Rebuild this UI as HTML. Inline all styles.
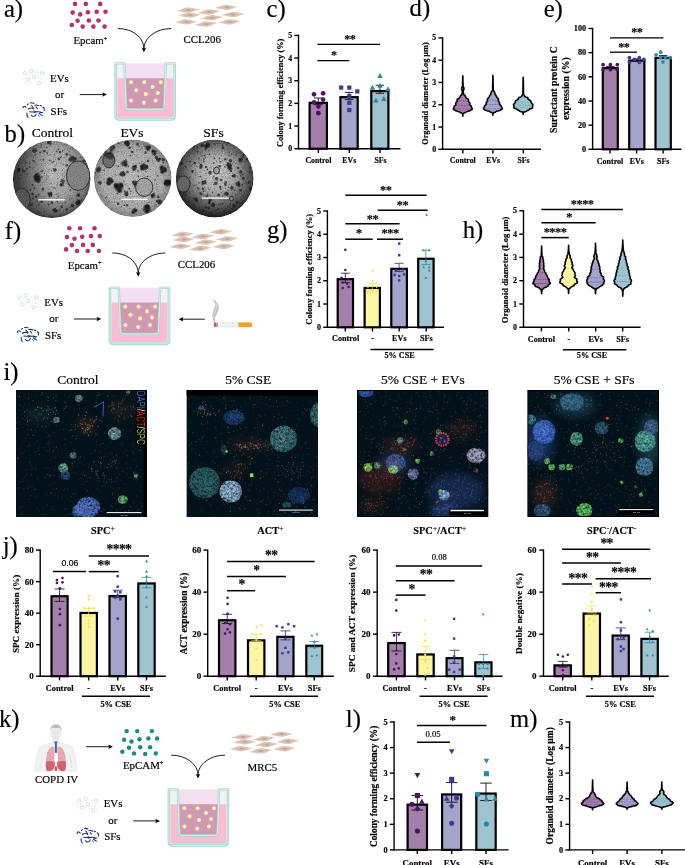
<!DOCTYPE html>
<html lang="en"><head><meta charset="utf-8"><title>Figure</title>
<style>html,body{margin:0;padding:0;background:#fff}svg{display:block}</style></head><body>
<svg width="685" height="865" viewBox="0 0 685 865">
<rect width="685" height="865" fill="#fff"/>
<text x="266.6" y="17.1" font-size="24.6" font-weight="normal" text-anchor="start" font-family='"Liberation Serif", "Times New Roman", serif' fill="#000"  stroke="#000" stroke-width="0.18">c)</text>
<line x1="298.5" y1="34.7" x2="298.5" y2="149.4" stroke="#000" stroke-width="1.4" />
<line x1="297.8" y1="148.7" x2="400.5" y2="148.7" stroke="#000" stroke-width="1.4" />
<line x1="294.3" y1="148.7" x2="298.5" y2="148.7" stroke="#000" stroke-width="1.4" />
<text x="292.1" y="151.27" font-size="7.8" font-weight="bold" text-anchor="end" font-family='"Liberation Serif", "Times New Roman", serif' fill="#000"  stroke="#000" stroke-width="0.16">0</text>
<line x1="294.3" y1="126.04" x2="298.5" y2="126.04" stroke="#000" stroke-width="1.4" />
<text x="292.1" y="128.61" font-size="7.8" font-weight="bold" text-anchor="end" font-family='"Liberation Serif", "Times New Roman", serif' fill="#000"  stroke="#000" stroke-width="0.16">1</text>
<line x1="294.3" y1="103.38" x2="298.5" y2="103.38" stroke="#000" stroke-width="1.4" />
<text x="292.1" y="105.95" font-size="7.8" font-weight="bold" text-anchor="end" font-family='"Liberation Serif", "Times New Roman", serif' fill="#000"  stroke="#000" stroke-width="0.16">2</text>
<line x1="294.3" y1="80.72" x2="298.5" y2="80.72" stroke="#000" stroke-width="1.4" />
<text x="292.1" y="83.29" font-size="7.8" font-weight="bold" text-anchor="end" font-family='"Liberation Serif", "Times New Roman", serif' fill="#000"  stroke="#000" stroke-width="0.16">3</text>
<line x1="294.3" y1="58.06" x2="298.5" y2="58.06" stroke="#000" stroke-width="1.4" />
<text x="292.1" y="60.63" font-size="7.8" font-weight="bold" text-anchor="end" font-family='"Liberation Serif", "Times New Roman", serif' fill="#000"  stroke="#000" stroke-width="0.16">4</text>
<line x1="294.3" y1="35.4" x2="298.5" y2="35.4" stroke="#000" stroke-width="1.4" />
<text x="292.1" y="37.97" font-size="7.8" font-weight="bold" text-anchor="end" font-family='"Liberation Serif", "Times New Roman", serif' fill="#000"  stroke="#000" stroke-width="0.16">5</text>
<line x1="318.4" y1="148.7" x2="318.4" y2="152.9" stroke="#000" stroke-width="1.4" />
<line x1="349.3" y1="148.7" x2="349.3" y2="152.9" stroke="#000" stroke-width="1.4" />
<line x1="380" y1="148.7" x2="380" y2="152.9" stroke="#000" stroke-width="1.4" />
<rect x="309.6" y="102.85" width="17.3" height="45.85" fill="#a37fab" stroke="#000" stroke-width="2.2"/>
<line x1="318.25" y1="98" x2="318.25" y2="104.7" stroke="#000" stroke-width="0.85" />
<line x1="313.95" y1="98" x2="322.55" y2="98" stroke="#000" stroke-width="0.85" />
<line x1="313.95" y1="104.7" x2="322.55" y2="104.7" stroke="#000" stroke-width="0.85" />
<circle cx="314" cy="94.3" r="2.35" fill="#4e1266"/>
<circle cx="323.1" cy="93.3" r="2.35" fill="#4e1266"/>
<circle cx="314" cy="102.4" r="2.35" fill="#4e1266"/>
<circle cx="323.1" cy="99.6" r="2.35" fill="#4e1266"/>
<circle cx="318.4" cy="106.6" r="2.35" fill="#4e1266"/>
<circle cx="318.4" cy="113.2" r="2.35" fill="#4e1266"/>
<rect x="340.4" y="97.15" width="17.3" height="51.55" fill="#a4a3ca" stroke="#000" stroke-width="2.2"/>
<line x1="349.05" y1="92.4" x2="349.05" y2="99.4" stroke="#000" stroke-width="0.85" />
<line x1="344.75" y1="92.4" x2="353.35" y2="92.4" stroke="#000" stroke-width="0.85" />
<line x1="344.75" y1="99.4" x2="353.35" y2="99.4" stroke="#000" stroke-width="0.85" />
<rect x="339.1" y="85.5" width="4.2" height="4.2" fill="#3a3a8e"/>
<rect x="347.2" y="85.5" width="4.2" height="4.2" fill="#3a3a8e"/>
<rect x="355.2" y="89.3" width="4.2" height="4.2" fill="#3a3a8e"/>
<rect x="347.2" y="94.1" width="4.2" height="4.2" fill="#3a3a8e"/>
<rect x="347.2" y="100.7" width="4.2" height="4.2" fill="#3a3a8e"/>
<rect x="347.2" y="107.9" width="4.2" height="4.2" fill="#3a3a8e"/>
<rect x="371.3" y="91.05" width="17.1" height="57.65" fill="#9fc3cf" stroke="#000" stroke-width="2.2"/>
<line x1="379.85" y1="85.3" x2="379.85" y2="93.3" stroke="#000" stroke-width="0.85" />
<line x1="375.55" y1="85.3" x2="384.15" y2="85.3" stroke="#000" stroke-width="0.85" />
<line x1="375.55" y1="93.3" x2="384.15" y2="93.3" stroke="#000" stroke-width="0.85" />
<path d="M380 73.03L382.75 78.03L377.25 78.03Z" fill="#2f86a0"/>
<path d="M372.5 84.72L375.25 89.72L369.75 89.72Z" fill="#2f86a0"/>
<path d="M380 82.83L382.75 87.83L377.25 87.83Z" fill="#2f86a0"/>
<path d="M388 86.22L390.75 91.22L385.25 91.22Z" fill="#2f86a0"/>
<path d="M375.9 97.62L378.65 102.62L373.15 102.62Z" fill="#2f86a0"/>
<path d="M383.9 96.12L386.65 101.12L381.15 101.12Z" fill="#2f86a0"/>
<line x1="317.4" y1="44.4" x2="380" y2="44.4" stroke="#000" stroke-width="1.3" />
<text x="349.75" y="43.26" font-size="12.2" font-weight="bold" text-anchor="middle" font-family='"Liberation Serif", "Times New Roman", serif' fill="#000" letter-spacing="-0.5" stroke="#000" stroke-width="0.12">**</text>
<line x1="317.4" y1="60.7" x2="349.3" y2="60.7" stroke="#000" stroke-width="1.3" />
<text x="333.75" y="59.26" font-size="12.2" font-weight="bold" text-anchor="middle" font-family='"Liberation Serif", "Times New Roman", serif' fill="#000" letter-spacing="-0.5" stroke="#000" stroke-width="0.12">*</text>
<text x="318.4" y="162.6" font-size="7.8" font-weight="bold" text-anchor="middle" font-family='"Liberation Serif", "Times New Roman", serif' fill="#000"  stroke="#000" stroke-width="0.16">Control</text>
<text x="349.3" y="162.6" font-size="7.8" font-weight="bold" text-anchor="middle" font-family='"Liberation Serif", "Times New Roman", serif' fill="#000"  stroke="#000" stroke-width="0.16">EVs</text>
<text x="380.5" y="162.6" font-size="7.8" font-weight="bold" text-anchor="middle" font-family='"Liberation Serif", "Times New Roman", serif' fill="#000"  stroke="#000" stroke-width="0.16">SFs</text>
<text transform="translate(282.9 92.8) rotate(-90)" font-size="8.36" font-weight="bold" text-anchor="middle" font-family='"Liberation Serif", "Times New Roman", serif' fill="#000" stroke="#000" stroke-width="0.16">Colony forming efficiency (%)</text>
<text x="409.6" y="16.4" font-size="24.6" font-weight="normal" text-anchor="start" font-family='"Liberation Serif", "Times New Roman", serif' fill="#000"  stroke="#000" stroke-width="0.18">d)</text>
<line x1="442.6" y1="37.2" x2="442.6" y2="150" stroke="#000" stroke-width="1.4" />
<line x1="441.9" y1="149.3" x2="541" y2="149.3" stroke="#000" stroke-width="1.4" />
<line x1="438.4" y1="149.3" x2="442.6" y2="149.3" stroke="#000" stroke-width="1.4" />
<text x="436.2" y="151.87" font-size="7.8" font-weight="bold" text-anchor="end" font-family='"Liberation Serif", "Times New Roman", serif' fill="#000"  stroke="#000" stroke-width="0.16">0</text>
<line x1="438.4" y1="127.02" x2="442.6" y2="127.02" stroke="#000" stroke-width="1.4" />
<text x="436.2" y="129.59" font-size="7.8" font-weight="bold" text-anchor="end" font-family='"Liberation Serif", "Times New Roman", serif' fill="#000"  stroke="#000" stroke-width="0.16">1</text>
<line x1="438.4" y1="104.74" x2="442.6" y2="104.74" stroke="#000" stroke-width="1.4" />
<text x="436.2" y="107.31" font-size="7.8" font-weight="bold" text-anchor="end" font-family='"Liberation Serif", "Times New Roman", serif' fill="#000"  stroke="#000" stroke-width="0.16">2</text>
<line x1="438.4" y1="82.46" x2="442.6" y2="82.46" stroke="#000" stroke-width="1.4" />
<text x="436.2" y="85.03" font-size="7.8" font-weight="bold" text-anchor="end" font-family='"Liberation Serif", "Times New Roman", serif' fill="#000"  stroke="#000" stroke-width="0.16">3</text>
<line x1="438.4" y1="60.18" x2="442.6" y2="60.18" stroke="#000" stroke-width="1.4" />
<text x="436.2" y="62.75" font-size="7.8" font-weight="bold" text-anchor="end" font-family='"Liberation Serif", "Times New Roman", serif' fill="#000"  stroke="#000" stroke-width="0.16">4</text>
<line x1="438.4" y1="37.9" x2="442.6" y2="37.9" stroke="#000" stroke-width="1.4" />
<text x="436.2" y="40.47" font-size="7.8" font-weight="bold" text-anchor="end" font-family='"Liberation Serif", "Times New Roman", serif' fill="#000"  stroke="#000" stroke-width="0.16">5</text>
<line x1="462.8" y1="149.3" x2="462.8" y2="153.5" stroke="#000" stroke-width="1.4" />
<line x1="492.9" y1="149.3" x2="492.9" y2="153.5" stroke="#000" stroke-width="1.4" />
<line x1="523.3" y1="149.3" x2="523.3" y2="153.5" stroke="#000" stroke-width="1.4" />
<path d="M462.8 75.9L462.82 76.5L462.87 77.1L462.89 77.7L462.89 78.3L462.9 78.9L462.92 79.5L462.93 80.1L462.93 80.7L462.93 81.3L462.93 81.9L462.96 82.5L462.99 83.1L463 83.7L462.98 84.3L462.97 84.9L462.99 85.5L463.06 86.1L463.36 86.7L463.7 87.3L463.89 87.9L463.96 88.5L463.96 89.1L463.79 89.7L463.5 90.3L463.29 90.9L463.25 91.5L463.31 92.1L463.41 92.7L463.46 93.3L463.52 93.9L463.83 94.5L464.32 95.1L464.99 95.7L465.45 96.3L465.68 96.9L465.97 97.5L466.4 98.1L467.33 98.7L468.28 99.3L468.58 99.9L468.46 100.5L468.32 101.1L468.6 101.7L469.29 102.3L469.81 102.9L469.88 103.5L469.75 104.1L469.84 104.7L470.42 105.3L471.13 105.9L471.43 106.5L471.49 107.1L471.52 107.7L471.86 108.3L472.38 108.9L472.07 109.5L470.91 110.1L469.87 110.7L468.1 111.3L465.92 111.9L465.4 112.5L463.98 113.1L463.11 113.7L462.98 114.3L462.89 114.9L462.87 115.5L462.81 116.1L462.8 116.3L462.79 116.1L462.73 115.5L462.71 114.9L462.62 114.3L462.49 113.7L461.62 113.1L460.2 112.5L459.68 111.9L457.5 111.3L455.73 110.7L454.69 110.1L453.53 109.5L453.22 108.9L453.74 108.3L454.08 107.7L454.11 107.1L454.17 106.5L454.47 105.9L455.18 105.3L455.76 104.7L455.85 104.1L455.72 103.5L455.79 102.9L456.31 102.3L457 101.7L457.28 101.1L457.14 100.5L457.02 99.9L457.32 99.3L458.27 98.7L459.2 98.1L459.63 97.5L459.92 96.9L460.15 96.3L460.61 95.7L461.28 95.1L461.77 94.5L462.08 93.9L462.14 93.3L462.19 92.7L462.29 92.1L462.35 91.5L462.31 90.9L462.1 90.3L461.81 89.7L461.64 89.1L461.64 88.5L461.71 87.9L461.9 87.3L462.24 86.7L462.54 86.1L462.61 85.5L462.63 84.9L462.62 84.3L462.6 83.7L462.61 83.1L462.64 82.5L462.67 81.9L462.67 81.3L462.67 80.7L462.67 80.1L462.68 79.5L462.7 78.9L462.71 78.3L462.71 77.7L462.73 77.1L462.78 76.5Z" fill="#a37fab" stroke="#000" stroke-width="1.6" stroke-linejoin="round"/>
<line x1="457.8" y1="100.8" x2="467.8" y2="100.8" stroke="#4e1266" stroke-width="0.5" stroke-dasharray="1 0.8" opacity="0.8"/>
<line x1="455.6" y1="105.4" x2="470" y2="105.4" stroke="#4e1266" stroke-width="0.5" stroke-dasharray="1.8 0.9" opacity="0.8"/>
<line x1="454" y1="108.9" x2="471.6" y2="108.9" stroke="#4e1266" stroke-width="0.5" stroke-dasharray="1 0.8" opacity="0.8"/>
<path d="M492.9 75.3L492.92 75.9L492.96 76.5L492.99 77.1L492.99 77.7L493 78.3L493.01 78.9L493.03 79.5L493.03 80.1L493.02 80.7L493.03 81.3L493.06 81.9L493.09 82.5L493.1 83.1L493.1 83.7L493.09 84.3L493.12 84.9L493.16 85.5L493.19 86.1L493.18 86.7L493.16 87.3L493.16 87.9L493.19 88.5L493.23 89.1L493.23 89.7L493.36 90.3L493.68 90.9L494.13 91.5L494.57 92.1L494.74 92.7L494.85 93.3L494.93 93.9L495.2 94.5L495.72 95.1L496.11 95.7L496.43 96.3L496.67 96.9L497.01 97.5L497.62 98.1L498.18 98.7L498.55 99.3L498.48 99.9L498.25 100.5L498.35 101.1L498.81 101.7L499.4 102.3L499.64 102.9L499.53 103.5L499.5 104.1L499.85 104.7L500.49 105.3L501.14 105.9L501.43 106.5L501.55 107.1L501.9 107.7L502.36 108.3L502.25 108.9L501.49 109.5L500.67 110.1L498.84 110.7L496.38 111.3L495.61 111.9L494.19 112.5L493.21 113.1L493.06 113.7L492.99 114.3L492.93 114.9L492.9 115.3L492.87 114.9L492.81 114.3L492.74 113.7L492.59 113.1L491.61 112.5L490.19 111.9L489.42 111.3L486.96 110.7L485.13 110.1L484.31 109.5L483.55 108.9L483.44 108.3L483.9 107.7L484.25 107.1L484.37 106.5L484.66 105.9L485.31 105.3L485.95 104.7L486.3 104.1L486.27 103.5L486.16 102.9L486.4 102.3L486.99 101.7L487.45 101.1L487.55 100.5L487.32 99.9L487.25 99.3L487.62 98.7L488.18 98.1L488.79 97.5L489.13 96.9L489.37 96.3L489.69 95.7L490.08 95.1L490.6 94.5L490.87 93.9L490.95 93.3L491.06 92.7L491.23 92.1L491.67 91.5L492.12 90.9L492.44 90.3L492.57 89.7L492.57 89.1L492.61 88.5L492.64 87.9L492.64 87.3L492.62 86.7L492.61 86.1L492.64 85.5L492.68 84.9L492.71 84.3L492.7 83.7L492.7 83.1L492.71 82.5L492.74 81.9L492.77 81.3L492.78 80.7L492.77 80.1L492.77 79.5L492.79 78.9L492.8 78.3L492.81 77.7L492.81 77.1L492.84 76.5L492.88 75.9Z" fill="#a4a3ca" stroke="#000" stroke-width="1.6" stroke-linejoin="round"/>
<line x1="488" y1="100.2" x2="497.8" y2="100.2" stroke="#3a3a8e" stroke-width="0.5" stroke-dasharray="1 0.8" opacity="0.8"/>
<line x1="486.3" y1="104.6" x2="499.5" y2="104.6" stroke="#3a3a8e" stroke-width="0.5" stroke-dasharray="1.8 0.9" opacity="0.8"/>
<line x1="484.1" y1="108.3" x2="501.7" y2="108.3" stroke="#3a3a8e" stroke-width="0.5" stroke-dasharray="1 0.8" opacity="0.8"/>
<path d="M523.2 77.2L523.22 77.8L523.26 78.4L523.29 79L523.29 79.6L523.3 80.2L523.31 80.8L523.32 81.4L523.32 82L523.31 82.6L523.32 83.2L523.34 83.8L523.37 84.4L523.38 85L523.37 85.6L523.37 86.2L523.39 86.8L523.43 87.4L523.45 88L523.45 88.6L523.43 89.2L523.44 89.8L523.47 90.4L523.51 91L523.51 91.6L523.48 92.2L523.46 92.8L523.48 93.4L523.57 94L523.93 94.6L524.33 95.2L524.55 95.8L524.66 96.4L525.65 97L527.34 97.6L528.12 98.2L527.92 98.8L528.36 99.4L529.44 100L530.55 100.6L530.91 101.2L531 101.8L531.1 102.4L531.53 103L532.11 103.6L532.73 104.2L533.01 104.8L532.77 105.4L532.38 106L532.37 106.6L532.67 107.2L532.67 107.8L531.33 108.4L529.76 109L529.25 109.6L528.15 110.2L526.99 110.8L526.07 111.4L523.97 112L523.51 112.6L523.32 113.2L523.27 113.8L523.2 114.4L523.2 114.4L523.2 114.4L523.13 113.8L523.08 113.2L522.89 112.6L522.43 112L520.33 111.4L519.41 110.8L518.25 110.2L517.15 109.6L516.64 109L515.07 108.4L513.73 107.8L513.73 107.2L514.03 106.6L514.02 106L513.63 105.4L513.39 104.8L513.67 104.2L514.29 103.6L514.87 103L515.3 102.4L515.4 101.8L515.49 101.2L515.85 100.6L516.96 100L518.04 99.4L518.48 98.8L518.28 98.2L519.06 97.6L520.75 97L521.74 96.4L521.85 95.8L522.07 95.2L522.47 94.6L522.83 94L522.92 93.4L522.94 92.8L522.92 92.2L522.89 91.6L522.89 91L522.93 90.4L522.96 89.8L522.97 89.2L522.95 88.6L522.95 88L522.97 87.4L523.01 86.8L523.03 86.2L523.03 85.6L523.02 85L523.03 84.4L523.06 83.8L523.08 83.2L523.09 82.6L523.08 82L523.08 81.4L523.09 80.8L523.1 80.2L523.11 79.6L523.11 79L523.14 78.4L523.18 77.8Z" fill="#9fc3cf" stroke="#000" stroke-width="1.6" stroke-linejoin="round"/>
<line x1="516" y1="102.2" x2="530.4" y2="102.2" stroke="#2f86a0" stroke-width="0.5" stroke-dasharray="1 0.8" opacity="0.8"/>
<line x1="514.2" y1="105.1" x2="532.2" y2="105.1" stroke="#2f86a0" stroke-width="0.5" stroke-dasharray="1.8 0.9" opacity="0.8"/>
<line x1="514.8" y1="107.6" x2="531.6" y2="107.6" stroke="#2f86a0" stroke-width="0.5" stroke-dasharray="1 0.8" opacity="0.8"/>
<text x="462.8" y="162.6" font-size="7.8" font-weight="bold" text-anchor="middle" font-family='"Liberation Serif", "Times New Roman", serif' fill="#000"  stroke="#000" stroke-width="0.16">Control</text>
<text x="493.2" y="162.6" font-size="7.8" font-weight="bold" text-anchor="middle" font-family='"Liberation Serif", "Times New Roman", serif' fill="#000"  stroke="#000" stroke-width="0.16">EVs</text>
<text x="523.5" y="162.6" font-size="7.8" font-weight="bold" text-anchor="middle" font-family='"Liberation Serif", "Times New Roman", serif' fill="#000"  stroke="#000" stroke-width="0.16">SFs</text>
<text transform="translate(427.5 93.5) rotate(-90)" font-size="8.25" font-weight="bold" text-anchor="middle" font-family='"Liberation Serif", "Times New Roman", serif' fill="#000" stroke="#000" stroke-width="0.16">Organoid diameter (Log µm)</text>
<text x="543.7" y="17.1" font-size="24.6" font-weight="normal" text-anchor="start" font-family='"Liberation Serif", "Times New Roman", serif' fill="#000"  stroke="#000" stroke-width="0.18">e)</text>
<line x1="592.6" y1="27.8" x2="592.6" y2="150" stroke="#000" stroke-width="1.4" />
<line x1="591.9" y1="149.3" x2="681.5" y2="149.3" stroke="#000" stroke-width="1.4" />
<line x1="588.4" y1="149.3" x2="592.6" y2="149.3" stroke="#000" stroke-width="1.4" />
<text x="586.2" y="152.04" font-size="8.3" font-weight="bold" text-anchor="end" font-family='"Liberation Serif", "Times New Roman", serif' fill="#000"  stroke="#000" stroke-width="0.16">0</text>
<line x1="588.4" y1="125.14" x2="592.6" y2="125.14" stroke="#000" stroke-width="1.4" />
<text x="586.2" y="127.88" font-size="8.3" font-weight="bold" text-anchor="end" font-family='"Liberation Serif", "Times New Roman", serif' fill="#000"  stroke="#000" stroke-width="0.16">20</text>
<line x1="588.4" y1="100.98" x2="592.6" y2="100.98" stroke="#000" stroke-width="1.4" />
<text x="586.2" y="103.72" font-size="8.3" font-weight="bold" text-anchor="end" font-family='"Liberation Serif", "Times New Roman", serif' fill="#000"  stroke="#000" stroke-width="0.16">40</text>
<line x1="588.4" y1="76.82" x2="592.6" y2="76.82" stroke="#000" stroke-width="1.4" />
<text x="586.2" y="79.56" font-size="8.3" font-weight="bold" text-anchor="end" font-family='"Liberation Serif", "Times New Roman", serif' fill="#000"  stroke="#000" stroke-width="0.16">60</text>
<line x1="588.4" y1="52.66" x2="592.6" y2="52.66" stroke="#000" stroke-width="1.4" />
<text x="586.2" y="55.4" font-size="8.3" font-weight="bold" text-anchor="end" font-family='"Liberation Serif", "Times New Roman", serif' fill="#000"  stroke="#000" stroke-width="0.16">80</text>
<line x1="588.4" y1="28.5" x2="592.6" y2="28.5" stroke="#000" stroke-width="1.4" />
<text x="586.2" y="31.24" font-size="8.3" font-weight="bold" text-anchor="end" font-family='"Liberation Serif", "Times New Roman", serif' fill="#000"  stroke="#000" stroke-width="0.16">100</text>
<line x1="610" y1="149.3" x2="610" y2="153.5" stroke="#000" stroke-width="1.4" />
<line x1="636.6" y1="149.3" x2="636.6" y2="153.5" stroke="#000" stroke-width="1.4" />
<line x1="663.1" y1="149.3" x2="663.1" y2="153.5" stroke="#000" stroke-width="1.4" />
<rect x="602.8" y="68.15" width="15" height="81.15" fill="#a37fab" stroke="#000" stroke-width="2.2"/>
<line x1="610.3" y1="66.4" x2="610.3" y2="68.6" stroke="#000" stroke-width="0.85" />
<line x1="606" y1="66.4" x2="614.6" y2="66.4" stroke="#000" stroke-width="0.85" />
<line x1="606" y1="68.6" x2="614.6" y2="68.6" stroke="#000" stroke-width="0.85" />
<circle cx="603.1" cy="64.7" r="1.85" fill="#4e1266"/>
<circle cx="610.4" cy="64.7" r="1.85" fill="#4e1266"/>
<circle cx="617.3" cy="64.7" r="1.85" fill="#4e1266"/>
<circle cx="603.1" cy="69.7" r="1.85" fill="#4e1266"/>
<circle cx="610.4" cy="69.7" r="1.85" fill="#4e1266"/>
<circle cx="617.3" cy="69.7" r="1.85" fill="#4e1266"/>
<rect x="629.2" y="60.55" width="15.2" height="88.75" fill="#a4a3ca" stroke="#000" stroke-width="2.2"/>
<line x1="636.8" y1="58.8" x2="636.8" y2="61.2" stroke="#000" stroke-width="0.85" />
<line x1="632.5" y1="58.8" x2="641.1" y2="58.8" stroke="#000" stroke-width="0.85" />
<line x1="632.5" y1="61.2" x2="641.1" y2="61.2" stroke="#000" stroke-width="0.85" />
<circle cx="629.4" cy="57.5" r="1.85" fill="#3a3a8e"/>
<circle cx="639.3" cy="57.5" r="1.85" fill="#3a3a8e"/>
<circle cx="634.4" cy="59.4" r="1.85" fill="#3a3a8e"/>
<circle cx="643.9" cy="59.4" r="1.85" fill="#3a3a8e"/>
<circle cx="629.4" cy="62.3" r="1.85" fill="#3a3a8e"/>
<circle cx="639.3" cy="62.3" r="1.85" fill="#3a3a8e"/>
<rect x="655.5" y="57.95" width="15.3" height="91.35" fill="#9fc3cf" stroke="#000" stroke-width="2.2"/>
<line x1="663.15" y1="55.6" x2="663.15" y2="58.4" stroke="#000" stroke-width="0.85" />
<line x1="658.85" y1="55.6" x2="667.45" y2="55.6" stroke="#000" stroke-width="0.85" />
<line x1="658.85" y1="58.4" x2="667.45" y2="58.4" stroke="#000" stroke-width="0.85" />
<circle cx="656.1" cy="54.8" r="1.85" fill="#2f86a0"/>
<circle cx="660.7" cy="52.2" r="1.85" fill="#2f86a0"/>
<circle cx="660.7" cy="57.7" r="1.85" fill="#2f86a0"/>
<circle cx="665.6" cy="57.7" r="1.85" fill="#2f86a0"/>
<circle cx="670.3" cy="57.7" r="1.85" fill="#2f86a0"/>
<circle cx="662.9" cy="62" r="1.85" fill="#2f86a0"/>
<line x1="610" y1="37.9" x2="663.5" y2="37.9" stroke="#000" stroke-width="1.3" />
<text x="636.75" y="36.46" font-size="12.2" font-weight="bold" text-anchor="middle" font-family='"Liberation Serif", "Times New Roman", serif' fill="#000" letter-spacing="-0.5" stroke="#000" stroke-width="0.12">**</text>
<line x1="610" y1="52.2" x2="637" y2="52.2" stroke="#000" stroke-width="1.3" />
<text x="623.75" y="50.76" font-size="12.2" font-weight="bold" text-anchor="middle" font-family='"Liberation Serif", "Times New Roman", serif' fill="#000" letter-spacing="-0.5" stroke="#000" stroke-width="0.12">**</text>
<text x="610" y="164" font-size="8" font-weight="bold" text-anchor="middle" font-family='"Liberation Serif", "Times New Roman", serif' fill="#000"  stroke="#000" stroke-width="0.16">Control</text>
<text x="636.8" y="164" font-size="8" font-weight="bold" text-anchor="middle" font-family='"Liberation Serif", "Times New Roman", serif' fill="#000"  stroke="#000" stroke-width="0.16">EVs</text>
<text x="663.2" y="164" font-size="8" font-weight="bold" text-anchor="middle" font-family='"Liberation Serif", "Times New Roman", serif' fill="#000"  stroke="#000" stroke-width="0.16">SFs</text>
<text transform="translate(556.6 89.6) rotate(-90)" font-size="9.78" font-weight="bold" text-anchor="middle" font-family='"Liberation Serif", "Times New Roman", serif' fill="#000" stroke="#000" stroke-width="0.16">Surfactant protein C</text>
<text transform="translate(569.2 88.6) rotate(-90)" font-size="9.78" font-weight="bold" text-anchor="middle" font-family='"Liberation Serif", "Times New Roman", serif' fill="#000" stroke="#000" stroke-width="0.16">expression (%)</text>
<text x="267" y="238" font-size="24.6" font-weight="normal" text-anchor="start" font-family='"Liberation Serif", "Times New Roman", serif' fill="#000"  stroke="#000" stroke-width="0.18">g)</text>
<line x1="327.4" y1="210.3" x2="327.4" y2="328" stroke="#000" stroke-width="1.4" />
<line x1="326.7" y1="327.3" x2="444" y2="327.3" stroke="#000" stroke-width="1.4" />
<line x1="323.2" y1="327.3" x2="327.4" y2="327.3" stroke="#000" stroke-width="1.4" />
<text x="321" y="329.94" font-size="8" font-weight="bold" text-anchor="end" font-family='"Liberation Serif", "Times New Roman", serif' fill="#000"  stroke="#000" stroke-width="0.16">0</text>
<line x1="323.2" y1="304.04" x2="327.4" y2="304.04" stroke="#000" stroke-width="1.4" />
<text x="321" y="306.68" font-size="8" font-weight="bold" text-anchor="end" font-family='"Liberation Serif", "Times New Roman", serif' fill="#000"  stroke="#000" stroke-width="0.16">1</text>
<line x1="323.2" y1="280.78" x2="327.4" y2="280.78" stroke="#000" stroke-width="1.4" />
<text x="321" y="283.42" font-size="8" font-weight="bold" text-anchor="end" font-family='"Liberation Serif", "Times New Roman", serif' fill="#000"  stroke="#000" stroke-width="0.16">2</text>
<line x1="323.2" y1="257.52" x2="327.4" y2="257.52" stroke="#000" stroke-width="1.4" />
<text x="321" y="260.16" font-size="8" font-weight="bold" text-anchor="end" font-family='"Liberation Serif", "Times New Roman", serif' fill="#000"  stroke="#000" stroke-width="0.16">3</text>
<line x1="323.2" y1="234.26" x2="327.4" y2="234.26" stroke="#000" stroke-width="1.4" />
<text x="321" y="236.9" font-size="8" font-weight="bold" text-anchor="end" font-family='"Liberation Serif", "Times New Roman", serif' fill="#000"  stroke="#000" stroke-width="0.16">4</text>
<line x1="323.2" y1="211" x2="327.4" y2="211" stroke="#000" stroke-width="1.4" />
<text x="321" y="213.64" font-size="8" font-weight="bold" text-anchor="end" font-family='"Liberation Serif", "Times New Roman", serif' fill="#000"  stroke="#000" stroke-width="0.16">5</text>
<line x1="345.3" y1="327.3" x2="345.3" y2="331.5" stroke="#000" stroke-width="1.4" />
<line x1="372.5" y1="327.3" x2="372.5" y2="331.5" stroke="#000" stroke-width="1.4" />
<line x1="399.2" y1="327.3" x2="399.2" y2="331.5" stroke="#000" stroke-width="1.4" />
<line x1="426.3" y1="327.3" x2="426.3" y2="331.5" stroke="#000" stroke-width="1.4" />
<rect x="337.7" y="279.15" width="15.3" height="48.15" fill="#a37fab" stroke="#000" stroke-width="2.2"/>
<line x1="345.35" y1="273.2" x2="345.35" y2="282.6" stroke="#000" stroke-width="0.75" />
<line x1="340.85" y1="273.2" x2="349.85" y2="273.2" stroke="#000" stroke-width="0.75" />
<line x1="340.85" y1="282.6" x2="349.85" y2="282.6" stroke="#000" stroke-width="0.75" />
<circle cx="345.3" cy="249.7" r="1.25" fill="#4e1266"/>
<circle cx="345.3" cy="269.9" r="1.25" fill="#4e1266"/>
<circle cx="341.6" cy="277.8" r="1.25" fill="#4e1266"/>
<circle cx="348.6" cy="278.9" r="1.25" fill="#4e1266"/>
<circle cx="342.7" cy="282.6" r="1.25" fill="#4e1266"/>
<circle cx="347.1" cy="283.7" r="1.25" fill="#4e1266"/>
<circle cx="342.7" cy="288.1" r="1.25" fill="#4e1266"/>
<circle cx="348.6" cy="287" r="1.25" fill="#4e1266"/>
<rect x="364.6" y="287.95" width="15.3" height="39.35" fill="#fcf4a6" stroke="#000" stroke-width="2.2"/>
<line x1="372.25" y1="283.7" x2="372.25" y2="289.6" stroke="#f4e04a" stroke-width="0.75" />
<line x1="367.75" y1="283.7" x2="376.75" y2="283.7" stroke="#f4e04a" stroke-width="0.75" />
<line x1="367.75" y1="289.6" x2="376.75" y2="289.6" stroke="#f4e04a" stroke-width="0.75" />
<path d="M372.7 272.5L374.13 269.89L371.27 269.89Z" fill="#f4e04a"/>
<path d="M372.7 283L374.13 280.39L371.27 280.39Z" fill="#f4e04a"/>
<path d="M367.9 288.5L369.33 285.89L366.47 285.89Z" fill="#f4e04a"/>
<path d="M376.6 288.5L378.03 285.89L375.17 285.89Z" fill="#f4e04a"/>
<path d="M367.9 293.89L369.33 291.29L366.47 291.29Z" fill="#f4e04a"/>
<path d="M376.6 292.8L378.03 290.19L375.17 290.19Z" fill="#f4e04a"/>
<path d="M372.7 292.8L374.13 290.19L371.27 290.19Z" fill="#f4e04a"/>
<rect x="391.3" y="268.85" width="15.6" height="58.45" fill="#a4a3ca" stroke="#000" stroke-width="2.2"/>
<line x1="399.1" y1="263.3" x2="399.1" y2="271.6" stroke="#23235e" stroke-width="0.75" />
<line x1="394.6" y1="263.3" x2="403.6" y2="263.3" stroke="#23235e" stroke-width="0.75" />
<line x1="394.6" y1="271.6" x2="403.6" y2="271.6" stroke="#23235e" stroke-width="0.75" />
<rect x="398" y="242.4" width="2.4" height="2.4" fill="#3a3a8e"/>
<rect x="398" y="254" width="2.4" height="2.4" fill="#3a3a8e"/>
<rect x="395.1" y="269.3" width="2.4" height="2.4" fill="#3a3a8e"/>
<rect x="401.7" y="268.2" width="2.4" height="2.4" fill="#3a3a8e"/>
<rect x="393.4" y="273.7" width="2.4" height="2.4" fill="#3a3a8e"/>
<rect x="402.8" y="273.1" width="2.4" height="2.4" fill="#3a3a8e"/>
<rect x="398" y="279.2" width="2.4" height="2.4" fill="#3a3a8e"/>
<rect x="398" y="274.8" width="2.4" height="2.4" fill="#3a3a8e"/>
<rect x="418.2" y="258.75" width="15.4" height="68.55" fill="#9fc3cf" stroke="#000" stroke-width="2.2"/>
<line x1="425.9" y1="250.2" x2="425.9" y2="264.6" stroke="#2f86a0" stroke-width="0.75" />
<line x1="421.4" y1="250.2" x2="430.4" y2="250.2" stroke="#2f86a0" stroke-width="0.75" />
<line x1="421.4" y1="264.6" x2="430.4" y2="264.6" stroke="#2f86a0" stroke-width="0.75" />
<path d="M426.6 213.26L427.98 215.76L425.23 215.76Z" fill="#2f86a0"/>
<path d="M423.7 248.76L425.07 251.26L422.32 251.26Z" fill="#2f86a0"/>
<path d="M429.2 248.76L430.57 251.26L427.82 251.26Z" fill="#2f86a0"/>
<path d="M425.9 259.26L427.27 261.76L424.52 261.76Z" fill="#2f86a0"/>
<path d="M423.7 265.86L425.07 268.36L422.32 268.36Z" fill="#2f86a0"/>
<path d="M429.2 265.86L430.57 268.36L427.82 268.36Z" fill="#2f86a0"/>
<path d="M429.2 269.06L430.57 271.56L427.82 271.56Z" fill="#2f86a0"/>
<path d="M425.9 276.36L427.27 278.86L424.52 278.86Z" fill="#2f86a0"/>
<line x1="345.3" y1="195.2" x2="426.6" y2="195.2" stroke="#000" stroke-width="1.5" />
<text x="385.75" y="193.85" font-size="12.4" font-weight="bold" text-anchor="middle" font-family='"Liberation Serif", "Times New Roman", serif' fill="#000" letter-spacing="-0.5" stroke="#000" stroke-width="0.12">**</text>
<line x1="377.7" y1="210.3" x2="427.7" y2="210.3" stroke="#000" stroke-width="1.5" />
<text x="402.55" y="208.85" font-size="12.4" font-weight="bold" text-anchor="middle" font-family='"Liberation Serif", "Times New Roman", serif' fill="#000" letter-spacing="-0.5" stroke="#000" stroke-width="0.12">**</text>
<line x1="345.3" y1="223.7" x2="399.6" y2="223.7" stroke="#000" stroke-width="1.5" />
<text x="372.55" y="222.85" font-size="12.4" font-weight="bold" text-anchor="middle" font-family='"Liberation Serif", "Times New Roman", serif' fill="#000" letter-spacing="-0.5" stroke="#000" stroke-width="0.12">**</text>
<line x1="345.3" y1="239.2" x2="372.7" y2="239.2" stroke="#000" stroke-width="1.5" />
<text x="358.95" y="237.35" font-size="12.4" font-weight="bold" text-anchor="middle" font-family='"Liberation Serif", "Times New Roman", serif' fill="#000" letter-spacing="-0.5" stroke="#000" stroke-width="0.12">*</text>
<line x1="377" y1="239.2" x2="403" y2="239.2" stroke="#000" stroke-width="1.5" />
<text x="390.05" y="237.35" font-size="12.4" font-weight="bold" text-anchor="middle" font-family='"Liberation Serif", "Times New Roman", serif' fill="#000" letter-spacing="-0.5" stroke="#000" stroke-width="0.12">***</text>
<text x="345.6" y="341.3" font-size="8.2" font-weight="bold" text-anchor="middle" font-family='"Liberation Serif", "Times New Roman", serif' fill="#000"  stroke="#000" stroke-width="0.16">Control</text>
<text x="372.7" y="341.3" font-size="8.2" font-weight="bold" text-anchor="middle" font-family='"Liberation Serif", "Times New Roman", serif' fill="#000"  stroke="#000" stroke-width="0.16">-</text>
<text x="399.3" y="341.3" font-size="8.2" font-weight="bold" text-anchor="middle" font-family='"Liberation Serif", "Times New Roman", serif' fill="#000"  stroke="#000" stroke-width="0.16">EVs</text>
<text x="426.3" y="341.3" font-size="8.2" font-weight="bold" text-anchor="middle" font-family='"Liberation Serif", "Times New Roman", serif' fill="#000"  stroke="#000" stroke-width="0.16">SFs</text>
<line x1="370.5" y1="349.4" x2="433.6" y2="349.4" stroke="#000" stroke-width="1.5" />
<text x="399.6" y="357.6" font-size="8.2" font-weight="bold" text-anchor="middle" font-family='"Liberation Serif", "Times New Roman", serif' fill="#000"  stroke="#000" stroke-width="0.16">5% CSE</text>
<text transform="translate(311.6 269.3) rotate(-90)" font-size="8.56" font-weight="bold" text-anchor="middle" font-family='"Liberation Serif", "Times New Roman", serif' fill="#000" stroke="#000" stroke-width="0.16">Colony forming efficiency (%)</text>
<text x="462.7" y="238" font-size="24.6" font-weight="normal" text-anchor="start" font-family='"Liberation Serif", "Times New Roman", serif' fill="#000"  stroke="#000" stroke-width="0.18">h)</text>
<line x1="523.5" y1="210.1" x2="523.5" y2="328" stroke="#000" stroke-width="1.4" />
<line x1="522.8" y1="327.3" x2="640.6" y2="327.3" stroke="#000" stroke-width="1.4" />
<line x1="519.3" y1="327.3" x2="523.5" y2="327.3" stroke="#000" stroke-width="1.4" />
<text x="517.1" y="329.94" font-size="8" font-weight="bold" text-anchor="end" font-family='"Liberation Serif", "Times New Roman", serif' fill="#000"  stroke="#000" stroke-width="0.16">0</text>
<line x1="519.3" y1="304" x2="523.5" y2="304" stroke="#000" stroke-width="1.4" />
<text x="517.1" y="306.64" font-size="8" font-weight="bold" text-anchor="end" font-family='"Liberation Serif", "Times New Roman", serif' fill="#000"  stroke="#000" stroke-width="0.16">1</text>
<line x1="519.3" y1="280.7" x2="523.5" y2="280.7" stroke="#000" stroke-width="1.4" />
<text x="517.1" y="283.34" font-size="8" font-weight="bold" text-anchor="end" font-family='"Liberation Serif", "Times New Roman", serif' fill="#000"  stroke="#000" stroke-width="0.16">2</text>
<line x1="519.3" y1="257.4" x2="523.5" y2="257.4" stroke="#000" stroke-width="1.4" />
<text x="517.1" y="260.04" font-size="8" font-weight="bold" text-anchor="end" font-family='"Liberation Serif", "Times New Roman", serif' fill="#000"  stroke="#000" stroke-width="0.16">3</text>
<line x1="519.3" y1="234.1" x2="523.5" y2="234.1" stroke="#000" stroke-width="1.4" />
<text x="517.1" y="236.74" font-size="8" font-weight="bold" text-anchor="end" font-family='"Liberation Serif", "Times New Roman", serif' fill="#000"  stroke="#000" stroke-width="0.16">4</text>
<line x1="519.3" y1="210.8" x2="523.5" y2="210.8" stroke="#000" stroke-width="1.4" />
<text x="517.1" y="213.44" font-size="8" font-weight="bold" text-anchor="end" font-family='"Liberation Serif", "Times New Roman", serif' fill="#000"  stroke="#000" stroke-width="0.16">5</text>
<line x1="541.4" y1="327.3" x2="541.4" y2="331.5" stroke="#000" stroke-width="1.4" />
<line x1="568.8" y1="327.3" x2="568.8" y2="331.5" stroke="#000" stroke-width="1.4" />
<line x1="595.7" y1="327.3" x2="595.7" y2="331.5" stroke="#000" stroke-width="1.4" />
<line x1="622.7" y1="327.3" x2="622.7" y2="331.5" stroke="#000" stroke-width="1.4" />
<path d="M541.6 246L541.61 246.6L541.64 247.2L541.66 247.8L541.68 248.4L541.7 249L541.71 249.6L541.73 250.2L541.74 250.8L541.76 251.4L541.78 252L541.82 252.6L541.87 253.2L541.89 253.8L541.88 254.4L541.88 255L541.93 255.6L542.24 256.2L542.66 256.8L542.88 257.4L542.84 258L542.88 258.6L543.09 259.2L543.33 259.8L543.45 260.4L543.41 261L543.36 261.6L543.44 262.2L543.63 262.8L543.77 263.4L543.73 264L543.62 264.6L543.64 265.2L543.8 265.8L543.94 266.4L543.89 267L543.69 267.6L543.56 268.2L543.62 268.8L543.88 269.4L544.27 270L544.53 270.6L544.65 271.2L544.83 271.8L545.13 272.4L545.63 273L545.99 273.6L546.14 274.2L546.38 274.8L546.87 275.4L547.36 276L547.57 276.6L547.6 277.2L547.65 277.8L547.99 278.4L548.63 279L549.17 279.6L549.23 280.2L549.02 280.8L549.05 281.4L549.49 282L550.09 282.6L550.38 283.2L550.03 283.8L549.08 284.4L548.27 285L548.04 285.6L547.98 286.2L546.72 286.8L544.96 287.4L543.89 288L543.6 288.6L542.67 289.2L542.03 289.8L541.95 290.4L541.82 291L541.72 291.6L541.7 292.2L541.66 292.8L541.61 293.4L541.6 293.8L541.59 293.4L541.54 292.8L541.5 292.2L541.48 291.6L541.38 291L541.25 290.4L541.17 289.8L540.53 289.2L539.6 288.6L539.31 288L538.24 287.4L536.48 286.8L535.22 286.2L535.16 285.6L534.93 285L534.12 284.4L533.17 283.8L532.82 283.2L533.11 282.6L533.71 282L534.15 281.4L534.18 280.8L533.97 280.2L534.03 279.6L534.57 279L535.21 278.4L535.55 277.8L535.6 277.2L535.63 276.6L535.84 276L536.33 275.4L536.82 274.8L537.06 274.2L537.21 273.6L537.57 273L538.07 272.4L538.37 271.8L538.55 271.2L538.67 270.6L538.93 270L539.32 269.4L539.58 268.8L539.64 268.2L539.51 267.6L539.31 267L539.26 266.4L539.4 265.8L539.56 265.2L539.58 264.6L539.47 264L539.43 263.4L539.57 262.8L539.76 262.2L539.84 261.6L539.79 261L539.75 260.4L539.87 259.8L540.11 259.2L540.32 258.6L540.36 258L540.32 257.4L540.54 256.8L540.96 256.2L541.27 255.6L541.32 255L541.32 254.4L541.31 253.8L541.33 253.2L541.38 252.6L541.42 252L541.44 251.4L541.46 250.8L541.47 250.2L541.49 249.6L541.5 249L541.52 248.4L541.54 247.8L541.56 247.2L541.59 246.6Z" fill="#a37fab" stroke="#000" stroke-width="1.6" stroke-linejoin="round"/>
<line x1="538.2" y1="272.6" x2="545" y2="272.6" stroke="#4e1266" stroke-width="0.5" stroke-dasharray="1 0.8" opacity="0.8"/>
<line x1="534.8" y1="279.4" x2="548.4" y2="279.4" stroke="#4e1266" stroke-width="0.5" stroke-dasharray="1.8 0.9" opacity="0.8"/>
<line x1="533.8" y1="283.4" x2="549.4" y2="283.4" stroke="#4e1266" stroke-width="0.5" stroke-dasharray="4 0" opacity="0.8"/>
<path d="M568.6 245.3L568.61 245.9L568.64 246.5L568.67 247.1L568.69 247.7L568.7 248.3L568.74 248.9L568.81 249.5L568.86 250.1L568.9 250.7L568.94 251.3L569 251.9L569.06 252.5L569.17 253.1L569.29 253.7L569.45 254.3L569.69 254.9L570.02 255.5L570.24 256.1L570.23 256.7L570.12 257.3L570.24 257.9L570.61 258.5L571.08 259.1L571.37 259.7L571.4 260.3L571.41 260.9L571.64 261.5L571.97 262.1L572.21 262.7L572.17 263.3L572.02 263.9L572.12 264.5L572.55 265.1L572.92 265.7L572.78 266.3L572.26 266.9L571.87 267.5L571.93 268.1L572.47 268.7L573.11 269.3L573.44 269.9L573.61 270.5L573.86 271.1L574.25 271.7L574.77 272.3L575.01 272.9L574.95 273.5L574.91 274.1L575.1 274.7L575.34 275.3L575.29 275.9L574.86 276.5L574.44 277.1L574.66 277.7L575.53 278.3L576.49 278.9L576.98 279.5L576.89 280.1L576.66 280.7L576.85 281.3L577.27 281.9L577.45 282.5L576.87 283.1L575.57 283.7L574.48 284.3L574.21 284.9L574.16 285.5L573.06 286.1L571.58 286.7L570.81 287.3L570.44 287.9L569.5 288.5L569.03 289.1L568.95 289.7L568.83 290.3L568.73 290.9L568.7 291.5L568.68 292.1L568.64 292.7L568.6 293.3L568.6 293.5L568.6 293.3L568.56 292.7L568.52 292.1L568.5 291.5L568.47 290.9L568.37 290.3L568.25 289.7L568.17 289.1L567.7 288.5L566.76 287.9L566.39 287.3L565.62 286.7L564.14 286.1L563.04 285.5L562.99 284.9L562.72 284.3L561.63 283.7L560.33 283.1L559.75 282.5L559.93 281.9L560.35 281.3L560.54 280.7L560.31 280.1L560.22 279.5L560.71 278.9L561.67 278.3L562.54 277.7L562.76 277.1L562.34 276.5L561.91 275.9L561.86 275.3L562.1 274.7L562.29 274.1L562.25 273.5L562.19 272.9L562.43 272.3L562.95 271.7L563.34 271.1L563.59 270.5L563.76 269.9L564.09 269.3L564.73 268.7L565.27 268.1L565.33 267.5L564.94 266.9L564.42 266.3L564.28 265.7L564.65 265.1L565.08 264.5L565.18 263.9L565.03 263.3L564.99 262.7L565.23 262.1L565.56 261.5L565.79 260.9L565.8 260.3L565.83 259.7L566.12 259.1L566.59 258.5L566.96 257.9L567.08 257.3L566.97 256.7L566.96 256.1L567.18 255.5L567.51 254.9L567.75 254.3L567.91 253.7L568.03 253.1L568.14 252.5L568.2 251.9L568.26 251.3L568.3 250.7L568.34 250.1L568.39 249.5L568.46 248.9L568.5 248.3L568.51 247.7L568.53 247.1L568.56 246.5L568.59 245.9Z" fill="#fcf4a6" stroke="#000" stroke-width="1.6" stroke-linejoin="round"/>
<line x1="565.2" y1="268.5" x2="572" y2="268.5" stroke="#f4e04a" stroke-width="0.5" stroke-dasharray="1 0.8" opacity="0.8"/>
<line x1="562.4" y1="275.3" x2="574.8" y2="275.3" stroke="#f4e04a" stroke-width="0.5" stroke-dasharray="1.8 0.9" opacity="0.8"/>
<line x1="560.8" y1="281" x2="576.4" y2="281" stroke="#f4e04a" stroke-width="0.5" stroke-dasharray="1 0.8" opacity="0.8"/>
<path d="M595.5 243.2L595.51 243.8L595.54 244.4L595.57 245L595.59 245.6L595.6 246.2L595.62 246.8L595.64 247.4L595.66 248L595.68 248.6L595.72 249.2L595.77 249.8L595.83 250.4L595.86 251L595.86 251.6L595.86 252.2L595.88 252.8L596 253.4L596.28 254L596.58 254.6L596.79 255.2L596.96 255.8L597.09 256.4L597.11 257L596.97 257.6L596.79 258.2L596.73 258.8L596.95 259.4L597.38 260L597.82 260.6L598.06 261.2L598.11 261.8L598.2 262.4L598.45 263L598.82 263.6L599.02 264.2L599 264.8L599.01 265.4L599.29 266L599.66 266.6L599.84 267.2L599.71 267.8L599.5 268.4L599.57 269L599.94 269.6L600.26 270.2L600.24 270.8L600.06 271.4L600.05 272L600.43 272.6L600.99 273.2L601.31 273.8L601.18 274.4L601.02 275L601.45 275.6L602.35 276.2L603.25 276.8L603.63 277.4L603.42 278L603.29 278.6L603.56 279.2L604.06 279.8L604.37 280.4L604.3 281L604.07 281.6L603.96 282.2L603.93 282.8L603.77 283.4L603.3 284L602.68 284.6L602.32 285.2L601.5 285.8L600.37 286.4L599.26 287L598.68 287.6L597.51 288.2L596.32 288.8L595.9 289.4L595.85 290L595.72 290.6L595.61 291.2L595.59 291.8L595.56 292.4L595.53 293L595.5 293.6L595.5 293.8L595.5 293.6L595.47 293L595.44 292.4L595.41 291.8L595.39 291.2L595.28 290.6L595.15 290L595.1 289.4L594.68 288.8L593.49 288.2L592.32 287.6L591.74 287L590.63 286.4L589.5 285.8L588.68 285.2L588.32 284.6L587.7 284L587.23 283.4L587.07 282.8L587.04 282.2L586.93 281.6L586.7 281L586.63 280.4L586.94 279.8L587.44 279.2L587.71 278.6L587.58 278L587.37 277.4L587.75 276.8L588.65 276.2L589.55 275.6L589.98 275L589.82 274.4L589.69 273.8L590.01 273.2L590.57 272.6L590.95 272L590.94 271.4L590.76 270.8L590.74 270.2L591.06 269.6L591.43 269L591.5 268.4L591.29 267.8L591.16 267.2L591.34 266.6L591.71 266L591.99 265.4L592 264.8L591.98 264.2L592.18 263.6L592.55 263L592.8 262.4L592.89 261.8L592.94 261.2L593.18 260.6L593.62 260L594.05 259.4L594.27 258.8L594.21 258.2L594.03 257.6L593.89 257L593.91 256.4L594.04 255.8L594.21 255.2L594.42 254.6L594.72 254L595 253.4L595.12 252.8L595.14 252.2L595.14 251.6L595.14 251L595.17 250.4L595.23 249.8L595.28 249.2L595.32 248.6L595.34 248L595.36 247.4L595.38 246.8L595.4 246.2L595.41 245.6L595.43 245L595.46 244.4L595.49 243.8Z" fill="#a4a3ca" stroke="#000" stroke-width="1.6" stroke-linejoin="round"/>
<line x1="591.4" y1="269.7" x2="599.6" y2="269.7" stroke="#3a3a8e" stroke-width="0.5" stroke-dasharray="1 0.8" opacity="0.8"/>
<line x1="588.2" y1="277.8" x2="602.8" y2="277.8" stroke="#3a3a8e" stroke-width="0.5" stroke-dasharray="1.8 0.9" opacity="0.8"/>
<line x1="587.4" y1="282.2" x2="603.6" y2="282.2" stroke="#3a3a8e" stroke-width="0.5" stroke-dasharray="4 0" opacity="0.8"/>
<path d="M622.75 240L622.76 240.6L622.79 241.2L622.81 241.8L622.83 242.4L622.85 243L622.86 243.6L622.89 244.2L622.92 244.8L622.95 245.4L622.99 246L623.05 246.6L623.12 247.2L623.15 247.8L623.14 248.4L623.13 249L623.22 249.6L623.41 250.2L623.65 250.8L623.83 251.4L623.95 252L624.1 252.6L624.32 253.2L624.46 253.8L624.52 254.4L624.55 255L624.65 255.6L624.95 256.2L625.38 256.8L625.68 257.4L625.67 258L625.49 258.6L625.51 259.2L625.85 259.8L626.25 260.4L626.43 261L626.36 261.6L626.32 262.2L626.56 262.8L626.91 263.4L627.12 264L627.07 264.6L626.97 265.2L627.17 265.8L627.68 266.4L628.15 267L628.24 267.6L627.97 268.2L627.82 268.8L628.09 269.4L628.59 270L628.93 270.6L628.92 271.2L628.78 271.8L628.84 272.4L629.15 273L629.48 273.6L629.57 274.2L629.42 274.8L629.38 275.4L629.67 276L630.09 276.6L630.26 277.2L630.17 277.8L630.09 278.4L630.33 279L630.88 279.6L631.39 280.2L631.47 280.8L631.14 281.4L630.8 282L630.79 282.6L631.02 283.2L630.96 283.8L629.99 284.4L628.77 285L628.13 285.6L628.08 286.2L627.23 286.8L625.77 287.4L624.68 288L624.29 288.6L623.59 289.2L623.17 289.8L623.15 290.4L623.06 291L622.96 291.6L622.89 292.2L622.85 292.8L622.85 293.4L622.83 294L622.8 294.6L622.77 295.2L622.75 295.8L622.75 296.2L622.75 295.8L622.73 295.2L622.7 294.6L622.67 294L622.65 293.4L622.65 292.8L622.61 292.2L622.54 291.6L622.44 291L622.35 290.4L622.33 289.8L621.91 289.2L621.21 288.6L620.82 288L619.73 287.4L618.27 286.8L617.42 286.2L617.37 285.6L616.73 285L615.51 284.4L614.54 283.8L614.48 283.2L614.71 282.6L614.7 282L614.36 281.4L614.03 280.8L614.11 280.2L614.62 279.6L615.17 279L615.41 278.4L615.33 277.8L615.24 277.2L615.41 276.6L615.83 276L616.12 275.4L616.08 274.8L615.93 274.2L616.02 273.6L616.35 273L616.66 272.4L616.72 271.8L616.58 271.2L616.57 270.6L616.91 270L617.41 269.4L617.68 268.8L617.53 268.2L617.26 267.6L617.35 267L617.82 266.4L618.33 265.8L618.53 265.2L618.43 264.6L618.38 264L618.59 263.4L618.94 262.8L619.18 262.2L619.14 261.6L619.07 261L619.25 260.4L619.65 259.8L619.99 259.2L620.01 258.6L619.83 258L619.82 257.4L620.12 256.8L620.55 256.2L620.85 255.6L620.95 255L620.98 254.4L621.04 253.8L621.18 253.2L621.4 252.6L621.55 252L621.67 251.4L621.85 250.8L622.09 250.2L622.28 249.6L622.37 249L622.36 248.4L622.35 247.8L622.38 247.2L622.45 246.6L622.51 246L622.55 245.4L622.58 244.8L622.61 244.2L622.64 243.6L622.65 243L622.67 242.4L622.69 241.8L622.71 241.2L622.74 240.6Z" fill="#9fc3cf" stroke="#000" stroke-width="1.6" stroke-linejoin="round"/>
<line x1="617.85" y1="268.1" x2="627.65" y2="268.1" stroke="#2f86a0" stroke-width="0.5" stroke-dasharray="1 0.8" opacity="0.8"/>
<line x1="616.35" y1="275.3" x2="629.15" y2="275.3" stroke="#2f86a0" stroke-width="0.5" stroke-dasharray="1.8 0.9" opacity="0.8"/>
<line x1="614.95" y1="281.4" x2="630.55" y2="281.4" stroke="#2f86a0" stroke-width="0.5" stroke-dasharray="4 0" opacity="0.8"/>
<line x1="541.4" y1="209.5" x2="622.9" y2="209.5" stroke="#000" stroke-width="1.5" />
<text x="582.15" y="207.85" font-size="12.4" font-weight="bold" text-anchor="middle" font-family='"Liberation Serif", "Times New Roman", serif' fill="#000" letter-spacing="-0.5" stroke="#000" stroke-width="0.12">****</text>
<line x1="541.4" y1="222.7" x2="595.7" y2="222.7" stroke="#000" stroke-width="1.5" />
<text x="569.05" y="220.85" font-size="12.4" font-weight="bold" text-anchor="middle" font-family='"Liberation Serif", "Times New Roman", serif' fill="#000" letter-spacing="-0.5" stroke="#000" stroke-width="0.12">*</text>
<line x1="541.4" y1="237.6" x2="568.8" y2="237.6" stroke="#000" stroke-width="1.5" />
<text x="555.05" y="236.15" font-size="12.4" font-weight="bold" text-anchor="middle" font-family='"Liberation Serif", "Times New Roman", serif' fill="#000" letter-spacing="-0.5" stroke="#000" stroke-width="0.12">****</text>
<text x="541.4" y="341.5" font-size="8.2" font-weight="bold" text-anchor="middle" font-family='"Liberation Serif", "Times New Roman", serif' fill="#000"  stroke="#000" stroke-width="0.16">Control</text>
<text x="568.8" y="341.5" font-size="8.2" font-weight="bold" text-anchor="middle" font-family='"Liberation Serif", "Times New Roman", serif' fill="#000"  stroke="#000" stroke-width="0.16">-</text>
<text x="595.7" y="341.5" font-size="8.2" font-weight="bold" text-anchor="middle" font-family='"Liberation Serif", "Times New Roman", serif' fill="#000"  stroke="#000" stroke-width="0.16">EVs</text>
<text x="622.7" y="341.5" font-size="8.2" font-weight="bold" text-anchor="middle" font-family='"Liberation Serif", "Times New Roman", serif' fill="#000"  stroke="#000" stroke-width="0.16">SFs</text>
<line x1="562.9" y1="349.7" x2="626.4" y2="349.7" stroke="#000" stroke-width="1.5" />
<text x="592" y="357.6" font-size="8.2" font-weight="bold" text-anchor="middle" font-family='"Liberation Serif", "Times New Roman", serif' fill="#000"  stroke="#000" stroke-width="0.16">5% CSE</text>
<text transform="translate(508.1 269.9) rotate(-90)" font-size="8.6" font-weight="bold" text-anchor="middle" font-family='"Liberation Serif", "Times New Roman", serif' fill="#000" stroke="#000" stroke-width="0.16">Organoid diameter (Log µm)</text>
<text x="2.7" y="553.8" font-size="24.6" font-weight="normal" text-anchor="start" font-family='"Liberation Serif", "Times New Roman", serif' fill="#000"  stroke="#000" stroke-width="0.18">j)</text>
<line x1="40.2" y1="549.4" x2="40.2" y2="676.9" stroke="#000" stroke-width="1.4" />
<line x1="39.5" y1="676.2" x2="165.8" y2="676.2" stroke="#000" stroke-width="1.4" />
<line x1="36" y1="676.2" x2="40.2" y2="676.2" stroke="#000" stroke-width="1.4" />
<text x="33.8" y="679.17" font-size="9" font-weight="bold" text-anchor="end" font-family='"Liberation Serif", "Times New Roman", serif' fill="#000"  stroke="#000" stroke-width="0.16">0</text>
<line x1="36" y1="644.68" x2="40.2" y2="644.68" stroke="#000" stroke-width="1.4" />
<text x="33.8" y="647.65" font-size="9" font-weight="bold" text-anchor="end" font-family='"Liberation Serif", "Times New Roman", serif' fill="#000"  stroke="#000" stroke-width="0.16">20</text>
<line x1="36" y1="613.15" x2="40.2" y2="613.15" stroke="#000" stroke-width="1.4" />
<text x="33.8" y="616.12" font-size="9" font-weight="bold" text-anchor="end" font-family='"Liberation Serif", "Times New Roman", serif' fill="#000"  stroke="#000" stroke-width="0.16">40</text>
<line x1="36" y1="581.62" x2="40.2" y2="581.62" stroke="#000" stroke-width="1.4" />
<text x="33.8" y="584.6" font-size="9" font-weight="bold" text-anchor="end" font-family='"Liberation Serif", "Times New Roman", serif' fill="#000"  stroke="#000" stroke-width="0.16">60</text>
<line x1="36" y1="550.1" x2="40.2" y2="550.1" stroke="#000" stroke-width="1.4" />
<text x="33.8" y="553.07" font-size="9" font-weight="bold" text-anchor="end" font-family='"Liberation Serif", "Times New Roman", serif' fill="#000"  stroke="#000" stroke-width="0.16">80</text>
<line x1="59.5" y1="676.2" x2="59.5" y2="680.4" stroke="#000" stroke-width="1.4" />
<line x1="88.7" y1="676.2" x2="88.7" y2="680.4" stroke="#000" stroke-width="1.4" />
<line x1="117.7" y1="676.2" x2="117.7" y2="680.4" stroke="#000" stroke-width="1.4" />
<line x1="146.5" y1="676.2" x2="146.5" y2="680.4" stroke="#000" stroke-width="1.4" />
<rect x="51.5" y="596.25" width="16.1" height="79.95" fill="#a37fab" stroke="#000" stroke-width="2.2"/>
<line x1="59.55" y1="589" x2="59.55" y2="601.4" stroke="#000" stroke-width="0.75" />
<line x1="54.55" y1="589" x2="64.55" y2="589" stroke="#000" stroke-width="0.75" />
<line x1="54.55" y1="601.4" x2="64.55" y2="601.4" stroke="#000" stroke-width="0.75" />
<circle cx="56.9" cy="580" r="1.35" fill="#4e1266"/>
<circle cx="62.5" cy="578" r="1.35" fill="#4e1266"/>
<circle cx="56.9" cy="582.9" r="1.35" fill="#4e1266"/>
<circle cx="62.5" cy="582.3" r="1.35" fill="#4e1266"/>
<circle cx="59.9" cy="588.4" r="1.35" fill="#4e1266"/>
<circle cx="59.9" cy="609" r="1.35" fill="#4e1266"/>
<circle cx="59.9" cy="614.2" r="1.35" fill="#4e1266"/>
<circle cx="59.9" cy="625.2" r="1.35" fill="#4e1266"/>
<rect x="80.5" y="612.95" width="16.4" height="63.25" fill="#fcf4a6" stroke="#000" stroke-width="2.2"/>
<line x1="88.7" y1="608.4" x2="88.7" y2="616" stroke="#f4e04a" stroke-width="0.75" />
<line x1="83.7" y1="608.4" x2="93.7" y2="608.4" stroke="#f4e04a" stroke-width="0.75" />
<line x1="83.7" y1="616" x2="93.7" y2="616" stroke="#f4e04a" stroke-width="0.75" />
<path d="M88.8 597.29L90.23 594.69L87.37 594.69Z" fill="#f4e04a"/>
<path d="M88.8 601.2L90.23 598.6L87.37 598.6Z" fill="#f4e04a"/>
<path d="M83.9 609.6L85.33 607L82.47 607Z" fill="#f4e04a"/>
<path d="M88.8 609.89L90.23 607.29L87.37 607.29Z" fill="#f4e04a"/>
<path d="M93.7 609.89L95.13 607.29L92.27 607.29Z" fill="#f4e04a"/>
<path d="M88.8 622.2L90.23 619.6L87.37 619.6Z" fill="#f4e04a"/>
<path d="M88.8 625.7L90.23 623.1L87.37 623.1Z" fill="#f4e04a"/>
<path d="M88.8 628.7L90.23 626.1L87.37 626.1Z" fill="#f4e04a"/>
<rect x="109.5" y="596.05" width="16.4" height="80.15" fill="#a4a3ca" stroke="#000" stroke-width="2.2"/>
<line x1="117.7" y1="590.2" x2="117.7" y2="597.6" stroke="#23235e" stroke-width="0.75" />
<line x1="112.7" y1="590.2" x2="122.7" y2="590.2" stroke="#23235e" stroke-width="0.75" />
<line x1="112.7" y1="597.6" x2="122.7" y2="597.6" stroke="#23235e" stroke-width="0.75" />
<rect x="116.45" y="574.95" width="2.5" height="2.5" fill="#3a3a8e"/>
<rect x="116.45" y="585.45" width="2.5" height="2.5" fill="#3a3a8e"/>
<rect x="113.85" y="590.15" width="2.5" height="2.5" fill="#3a3a8e"/>
<rect x="119.05" y="591.05" width="2.5" height="2.5" fill="#3a3a8e"/>
<rect x="116.45" y="594.55" width="2.5" height="2.5" fill="#3a3a8e"/>
<rect x="113.85" y="596.35" width="2.5" height="2.5" fill="#3a3a8e"/>
<rect x="119.05" y="598.05" width="2.5" height="2.5" fill="#3a3a8e"/>
<rect x="116.45" y="617.35" width="2.5" height="2.5" fill="#3a3a8e"/>
<rect x="138.3" y="583.45" width="16.4" height="92.75" fill="#9fc3cf" stroke="#000" stroke-width="2.2"/>
<line x1="146.5" y1="577.4" x2="146.5" y2="587.9" stroke="#2f86a0" stroke-width="0.75" />
<line x1="141.5" y1="577.4" x2="151.5" y2="577.4" stroke="#2f86a0" stroke-width="0.75" />
<line x1="141.5" y1="587.9" x2="151.5" y2="587.9" stroke="#2f86a0" stroke-width="0.75" />
<path d="M146.6 559.61L148.03 562.21L145.17 562.21Z" fill="#2f86a0"/>
<path d="M146.6 570.11L148.03 572.71L145.17 572.71Z" fill="#2f86a0"/>
<path d="M146.6 574.71L148.03 577.31L145.17 577.31Z" fill="#2f86a0"/>
<path d="M146.6 579.9L148.03 582.5L145.17 582.5Z" fill="#2f86a0"/>
<path d="M146.6 585.5L148.03 588.11L145.17 588.11Z" fill="#2f86a0"/>
<path d="M146.6 595.71L148.03 598.31L145.17 598.31Z" fill="#2f86a0"/>
<path d="M146.6 605.21L148.03 607.81L145.17 607.81Z" fill="#2f86a0"/>
<line x1="88.8" y1="556" x2="148.9" y2="556" stroke="#000" stroke-width="1.5" />
<text x="118.9" y="554.42" font-size="13.6" font-weight="bold" text-anchor="middle" font-family='"Liberation Serif", "Times New Roman", serif' fill="#000" letter-spacing="-0.6" stroke="#000" stroke-width="0.12">****</text>
<line x1="52.9" y1="571.6" x2="86.1" y2="571.6" stroke="#000" stroke-width="1.5" />
<text x="70" y="566" font-size="8.7" font-weight="normal" text-anchor="middle" font-family='"Liberation Sans", Arial, sans-serif' fill="#000"  stroke="#000" stroke-width="0.18">0.06</text>
<line x1="88.8" y1="571.6" x2="118.6" y2="571.6" stroke="#000" stroke-width="1.5" />
<text x="103.8" y="570.02" font-size="13.6" font-weight="bold" text-anchor="middle" font-family='"Liberation Serif", "Times New Roman", serif' fill="#000" letter-spacing="-0.6" stroke="#000" stroke-width="0.12">**</text>
<text x="103" y="533.8" font-size="10.3" font-weight="bold" text-anchor="middle" font-family='"Liberation Serif", "Times New Roman", serif' fill="#000"  stroke="#000" stroke-width="0.16">SPC<tspan dy="-3.1" font-size="8.1" font-weight="normal" stroke-width="0.1">+</tspan></text>
<text x="59.6" y="691.2" font-size="8.4" font-weight="bold" text-anchor="middle" font-family='"Liberation Serif", "Times New Roman", serif' fill="#000"  stroke="#000" stroke-width="0.16">Control</text>
<text x="88.7" y="691.2" font-size="8.4" font-weight="bold" text-anchor="middle" font-family='"Liberation Serif", "Times New Roman", serif' fill="#000"  stroke="#000" stroke-width="0.16">-</text>
<text x="117.7" y="691.2" font-size="8.4" font-weight="bold" text-anchor="middle" font-family='"Liberation Serif", "Times New Roman", serif' fill="#000"  stroke="#000" stroke-width="0.16">EVs</text>
<text x="146.5" y="691.2" font-size="8.4" font-weight="bold" text-anchor="middle" font-family='"Liberation Serif", "Times New Roman", serif' fill="#000"  stroke="#000" stroke-width="0.16">SFs</text>
<line x1="81.9" y1="696.2" x2="150" y2="696.2" stroke="#000" stroke-width="1.5" />
<text x="115.9" y="706.7" font-size="8.4" font-weight="bold" text-anchor="middle" font-family='"Liberation Serif", "Times New Roman", serif' fill="#000"  stroke="#000" stroke-width="0.16">5% CSE</text>
<text transform="translate(19 613.9) rotate(-90)" font-size="9.2" font-weight="bold" text-anchor="middle" font-family='"Liberation Serif", "Times New Roman", serif' fill="#000" stroke="#000" stroke-width="0.16">SPC expression (%)</text>
<line x1="207.7" y1="549.4" x2="207.7" y2="676.9" stroke="#000" stroke-width="1.4" />
<line x1="207" y1="676.2" x2="333.8" y2="676.2" stroke="#000" stroke-width="1.4" />
<line x1="203.5" y1="676.2" x2="207.7" y2="676.2" stroke="#000" stroke-width="1.4" />
<text x="201.3" y="679.17" font-size="9" font-weight="bold" text-anchor="end" font-family='"Liberation Serif", "Times New Roman", serif' fill="#000"  stroke="#000" stroke-width="0.16">0</text>
<line x1="203.5" y1="634.17" x2="207.7" y2="634.17" stroke="#000" stroke-width="1.4" />
<text x="201.3" y="637.14" font-size="9" font-weight="bold" text-anchor="end" font-family='"Liberation Serif", "Times New Roman", serif' fill="#000"  stroke="#000" stroke-width="0.16">20</text>
<line x1="203.5" y1="592.13" x2="207.7" y2="592.13" stroke="#000" stroke-width="1.4" />
<text x="201.3" y="595.1" font-size="9" font-weight="bold" text-anchor="end" font-family='"Liberation Serif", "Times New Roman", serif' fill="#000"  stroke="#000" stroke-width="0.16">40</text>
<line x1="203.5" y1="550.1" x2="207.7" y2="550.1" stroke="#000" stroke-width="1.4" />
<text x="201.3" y="553.07" font-size="9" font-weight="bold" text-anchor="end" font-family='"Liberation Serif", "Times New Roman", serif' fill="#000"  stroke="#000" stroke-width="0.16">60</text>
<line x1="227.2" y1="676.2" x2="227.2" y2="680.4" stroke="#000" stroke-width="1.4" />
<line x1="256.2" y1="676.2" x2="256.2" y2="680.4" stroke="#000" stroke-width="1.4" />
<line x1="285.4" y1="676.2" x2="285.4" y2="680.4" stroke="#000" stroke-width="1.4" />
<line x1="314.3" y1="676.2" x2="314.3" y2="680.4" stroke="#000" stroke-width="1.4" />
<rect x="219" y="620.25" width="16.4" height="55.95" fill="#a37fab" stroke="#000" stroke-width="2.2"/>
<line x1="227.2" y1="614.3" x2="227.2" y2="623.5" stroke="#000" stroke-width="0.75" />
<line x1="222.2" y1="614.3" x2="232.2" y2="614.3" stroke="#000" stroke-width="0.75" />
<line x1="222.2" y1="623.5" x2="232.2" y2="623.5" stroke="#000" stroke-width="0.75" />
<circle cx="227.6" cy="597.7" r="1.3" fill="#4e1266"/>
<circle cx="227.6" cy="603.9" r="1.3" fill="#4e1266"/>
<circle cx="227.6" cy="613.8" r="1.3" fill="#4e1266"/>
<circle cx="225.1" cy="623" r="1.3" fill="#4e1266"/>
<circle cx="230" cy="624.2" r="1.3" fill="#4e1266"/>
<circle cx="227.6" cy="629.2" r="1.3" fill="#4e1266"/>
<circle cx="225.1" cy="633.6" r="1.3" fill="#4e1266"/>
<circle cx="230" cy="632.2" r="1.3" fill="#4e1266"/>
<rect x="248" y="640.35" width="16.4" height="35.85" fill="#fcf4a6" stroke="#000" stroke-width="2.2"/>
<line x1="256.2" y1="634.1" x2="256.2" y2="640.8" stroke="#f4e04a" stroke-width="0.75" />
<line x1="251.2" y1="634.1" x2="261.2" y2="634.1" stroke="#f4e04a" stroke-width="0.75" />
<line x1="251.2" y1="640.8" x2="261.2" y2="640.8" stroke="#f4e04a" stroke-width="0.75" />
<path d="M261.3 627L262.73 624.39L259.87 624.39Z" fill="#f4e04a"/>
<path d="M256.4 628.89L257.83 626.29L254.97 626.29Z" fill="#f4e04a"/>
<path d="M251.9 636.1L253.33 633.5L250.47 633.5Z" fill="#f4e04a"/>
<path d="M261.3 636.1L262.73 633.5L259.87 633.5Z" fill="#f4e04a"/>
<path d="M256.4 641.79L257.83 639.19L254.97 639.19Z" fill="#f4e04a"/>
<path d="M256.4 650.5L257.83 647.89L254.97 647.89Z" fill="#f4e04a"/>
<path d="M256.4 661.7L257.83 659.1L254.97 659.1Z" fill="#f4e04a"/>
<rect x="277.3" y="636.85" width="16.2" height="39.35" fill="#a4a3ca" stroke="#000" stroke-width="2.2"/>
<line x1="285.4" y1="630.9" x2="285.4" y2="639.9" stroke="#23235e" stroke-width="0.75" />
<line x1="280.4" y1="630.9" x2="290.4" y2="630.9" stroke="#23235e" stroke-width="0.75" />
<line x1="280.4" y1="639.9" x2="290.4" y2="639.9" stroke="#23235e" stroke-width="0.75" />
<rect x="275.5" y="625" width="2.4" height="2.4" fill="#3a3a8e"/>
<rect x="281.2" y="626.2" width="2.4" height="2.4" fill="#3a3a8e"/>
<rect x="287.2" y="623" width="2.4" height="2.4" fill="#3a3a8e"/>
<rect x="292.9" y="625" width="2.4" height="2.4" fill="#3a3a8e"/>
<rect x="284.2" y="637.4" width="2.4" height="2.4" fill="#3a3a8e"/>
<rect x="284.2" y="646.6" width="2.4" height="2.4" fill="#3a3a8e"/>
<rect x="281.2" y="652.1" width="2.4" height="2.4" fill="#3a3a8e"/>
<rect x="287.2" y="651.1" width="2.4" height="2.4" fill="#3a3a8e"/>
<rect x="306.3" y="645.75" width="15.9" height="30.45" fill="#9fc3cf" stroke="#000" stroke-width="2.2"/>
<line x1="314.25" y1="641.6" x2="314.25" y2="647.3" stroke="#2f86a0" stroke-width="0.75" />
<line x1="309.25" y1="641.6" x2="319.25" y2="641.6" stroke="#2f86a0" stroke-width="0.75" />
<line x1="309.25" y1="647.3" x2="319.25" y2="647.3" stroke="#2f86a0" stroke-width="0.75" />
<path d="M311.9 633.96L313.27 636.46L310.52 636.46Z" fill="#2f86a0"/>
<path d="M316.9 632.66L318.27 635.16L315.52 635.16Z" fill="#2f86a0"/>
<path d="M314.4 640.16L315.77 642.66L313.02 642.66Z" fill="#2f86a0"/>
<path d="M314.4 646.36L315.77 648.86L313.02 648.86Z" fill="#2f86a0"/>
<path d="M311.9 654.56L313.27 657.06L310.52 657.06Z" fill="#2f86a0"/>
<path d="M316.9 653.76L318.27 656.26L315.52 656.26Z" fill="#2f86a0"/>
<line x1="227.1" y1="561.4" x2="314.7" y2="561.4" stroke="#000" stroke-width="1.5" />
<text x="271.3" y="560.12" font-size="13.6" font-weight="bold" text-anchor="middle" font-family='"Liberation Serif", "Times New Roman", serif' fill="#000" letter-spacing="-0.6" stroke="#000" stroke-width="0.12">**</text>
<line x1="227.1" y1="576.6" x2="285.9" y2="576.6" stroke="#000" stroke-width="1.5" />
<text x="256.4" y="575.02" font-size="13.6" font-weight="bold" text-anchor="middle" font-family='"Liberation Serif", "Times New Roman", serif' fill="#000" letter-spacing="-0.6" stroke="#000" stroke-width="0.12">*</text>
<line x1="227.1" y1="590.7" x2="255.1" y2="590.7" stroke="#000" stroke-width="1.5" />
<text x="241.5" y="588.82" font-size="13.6" font-weight="bold" text-anchor="middle" font-family='"Liberation Serif", "Times New Roman", serif' fill="#000" letter-spacing="-0.6" stroke="#000" stroke-width="0.12">*</text>
<text x="270.5" y="533.8" font-size="10.3" font-weight="bold" text-anchor="middle" font-family='"Liberation Serif", "Times New Roman", serif' fill="#000"  stroke="#000" stroke-width="0.16">ACT<tspan dy="-3.1" font-size="8.1" font-weight="normal" stroke-width="0.1">+</tspan></text>
<text x="227.2" y="691.2" font-size="8.4" font-weight="bold" text-anchor="middle" font-family='"Liberation Serif", "Times New Roman", serif' fill="#000"  stroke="#000" stroke-width="0.16">Control</text>
<text x="256.2" y="691.2" font-size="8.4" font-weight="bold" text-anchor="middle" font-family='"Liberation Serif", "Times New Roman", serif' fill="#000"  stroke="#000" stroke-width="0.16">-</text>
<text x="285.4" y="691.2" font-size="8.4" font-weight="bold" text-anchor="middle" font-family='"Liberation Serif", "Times New Roman", serif' fill="#000"  stroke="#000" stroke-width="0.16">EVs</text>
<text x="314.3" y="691.2" font-size="8.4" font-weight="bold" text-anchor="middle" font-family='"Liberation Serif", "Times New Roman", serif' fill="#000"  stroke="#000" stroke-width="0.16">SFs</text>
<line x1="250" y1="696.2" x2="318" y2="696.2" stroke="#000" stroke-width="1.5" />
<text x="284.8" y="706.7" font-size="8.4" font-weight="bold" text-anchor="middle" font-family='"Liberation Serif", "Times New Roman", serif' fill="#000"  stroke="#000" stroke-width="0.16">5% CSE</text>
<text transform="translate(186.6 613.6) rotate(-90)" font-size="9.4" font-weight="bold" text-anchor="middle" font-family='"Liberation Serif", "Times New Roman", serif' fill="#000" stroke="#000" stroke-width="0.16">ACT expression (%)</text>
<line x1="377.2" y1="549.4" x2="377.2" y2="676.9" stroke="#000" stroke-width="1.4" />
<line x1="376.5" y1="676.2" x2="502.5" y2="676.2" stroke="#000" stroke-width="1.4" />
<line x1="373" y1="676.2" x2="377.2" y2="676.2" stroke="#000" stroke-width="1.4" />
<text x="370.4" y="679.17" font-size="9" font-weight="bold" text-anchor="end" font-family='"Liberation Serif", "Times New Roman", serif' fill="#000"  stroke="#000" stroke-width="0.16">0</text>
<line x1="373" y1="634.17" x2="377.2" y2="634.17" stroke="#000" stroke-width="1.4" />
<text x="370.4" y="637.14" font-size="9" font-weight="bold" text-anchor="end" font-family='"Liberation Serif", "Times New Roman", serif' fill="#000"  stroke="#000" stroke-width="0.16">20</text>
<line x1="373" y1="592.13" x2="377.2" y2="592.13" stroke="#000" stroke-width="1.4" />
<text x="370.4" y="595.1" font-size="9" font-weight="bold" text-anchor="end" font-family='"Liberation Serif", "Times New Roman", serif' fill="#000"  stroke="#000" stroke-width="0.16">40</text>
<line x1="373" y1="550.1" x2="377.2" y2="550.1" stroke="#000" stroke-width="1.4" />
<text x="370.4" y="553.07" font-size="9" font-weight="bold" text-anchor="end" font-family='"Liberation Serif", "Times New Roman", serif' fill="#000"  stroke="#000" stroke-width="0.16">60</text>
<line x1="396.4" y1="676.2" x2="396.4" y2="680.4" stroke="#000" stroke-width="1.4" />
<line x1="425.5" y1="676.2" x2="425.5" y2="680.4" stroke="#000" stroke-width="1.4" />
<line x1="454.5" y1="676.2" x2="454.5" y2="680.4" stroke="#000" stroke-width="1.4" />
<line x1="483.4" y1="676.2" x2="483.4" y2="680.4" stroke="#000" stroke-width="1.4" />
<rect x="388.2" y="643.05" width="16.5" height="33.15" fill="#a37fab" stroke="#000" stroke-width="2.2"/>
<line x1="396.45" y1="632.4" x2="396.45" y2="651" stroke="#000" stroke-width="0.75" />
<line x1="391.45" y1="632.4" x2="401.45" y2="632.4" stroke="#000" stroke-width="0.75" />
<line x1="391.45" y1="651" x2="401.45" y2="651" stroke="#000" stroke-width="0.75" />
<circle cx="396.3" cy="599.9" r="1.3" fill="#4e1266"/>
<circle cx="396.3" cy="610.6" r="1.3" fill="#4e1266"/>
<circle cx="394.1" cy="635.4" r="1.3" fill="#4e1266"/>
<circle cx="398.8" cy="634.6" r="1.3" fill="#4e1266"/>
<circle cx="396.3" cy="654" r="1.3" fill="#4e1266"/>
<circle cx="396.3" cy="663.4" r="1.3" fill="#4e1266"/>
<circle cx="394.1" cy="669.4" r="1.3" fill="#4e1266"/>
<circle cx="398.8" cy="668.4" r="1.3" fill="#4e1266"/>
<rect x="417.3" y="654.45" width="16.4" height="21.75" fill="#fcf4a6" stroke="#000" stroke-width="2.2"/>
<line x1="425.5" y1="646.6" x2="425.5" y2="659.5" stroke="#f4e04a" stroke-width="0.75" />
<line x1="420.5" y1="646.6" x2="430.5" y2="646.6" stroke="#f4e04a" stroke-width="0.75" />
<line x1="420.5" y1="659.5" x2="430.5" y2="659.5" stroke="#f4e04a" stroke-width="0.75" />
<path d="M425.1 622L426.53 619.39L423.67 619.39Z" fill="#f4e04a"/>
<path d="M425.1 636.1L426.53 633.5L423.67 633.5Z" fill="#f4e04a"/>
<path d="M425.1 642.29L426.53 639.69L423.67 639.69Z" fill="#f4e04a"/>
<path d="M425.1 656.7L426.53 654.1L423.67 654.1Z" fill="#f4e04a"/>
<path d="M425.1 662.89L426.53 660.29L423.67 660.29Z" fill="#f4e04a"/>
<path d="M427.6 669.89L429.03 667.29L426.17 667.29Z" fill="#f4e04a"/>
<path d="M425.1 676.5L426.53 673.89L423.67 673.89Z" fill="#f4e04a"/>
<rect x="446.6" y="658.15" width="15.9" height="18.05" fill="#a4a3ca" stroke="#000" stroke-width="2.2"/>
<line x1="454.55" y1="650.3" x2="454.55" y2="663.4" stroke="#23235e" stroke-width="0.75" />
<line x1="449.55" y1="650.3" x2="459.55" y2="650.3" stroke="#23235e" stroke-width="0.75" />
<line x1="449.55" y1="663.4" x2="459.55" y2="663.4" stroke="#23235e" stroke-width="0.75" />
<rect x="452.9" y="617.6" width="2.4" height="2.4" fill="#3a3a8e"/>
<rect x="452.9" y="637.4" width="2.4" height="2.4" fill="#3a3a8e"/>
<rect x="452.9" y="655.3" width="2.4" height="2.4" fill="#3a3a8e"/>
<rect x="452.9" y="661.5" width="2.4" height="2.4" fill="#3a3a8e"/>
<rect x="448" y="668.4" width="2.4" height="2.4" fill="#3a3a8e"/>
<rect x="452.9" y="670.7" width="2.4" height="2.4" fill="#3a3a8e"/>
<rect x="458.6" y="668.4" width="2.4" height="2.4" fill="#3a3a8e"/>
<rect x="475.3" y="662.35" width="16.2" height="13.85" fill="#9fc3cf" stroke="#000" stroke-width="2.2"/>
<line x1="483.4" y1="654.5" x2="483.4" y2="668.4" stroke="#2f86a0" stroke-width="0.75" />
<line x1="478.4" y1="654.5" x2="488.4" y2="654.5" stroke="#2f86a0" stroke-width="0.75" />
<line x1="478.4" y1="668.4" x2="488.4" y2="668.4" stroke="#2f86a0" stroke-width="0.75" />
<path d="M483.2 612.86L484.57 615.36L481.82 615.36Z" fill="#2f86a0"/>
<path d="M479 662.46L480.38 664.96L477.62 664.96Z" fill="#2f86a0"/>
<path d="M483.2 662.46L484.57 664.96L481.82 664.96Z" fill="#2f86a0"/>
<path d="M487.6 662.46L488.98 664.96L486.23 664.96Z" fill="#2f86a0"/>
<path d="M479 666.96L480.38 669.46L477.62 669.46Z" fill="#2f86a0"/>
<path d="M487.6 666.96L488.98 669.46L486.23 669.46Z" fill="#2f86a0"/>
<path d="M483.2 673.96L484.57 676.46L481.82 676.46Z" fill="#2f86a0"/>
<line x1="395.8" y1="565.9" x2="482.2" y2="565.9" stroke="#000" stroke-width="1.5" />
<text x="439.3" y="559.8" font-size="8.6" font-weight="normal" text-anchor="middle" font-family='"Liberation Serif", "Times New Roman", serif' fill="#000"  stroke="#000" stroke-width="0.18">0.08</text>
<line x1="395.8" y1="580.8" x2="454.6" y2="580.8" stroke="#000" stroke-width="1.5" />
<text x="425.9" y="579.42" font-size="13.6" font-weight="bold" text-anchor="middle" font-family='"Liberation Serif", "Times New Roman", serif' fill="#000" letter-spacing="-0.6" stroke="#000" stroke-width="0.12">**</text>
<line x1="395.8" y1="595.1" x2="425.6" y2="595.1" stroke="#000" stroke-width="1.5" />
<text x="411.5" y="593.62" font-size="13.6" font-weight="bold" text-anchor="middle" font-family='"Liberation Serif", "Times New Roman", serif' fill="#000" letter-spacing="-0.6" stroke="#000" stroke-width="0.12">*</text>
<text x="439.8" y="533.8" font-size="10.3" font-weight="bold" text-anchor="middle" font-family='"Liberation Serif", "Times New Roman", serif' fill="#000"  stroke="#000" stroke-width="0.16">SPC<tspan dy="-3.1" font-size="8.1" font-weight="normal" stroke-width="0.1">+</tspan><tspan dy="3.1">/ACT</tspan><tspan dy="-3.1" font-size="8.1" font-weight="normal" stroke-width="0.1">+</tspan></text>
<text x="396.4" y="691.2" font-size="8.4" font-weight="bold" text-anchor="middle" font-family='"Liberation Serif", "Times New Roman", serif' fill="#000"  stroke="#000" stroke-width="0.16">Control</text>
<text x="425.5" y="691.2" font-size="8.4" font-weight="bold" text-anchor="middle" font-family='"Liberation Serif", "Times New Roman", serif' fill="#000"  stroke="#000" stroke-width="0.16">-</text>
<text x="454.5" y="691.2" font-size="8.4" font-weight="bold" text-anchor="middle" font-family='"Liberation Serif", "Times New Roman", serif' fill="#000"  stroke="#000" stroke-width="0.16">EVs</text>
<text x="483.4" y="691.2" font-size="8.4" font-weight="bold" text-anchor="middle" font-family='"Liberation Serif", "Times New Roman", serif' fill="#000"  stroke="#000" stroke-width="0.16">SFs</text>
<line x1="419.6" y1="696.2" x2="487.6" y2="696.2" stroke="#000" stroke-width="1.5" />
<text x="454" y="706.7" font-size="8.4" font-weight="bold" text-anchor="middle" font-family='"Liberation Serif", "Times New Roman", serif' fill="#000"  stroke="#000" stroke-width="0.16">5% CSE</text>
<text transform="translate(355.4 613.4) rotate(-90)" font-size="9.27" font-weight="bold" text-anchor="middle" font-family='"Liberation Serif", "Times New Roman", serif' fill="#000" stroke="#000" stroke-width="0.16">SPC and ACT expression (%)</text>
<line x1="543.5" y1="549.4" x2="543.5" y2="676.9" stroke="#000" stroke-width="1.4" />
<line x1="542.8" y1="676.2" x2="668.8" y2="676.2" stroke="#000" stroke-width="1.4" />
<line x1="539.3" y1="676.2" x2="543.5" y2="676.2" stroke="#000" stroke-width="1.4" />
<text x="536.4" y="679.17" font-size="9" font-weight="bold" text-anchor="end" font-family='"Liberation Serif", "Times New Roman", serif' fill="#000"  stroke="#000" stroke-width="0.16">0</text>
<line x1="539.3" y1="634.17" x2="543.5" y2="634.17" stroke="#000" stroke-width="1.4" />
<text x="536.4" y="637.14" font-size="9" font-weight="bold" text-anchor="end" font-family='"Liberation Serif", "Times New Roman", serif' fill="#000"  stroke="#000" stroke-width="0.16">20</text>
<line x1="539.3" y1="592.13" x2="543.5" y2="592.13" stroke="#000" stroke-width="1.4" />
<text x="536.4" y="595.1" font-size="9" font-weight="bold" text-anchor="end" font-family='"Liberation Serif", "Times New Roman", serif' fill="#000"  stroke="#000" stroke-width="0.16">40</text>
<line x1="539.3" y1="550.1" x2="543.5" y2="550.1" stroke="#000" stroke-width="1.4" />
<text x="536.4" y="553.07" font-size="9" font-weight="bold" text-anchor="end" font-family='"Liberation Serif", "Times New Roman", serif' fill="#000"  stroke="#000" stroke-width="0.16">60</text>
<line x1="562.7" y1="676.2" x2="562.7" y2="680.4" stroke="#000" stroke-width="1.4" />
<line x1="591.8" y1="676.2" x2="591.8" y2="680.4" stroke="#000" stroke-width="1.4" />
<line x1="620.7" y1="676.2" x2="620.7" y2="680.4" stroke="#000" stroke-width="1.4" />
<line x1="649.6" y1="676.2" x2="649.6" y2="680.4" stroke="#000" stroke-width="1.4" />
<rect x="554.5" y="665.35" width="16.4" height="10.85" fill="#a37fab" stroke="#000" stroke-width="2.2"/>
<line x1="562.7" y1="661.4" x2="562.7" y2="666.9" stroke="#000" stroke-width="0.75" />
<line x1="557.7" y1="661.4" x2="567.7" y2="661.4" stroke="#000" stroke-width="0.75" />
<line x1="557.7" y1="666.9" x2="567.7" y2="666.9" stroke="#000" stroke-width="0.75" />
<circle cx="557.9" cy="654.7" r="1.3" fill="#4e1266"/>
<circle cx="562.9" cy="656.5" r="1.3" fill="#4e1266"/>
<circle cx="567.8" cy="654.7" r="1.3" fill="#4e1266"/>
<circle cx="560.4" cy="666.4" r="1.3" fill="#4e1266"/>
<circle cx="565.3" cy="666.4" r="1.3" fill="#4e1266"/>
<circle cx="562.9" cy="670.1" r="1.3" fill="#4e1266"/>
<circle cx="562.9" cy="675" r="1.3" fill="#4e1266"/>
<rect x="583.6" y="613.55" width="16.4" height="62.65" fill="#fcf4a6" stroke="#000" stroke-width="2.2"/>
<line x1="591.8" y1="606.1" x2="591.8" y2="613" stroke="#f4e04a" stroke-width="0.75" />
<line x1="586.8" y1="606.1" x2="596.8" y2="606.1" stroke="#f4e04a" stroke-width="0.75" />
<line x1="586.8" y1="613" x2="596.8" y2="613" stroke="#f4e04a" stroke-width="0.75" />
<path d="M591.9 588L593.33 585.39L590.47 585.39Z" fill="#f4e04a"/>
<path d="M591.9 595.89L593.33 593.29L590.47 593.29Z" fill="#f4e04a"/>
<path d="M591.9 603.39L593.33 600.79L590.47 600.79Z" fill="#f4e04a"/>
<path d="M591.9 610.79L593.33 608.19L590.47 608.19Z" fill="#f4e04a"/>
<path d="M594.4 617L595.83 614.39L592.97 614.39Z" fill="#f4e04a"/>
<path d="M589.4 620.79L590.83 618.19L587.97 618.19Z" fill="#f4e04a"/>
<path d="M594.4 623.2L595.83 620.6L592.97 620.6Z" fill="#f4e04a"/>
<path d="M589.4 627L590.83 624.39L587.97 624.39Z" fill="#f4e04a"/>
<rect x="612.6" y="635.55" width="16.2" height="40.65" fill="#a4a3ca" stroke="#000" stroke-width="2.2"/>
<line x1="620.7" y1="627.9" x2="620.7" y2="639.6" stroke="#23235e" stroke-width="0.75" />
<line x1="615.7" y1="627.9" x2="625.7" y2="627.9" stroke="#23235e" stroke-width="0.75" />
<line x1="615.7" y1="639.6" x2="625.7" y2="639.6" stroke="#23235e" stroke-width="0.75" />
<rect x="619.7" y="598.2" width="2.4" height="2.4" fill="#3a3a8e"/>
<rect x="619.7" y="621" width="2.4" height="2.4" fill="#3a3a8e"/>
<rect x="619.7" y="629.2" width="2.4" height="2.4" fill="#3a3a8e"/>
<rect x="616.7" y="637.9" width="2.4" height="2.4" fill="#3a3a8e"/>
<rect x="622.4" y="636.7" width="2.4" height="2.4" fill="#3a3a8e"/>
<rect x="619.7" y="645.4" width="2.4" height="2.4" fill="#3a3a8e"/>
<rect x="622.4" y="647.8" width="2.4" height="2.4" fill="#3a3a8e"/>
<rect x="619.7" y="649.8" width="2.4" height="2.4" fill="#3a3a8e"/>
<rect x="641.4" y="638.85" width="16.4" height="37.35" fill="#9fc3cf" stroke="#000" stroke-width="2.2"/>
<line x1="649.6" y1="632.2" x2="649.6" y2="642.8" stroke="#2f86a0" stroke-width="0.75" />
<line x1="644.6" y1="632.2" x2="654.6" y2="632.2" stroke="#2f86a0" stroke-width="0.75" />
<line x1="644.6" y1="642.8" x2="654.6" y2="642.8" stroke="#2f86a0" stroke-width="0.75" />
<path d="M649.7 608.66L651.08 611.16L648.33 611.16Z" fill="#2f86a0"/>
<path d="M647.2 627.76L648.58 630.26L645.83 630.26Z" fill="#2f86a0"/>
<path d="M652.7 629.46L654.08 631.96L651.33 631.96Z" fill="#2f86a0"/>
<path d="M649.7 635.16L651.08 637.66L648.33 637.66Z" fill="#2f86a0"/>
<path d="M652.7 640.16L654.08 642.66L651.33 642.66Z" fill="#2f86a0"/>
<path d="M647.2 653.76L648.58 656.26L645.83 656.26Z" fill="#2f86a0"/>
<path d="M652.7 653.76L654.08 656.26L651.33 656.26Z" fill="#2f86a0"/>
<line x1="562.1" y1="549.3" x2="650.2" y2="549.3" stroke="#000" stroke-width="1.5" />
<text x="606.6" y="548.22" font-size="13.6" font-weight="bold" text-anchor="middle" font-family='"Liberation Serif", "Times New Roman", serif' fill="#000" letter-spacing="-0.6" stroke="#000" stroke-width="0.12">**</text>
<line x1="562.1" y1="562.9" x2="620.9" y2="562.9" stroke="#000" stroke-width="1.5" />
<text x="592.2" y="561.82" font-size="13.6" font-weight="bold" text-anchor="middle" font-family='"Liberation Serif", "Times New Roman", serif' fill="#000" letter-spacing="-0.6" stroke="#000" stroke-width="0.12">**</text>
<line x1="595.6" y1="578.8" x2="651" y2="578.8" stroke="#000" stroke-width="1.5" />
<text x="623.7" y="577.42" font-size="13.6" font-weight="bold" text-anchor="middle" font-family='"Liberation Serif", "Times New Roman", serif' fill="#000" letter-spacing="-0.6" stroke="#000" stroke-width="0.12">****</text>
<line x1="562.1" y1="584" x2="591.9" y2="584" stroke="#000" stroke-width="1.5" />
<text x="577.8" y="582.92" font-size="13.6" font-weight="bold" text-anchor="middle" font-family='"Liberation Serif", "Times New Roman", serif' fill="#000" letter-spacing="-0.6" stroke="#000" stroke-width="0.12">***</text>
<line x1="595.6" y1="592.7" x2="620.9" y2="592.7" stroke="#000" stroke-width="1.5" />
<text x="608.3" y="591.62" font-size="13.6" font-weight="bold" text-anchor="middle" font-family='"Liberation Serif", "Times New Roman", serif' fill="#000" letter-spacing="-0.6" stroke="#000" stroke-width="0.12">***</text>
<text x="611.7" y="533.8" font-size="10.3" font-weight="bold" text-anchor="middle" font-family='"Liberation Serif", "Times New Roman", serif' fill="#000"  stroke="#000" stroke-width="0.16">SPC<tspan dy="-3.1" font-size="8.1" font-weight="normal" stroke-width="0.1">-</tspan><tspan dy="3.1">/ACT</tspan><tspan dy="-3.1" font-size="8.1" font-weight="normal" stroke-width="0.1">-</tspan></text>
<text x="562.7" y="691.2" font-size="8.4" font-weight="bold" text-anchor="middle" font-family='"Liberation Serif", "Times New Roman", serif' fill="#000"  stroke="#000" stroke-width="0.16">Control</text>
<text x="591.8" y="691.2" font-size="8.4" font-weight="bold" text-anchor="middle" font-family='"Liberation Serif", "Times New Roman", serif' fill="#000"  stroke="#000" stroke-width="0.16">-</text>
<text x="620.7" y="691.2" font-size="8.4" font-weight="bold" text-anchor="middle" font-family='"Liberation Serif", "Times New Roman", serif' fill="#000"  stroke="#000" stroke-width="0.16">EVs</text>
<text x="649.6" y="691.2" font-size="8.4" font-weight="bold" text-anchor="middle" font-family='"Liberation Serif", "Times New Roman", serif' fill="#000"  stroke="#000" stroke-width="0.16">SFs</text>
<line x1="586" y1="696.2" x2="654" y2="696.2" stroke="#000" stroke-width="1.5" />
<text x="620.3" y="706.7" font-size="8.4" font-weight="bold" text-anchor="middle" font-family='"Liberation Serif", "Times New Roman", serif' fill="#000"  stroke="#000" stroke-width="0.16">5% CSE</text>
<text transform="translate(522 613.6) rotate(-90)" font-size="9.2" font-weight="bold" text-anchor="middle" font-family='"Liberation Serif", "Times New Roman", serif' fill="#000" stroke="#000" stroke-width="0.16">Double negative (%)</text>
<text x="345.8" y="727" font-size="24.6" font-weight="normal" text-anchor="start" font-family='"Liberation Serif", "Times New Roman", serif' fill="#000"  stroke="#000" stroke-width="0.18">l)</text>
<line x1="394.1" y1="721.3" x2="394.1" y2="850.6" stroke="#000" stroke-width="1.4" />
<line x1="393.4" y1="849.9" x2="508.7" y2="849.9" stroke="#000" stroke-width="1.4" />
<line x1="389.9" y1="849.9" x2="394.1" y2="849.9" stroke="#000" stroke-width="1.4" />
<text x="387.7" y="852.64" font-size="8.3" font-weight="bold" text-anchor="end" font-family='"Liberation Serif", "Times New Roman", serif' fill="#000"  stroke="#000" stroke-width="0.16">0</text>
<line x1="389.9" y1="824.32" x2="394.1" y2="824.32" stroke="#000" stroke-width="1.4" />
<text x="387.7" y="827.06" font-size="8.3" font-weight="bold" text-anchor="end" font-family='"Liberation Serif", "Times New Roman", serif' fill="#000"  stroke="#000" stroke-width="0.16">1</text>
<line x1="389.9" y1="798.74" x2="394.1" y2="798.74" stroke="#000" stroke-width="1.4" />
<text x="387.7" y="801.48" font-size="8.3" font-weight="bold" text-anchor="end" font-family='"Liberation Serif", "Times New Roman", serif' fill="#000"  stroke="#000" stroke-width="0.16">2</text>
<line x1="389.9" y1="773.16" x2="394.1" y2="773.16" stroke="#000" stroke-width="1.4" />
<text x="387.7" y="775.9" font-size="8.3" font-weight="bold" text-anchor="end" font-family='"Liberation Serif", "Times New Roman", serif' fill="#000"  stroke="#000" stroke-width="0.16">3</text>
<line x1="389.9" y1="747.58" x2="394.1" y2="747.58" stroke="#000" stroke-width="1.4" />
<text x="387.7" y="750.32" font-size="8.3" font-weight="bold" text-anchor="end" font-family='"Liberation Serif", "Times New Roman", serif' fill="#000"  stroke="#000" stroke-width="0.16">4</text>
<line x1="389.9" y1="722" x2="394.1" y2="722" stroke="#000" stroke-width="1.4" />
<text x="387.7" y="724.74" font-size="8.3" font-weight="bold" text-anchor="end" font-family='"Liberation Serif", "Times New Roman", serif' fill="#000"  stroke="#000" stroke-width="0.16">5</text>
<line x1="417.3" y1="849.9" x2="417.3" y2="854.1" stroke="#000" stroke-width="1.4" />
<line x1="451.7" y1="849.9" x2="451.7" y2="854.1" stroke="#000" stroke-width="1.4" />
<line x1="486" y1="849.9" x2="486" y2="854.1" stroke="#000" stroke-width="1.4" />
<rect x="407.6" y="804.65" width="19.4" height="45.25" fill="#a37fab" stroke="#000" stroke-width="2.2"/>
<line x1="417.3" y1="795.5" x2="417.3" y2="810" stroke="#000" stroke-width="0.85" />
<line x1="411.5" y1="795.5" x2="423.1" y2="795.5" stroke="#000" stroke-width="0.85" />
<line x1="411.5" y1="810" x2="423.1" y2="810" stroke="#000" stroke-width="0.85" />
<path d="M417.4 778.13L420.2 773.03L414.59 773.03Z" fill="#4e1266"/>
<rect x="414.85" y="792.95" width="5.1" height="5.1" fill="#4e1266"/>
<path d="M421.9 798.77L424.7 803.87L419.09 803.87Z" fill="#4e1266"/>
<circle cx="412" cy="804.2" r="2.55" fill="#4e1266"/>
<path d="M417.4 805.64L420.2 808.7L417.4 811.76L414.59 808.7Z" fill="#4e1266"/>
<circle cx="417.4" cy="831" r="2.55" fill="#4e1266"/>
<rect x="442.1" y="794.45" width="19.1" height="55.45" fill="#a4a3ca" stroke="#000" stroke-width="2.2"/>
<line x1="451.65" y1="782.6" x2="451.65" y2="802.2" stroke="#000" stroke-width="0.85" />
<line x1="445.85" y1="782.6" x2="457.45" y2="782.6" stroke="#000" stroke-width="0.85" />
<line x1="445.85" y1="802.2" x2="457.45" y2="802.2" stroke="#000" stroke-width="0.85" />
<path d="M451.7 754.33L454.5 749.23L448.89 749.23Z" fill="#3a3a8e"/>
<rect x="449.15" y="776.85" width="5.1" height="5.1" fill="#3a3a8e"/>
<path d="M446.7 795.57L449.5 800.67L443.89 800.67Z" fill="#3a3a8e"/>
<circle cx="456.6" cy="798" r="2.55" fill="#3a3a8e"/>
<path d="M451.7 802.94L454.5 806L451.7 809.06L448.89 806Z" fill="#3a3a8e"/>
<circle cx="451.7" cy="823.3" r="2.55" fill="#3a3a8e"/>
<rect x="476.3" y="793.55" width="19.4" height="56.35" fill="#9fc3cf" stroke="#000" stroke-width="2.2"/>
<line x1="486" y1="783.1" x2="486" y2="800.5" stroke="#000" stroke-width="0.85" />
<line x1="480.2" y1="783.1" x2="491.8" y2="783.1" stroke="#000" stroke-width="0.85" />
<line x1="480.2" y1="800.5" x2="491.8" y2="800.5" stroke="#000" stroke-width="0.85" />
<path d="M486.4 763.73L489.2 758.63L483.59 758.63Z" fill="#2f86a0"/>
<rect x="483.85" y="771.15" width="5.1" height="5.1" fill="#2f86a0"/>
<circle cx="477.7" cy="794.3" r="2.55" fill="#2f86a0"/>
<path d="M495.1 795.57L497.91 800.67L492.3 800.67Z" fill="#2f86a0"/>
<path d="M486.4 796.37L489.2 801.47L483.59 801.47Z" fill="#2f86a0"/>
<circle cx="486.4" cy="824" r="2.55" fill="#2f86a0"/>
<line x1="416.9" y1="725.6" x2="486.4" y2="725.6" stroke="#000" stroke-width="1.5" />
<text x="452.45" y="724.14" font-size="13" font-weight="bold" text-anchor="middle" font-family='"Liberation Serif", "Times New Roman", serif' fill="#000" letter-spacing="-0.5" stroke="#000" stroke-width="0.12">*</text>
<line x1="416.9" y1="742.2" x2="449.9" y2="742.2" stroke="#000" stroke-width="1.5" />
<text x="433" y="736.6" font-size="8.6" font-weight="normal" text-anchor="middle" font-family='"Liberation Serif", "Times New Roman", serif' fill="#000"  stroke="#000" stroke-width="0.18">0.05</text>
<text x="417.3" y="865.5" font-size="8.9" font-weight="bold" text-anchor="middle" font-family='"Liberation Serif", "Times New Roman", serif' fill="#000"  stroke="#000" stroke-width="0.16">Control</text>
<text x="451.7" y="865.5" font-size="8.9" font-weight="bold" text-anchor="middle" font-family='"Liberation Serif", "Times New Roman", serif' fill="#000"  stroke="#000" stroke-width="0.16">EVs</text>
<text x="486" y="865.5" font-size="8.9" font-weight="bold" text-anchor="middle" font-family='"Liberation Serif", "Times New Roman", serif' fill="#000"  stroke="#000" stroke-width="0.16">SFs</text>
<text transform="translate(376.7 786.4) rotate(-90)" font-size="9.37" font-weight="bold" text-anchor="middle" font-family='"Liberation Serif", "Times New Roman", serif' fill="#000" stroke="#000" stroke-width="0.16">Colony forming efficiency (%)</text>
<text x="510" y="727" font-size="24.6" font-weight="normal" text-anchor="start" font-family='"Liberation Serif", "Times New Roman", serif' fill="#000"  stroke="#000" stroke-width="0.18">m)</text>
<line x1="569.6" y1="721.3" x2="569.6" y2="850.6" stroke="#000" stroke-width="1.4" />
<line x1="568.9" y1="849.9" x2="686" y2="849.9" stroke="#000" stroke-width="1.4" />
<line x1="565.4" y1="849.9" x2="569.6" y2="849.9" stroke="#000" stroke-width="1.4" />
<text x="563.2" y="852.64" font-size="8.3" font-weight="bold" text-anchor="end" font-family='"Liberation Serif", "Times New Roman", serif' fill="#000"  stroke="#000" stroke-width="0.16">0</text>
<line x1="565.4" y1="824.32" x2="569.6" y2="824.32" stroke="#000" stroke-width="1.4" />
<text x="563.2" y="827.06" font-size="8.3" font-weight="bold" text-anchor="end" font-family='"Liberation Serif", "Times New Roman", serif' fill="#000"  stroke="#000" stroke-width="0.16">1</text>
<line x1="565.4" y1="798.74" x2="569.6" y2="798.74" stroke="#000" stroke-width="1.4" />
<text x="563.2" y="801.48" font-size="8.3" font-weight="bold" text-anchor="end" font-family='"Liberation Serif", "Times New Roman", serif' fill="#000"  stroke="#000" stroke-width="0.16">2</text>
<line x1="565.4" y1="773.16" x2="569.6" y2="773.16" stroke="#000" stroke-width="1.4" />
<text x="563.2" y="775.9" font-size="8.3" font-weight="bold" text-anchor="end" font-family='"Liberation Serif", "Times New Roman", serif' fill="#000"  stroke="#000" stroke-width="0.16">3</text>
<line x1="565.4" y1="747.58" x2="569.6" y2="747.58" stroke="#000" stroke-width="1.4" />
<text x="563.2" y="750.32" font-size="8.3" font-weight="bold" text-anchor="end" font-family='"Liberation Serif", "Times New Roman", serif' fill="#000"  stroke="#000" stroke-width="0.16">4</text>
<line x1="565.4" y1="722" x2="569.6" y2="722" stroke="#000" stroke-width="1.4" />
<text x="563.2" y="724.74" font-size="8.3" font-weight="bold" text-anchor="end" font-family='"Liberation Serif", "Times New Roman", serif' fill="#000"  stroke="#000" stroke-width="0.16">5</text>
<line x1="592.6" y1="849.9" x2="592.6" y2="854.1" stroke="#000" stroke-width="1.4" />
<line x1="627.1" y1="849.9" x2="627.1" y2="854.1" stroke="#000" stroke-width="1.4" />
<line x1="661.9" y1="849.9" x2="661.9" y2="854.1" stroke="#000" stroke-width="1.4" />
<path d="M592.6 780L592.61 780.6L592.64 781.2L592.66 781.8L592.68 782.4L592.7 783L592.71 783.6L592.72 784.2L592.73 784.8L592.73 785.4L592.75 786L592.78 786.6L592.82 787.2L592.84 787.8L592.84 788.4L592.84 789L592.87 789.6L592.9 790.2L592.92 790.8L592.94 791.4L593.28 792L593.8 792.6L594.33 793.2L594.59 793.8L594.97 794.4L595.28 795L595.44 795.6L595.62 796.2L596.06 796.8L596.3 797.4L597.66 798L599.1 798.6L599.41 799.2L600.43 799.8L601.56 800.4L602.01 801L601.95 801.6L602.39 802.2L603.22 802.8L603.86 803.4L603.65 804L602.86 804.6L602.11 805.2L599.36 805.8L597.27 806.4L595.67 807L593.23 807.6L592.87 808.2L592.68 808.8L592.61 809.4L592.6 809.6L592.59 809.4L592.52 808.8L592.33 808.2L591.97 807.6L589.53 807L587.93 806.4L585.84 805.8L583.09 805.2L582.34 804.6L581.55 804L581.34 803.4L581.98 802.8L582.81 802.2L583.25 801.6L583.19 801L583.64 800.4L584.77 799.8L585.79 799.2L586.1 798.6L587.54 798L588.9 797.4L589.14 796.8L589.58 796.2L589.76 795.6L589.92 795L590.23 794.4L590.61 793.8L590.87 793.2L591.4 792.6L591.92 792L592.26 791.4L592.28 790.8L592.3 790.2L592.33 789.6L592.36 789L592.36 788.4L592.36 787.8L592.38 787.2L592.42 786.6L592.45 786L592.47 785.4L592.47 784.8L592.48 784.2L592.49 783.6L592.5 783L592.52 782.4L592.54 781.8L592.56 781.2L592.59 780.6Z" fill="#a37fab" stroke="#000" stroke-width="1.6" stroke-linejoin="round"/>
<line x1="585.2" y1="799.8" x2="600" y2="799.8" stroke="#4e1266" stroke-width="0.5" stroke-dasharray="1 0.8" opacity="0.8"/>
<line x1="583.2" y1="802" x2="602" y2="802" stroke="#4e1266" stroke-width="0.5" stroke-dasharray="1.8 0.9" opacity="0.8"/>
<line x1="582.6" y1="804.4" x2="602.6" y2="804.4" stroke="#4e1266" stroke-width="0.5" stroke-dasharray="1 0.8" opacity="0.8"/>
<path d="M627.1 782L627.11 782.6L627.14 783.2L627.16 783.8L627.18 784.4L627.2 785L627.21 785.6L627.24 786.2L627.27 786.8L627.29 787.4L627.33 788L627.38 788.6L627.42 789.2L627.43 789.8L627.54 790.4L627.73 791L628 791.6L628.28 792.2L628.4 792.8L628.76 793.4L629.3 794L629.85 794.6L630.24 795.2L630.95 795.8L631.62 796.4L631.83 797L631.8 797.6L632.52 798.2L633.6 798.8L634.25 799.4L634.27 800L634.7 800.6L635.52 801.2L636.29 801.8L636.87 802.4L637.62 803L638 803.6L637.68 804.2L636.69 804.8L636.37 805.4L633.59 806L630.98 806.6L628.73 807.2L627.59 807.8L627.2 808.4L627.12 809L627.1 809.2L627.08 809L627 808.4L626.61 807.8L625.47 807.2L623.22 806.6L620.61 806L617.83 805.4L617.51 804.8L616.52 804.2L616.2 803.6L616.58 803L617.33 802.4L617.91 801.8L618.68 801.2L619.5 800.6L619.93 800L619.95 799.4L620.6 798.8L621.68 798.2L622.4 797.6L622.37 797L622.58 796.4L623.25 795.8L623.96 795.2L624.35 794.6L624.9 794L625.44 793.4L625.8 792.8L625.92 792.2L626.2 791.6L626.47 791L626.66 790.4L626.77 789.8L626.78 789.2L626.82 788.6L626.87 788L626.91 787.4L626.93 786.8L626.96 786.2L626.99 785.6L627 785L627.02 784.4L627.04 783.8L627.06 783.2L627.09 782.6Z" fill="#a4a3ca" stroke="#000" stroke-width="1.6" stroke-linejoin="round"/>
<line x1="620.9" y1="799.4" x2="633.3" y2="799.4" stroke="#3a3a8e" stroke-width="0.5" stroke-dasharray="1 0.8" opacity="0.8"/>
<line x1="618.5" y1="801.8" x2="635.7" y2="801.8" stroke="#3a3a8e" stroke-width="0.5" stroke-dasharray="1.8 0.9" opacity="0.8"/>
<line x1="616.9" y1="804.2" x2="637.3" y2="804.2" stroke="#3a3a8e" stroke-width="0.5" stroke-dasharray="1 0.8" opacity="0.8"/>
<path d="M661.8 782L661.81 782.6L661.84 783.2L661.86 783.8L661.88 784.4L661.9 785L661.92 785.6L661.95 786.2L661.98 786.8L662.01 787.4L662.04 788L662.09 788.6L662.12 789.2L662.41 789.8L662.97 790.4L663.48 791L663.81 791.6L663.91 792.2L663.83 792.8L663.64 793.4L663.73 794L664.35 794.6L665.26 795.2L665.86 795.8L666.16 796.4L666.58 797L667.06 797.6L667.45 798.2L668.34 798.8L669.45 799.4L670.08 800L670.03 800.6L670.68 801.2L671.98 801.8L673.05 802.4L673.07 803L672.47 803.6L671.95 804.2L671.52 804.8L669.12 805.4L667.5 806L665.24 806.6L662.63 807.2L662.22 807.8L661.9 808.4L661.81 809L661.8 809.2L661.79 809L661.7 808.4L661.38 807.8L660.97 807.2L658.36 806.6L656.1 806L654.48 805.4L652.08 804.8L651.65 804.2L651.13 803.6L650.53 803L650.55 802.4L651.62 801.8L652.92 801.2L653.57 800.6L653.52 800L654.15 799.4L655.26 798.8L656.15 798.2L656.54 797.6L657.02 797L657.44 796.4L657.74 795.8L658.34 795.2L659.25 794.6L659.87 794L659.96 793.4L659.77 792.8L659.69 792.2L659.79 791.6L660.12 791L660.63 790.4L661.19 789.8L661.48 789.2L661.51 788.6L661.56 788L661.59 787.4L661.62 786.8L661.65 786.2L661.68 785.6L661.7 785L661.72 784.4L661.74 783.8L661.76 783.2L661.79 782.6Z" fill="#9fc3cf" stroke="#000" stroke-width="1.6" stroke-linejoin="round"/>
<line x1="655.8" y1="798.8" x2="667.8" y2="798.8" stroke="#2f86a0" stroke-width="0.5" stroke-dasharray="1 0.8" opacity="0.8"/>
<line x1="653" y1="801.2" x2="670.6" y2="801.2" stroke="#2f86a0" stroke-width="0.5" stroke-dasharray="1.8 0.9" opacity="0.8"/>
<line x1="651.6" y1="803.6" x2="672" y2="803.6" stroke="#2f86a0" stroke-width="0.5" stroke-dasharray="1 0.8" opacity="0.8"/>
<text x="592.6" y="865.5" font-size="8.9" font-weight="bold" text-anchor="middle" font-family='"Liberation Serif", "Times New Roman", serif' fill="#000"  stroke="#000" stroke-width="0.16">Control</text>
<text x="627.1" y="865.5" font-size="8.9" font-weight="bold" text-anchor="middle" font-family='"Liberation Serif", "Times New Roman", serif' fill="#000"  stroke="#000" stroke-width="0.16">EVs</text>
<text x="661.9" y="865.5" font-size="8.9" font-weight="bold" text-anchor="middle" font-family='"Liberation Serif", "Times New Roman", serif' fill="#000"  stroke="#000" stroke-width="0.16">SFs</text>
<text transform="translate(553.2 785.8) rotate(-90)" font-size="9.45" font-weight="bold" text-anchor="middle" font-family='"Liberation Serif", "Times New Roman", serif' fill="#000" stroke="#000" stroke-width="0.16">Organoid diameter (Log µm)</text>
<defs>
<radialGradient id="ydot"><stop offset="0" stop-color="#fffbd6"/><stop offset="0.5" stop-color="#fdf0ae"/><stop offset="0.8" stop-color="#f3d8b0" stop-opacity="0.8"/><stop offset="1" stop-color="#e8bfb4" stop-opacity="0"/></radialGradient>
<g id="fibro"><path d="M-11.4 0.6C-7 -0.4 -4.5 -2.2 -1.5 -2.6C1.5 -3 5 -1.9 11.4 -0.6C7 0.4 4.5 2.2 1.5 2.6C-1.5 3 -5 1.9 -11.4 0.6Z" fill="#dcc7b9"/><path d="M-6.5 0.3C-3 -1.2 3 -1.4 6.5 -0.3C3 1.2 -3 1.4 -6.5 0.3Z" fill="#d2b8a8"/><ellipse cx="0.2" cy="0" rx="2.1" ry="0.95" fill="#c3a392"/></g>
<g id="transwell"><path d="M1.5 0.8V53.5Q1.5 57 5 57H56.7Q60.2 57 60.2 53.5V0.8" fill="#eef3f6" stroke="none"/><path d="M3 15.9H58.7V53Q58.7 55.4 56.3 55.4H5.4Q3 55.4 3 53Z" fill="#fbbdd3"/><path d="M1.3 1.2V53.5Q1.3 57.2 5 57.2H56.7Q60.4 57.2 60.4 53.5V1.2" fill="none" stroke="#a9d5ce" stroke-width="2.6"/><path d="M1.3 1.2V53.5Q1.3 57.2 5 57.2H56.7Q60.4 57.2 60.4 53.5V1.2" fill="none" stroke="#d9eeea" stroke-width="0.9"/><path d="M10.6 1.6H51.1L49.6 44.5Q49.5 46.2 47.6 46.2H14.1Q12.2 46.2 12.1 44.5Z" fill="#f3dff0"/><path d="M11.13 15.9H50.57L49.6 44.5Q49.5 46.2 47.6 46.2H14.1Q12.2 46.2 12.1 44.5Z" fill="#cf99b2"/><path d="M13 47.3H48.7" stroke="#9fb8b6" stroke-width="1.3" stroke-dasharray="1.3 1.1"/><path d="M0.2 1.1H10.2L11.7 45Q11.9 47.3 14.2 47.3H47.5Q49.8 47.3 50 45L51.5 1.1H61.5" fill="none" stroke="#a9d5ce" stroke-width="2.3" stroke-linejoin="round"/><path d="M0.2 1.1H10.2L11.7 45Q11.9 47.3 14.2 47.3H47.5Q49.8 47.3 50 45L51.5 1.1H61.5" fill="none" stroke="#e6f4f1" stroke-width="0.8" stroke-linejoin="round"/>
<circle cx="16.8" cy="19.9" r="2.5" fill="url(#ydot)"/>
<circle cx="30" cy="19.9" r="2.5" fill="url(#ydot)"/>
<circle cx="46.4" cy="19.9" r="2.5" fill="url(#ydot)"/>
<circle cx="38.4" cy="24.6" r="2.5" fill="url(#ydot)"/>
<circle cx="21.9" cy="28" r="2.5" fill="url(#ydot)"/>
<circle cx="43.5" cy="30.7" r="2.5" fill="url(#ydot)"/>
<circle cx="31.5" cy="31.7" r="2.5" fill="url(#ydot)"/>
<circle cx="16.8" cy="38.3" r="2.5" fill="url(#ydot)"/>
<circle cx="41.3" cy="38.3" r="2.5" fill="url(#ydot)"/>
<circle cx="29.6" cy="40.3" r="2.5" fill="url(#ydot)"/>
</g>
<g id="evicon" fill="none" stroke="#b3c9e0" stroke-width="0.6"><circle cx="1.9" cy="3.8" r="1.7"/><circle cx="8.2" cy="1.8" r="1.75"/><circle cx="18.8" cy="4" r="1.75"/><circle cx="10.8" cy="7.5" r="1.75"/><circle cx="4.8" cy="10.8" r="1.75"/><circle cx="15.9" cy="13.6" r="1.7"/><g stroke="none" fill="#dcb0cd"><circle cx="6.2" cy="5.6" r="0.45"/><circle cx="14.4" cy="3.2" r="0.5"/><circle cx="1.4" cy="13.8" r="0.45"/><circle cx="12.4" cy="12" r="0.45"/><circle cx="18" cy="9.6" r="0.5"/><circle cx="7.6" cy="9" r="0.45"/><circle cx="19.6" cy="13.6" r="0.45"/><circle cx="3.2" cy="7.4" r="0.45"/><circle cx="15.2" cy="8" r="0.45"/><circle cx="8.4" cy="13.6" r="0.45"/><circle cx="-0.6" cy="7.2" r="0.4"/><circle cx="20.6" cy="11.6" r="0.4"/></g><g stroke="none" fill="#cfe0d6"><circle cx="12.6" cy="0.6" r="0.35"/><circle cx="0.4" cy="10.6" r="0.35"/><circle cx="21.4" cy="7" r="0.35"/><circle cx="11.4" cy="15" r="0.35"/></g></g>
<g id="sficon" fill="none" stroke="#1f2f6b" stroke-width="1.05" stroke-linecap="round" stroke-linejoin="round"><path d="M0.2 4.6Q0.3 2.7 1.8 2.9Q3 3.1 3.1 4.1"/><path d="M4.5 1.4L5.3 0.5"/><path d="M7.5 -0.4Q9.2 -1 11 0.1"/><path d="M11.9 1.8Q13.8 1.2 15.8 2.2"/><path d="M17.2 2.1L18.6 2.7"/><path d="M20.2 3.9Q22.2 5.3 21.3 7.2"/><path d="M5.3 5.7Q7.2 4 11 4.9"/><path d="M8.8 2.2Q10.4 3.6 10.5 5.5"/><path d="M13.2 3.5L14.5 5.2"/><path d="M6.7 8.3Q10.8 8.7 14.1 8.4T18.5 9.2"/><path d="M11 7.6L13.6 8.4L11.2 9.4" stroke-width="0.8"/><path d="M4.1 9.6Q3.6 12.2 5.3 14"/><path d="M8.4 11.8Q10 13.4 11.9 12.6Q13.2 11.8 13.2 10.5"/><path d="M16.3 10L19.4 12.2"/><path d="M17.6 9.2L19.8 9"/><path d="M15.4 11.4L16.4 13" stroke-width="0.7"/></g>
</defs>
<text x="3.9" y="17" font-size="24.6" font-weight="normal" text-anchor="start" font-family='"Liberation Serif", "Times New Roman", serif' fill="#000"  stroke="#000" stroke-width="0.18">a)</text>
<circle cx="75" cy="3.9" r="2.3" fill="#ad3768"/>
<circle cx="85.8" cy="3.9" r="2.3" fill="#ad3768"/>
<circle cx="100.2" cy="3.9" r="2.3" fill="#ad3768"/>
<circle cx="72.7" cy="12.6" r="2.3" fill="#ad3768"/>
<circle cx="80.2" cy="14.4" r="2.3" fill="#ad3768"/>
<circle cx="87.9" cy="12.3" r="2.3" fill="#ad3768"/>
<circle cx="96.7" cy="11.7" r="2.3" fill="#ad3768"/>
<circle cx="105.5" cy="11.7" r="2.3" fill="#ad3768"/>
<circle cx="77.6" cy="20.7" r="2.3" fill="#ad3768"/>
<circle cx="88.8" cy="20.5" r="2.3" fill="#ad3768"/>
<circle cx="98.5" cy="20.5" r="2.3" fill="#ad3768"/>
<circle cx="71.8" cy="25" r="2.3" fill="#ad3768"/>
<circle cx="82.7" cy="26.6" r="2.3" fill="#ad3768"/>
<circle cx="93.4" cy="26.6" r="2.3" fill="#ad3768"/>
<circle cx="104.6" cy="26.6" r="2.3" fill="#ad3768"/>
<text x="90.4" y="44.1" font-size="10.9" font-weight="normal" text-anchor="middle" font-family='"Liberation Serif", "Times New Roman", serif' fill="#000"  stroke="#000" stroke-width="0.18">Epcam<tspan dy="-3.6" font-size="6.4">+</tspan></text>
<use href="#fibro" transform="translate(188.1 10.1) rotate(-1)"/>
<use href="#fibro" transform="translate(208.9 12) rotate(-2)"/>
<use href="#fibro" transform="translate(226.4 7.4) rotate(1)"/>
<use href="#fibro" transform="translate(189.7 15.1) rotate(1)"/>
<use href="#fibro" transform="translate(211.6 17.7) rotate(-1)"/>
<use href="#fibro" transform="translate(233 14.5) rotate(0)"/>
<use href="#fibro" transform="translate(186.2 21.9) rotate(1)"/>
<use href="#fibro" transform="translate(206.1 24.1) rotate(-2)"/>
<use href="#fibro" transform="translate(229.7 21.9) rotate(0)"/>
<text x="202.2" y="43.3" font-size="10.9" font-weight="normal" text-anchor="middle" font-family='"Liberation Serif", "Times New Roman", serif' fill="#000"  stroke="#000" stroke-width="0.18">CCL206</text>
<path d="M118 28.6C133 28.6 143.9 37.6 143.9 49.3" fill="none" stroke="#000" stroke-width="0.9"/>
<path d="M171.1 28.6C156.1 28.6 143.9 37.6 143.9 49.3" fill="none" stroke="#000" stroke-width="0.9"/>
<path d="M143.9 52.3L141.7 47.7L143.9 48.7L146.1 47.7Z" fill="#000"/>
<use href="#transwell" x="114.3" y="62.3"/>
<use href="#evicon" x="23.2" y="69.2"/>
<use href="#sficon" x="22.8" y="103.4"/>
<text x="50" y="81.5" font-size="10.9" font-weight="normal" text-anchor="start" font-family='"Liberation Serif", "Times New Roman", serif' fill="#000"  stroke="#000" stroke-width="0.18">EVs</text>
<text x="59.6" y="97.8" font-size="10.9" font-weight="normal" text-anchor="middle" font-family='"Liberation Serif", "Times New Roman", serif' fill="#000"  stroke="#000" stroke-width="0.18">or</text>
<text x="50.6" y="114.8" font-size="10.9" font-weight="normal" text-anchor="start" font-family='"Liberation Serif", "Times New Roman", serif' fill="#000"  stroke="#000" stroke-width="0.18">SFs</text>
<line x1="79.7" y1="94.6" x2="103.61" y2="94.6" stroke="#000" stroke-width="0.9" />
<path d="M106.9 94.6L102.2 92.35L103.14 94.6L102.2 96.85Z" fill="#000"/>
<text x="4.8" y="238.7" font-size="24.6" font-weight="normal" text-anchor="start" font-family='"Liberation Serif", "Times New Roman", serif' fill="#000"  stroke="#000" stroke-width="0.18">f)</text>
<circle cx="69.3" cy="228.3" r="2.3" fill="#ad3768"/>
<circle cx="80.1" cy="228.3" r="2.3" fill="#ad3768"/>
<circle cx="94.5" cy="228.3" r="2.3" fill="#ad3768"/>
<circle cx="67" cy="237" r="2.3" fill="#ad3768"/>
<circle cx="74.5" cy="238.8" r="2.3" fill="#ad3768"/>
<circle cx="82.2" cy="236.7" r="2.3" fill="#ad3768"/>
<circle cx="91" cy="236.1" r="2.3" fill="#ad3768"/>
<circle cx="99.8" cy="236.1" r="2.3" fill="#ad3768"/>
<circle cx="71.9" cy="245.1" r="2.3" fill="#ad3768"/>
<circle cx="83.1" cy="244.9" r="2.3" fill="#ad3768"/>
<circle cx="92.8" cy="244.9" r="2.3" fill="#ad3768"/>
<circle cx="66.1" cy="249.4" r="2.3" fill="#ad3768"/>
<circle cx="77" cy="251" r="2.3" fill="#ad3768"/>
<circle cx="87.7" cy="251" r="2.3" fill="#ad3768"/>
<circle cx="98.9" cy="251" r="2.3" fill="#ad3768"/>
<text x="84.7" y="268.5" font-size="10.9" font-weight="normal" text-anchor="middle" font-family='"Liberation Serif", "Times New Roman", serif' fill="#000"  stroke="#000" stroke-width="0.18">Epcam<tspan dy="-3.6" font-size="6.4">+</tspan></text>
<use href="#fibro" transform="translate(182.4 234.5) rotate(-1)"/>
<use href="#fibro" transform="translate(203.2 236.4) rotate(-2)"/>
<use href="#fibro" transform="translate(220.7 231.8) rotate(1)"/>
<use href="#fibro" transform="translate(184 239.5) rotate(1)"/>
<use href="#fibro" transform="translate(205.9 242.1) rotate(-1)"/>
<use href="#fibro" transform="translate(227.3 238.9) rotate(0)"/>
<use href="#fibro" transform="translate(180.5 246.3) rotate(1)"/>
<use href="#fibro" transform="translate(200.4 248.5) rotate(-2)"/>
<use href="#fibro" transform="translate(224 246.3) rotate(0)"/>
<text x="196.5" y="267.7" font-size="10.9" font-weight="normal" text-anchor="middle" font-family='"Liberation Serif", "Times New Roman", serif' fill="#000"  stroke="#000" stroke-width="0.18">CCL206</text>
<path d="M112.3 253C127.3 253 138.2 262 138.2 273.7" fill="none" stroke="#000" stroke-width="0.9"/>
<path d="M165.4 253C150.4 253 138.2 262 138.2 273.7" fill="none" stroke="#000" stroke-width="0.9"/>
<path d="M138.2 276.7L136 272.1L138.2 273.1L140.4 272.1Z" fill="#000"/>
<use href="#transwell" x="108.6" y="286.7"/>
<use href="#evicon" x="17.5" y="293.6"/>
<use href="#sficon" x="17.1" y="327.8"/>
<text x="44.3" y="305.9" font-size="10.9" font-weight="normal" text-anchor="start" font-family='"Liberation Serif", "Times New Roman", serif' fill="#000"  stroke="#000" stroke-width="0.18">EVs</text>
<text x="53.9" y="322.2" font-size="10.9" font-weight="normal" text-anchor="middle" font-family='"Liberation Serif", "Times New Roman", serif' fill="#000"  stroke="#000" stroke-width="0.18">or</text>
<text x="44.9" y="339.2" font-size="10.9" font-weight="normal" text-anchor="start" font-family='"Liberation Serif", "Times New Roman", serif' fill="#000"  stroke="#000" stroke-width="0.18">SFs</text>
<line x1="74" y1="319" x2="97.91" y2="319" stroke="#000" stroke-width="0.9" />
<path d="M101.2 319L96.5 316.75L97.44 319L96.5 321.25Z" fill="#000"/>
<line x1="204.8" y1="319.2" x2="181.99" y2="319.2" stroke="#000" stroke-width="0.9" />
<path d="M178.7 319.2L183.4 316.95L182.46 319.2L183.4 321.45Z" fill="#000"/>
<path d="M214 322.4C213.4 320 212.2 318.6 212.2 316C212.2 313.6 213.2 311.8 213.8 309.6C214.4 307.4 215.6 306.4 215.2 304.2C214.8 302.2 213.4 300.8 212.2 299.2C213.6 299.6 215.4 300.6 216.8 302.4C218.4 304.4 219.2 306 218.8 308.4C218.4 310.8 217.6 312.4 216.6 314.4C215.6 316.4 214.8 318 215 319.6C215.1 320.6 215.4 321.4 215.4 322.4Z" fill="#c2c2c2"/>
<path d="M213.6 318C213.2 315 214.6 312.6 215.6 310.2C216.6 307.8 217.4 306.2 216.6 304" fill="none" stroke="#e4e4e4" stroke-width="0.9"/>
<rect x="214" y="322.6" width="38" height="4.5" rx="1" fill="#f1f1f1" stroke="#d8d8d8" stroke-width="0.4"/>
<rect x="238.4" y="322.6" width="13.6" height="4.5" rx="0.8" fill="#f0a12c"/>
<rect x="214" y="322.6" width="2.4" height="4.5" rx="0.8" fill="#d9552b"/>
<rect x="216.4" y="322.6" width="1.5" height="4.5" fill="#9a9a9a"/>
<text x="-1" y="727.4" font-size="24.6" font-weight="normal" text-anchor="start" font-family='"Liberation Serif", "Times New Roman", serif' fill="#000"  stroke="#000" stroke-width="0.18">k)</text>
<g transform="translate(55.9 724.6)">
<path d="M-3.4 14.6V18C-7 19 -12.5 19.6 -15.6 22.4C-18.6 25.4 -20.2 36 -21.4 46.7H21.4C20.2 36 18.6 25.4 15.6 22.4C12.5 19.6 7 19 3.4 18V14.6Z" fill="#f2f2f2" stroke="#e2e2e2" stroke-width="0.5"/>
<path d="M-14.2 31C-14.6 37 -15.6 42 -16.4 46.7M14.2 31C14.6 37 15.6 42 16.4 46.7" stroke="#dadada" stroke-width="0.5" fill="none"/>
<path d="M-5.2 5.5C-5.2 -1.2 5.2 -1.2 5.2 5.5C5.2 10 3.4 15.8 0 15.8C-3.4 15.8 -5.2 10 -5.2 5.5Z" fill="#ebebeb" stroke="#dcdcdc" stroke-width="0.4"/>
<path d="M-5.6 6.5C-6.6 -2.2 6.6 -2.2 5.6 6.5C5.2 3.8 4 2.8 2.6 3.2C0.6 3.8 -2.6 3.6 -4 3C-5 3.4 -5.4 4.8 -5.6 6.5Z" fill="#b9b9b9"/>
<path d="M-2.2 8.2h1.6M0.8 8.2h1.6M-0.2 9v2.2M-1.2 13h2.4" stroke="#d4d4d4" stroke-width="0.45" fill="none"/>
<clipPath id="lungclip"><path d="M-1.5 22.6C-4.6 20.2 -8.2 24.6 -9.4 31.6C-10.6 38.6 -10.4 45.4 -8.4 46.4C-5.2 47.4 -1.6 44.6 -1.2 41ZM1.5 22.6C4.6 20.2 8.2 24.6 9.4 31.6C10.6 38.6 10.4 45.4 8.4 46.4C5.2 47.4 1.6 44.6 1.2 41Z"/></clipPath>
<g clip-path="url(#lungclip)"><rect x="-12" y="20" width="24" height="28" fill="#e6abb3"/><path d="M-12 37.6Q-5 35 0 38.4Q5 35 12 37.6V48H-12Z" fill="#d0636e"/><path d="M-9 28q3 2 6.5 0.5M-9.6 32.5q3.5 2 7.8 0.4M9 28q-3 2 -6.5 0.5M9.6 32.5q-3.5 2 -7.8 0.4" stroke="#d994a0" stroke-width="0.4" fill="none"/></g>
<path d="M-1.3 29h3.2v6.6q0 1.3 -1.2 1.3h-0.9q-1.1 0 -1.1 -1.3z" fill="#fafafa"/>
<path d="M-1.9 17l0.9 1.6v9.6h2v-9.6l0.9 -1.6z" fill="#3d66aa"/>
<path d="M-1 42.4q1 -1.4 2 0l0.4 3.8h-2.8z" fill="#c2525e"/>
</g>
<text x="56.6" y="783.2" font-size="10.9" font-weight="normal" text-anchor="middle" font-family='"Liberation Serif", "Times New Roman", serif' fill="#000"  stroke="#000" stroke-width="0.18">COPD IV</text>
<line x1="86.1" y1="746.7" x2="109.61" y2="746.7" stroke="#000" stroke-width="0.9" />
<path d="M112.9 746.7L108.2 744.45L109.14 746.7L108.2 748.95Z" fill="#000"/>
<circle cx="126.6" cy="731.1" r="2.2" fill="#1c897b"/>
<circle cx="137.2" cy="731.1" r="2.2" fill="#1c897b"/>
<circle cx="151.9" cy="731.1" r="2.2" fill="#1c897b"/>
<circle cx="124.1" cy="739.8" r="2.2" fill="#1c897b"/>
<circle cx="131.5" cy="741.5" r="2.2" fill="#1c897b"/>
<circle cx="139.5" cy="739.3" r="2.2" fill="#1c897b"/>
<circle cx="148.4" cy="738.5" r="2.2" fill="#1c897b"/>
<circle cx="157.1" cy="738.5" r="2.2" fill="#1c897b"/>
<circle cx="129" cy="747.7" r="2.2" fill="#1c897b"/>
<circle cx="140.2" cy="747.2" r="2.2" fill="#1c897b"/>
<circle cx="150.1" cy="747.2" r="2.2" fill="#1c897b"/>
<circle cx="122.3" cy="751.7" r="2.2" fill="#1c897b"/>
<circle cx="134" cy="753.4" r="2.2" fill="#1c897b"/>
<circle cx="145.2" cy="753.9" r="2.2" fill="#1c897b"/>
<circle cx="155.8" cy="753.4" r="2.2" fill="#1c897b"/>
<text x="143.2" y="768.8" font-size="10.9" font-weight="normal" text-anchor="middle" font-family='"Liberation Serif", "Times New Roman", serif' fill="#000"  stroke="#000" stroke-width="0.18">EpCAM<tspan dy="-3.6" font-size="6.4">+</tspan></text>
<use href="#fibro" transform="translate(243 736.9) rotate(-1)"/>
<use href="#fibro" transform="translate(263.8 738.8) rotate(-2)"/>
<use href="#fibro" transform="translate(281.3 734.2) rotate(1)"/>
<use href="#fibro" transform="translate(244.6 741.9) rotate(1)"/>
<use href="#fibro" transform="translate(266.5 744.5) rotate(-1)"/>
<use href="#fibro" transform="translate(287.9 741.3) rotate(0)"/>
<use href="#fibro" transform="translate(241.1 748.7) rotate(1)"/>
<use href="#fibro" transform="translate(261 750.9) rotate(-2)"/>
<use href="#fibro" transform="translate(284.6 748.7) rotate(0)"/>
<text x="262.4" y="770.8" font-size="10.9" font-weight="normal" text-anchor="middle" font-family='"Liberation Serif", "Times New Roman", serif' fill="#000"  stroke="#000" stroke-width="0.18">MRC5</text>
<path d="M171.2 755.2C186.2 755.2 198 764.2 198 775.5" fill="none" stroke="#000" stroke-width="0.9"/>
<path d="M225 755.2C210 755.2 198 764.2 198 775.5" fill="none" stroke="#000" stroke-width="0.9"/>
<path d="M198 778.5L195.8 773.9L198 774.9L200.2 773.9Z" fill="#000"/>
<use href="#transwell" x="167.6" y="788.3"/>
<use href="#evicon" x="77.2" y="796.8"/>
<use href="#sficon" x="77" y="829"/>
<text x="103.7" y="807.3" font-size="10.9" font-weight="normal" text-anchor="start" font-family='"Liberation Serif", "Times New Roman", serif' fill="#000"  stroke="#000" stroke-width="0.18">EVs</text>
<text x="112.8" y="823.6" font-size="10.9" font-weight="normal" text-anchor="middle" font-family='"Liberation Serif", "Times New Roman", serif' fill="#000"  stroke="#000" stroke-width="0.18">or</text>
<text x="104.2" y="840.3" font-size="10.9" font-weight="normal" text-anchor="start" font-family='"Liberation Serif", "Times New Roman", serif' fill="#000"  stroke="#000" stroke-width="0.18">SFs</text>
<line x1="133.3" y1="820.9" x2="156.71" y2="820.9" stroke="#000" stroke-width="0.9" />
<path d="M160 820.9L155.3 818.65L156.24 820.9L155.3 823.15Z" fill="#000"/>
<text x="4.6" y="142.3" font-size="24.6" font-weight="normal" text-anchor="start" font-family='"Liberation Serif", "Times New Roman", serif' fill="#000"  stroke="#000" stroke-width="0.18">b)</text>
<text x="52.4" y="137.3" font-size="13.5" font-weight="normal" text-anchor="middle" font-family='"Liberation Serif", "Times New Roman", serif' fill="#000"  stroke="#000" stroke-width="0.18">Control</text>
<text x="132" y="137.3" font-size="13.5" font-weight="normal" text-anchor="middle" font-family='"Liberation Serif", "Times New Roman", serif' fill="#000"  stroke="#000" stroke-width="0.18">EVs</text>
<text x="213.5" y="137.3" font-size="13.5" font-weight="normal" text-anchor="middle" font-family='"Liberation Serif", "Times New Roman", serif' fill="#000"  stroke="#000" stroke-width="0.18">SFs</text>
<defs>
<filter id="grain" x="0" y="0" width="100%" height="100%"><feTurbulence type="fractalNoise" baseFrequency="0.9" numOctaves="2" seed="4" result="n"/><feColorMatrix type="matrix" values="0 0 0 0 0  0 0 0 0 0  0 0 0 0 0  0.9 0.9 0.9 0 -0.95"/></filter>
<filter id="b06" x="-60%" y="-60%" width="220%" height="220%"><feGaussianBlur stdDeviation="0.6"/></filter>
<filter id="b04" x="-60%" y="-60%" width="220%" height="220%"><feGaussianBlur stdDeviation="0.75"/></filter>
<filter id="mottle" x="-15%" y="-15%" width="130%" height="130%"><feTurbulence type="fractalNoise" baseFrequency="0.42" numOctaves="2" seed="7" result="n"/><feColorMatrix in="n" type="matrix" values="0 0 0 0 0  0 0 0 0 0  0 0 0 0 0  1.9 0 0 0 -0.22" result="a"/><feComposite in="SourceGraphic" in2="a" operator="in"/><feGaussianBlur stdDeviation="0.45"/></filter>
<filter id="b1" x="-60%" y="-60%" width="220%" height="220%"><feGaussianBlur stdDeviation="0.95"/></filter>
<filter id="b2" x="-60%" y="-60%" width="220%" height="220%"><feGaussianBlur stdDeviation="2"/></filter>
<filter id="b4" x="-60%" y="-60%" width="220%" height="220%"><feGaussianBlur stdDeviation="4"/></filter>
<radialGradient id="bf1" cx="0.5" cy="0.42" r="0.6"><stop offset="0" stop-color="#cfcfcf"/><stop offset="0.55" stop-color="#b0b0b0"/><stop offset="0.85" stop-color="#787878"/><stop offset="1" stop-color="#3a3a3a"/></radialGradient>
<linearGradient id="bf1l" x1="0" y1="0.5" x2="1" y2="0.4"><stop offset="0" stop-color="#202020" stop-opacity="0.75"/><stop offset="0.22" stop-color="#202020" stop-opacity="0.4"/><stop offset="0.5" stop-color="#202020" stop-opacity="0"/><stop offset="0.9" stop-color="#202020" stop-opacity="0"/><stop offset="1" stop-color="#202020" stop-opacity="0.35"/></linearGradient>
<radialGradient id="clumpg"><stop offset="0" stop-color="#0c0c0c" stop-opacity="0.95"/><stop offset="0.45" stop-color="#141414" stop-opacity="0.8"/><stop offset="0.8" stop-color="#1c1c1c" stop-opacity="0.3"/><stop offset="1" stop-color="#1c1c1c" stop-opacity="0"/></radialGradient>
<radialGradient id="bf2" cx="0.5" cy="0.5" r="0.56"><stop offset="0" stop-color="#cecece"/><stop offset="0.7" stop-color="#bababa"/><stop offset="0.92" stop-color="#8a8a8a"/><stop offset="1" stop-color="#5a5a5a"/></radialGradient>
<radialGradient id="bf3" cx="0.52" cy="0.44" r="0.57"><stop offset="0" stop-color="#dadada"/><stop offset="0.4" stop-color="#bcbcbc"/><stop offset="0.75" stop-color="#626262"/><stop offset="1" stop-color="#1c1c1c"/></radialGradient>
<clipPath id="cc1"><circle cx="51.7" cy="179.3" r="38.8"/></clipPath>
<clipPath id="cc2"><circle cx="132.7" cy="178.2" r="38.8"/></clipPath>
<clipPath id="cc3"><circle cx="214.7" cy="178.5" r="38.9"/></clipPath>
</defs>
<g clip-path="url(#cc1)">
<circle cx="51.7" cy="179.3" r="38.8" fill="url(#bf1)"/>
<circle cx="51.7" cy="179.3" r="38.8" fill="url(#bf1l)"/>
<g filter="url(#b06)">
<path d="M23.96 187.86h0M75.23 167.16h0M22 177.84h0M62.78 204.75h0M28.03 154.13h0M69.44 191.22h0M81.1 198.13h0M48.94 171.86h0M89.57 175.05h0M34.42 154.24h0M54.31 183.27h0M42.38 177.62h0M58.7 197.05h0M77.66 184.27h0M18.55 192.3h0M20.88 175.58h0M20.12 179.35h0M31.97 184.72h0M90.41 178.73h0M69.23 151.76h0M44.29 196.35h0M49.2 189.27h0M54.21 154.88h0M65.46 159.49h0M86.18 169.99h0M69.47 179.36h0M74.18 165.09h0M75.97 176.29h0M79.3 192.94h0M55.29 159.47h0M70.8 190.95h0M84.62 171.74h0M65.9 192.31h0M59.35 184.93h0M56.46 163.65h0M27.53 169.85h0M63.79 210.21h0M72.87 202.12h0M70.42 196.12h0M56.36 198.91h0M85.9 172.98h0M39.52 213.71h0M57.65 202.92h0M70.66 154.66h0M82.87 202.05h0M56.21 198.5h0M54.86 157.27h0M48.68 189.37h0M76.7 195.19h0M53.02 209.36h0M33.62 198.15h0M77.8 172.45h0M19.47 162.99h0M57.94 193.2h0M81.14 160.21h0M51.75 196.2h0M49.2 141.76h0M64.16 215.01h0M73.95 158.97h0M40.69 185.22h0M88.65 188.47h0M54.07 211.78h0M50.16 214.48h0M34.43 167.33h0M66.57 208.68h0M68.54 187.07h0M18.34 166.25h0M36.23 165.78h0M66.91 170.6h0M71.72 181.39h0M42.71 182.49h0M62.23 200.38h0M39.05 173.13h0M27.98 207.2h0M82.91 175.46h0M40.99 151.64h0M56.32 184.91h0M88.48 183.45h0M40.16 143.02h0M82.37 183.42h0M18.74 182.99h0M35.43 214.51h0M77.23 192.36h0M48.7 142.61h0M49.06 146.86h0M61.67 143.55h0M32.52 205.06h0M81.11 158.17h0M21.77 196.46h0M70.91 157.09h0M34.73 162.34h0M25.42 164.27h0M78.87 194.28h0M88.06 177.77h0M48.4 155.34h0M48.92 149.86h0M18.63 192.27h0M80.76 196.19h0M81.26 184.9h0M33.22 181.52h0M42.97 153.37h0M23.7 154.77h0M51.55 183.42h0M41.63 209.62h0M56.39 194.57h0M77.85 161.7h0M17.47 192.37h0M36.98 207.33h0M59.8 203.45h0M64.48 144.47h0M69.26 162.86h0M32.78 168.41h0M69.63 199.94h0M70.3 148.78h0M42.58 142.6h0M49.03 195.03h0M32.32 185.51h0M57.29 203.63h0M32.51 159.93h0M37.51 211.89h0M77.63 176.36h0M57.84 182.41h0M57.21 173.64h0M44.17 150.98h0M39.19 211.47h0M65.9 181.01h0M45.84 181.01h0M60.77 162.71h0M57.02 185.81h0M33.86 160.49h0M30.2 156.41h0M65.1 143.76h0M44.77 163.42h0M35.5 181.85h0M78.3 181.1h0M48.03 163.29h0M48.51 201.89h0M42.6 152.83h0M26.31 157.07h0M24.62 200.72h0M61.23 172.93h0M81.76 165.75h0M69.6 198.34h0M25.62 153.04h0M30.77 199.76h0M76.85 155.48h0M76.52 170.23h0M41.5 165.01h0M45.54 144.74h0M31.01 153.76h0M60.11 215.13h0M89.77 174.61h0M18.12 171.36h0M35.86 212.75h0M65.83 161.27h0M74.06 192.1h0M19.38 168.73h0M45.18 179.82h0M55.27 170.15h0M56.67 163.95h0M34.17 208.94h0M61.2 190.86h0M18.87 175.88h0M68.96 152.1h0M77.36 170.2h0M62.5 175.73h0M56.73 207h0M43.43 211.37h0M33.66 157.81h0M67.81 155.15h0M42.64 201.48h0M72.45 148.88h0M60.98 213.86h0M79.24 173.77h0M36.1 171.6h0M24.87 173.14h0M46.6 175.33h0M79.06 173.98h0M23.53 199.61h0M26.6 168.84h0M48.09 170.02h0M27.48 173.29h0M87.62 169.32h0M48.49 205.8h0M69.54 197.59h0M66.48 145.57h0M30.08 182.51h0M62.67 207.76h0M64.15 172.98h0M52.77 173.54h0" stroke="#1a1a1a" stroke-width="0.7" stroke-linecap="round" fill="none" opacity="0.5"/>
<path d="M58.06 196.67h0M43.21 158.98h0M32.93 203.39h0M77.92 199.61h0M71.57 198.63h0M51.64 196.55h0M26.52 174.44h0M33.98 196.86h0M36.46 176.46h0M60.44 208.86h0M33.49 157.72h0M69.73 154.89h0M63.33 164.64h0M49.68 144.43h0M69.56 166.78h0M36.9 213.51h0M59.41 217.29h0M62.5 170.08h0M53.91 212.3h0M50.98 191.36h0M64.14 157.39h0M55.12 165.96h0M25.39 197.72h0M68.98 181.24h0M36.43 145.55h0M64.62 176.7h0M17.94 178.09h0M19.58 178.74h0M55.55 188.86h0M57.6 183.94h0M25.31 170.42h0M38.21 173.08h0M58.71 195.36h0M72.43 146.73h0M62.43 173.99h0M86.72 193.66h0M18.73 187.31h0M39.39 202.78h0M26.37 176.86h0M48.1 176.65h0M40.9 145.32h0M62.64 203.04h0M50.05 154.65h0M57.03 194.14h0M46.9 178.92h0M78.91 157.7h0M41.59 144.75h0M34.74 161.38h0M29.37 163.16h0M86.3 175.52h0M49.78 216.29h0M50.5 145.1h0M61.46 156.6h0M80.67 157.27h0M40.15 147.34h0M54.06 154.7h0M49.94 169.15h0M37.22 201.58h0M74.79 180.84h0M31.97 155.84h0M55.93 216.77h0M40.35 159.81h0M35.97 154.6h0M28 174.3h0M82.79 179.28h0M41.49 147.01h0M57.52 178.57h0M26.74 157.18h0M50.68 203.87h0M68 184.65h0M43.06 187.87h0M51.49 216.22h0M25.41 170.75h0M80.32 173.3h0M82.68 178.35h0M55.61 169.33h0M24.04 159.85h0M87.63 189.77h0M65.99 201.79h0M64.99 203.16h0M44.51 173.26h0M75.39 170.82h0M22.12 174.28h0M37.93 194.81h0M35.39 155.26h0M44.83 211.42h0M50.39 183.7h0M51.95 187.32h0M70.37 207.36h0M23.38 202.74h0M51.61 170.61h0M89.31 176.64h0M84.75 195.75h0M27.47 190.79h0M70.58 176.09h0" stroke="#1a1a1a" stroke-width="1.1" stroke-linecap="round" fill="none" opacity="0.6"/>
<path d="M14.54 173.81h0M47.17 153.14h0M86.45 174.65h0M41.23 171.32h0M33.09 160.87h0M54.24 187.78h0M38.23 176.9h0M22.01 190.44h0M32.6 184.78h0M29.85 166.88h0M56.64 151.47h0M89.57 178.74h0M49.83 160.45h0M79.37 203.35h0M58.26 149.34h0M38.89 194.94h0M40.12 152.53h0M25.81 162.48h0M52.06 162.4h0M51.95 217.7h0M83.09 160.93h0M60.97 181.65h0M48.38 204.38h0M42.83 170.61h0M41.61 176.6h0M79.02 195.79h0M22.42 169.66h0M32.94 198.49h0M57.27 201.35h0M50.55 143.79h0M63.69 185.35h0M62.83 150.75h0M53.81 161.51h0M34.17 188.32h0M60.36 157.38h0M29.74 147.57h0M38.59 204.87h0M50.79 142.08h0M30.52 189.65h0M81.46 200.08h0M61.55 184.59h0M26.85 168.69h0M43.32 159.82h0M53.41 168.74h0M58.92 210.03h0M70.33 189.8h0M46.64 147.38h0" stroke="#1a1a1a" stroke-width="1.7" stroke-linecap="round" fill="none" opacity="0.65"/>
<path d="M48.69 193.66h0M30.98 205.06h0M42.82 189.19h0M44.29 150.98h0M84.5 160.88h0M73.67 166h0M58.71 159.06h0M41.59 201.65h0M85.35 164.65h0M51.95 202.63h0M36.17 196.79h0M32.56 194.03h0M61.58 206.71h0M60.02 152.01h0M66.73 154.38h0M66.74 209.57h0M66.78 165.29h0M79.29 183.18h0M23.59 171.3h0" stroke="#1a1a1a" stroke-width="2.6" stroke-linecap="round" fill="none" opacity="0.7"/>
<path d="M82.32 172.74h0M54.99 170.05h0M18.74 169.31h0M61.28 184.89h0M48.71 142.63h0M78.32 194.98h0M72.42 205.63h0" stroke="#1a1a1a" stroke-width="3.6" stroke-linecap="round" fill="none" opacity="0.72"/>
<ellipse cx="78.1" cy="175.7" rx="11.7" ry="14.8" fill="#919191" stroke="#2e2e2e" stroke-width="0.9"/>
<ellipse cx="21.9" cy="199.5" rx="8.2" ry="11" fill="#5e5e5e" stroke="#2e2e2e" stroke-width="0.9"/>
<g opacity="0.88" fill="url(#clumpg)">
<ellipse cx="37.8" cy="177.5" rx="4.12" ry="5.25"/>
<ellipse cx="36.43" cy="175.13" rx="2.26" ry="2.88"/>
<ellipse cx="38.23" cy="180.39" rx="2.86" ry="3.65"/>
<ellipse cx="35.51" cy="177.1" rx="2.86" ry="3.64"/>
<ellipse cx="35.98" cy="179.31" rx="2.37" ry="3.02"/>
</g>
<g opacity="0.77" fill="url(#clumpg)">
<ellipse cx="72.5" cy="159.5" rx="4.25" ry="3.75"/>
<ellipse cx="74.83" cy="159.08" rx="2.84" ry="2.51"/>
<ellipse cx="70.12" cy="159.58" rx="2.68" ry="2.36"/>
<ellipse cx="72.07" cy="157.43" rx="2.88" ry="2.54"/>
<ellipse cx="74.55" cy="158.43" rx="2.53" ry="2.23"/>
</g>
<g opacity="0.83" fill="url(#clumpg)">
<ellipse cx="50" cy="195" rx="2.5" ry="3"/>
<ellipse cx="50.65" cy="193.51" rx="1.67" ry="2"/>
<ellipse cx="50.85" cy="193.66" rx="1.76" ry="2.12"/>
<ellipse cx="50.7" cy="193.55" rx="1.82" ry="2.19"/>
<ellipse cx="51.35" cy="194.56" rx="1.65" ry="1.98"/>
</g>
<g opacity="0.83" fill="url(#clumpg)">
<ellipse cx="78.5" cy="203" rx="3.25" ry="3"/>
<ellipse cx="76.7" cy="202.75" rx="2.21" ry="2.04"/>
<ellipse cx="79.09" cy="201.41" rx="1.94" ry="1.79"/>
<ellipse cx="76.9" cy="203.81" rx="1.69" ry="1.56"/>
<ellipse cx="78.4" cy="201.32" rx="2.46" ry="2.27"/>
</g>
<g opacity="0.66" fill="url(#clumpg)">
<ellipse cx="34.5" cy="150" rx="3" ry="2.75"/>
<ellipse cx="33.31" cy="151.09" rx="1.58" ry="1.45"/>
<ellipse cx="34.98" cy="151.48" rx="1.8" ry="1.65"/>
<ellipse cx="34.06" cy="151.49" rx="2.25" ry="2.07"/>
<ellipse cx="36.07" cy="150.56" rx="1.7" ry="1.56"/>
</g>
<g opacity="0.77" fill="url(#clumpg)">
<ellipse cx="55" cy="210.5" rx="2.75" ry="2.5"/>
<ellipse cx="56.16" cy="211.42" rx="1.82" ry="1.65"/>
<ellipse cx="55.25" cy="209.12" rx="1.46" ry="1.33"/>
<ellipse cx="56.42" cy="211.03" rx="1.67" ry="1.52"/>
<ellipse cx="53.67" cy="209.79" rx="2.02" ry="1.84"/>
</g>
<g opacity="0.66" fill="url(#clumpg)">
<ellipse cx="62.8" cy="181" rx="2.25" ry="3"/>
<ellipse cx="64.03" cy="181.38" rx="1.15" ry="1.53"/>
<ellipse cx="63.3" cy="182.54" rx="1.22" ry="1.62"/>
<ellipse cx="62.92" cy="182.67" rx="1.53" ry="2.04"/>
<ellipse cx="61.76" cy="180.06" rx="1.22" ry="1.63"/>
</g>
<g opacity="0.66" fill="url(#clumpg)">
<ellipse cx="18.5" cy="170" rx="2" ry="2.5"/>
<ellipse cx="18.94" cy="171.28" rx="1.12" ry="1.4"/>
<ellipse cx="19.02" cy="171.24" rx="1.38" ry="1.73"/>
<ellipse cx="18.08" cy="171.3" rx="1.27" ry="1.58"/>
<ellipse cx="18.96" cy="168.72" rx="1.23" ry="1.54"/>
</g>
</g>
<rect x="12.9" y="140.5" width="77.6" height="77.6" filter="url(#grain)" opacity="0.28"/>
</g>
<line x1="38.3" y1="199.8" x2="64.8" y2="199.8" stroke="#fff" stroke-width="1.3" />
<g clip-path="url(#cc2)">
<circle cx="132.7" cy="178.2" r="38.8" fill="url(#bf2)"/>
<g filter="url(#b06)">
<path d="M166.36 161.02h0M141.45 171.18h0M111.55 164.4h0M118.94 175.57h0M141.92 202.37h0M137.44 203.94h0M143.93 179.96h0M126.44 153.81h0M99.56 175.56h0M126.81 185.41h0M138.85 149.06h0M115.98 152.6h0M155.68 173.93h0M134.15 154.69h0M104.34 164.41h0M128.23 188.64h0M100.26 183.53h0M110.84 164.21h0M122.34 165.29h0M142.28 198.08h0M139.6 162.49h0M141.87 186.22h0M152.46 183.13h0M101.17 162.67h0M121.23 198.81h0M127.57 199h0M137.66 149.88h0M132.03 190.88h0M139.58 146.31h0M141.67 161.53h0M97.02 167.72h0M101.19 157.45h0M151.73 211.45h0M156.2 186.82h0M167.24 183.31h0M117.98 142.85h0M145.49 142.64h0M95.26 168.94h0M132.56 155.37h0M156.22 174.38h0M136.43 188.22h0M115.89 181.85h0M167.28 162.87h0M135.35 190.4h0M116.98 175.31h0M99.03 168.73h0M132.22 203.39h0M153.72 163.11h0M112.52 208.8h0M147.02 144.4h0M123.2 155.16h0M120.32 145.1h0M120.58 163.64h0M125.73 202.04h0M136.63 149.51h0M99.15 167.31h0M156.64 197.62h0M118.32 203.41h0M142.58 161.58h0M143.08 174.94h0M106.28 167.35h0M135.42 207.13h0M107.12 182.96h0M132.22 175.81h0M108.05 202.18h0M155.41 206.31h0M141.91 208.87h0M144.77 201.24h0M122.89 183.39h0M124.33 152.65h0M122.05 151.78h0M106.27 168.52h0M121.82 213.34h0M163.81 196.96h0M150.6 157.49h0M138.07 146.82h0M116.15 165.35h0M122.98 198.97h0M120.46 214.19h0M119.59 198.49h0M102.02 195.18h0M104.11 182.22h0M132 198.65h0M148.03 187.8h0M129.58 213.88h0M119.81 178h0M119.58 181.33h0M109.09 167.8h0M145.13 162.84h0M144.13 162.64h0M163.41 174.83h0M166.31 187.44h0M128.95 201.25h0M154.18 206.47h0M160.81 196.13h0M107.34 197.69h0M129.8 188.66h0M159.74 162.25h0M151.24 211.76h0M146.8 169.48h0M162.81 181.83h0M153.99 203.66h0M100.65 184.55h0M101.86 163.74h0M145.81 151.07h0M114.08 166.15h0M140.55 187.01h0M143.66 164.42h0M113.15 187.92h0M112 158.85h0M148.91 158.36h0M112.45 202.08h0M131.48 140.89h0M118.86 212.01h0M170.9 173.72h0M149.16 195.55h0M138.01 143.23h0M156.34 184.19h0M127.24 144.86h0M115.33 174.31h0M124.88 183.39h0M122.53 201.44h0M145.88 151.49h0M116.18 188.06h0M120.03 207.34h0M117.49 183.62h0M145.52 151.7h0M160.53 172.44h0M114.54 160.48h0M103.79 154.8h0M164.03 174.5h0M123.9 182.32h0M145.73 157.72h0M125.84 184.44h0M156.39 183.36h0M165.67 172.92h0M124.58 147.53h0M130.42 193.97h0M124.87 172.33h0M109.02 163.57h0" stroke="#1a1a1a" stroke-width="0.7" stroke-linecap="round" fill="none" opacity="0.5"/>
<path d="M119.66 174.63h0M157.02 189.2h0M151.66 202.82h0M121.53 206.65h0M132.74 147.98h0M115.8 174.8h0M110.7 209.64h0M130.29 198.75h0M104.06 179.41h0M138.04 157.8h0M138.33 176.86h0M140.05 149.85h0M145.05 169.37h0M118.63 143.16h0M126.22 166.92h0M166.29 159.99h0M159.78 200.83h0M142.42 183.49h0M141.96 146.61h0M162.43 170h0M112.52 176.71h0M98.03 161.12h0M110.75 149.28h0M143.48 209.67h0M131.52 167.94h0M139.65 163.48h0M134.66 187.6h0M125.07 165.71h0M132.94 178.16h0M145.04 146.73h0M106.09 165.82h0M141.89 148.64h0M154.88 204.8h0M114.7 201.75h0M95.92 175.32h0M101.92 196.57h0M152 189.09h0M118.17 151.55h0M141.45 162.82h0M144.26 145.58h0M141.74 189.55h0M99.5 159.05h0M113.53 161.57h0M97.82 176.69h0M104.55 174.23h0M101.49 157.48h0M143.77 144.42h0M129.64 208.1h0M147.27 148.73h0M168.13 167.13h0M151.93 198.08h0M121.69 191.9h0M94.22 178.01h0M134.1 166.06h0M133.04 201.79h0M152.45 160.83h0M148.19 202.45h0M132.83 185.8h0M100.44 156.96h0M138.1 145.35h0M149.4 202.01h0M110.65 152.57h0M124.24 181.14h0M150.67 169.43h0M130.78 151.83h0M136.81 156.03h0M153.92 192.13h0M98.43 182.53h0M106.64 196.21h0M109.02 201.49h0" stroke="#1a1a1a" stroke-width="1.1" stroke-linecap="round" fill="none" opacity="0.6"/>
<path d="M149.38 210.55h0M138.31 176.15h0M154.25 151.61h0M128.27 166.37h0M129.04 144.31h0M105.98 151.05h0M161.88 168.1h0M145.81 171.52h0M124.26 205.15h0M95.21 172.82h0M112.61 155.14h0M105.4 152.15h0M105.66 197.74h0M112.8 163.71h0M124.63 191.09h0M155.14 179.74h0M129.27 188.71h0M109.81 180.29h0M163.34 162.83h0M114.54 147.45h0M130.66 191.27h0M118.42 166.43h0M157.88 175.83h0M147.22 165.58h0M158.25 195.27h0M125.81 159.82h0M167 161.21h0M117.94 142.71h0M147.55 176.62h0M128.57 144.94h0M130.13 155.74h0M104.04 170.2h0M137.87 171.08h0M117.28 193.58h0M136.12 165.4h0" stroke="#1a1a1a" stroke-width="1.7" stroke-linecap="round" fill="none" opacity="0.65"/>
<path d="M144.9 183.18h0M151.79 195.25h0M148.07 160.92h0M158.26 197.05h0M118.14 203.66h0M132.31 152.01h0M129.5 147.83h0M152.92 151.02h0M159.97 158.7h0M127.16 205.2h0M137.49 144.17h0M128.31 142.85h0M145.59 152.74h0M127.54 171.93h0" stroke="#1a1a1a" stroke-width="2.6" stroke-linecap="round" fill="none" opacity="0.7"/>
<path d="M99.95 182.87h0M163.29 159.72h0M115.44 185.12h0M156.37 157.48h0M135.4 185.23h0" stroke="#1a1a1a" stroke-width="3.6" stroke-linecap="round" fill="none" opacity="0.72"/>
<ellipse cx="144.2" cy="187.2" rx="8.6" ry="9.2" fill="#b4b4b4" stroke="#2e2e2e" stroke-width="0.9"/>
<ellipse cx="108.8" cy="160.5" rx="6" ry="7.4" fill="#7c7c7c" stroke="#2e2e2e" stroke-width="0.9"/>
<g opacity="0.61" fill="url(#clumpg)">
<ellipse cx="108.6" cy="155.6" rx="5.5" ry="4.25"/>
<ellipse cx="110.82" cy="153.95" rx="3.53" ry="2.73"/>
<ellipse cx="110.98" cy="157.11" rx="4.16" ry="3.22"/>
<ellipse cx="105.97" cy="154.36" rx="3.81" ry="2.94"/>
<ellipse cx="109.67" cy="153.37" rx="3.03" ry="2.34"/>
</g>
<g opacity="0.88" fill="url(#clumpg)">
<ellipse cx="127" cy="143.5" rx="3.25" ry="3.25"/>
<ellipse cx="125.2" cy="143.24" rx="1.72" ry="1.72"/>
<ellipse cx="125.62" cy="142.32" rx="1.96" ry="1.96"/>
<ellipse cx="127.45" cy="141.74" rx="1.67" ry="1.67"/>
<ellipse cx="127.5" cy="145.25" rx="1.91" ry="1.91"/>
</g>
<g opacity="0.83" fill="url(#clumpg)">
<ellipse cx="147.5" cy="147.5" rx="3.25" ry="3.25"/>
<ellipse cx="149.32" cy="147.52" rx="1.93" ry="1.93"/>
<ellipse cx="149.27" cy="147.08" rx="2.35" ry="2.35"/>
<ellipse cx="148.27" cy="149.15" rx="2.32" ry="2.32"/>
<ellipse cx="147.78" cy="149.3" rx="1.78" ry="1.78"/>
</g>
<g opacity="0.77" fill="url(#clumpg)">
<ellipse cx="154" cy="152.5" rx="3.25" ry="3.5"/>
<ellipse cx="152.82" cy="151.01" rx="1.83" ry="1.97"/>
<ellipse cx="154.55" cy="154.37" rx="1.64" ry="1.76"/>
<ellipse cx="154.81" cy="154.26" rx="1.74" ry="1.87"/>
<ellipse cx="155.55" cy="151.47" rx="1.6" ry="1.72"/>
</g>
<g opacity="0.88" fill="url(#clumpg)">
<ellipse cx="144" cy="167" rx="4.5" ry="4"/>
<ellipse cx="141.56" cy="166.44" rx="2.43" ry="2.16"/>
<ellipse cx="143.53" cy="164.8" rx="2.16" ry="1.92"/>
<ellipse cx="142.26" cy="168.62" rx="3.09" ry="2.75"/>
<ellipse cx="146.49" cy="167.36" rx="2.68" ry="2.38"/>
</g>
<g opacity="0.83" fill="url(#clumpg)">
<ellipse cx="134.5" cy="168" rx="3" ry="3.25"/>
<ellipse cx="133.73" cy="169.62" rx="1.85" ry="2"/>
<ellipse cx="133.34" cy="166.68" rx="1.51" ry="1.63"/>
<ellipse cx="135.62" cy="166.64" rx="1.67" ry="1.81"/>
<ellipse cx="134.73" cy="166.2" rx="1.55" ry="1.68"/>
</g>
<g opacity="0.83" fill="url(#clumpg)">
<ellipse cx="124" cy="163.5" rx="4" ry="3.75"/>
<ellipse cx="125.86" cy="164.67" rx="2.14" ry="2"/>
<ellipse cx="125.94" cy="164.56" rx="2.2" ry="2.06"/>
<ellipse cx="125.43" cy="165.11" rx="2.02" ry="1.89"/>
<ellipse cx="125.34" cy="161.82" rx="2.51" ry="2.35"/>
</g>
<g opacity="0.83" fill="url(#clumpg)">
<ellipse cx="122.5" cy="174" rx="3" ry="3.5"/>
<ellipse cx="120.82" cy="174.04" rx="1.87" ry="2.18"/>
<ellipse cx="123.12" cy="172.18" rx="1.48" ry="1.72"/>
<ellipse cx="124.11" cy="174.55" rx="2" ry="2.33"/>
<ellipse cx="124.18" cy="174.09" rx="1.86" ry="2.18"/>
</g>
<g opacity="0.88" fill="url(#clumpg)">
<ellipse cx="163" cy="169.5" rx="3.75" ry="4.5"/>
<ellipse cx="161.51" cy="167.72" rx="2.69" ry="3.23"/>
<ellipse cx="165.1" cy="169.51" rx="2.22" ry="2.67"/>
<ellipse cx="162.19" cy="171.83" rx="2.41" ry="2.89"/>
<ellipse cx="165.05" cy="170.02" rx="2.59" ry="3.11"/>
</g>
<g opacity="0.99" fill="url(#clumpg)">
<ellipse cx="167.5" cy="183.5" rx="4.25" ry="4"/>
<ellipse cx="169.79" cy="182.9" rx="2.69" ry="2.53"/>
<ellipse cx="166.3" cy="181.56" rx="3.03" ry="2.86"/>
<ellipse cx="168.82" cy="181.64" rx="3.02" ry="2.84"/>
<ellipse cx="165.13" cy="183.68" rx="2.14" ry="2.02"/>
</g>
<g opacity="0.88" fill="url(#clumpg)">
<ellipse cx="109.5" cy="181.5" rx="4.25" ry="4"/>
<ellipse cx="110.16" cy="179.35" rx="3.04" ry="2.86"/>
<ellipse cx="108.78" cy="179.37" rx="2.41" ry="2.27"/>
<ellipse cx="111.85" cy="181.15" rx="2.78" ry="2.62"/>
<ellipse cx="108.59" cy="183.57" rx="2.98" ry="2.8"/>
</g>
<g opacity="0.94" fill="url(#clumpg)">
<ellipse cx="119" cy="187.5" rx="5.25" ry="5.75"/>
<ellipse cx="119.48" cy="190.68" rx="2.87" ry="3.15"/>
<ellipse cx="121.43" cy="185.69" rx="2.6" ry="2.85"/>
<ellipse cx="121.01" cy="185.15" rx="3.1" ry="3.4"/>
<ellipse cx="116.36" cy="186.09" rx="3.54" ry="3.87"/>
</g>
<g opacity="0.77" fill="url(#clumpg)">
<ellipse cx="126" cy="193.5" rx="2.75" ry="3.25"/>
<ellipse cx="127.26" cy="192.45" rx="1.49" ry="1.76"/>
<ellipse cx="127.28" cy="194.5" rx="1.71" ry="2.03"/>
<ellipse cx="126.25" cy="195.3" rx="1.65" ry="1.95"/>
<ellipse cx="127.19" cy="194.66" rx="1.39" ry="1.64"/>
</g>
<g opacity="0.77" fill="url(#clumpg)">
<ellipse cx="134.5" cy="182.5" rx="3" ry="2.75"/>
<ellipse cx="132.97" cy="181.87" rx="1.48" ry="1.36"/>
<ellipse cx="134.33" cy="184.03" rx="1.77" ry="1.62"/>
<ellipse cx="135.89" cy="183.37" rx="2.12" ry="1.94"/>
<ellipse cx="135.87" cy="181.61" rx="1.47" ry="1.34"/>
</g>
<g opacity="0.94" fill="url(#clumpg)">
<ellipse cx="147" cy="209" rx="5" ry="4.5"/>
<ellipse cx="147.98" cy="206.64" rx="2.65" ry="2.38"/>
<ellipse cx="146.64" cy="206.5" rx="2.48" ry="2.24"/>
<ellipse cx="146.92" cy="206.48" rx="3.71" ry="3.33"/>
<ellipse cx="146.84" cy="211.52" rx="2.63" ry="2.37"/>
</g>
<g opacity="0.83" fill="url(#clumpg)">
<ellipse cx="134" cy="211" rx="3.25" ry="3"/>
<ellipse cx="133.02" cy="212.42" rx="2.34" ry="2.16"/>
<ellipse cx="134.34" cy="209.35" rx="1.7" ry="1.57"/>
<ellipse cx="135.48" cy="210.03" rx="2.23" ry="2.06"/>
<ellipse cx="135.75" cy="210.55" rx="2.45" ry="2.26"/>
</g>
<g opacity="0.77" fill="url(#clumpg)">
<ellipse cx="159" cy="201.5" rx="3.5" ry="3"/>
<ellipse cx="160.07" cy="202.91" rx="2.39" ry="2.05"/>
<ellipse cx="160.94" cy="201.76" rx="1.87" ry="1.6"/>
<ellipse cx="157.09" cy="201.12" rx="1.91" ry="1.64"/>
<ellipse cx="159.39" cy="203.15" rx="2.03" ry="1.74"/>
</g>
<g opacity="0.77" fill="url(#clumpg)">
<ellipse cx="153.5" cy="196" rx="2.5" ry="3"/>
<ellipse cx="152.15" cy="196.42" rx="1.84" ry="2.21"/>
<ellipse cx="152.28" cy="195.18" rx="1.59" ry="1.91"/>
<ellipse cx="153.23" cy="194.35" rx="1.33" ry="1.6"/>
<ellipse cx="153.96" cy="194.41" rx="1.73" ry="2.08"/>
</g>
<g opacity="0.77" fill="url(#clumpg)">
<ellipse cx="98.5" cy="170" rx="2.5" ry="3.75"/>
<ellipse cx="99.05" cy="168.07" rx="1.52" ry="2.27"/>
<ellipse cx="97.15" cy="169.45" rx="1.25" ry="1.88"/>
<ellipse cx="97.15" cy="170.54" rx="1.65" ry="2.48"/>
<ellipse cx="99.83" cy="169.35" rx="1.83" ry="2.74"/>
</g>
<g opacity="0.66" fill="url(#clumpg)">
<ellipse cx="112" cy="148.5" rx="3.25" ry="3.75"/>
<ellipse cx="111.03" cy="150.28" rx="2.25" ry="2.59"/>
<ellipse cx="113.13" cy="146.85" rx="2.43" ry="2.81"/>
<ellipse cx="111.23" cy="146.6" rx="1.86" ry="2.15"/>
<ellipse cx="113.28" cy="147" rx="1.57" ry="1.82"/>
</g>
<g opacity="0.77" fill="url(#clumpg)">
<ellipse cx="158" cy="160" rx="2.25" ry="2.25"/>
<ellipse cx="156.85" cy="159.48" rx="1.37" ry="1.37"/>
<ellipse cx="158.93" cy="159.15" rx="1.47" ry="1.47"/>
<ellipse cx="158.38" cy="161.2" rx="1.18" ry="1.18"/>
<ellipse cx="159.23" cy="160.28" rx="1.55" ry="1.55"/>
</g>
</g>
<rect x="93.9" y="139.4" width="77.6" height="77.6" filter="url(#grain)" opacity="0.28"/>
</g>
<line x1="121.2" y1="199.3" x2="147.6" y2="199.3" stroke="#fff" stroke-width="1.3" />
<g clip-path="url(#cc3)">
<circle cx="214.7" cy="178.5" r="38.9" fill="url(#bf3)"/>
<g filter="url(#b06)">
<path d="M209.82 167.78h0M188.35 154.43h0M228.84 154.43h0M198.63 161.16h0M202.12 176.26h0M202.37 150.99h0M209.93 201.95h0M212.44 152.68h0M251.81 168.88h0M220.89 168.53h0M233.31 188h0M193.71 203.52h0M228.25 152.66h0M195.81 155.91h0M242.29 184.49h0M220.45 202.95h0M246.15 180.24h0M223.31 173.05h0M209.48 175.63h0M205.43 190.95h0M235.95 153h0M229.16 167.51h0M208.38 146.58h0M177.55 176h0M200.07 163.88h0M209.16 152.09h0M221.74 208.25h0M239.58 186.29h0M212.86 177.82h0M207.83 169.22h0M201.32 160.14h0M252.92 185.66h0M228.85 184.53h0M195.45 177.8h0M188.41 173.41h0M189.27 165.23h0M209.79 195.7h0M206 154.55h0M177.78 173.71h0M235.16 179.59h0M206.37 174.99h0M215.32 153.86h0M207.75 194.18h0M222.91 176.76h0M228.87 149.08h0M240.75 158.94h0M198.2 202.16h0M221.63 174.78h0M233.46 152.67h0M227.24 214.63h0M213.89 181h0M211.64 206.25h0M244.17 183.7h0M193.61 186.16h0M215.79 147.93h0M250.12 170.66h0M238.68 149.57h0M230.64 156.54h0M238.34 189.34h0M186.71 152.35h0M197.97 154.23h0M241.57 194.69h0M229.04 181.9h0M246.78 187.43h0M242.67 167.7h0M243.22 195.97h0M229.68 207.64h0M197.83 144.66h0M224.22 194.7h0M210.17 188.26h0M243.61 168.18h0M235.82 195.15h0M245.77 200.7h0M213.45 180.02h0M213.33 156.18h0M194.4 150.72h0M240.33 191.53h0M232.35 172.79h0M214.82 210.43h0M247.63 191.01h0M226.86 142.66h0M229.51 152.83h0M187.11 185.56h0M189.46 149.5h0M230.45 200.87h0M196.37 184.46h0M232.44 208.01h0M186.9 162.07h0M213.47 205.41h0M222.89 191.25h0M235.45 201.98h0M231.62 154.45h0M216.75 167.78h0M200.26 176.84h0M195.53 175.49h0M213.81 215.77h0M196.4 172.75h0M193.99 179.78h0M221.53 154.94h0M231.14 153.41h0M197.09 153.79h0M206.36 173.47h0M222.35 148.99h0M219.16 205.56h0M244.67 168.99h0M187.88 169.37h0M239.55 190.07h0M186.25 191.27h0M205.14 189.75h0M226.01 162.75h0M218.64 203.87h0M245.23 167.26h0M222.28 187.83h0M205.03 178.47h0M216.55 191.46h0M238.76 150.91h0M236.09 155.43h0M234.47 183.53h0M218.4 171.57h0M179.99 178.86h0M213.76 201.39h0M193.98 154.79h0M234.46 206.88h0M228.22 186.26h0M207.78 194.5h0M192.52 184.83h0M209.43 143.75h0M219.62 142.8h0M214.18 210.03h0M223.25 143.94h0M182.33 196.05h0M191.46 206.89h0M210.01 169.8h0M244.35 161.43h0M178.17 167.78h0M240.93 155.59h0M217.55 145.67h0M236.88 198.38h0M242.36 179.61h0M229.87 207.37h0M229.83 169.55h0M195.4 170.7h0M241.77 174.47h0M229.12 206.12h0M187.34 184.38h0M200.04 183.31h0M236.82 199.01h0M231.41 196.04h0M182.95 164.8h0M228 198.4h0M229.07 190.92h0M247.27 171.71h0M249.76 194.54h0M199.62 203.7h0M219.25 160.76h0M209.64 199.79h0M183.57 156.14h0M235.96 210.38h0M190.93 166.49h0M244.25 192.91h0M246.3 195.17h0M210.09 213.38h0M215.11 154.87h0M207.65 206.96h0M190.47 184.01h0M237.4 177.49h0M194.97 205.63h0M196.07 185.11h0M203.13 185h0M232.46 208.85h0M189.09 183.86h0M198.78 183.28h0M217.77 181.4h0M196.68 166.66h0M204.35 159.08h0M221.76 141.68h0M193.43 200.56h0M229.7 204.59h0M209.26 203.97h0M230.93 146.03h0M187.01 194.64h0M191.84 170.78h0M222.31 182.95h0M230.04 198.49h0M210.3 194.77h0M208.41 200.33h0M217.07 143.68h0M222.77 150.4h0M248.78 187.97h0M217.64 165.7h0M216.18 204.67h0M224.12 216.12h0M194.55 157.1h0M215.07 202.96h0M182.01 168.4h0M201.2 199.88h0M201.03 201.95h0M206.5 195.86h0M180.41 164.63h0M250.84 167.37h0M191.7 208.72h0M228.17 193.2h0M222.06 208.32h0M213.95 199.57h0M238.33 200.72h0M196.77 159.12h0M188.13 153.75h0M232.24 173.68h0M233.24 154.13h0M211.31 164.03h0M237.89 173.51h0M237.76 194.34h0M199.42 207.92h0M191.11 152.33h0M238.58 153.6h0M195.84 198.92h0M182.05 178.85h0M191.79 159.4h0M200.76 201.91h0M188.56 201.12h0M245.55 169.83h0M202.39 194.18h0M252.17 172.88h0M233.87 147.3h0M182.67 168.7h0M206.98 178.46h0M177.26 169.19h0M191.83 200.8h0M236.61 201.37h0M187.38 205.45h0M182.75 173.67h0M203.98 198.44h0M221.27 151.64h0M188.81 152.72h0M232.85 192.98h0M239.18 158.61h0M224.69 149.39h0M213.31 167.84h0M241.41 199.58h0M211.93 157.01h0M180.05 189.5h0M230.16 167.02h0M253.28 175.45h0M197.65 200.73h0M227.09 200.75h0M221.01 198.04h0M192.45 150.92h0M181.07 197.24h0M241.28 196.4h0M228.08 178.28h0M219.73 204.18h0M216.3 214.64h0M212.31 178.2h0M203.25 200.67h0M202.26 165.91h0M219.02 153.73h0M192.62 164.95h0M224.25 173.84h0M212.42 143.04h0M221.31 176.83h0M221.05 200.73h0M236.07 154.54h0M183.71 182.82h0M178.34 175.32h0M190.07 182.84h0M229.47 207.73h0M235.54 195.11h0M236.82 194.74h0M193.8 149.47h0M187.03 161.23h0M228.39 198.25h0M242.77 183.6h0M196.09 199.54h0M251.54 188.69h0M224.05 164.47h0M231.68 154.29h0M205.65 150.99h0M227.67 174.31h0M236.02 152.52h0M203.1 141.49h0M217.17 177.73h0M215.73 210.75h0M189.82 162.89h0M182.65 170.32h0M227.88 189.77h0M209.98 205.41h0M190.42 170.77h0M197.61 204.08h0M228.13 190.32h0M247.09 174.73h0M224.26 201.38h0M206.65 204.04h0M235.85 151.14h0M245.79 182.69h0M238.57 171.19h0M207.17 192.93h0M201.48 213.46h0M205.33 195.41h0M184.93 200.29h0M215.27 178.54h0" stroke="#1a1a1a" stroke-width="0.7" stroke-linecap="round" fill="none" opacity="0.5"/>
<path d="M212.07 171.59h0M213.22 203.53h0M194.15 185.66h0M203.65 160.65h0M182.98 160.5h0M216.29 142.01h0M232.07 196.07h0M198.89 162.47h0M209.81 189.8h0M190.67 207.84h0M206.66 184.07h0M212.07 182.35h0M216.25 161.32h0M182.73 158.53h0M177.38 181.37h0M198.84 176.75h0M206 182.17h0M195.06 164.05h0M199.91 171.87h0M201.63 212.04h0M195.12 153.22h0M208.64 198.38h0M203.05 183.24h0M221.43 161.31h0M225.59 188.48h0M203.91 195.51h0M229.6 151.99h0M181.18 163.78h0M206.05 196.85h0M208.55 150.44h0M203.91 181.43h0M227.16 149.15h0M206.35 213.56h0M207.81 194.84h0M216.81 166.8h0M229.92 187.69h0M187.76 178.47h0M234.21 147.69h0M233.85 165.87h0M199.28 182.77h0M227.8 199.97h0M208.81 189.54h0M184.84 180.3h0M229.39 167.09h0M228.24 170.8h0M198.92 182.37h0M226.15 165.46h0M208.24 187.83h0M240.73 153.09h0M225.75 208.57h0M237.11 208.68h0M204.16 170.36h0M225.86 212.18h0M189.82 160.93h0M227.79 213.64h0M248.72 168.9h0M229.3 173.56h0M188.99 201.07h0M236.02 154.88h0M229.99 177.92h0M189.48 197.57h0M226.83 145.06h0M232.56 164.11h0M244.95 161.86h0M240.05 162.89h0M243.01 201.05h0M239.68 192.22h0M179.89 176.57h0M212.35 141.45h0M252.57 182.92h0M235.51 163.51h0M227.58 206.16h0M186.78 177.69h0M249.21 172.51h0M201.96 179.22h0M211.82 147.14h0M247.59 178.15h0M185.93 195.29h0M249.73 167.86h0M197.99 174.45h0M218.26 194h0M204.62 214.83h0M205.75 172.85h0M230.4 203.87h0M249.47 166.24h0M227.96 152.14h0M220.76 204.62h0M222.59 160.26h0M235.46 199.75h0M219.79 199.08h0M224.03 193.84h0M189.48 155.91h0M219.6 173.9h0M235.09 170.06h0M231.23 186.08h0M185.28 183.2h0M222.45 196.08h0M179.07 178.1h0M217.82 172.69h0M230.7 162.83h0M227.74 159h0M228.6 211.51h0M181.31 192.5h0M185.5 185.79h0M199.27 159.81h0M204.5 210.89h0M199.94 163.78h0M231.5 190.2h0M233.38 198.83h0M201.67 161.94h0M232.5 208.37h0M197.56 152.77h0M210.31 174.36h0M210.3 214.07h0M204.6 187.16h0M213.82 205.08h0M200.59 153.33h0M214.05 188.94h0M237.11 202.13h0M183.51 194.59h0M233.35 147.08h0M205.67 157.65h0M183.34 186.76h0M210.14 204.06h0M194.38 184.88h0M191.17 165.64h0M249.19 171.49h0M224.18 212.83h0M221.25 192.4h0M216.84 209.65h0M233.76 161.79h0M219.59 139.94h0M179.67 164.65h0M184.93 166.07h0M230.17 184.04h0M208.69 216.68h0M195.37 151.61h0M196.64 148.91h0M195.45 173.06h0M228.71 187.33h0M179.71 161.62h0M210.84 167.1h0M229.23 155.47h0M245.14 201.06h0M189.44 193.04h0M224.08 199.96h0M239.74 152.62h0M212.39 141.56h0M243.69 156.4h0M217.81 180.65h0" stroke="#1a1a1a" stroke-width="1.1" stroke-linecap="round" fill="none" opacity="0.6"/>
<path d="M198.54 188.63h0M184.11 176.02h0M224.18 210.54h0M213.74 176.41h0M204.56 155.7h0M204.87 145.79h0M203.97 161.8h0M205.39 180.64h0M243.52 177.38h0M231.75 168.9h0M206.81 196.63h0M219.32 158.3h0M213.54 163.18h0M250.28 167.54h0M185.1 194.74h0M202.31 184.69h0M201.97 155.7h0M184.81 185.24h0M198.93 158.18h0M211.81 213.28h0M250.61 187.06h0M194.47 205.11h0M224.82 166.73h0M224.74 183.67h0M189.99 177.12h0M243.03 174.31h0M214.76 143.91h0M242.57 203.86h0M249.74 172.39h0M190.09 161.53h0M209.45 154.47h0M197.5 147.83h0M246.53 182.39h0M212.49 192.33h0M240.84 175.91h0M218.45 208.88h0M185.81 166.69h0M234.66 190.36h0M234.67 174.53h0M193.65 148.69h0M207.45 195.57h0M178.11 188.97h0M186.47 187.9h0M200.32 176.56h0M197.64 187.92h0M242.44 156.67h0M213.99 184.51h0M239.7 202.73h0M197.64 151.47h0M192.64 170.87h0M220.66 189.19h0M203.81 158.97h0M207.32 169.42h0M185.82 167.47h0M205.45 207.46h0M209.28 202.14h0M181.61 158.38h0M194 198.31h0M179.47 177.19h0M222.71 203.51h0M203.75 191.03h0M222.56 145.27h0M205.5 149.36h0M184.39 188.85h0M214.43 158.38h0M224.4 142.1h0M209.85 201.22h0M200.03 193.06h0M194.1 146.42h0M196.58 212.83h0M242.43 184.77h0M220.2 161.87h0M239.04 183.56h0M231.28 209.07h0M206.43 207.5h0" stroke="#1a1a1a" stroke-width="1.7" stroke-linecap="round" fill="none" opacity="0.65"/>
<path d="M230.94 171.01h0M219.67 166.18h0M244.18 154.68h0M236.88 202.68h0M192.32 171.8h0M202.83 210.49h0M201.03 193.79h0M181.5 163.26h0M184.29 191.83h0M225.32 159.32h0M202.9 188.78h0M246.96 159.23h0M249.14 182.23h0M225.88 182.37h0M220.26 186.98h0M232.72 176.03h0M208.92 207.84h0M220.96 180.02h0M209.19 202.87h0M237.96 168.06h0M240.63 190.25h0M194.68 163.07h0M222.86 147.73h0M228.13 143.03h0M230.49 212.93h0M205.91 147.92h0M205.96 167.05h0M218.63 195.14h0M243.36 178.54h0M225.47 184.78h0" stroke="#1a1a1a" stroke-width="2.6" stroke-linecap="round" fill="none" opacity="0.7"/>
<path d="M202.22 145.47h0M230.45 160.75h0M233.83 205.59h0M231.92 187.92h0M209.98 172.63h0M216.52 178.75h0M215.9 183.3h0M210.19 199.98h0M234.19 176.03h0M240.73 171.98h0M186.14 190.58h0M250.94 189.07h0" stroke="#1a1a1a" stroke-width="3.6" stroke-linecap="round" fill="none" opacity="0.72"/>
<ellipse cx="183.5" cy="184" rx="6.6" ry="8" fill="#6f6f6f" stroke="#2e2e2e" stroke-width="0.9"/>
<ellipse cx="231.5" cy="198.6" rx="1.9" ry="2.2" fill="#9c9c9c" stroke="#2e2e2e" stroke-width="0.9"/>
<ellipse cx="216.5" cy="170.5" rx="3" ry="3.4" fill="#b2b2b2" stroke="#2e2e2e" stroke-width="0.9"/>
<g opacity="0.88" fill="url(#clumpg)">
<ellipse cx="208" cy="145.5" rx="3" ry="3.25"/>
<ellipse cx="207.9" cy="143.68" rx="2.13" ry="2.3"/>
<ellipse cx="206.34" cy="145.74" rx="1.58" ry="1.72"/>
<ellipse cx="206.69" cy="144.35" rx="1.48" ry="1.6"/>
<ellipse cx="206.56" cy="146.44" rx="2.26" ry="2.45"/>
</g>
<g opacity="0.88" fill="url(#clumpg)">
<ellipse cx="229" cy="166" rx="3.25" ry="4"/>
<ellipse cx="229.72" cy="168.06" rx="1.58" ry="1.95"/>
<ellipse cx="228.13" cy="164.03" rx="2.12" ry="2.61"/>
<ellipse cx="229.88" cy="167.96" rx="2.39" ry="2.94"/>
<ellipse cx="230.76" cy="165.41" rx="1.65" ry="2.03"/>
</g>
<g opacity="0.77" fill="url(#clumpg)">
<ellipse cx="201" cy="166.5" rx="2.25" ry="2.5"/>
<ellipse cx="200.45" cy="165.24" rx="1.2" ry="1.34"/>
<ellipse cx="200.97" cy="165.1" rx="1.22" ry="1.35"/>
<ellipse cx="200.6" cy="167.83" rx="1.68" ry="1.86"/>
<ellipse cx="201.6" cy="165.27" rx="1.53" ry="1.7"/>
</g>
<g opacity="0.77" fill="url(#clumpg)">
<ellipse cx="204" cy="182.5" rx="2.75" ry="3"/>
<ellipse cx="202.5" cy="182.88" rx="1.42" ry="1.54"/>
<ellipse cx="202.6" cy="181.8" rx="1.42" ry="1.55"/>
<ellipse cx="202.48" cy="182.2" rx="1.48" ry="1.61"/>
<ellipse cx="205.43" cy="183.13" rx="1.41" ry="1.54"/>
</g>
<g opacity="0.77" fill="url(#clumpg)">
<ellipse cx="226" cy="193.5" rx="2.5" ry="2.75"/>
<ellipse cx="227.21" cy="194.27" rx="1.53" ry="1.69"/>
<ellipse cx="227.35" cy="193.9" rx="1.36" ry="1.49"/>
<ellipse cx="226.89" cy="194.68" rx="1.3" ry="1.43"/>
<ellipse cx="227.36" cy="193.87" rx="1.88" ry="2.07"/>
</g>
<g opacity="0.77" fill="url(#clumpg)">
<ellipse cx="238" cy="184" rx="2.75" ry="3.25"/>
<ellipse cx="238.96" cy="185.42" rx="1.47" ry="1.74"/>
<ellipse cx="238.81" cy="182.45" rx="1.42" ry="1.67"/>
<ellipse cx="236.48" cy="183.73" rx="1.42" ry="1.68"/>
<ellipse cx="239.01" cy="185.37" rx="1.86" ry="2.2"/>
</g>
<g opacity="0.77" fill="url(#clumpg)">
<ellipse cx="241" cy="160" rx="2.5" ry="3"/>
<ellipse cx="239.69" cy="160.59" rx="1.69" ry="2.03"/>
<ellipse cx="241.83" cy="158.65" rx="1.25" ry="1.5"/>
<ellipse cx="239.68" cy="159.43" rx="1.4" ry="1.67"/>
<ellipse cx="239.72" cy="159.33" rx="1.44" ry="1.73"/>
</g>
<g opacity="0.77" fill="url(#clumpg)">
<ellipse cx="213" cy="205" rx="2.5" ry="2.5"/>
<ellipse cx="213.27" cy="206.37" rx="1.46" ry="1.46"/>
<ellipse cx="214.39" cy="204.86" rx="1.26" ry="1.26"/>
<ellipse cx="212.85" cy="203.61" rx="1.55" ry="1.55"/>
<ellipse cx="212.62" cy="206.35" rx="1.21" ry="1.21"/>
</g>
<g opacity="0.77" fill="url(#clumpg)">
<ellipse cx="196" cy="200" rx="2.25" ry="2.75"/>
<ellipse cx="197.18" cy="200.54" rx="1.45" ry="1.77"/>
<ellipse cx="195.18" cy="198.83" rx="1.28" ry="1.57"/>
<ellipse cx="196.69" cy="198.71" rx="1.32" ry="1.62"/>
<ellipse cx="196.53" cy="198.61" rx="1.17" ry="1.44"/>
</g>
</g>
<rect x="175.8" y="139.6" width="77.8" height="77.8" filter="url(#grain)" opacity="0.28"/>
</g>
<line x1="201.8" y1="198.1" x2="228.7" y2="198.1" stroke="#fff" stroke-width="1.3" />
<text x="3.4" y="379.9" font-size="24.6" font-weight="normal" text-anchor="start" font-family='"Liberation Serif", "Times New Roman", serif' fill="#000"  stroke="#000" stroke-width="0.18">i)</text>
<text x="77.8" y="384" font-size="13.5" font-weight="normal" text-anchor="middle" font-family='"Liberation Serif", "Times New Roman", serif' fill="#000"  stroke="#000" stroke-width="0.18">Control</text>
<text x="248.2" y="384" font-size="13.5" font-weight="normal" text-anchor="middle" font-family='"Liberation Serif", "Times New Roman", serif' fill="#000"  stroke="#000" stroke-width="0.18">5% CSE</text>
<text x="422.9" y="384" font-size="13.5" font-weight="normal" text-anchor="middle" font-family='"Liberation Serif", "Times New Roman", serif' fill="#000"  stroke="#000" stroke-width="0.18">5% CSE + EVs</text>
<text x="594.1" y="384" font-size="13.5" font-weight="normal" text-anchor="middle" font-family='"Liberation Serif", "Times New Roman", serif' fill="#000"  stroke="#000" stroke-width="0.18">5% CSE + SFs</text>
<defs>
<clipPath id="ic1"><rect x="16" y="390" width="131" height="127"/></clipPath>
<clipPath id="ic2"><rect x="186.4" y="390" width="131.6" height="127"/></clipPath>
<clipPath id="ic3"><rect x="357" y="390" width="131.4" height="127"/></clipPath>
<clipPath id="ic4"><rect x="527.4" y="390" width="131.6" height="127"/></clipPath>
</defs>
<g clip-path="url(#ic1)">
<rect x="16" y="390" width="131" height="127" fill="#03121a"/>
<ellipse cx="85.6" cy="424.5" rx="9" ry="7" fill="#8a4a2a" opacity="0.25" filter="url(#b4)"/>
<ellipse cx="120" cy="410" rx="14" ry="10" fill="#3a2a20" opacity="0.3" filter="url(#b4)"/>
<ellipse cx="40" cy="415" rx="14" ry="8" fill="#15302e" opacity="0.5" filter="url(#b4)"/>
<path d="M97.6 484.21h0M120.17 509.69h0M112.93 507.14h0M19.8 449.13h0M139.58 472.42h0M134.02 404.38h0M77.45 421.31h0M87.23 462.89h0M17.72 417.52h0M52.61 506.38h0M116.31 410.27h0M120.43 407.62h0M96.89 406.09h0M16.23 500.67h0M43.44 417.37h0M144.7 500.8h0M53.9 512.11h0M86.64 476.08h0M42.83 509.5h0M106.47 512.75h0M133.08 427.95h0M63.32 411.08h0M35.09 398.27h0M55.48 466.59h0M16.44 476.1h0M60.26 429.36h0M123.23 451.05h0M57.37 451.11h0M108.31 397.24h0M143.74 392.9h0M114.22 497.3h0M18.37 490.04h0M63.97 463.47h0M17.19 395.93h0M39.7 511.31h0M41.74 485.98h0M137.78 509.64h0M61.11 435.06h0M84.74 488.5h0M30.15 485.05h0M120.44 499.18h0M20.8 510.12h0M27.94 433.27h0M96.02 506.6h0M60.53 507.37h0M87.41 429.68h0M57.5 412.54h0M26.24 408.91h0M106.28 516.58h0M37.16 396.17h0M145.26 457.76h0M69.17 420.14h0M93.81 494.94h0M75.69 443.56h0M23.3 506.34h0M20.29 452.68h0M125.83 406.58h0M111.85 510.62h0M98.58 490.08h0M29.97 445.19h0M35.55 497.28h0M54.62 447.55h0M146.91 498.24h0M143.86 447.6h0M79.95 482.65h0M78.75 426.96h0M68.9 408.61h0M65.39 515.53h0M141.74 469.62h0M81.41 432.99h0M27.68 424.58h0M118.44 500.16h0M63.33 489.82h0M117.51 478.21h0M102.99 486.47h0" stroke="#3f9a4a" stroke-width="0.5" stroke-linecap="round" fill="none" opacity="0.38"/>
<path d="M63.61 479.47h0M52.79 451.68h0M116.84 477.74h0M54.49 510.08h0M101.11 463.74h0M17.52 459.47h0M48.84 475.3h0M76.65 493.72h0M100.81 491.3h0M61.57 471.8h0M112.66 495.18h0M61.86 497.05h0M129.96 477.42h0M143.87 511.48h0M83.88 457.23h0M37.77 496.25h0M138.8 450.61h0M106.58 481.4h0M111.68 411.82h0M118.23 463.77h0M103.19 443.44h0M97.71 488.39h0M99.43 481.49h0M19.62 410.32h0M73.78 472.56h0M44.69 477.12h0M98.64 395.32h0M77.78 418.73h0M23.09 406.96h0M57.57 413.06h0M41.33 394.53h0M76.96 438.3h0M96.15 464.95h0M47.16 504.7h0M16.09 441.48h0M52.49 442.08h0M31.07 495.58h0M64.98 394.58h0M96.38 402.04h0M87.42 433.1h0M92.1 511.7h0M123.23 443.23h0M122.5 471.57h0M64.4 408.05h0M94.07 461.61h0" stroke="#3f9a4a" stroke-width="0.8" stroke-linecap="round" fill="none" opacity="0.46"/>
<path d="M141.39 512.94h0M95.73 434.59h0M133.04 390.12h0M30.14 461.86h0M96.59 407.87h0M98.46 503.19h0M65.24 444.82h0M45.65 427.02h0M143.39 438.23h0M141.91 506.05h0M94.05 423h0M144.51 453.03h0M70.43 430.53h0M144.94 452.45h0M53.52 450.57h0M31.97 468.95h0M74.09 427.22h0M118.4 495h0M17.73 457.64h0M51.87 508.78h0M118.43 421.2h0M51.07 409.66h0M145.54 427.23h0M95.65 450.28h0M100.48 466.69h0M113.39 405.01h0M115.61 428.19h0M85.89 432.69h0M54.88 457.29h0M76.83 435.85h0" stroke="#3f9a4a" stroke-width="1" stroke-linecap="round" fill="none" opacity="0.6"/>
<path d="M113.6 465.03h0M20.77 422.06h0M75.69 506.4h0M132.32 459.29h0M17.91 488.85h0M72.03 463.11h0M108.77 470.29h0M79.13 505.79h0M66.5 439.77h0M127.6 414.95h0M54.83 495.41h0M24.65 496.21h0M107 444.97h0M53.51 489.15h0M135.3 408.12h0M78.67 459.74h0M81.2 432h0M36.11 464.4h0M122.35 398.69h0M46.13 494.09h0M119.72 474.28h0M19.35 481.77h0M144.21 516.79h0M107.86 396.21h0M126.31 417.84h0M100.59 510.94h0M109.33 407.1h0M54.32 506.59h0M35.61 467.55h0M70.23 410.47h0M97.54 395.53h0M30.18 438.16h0M25.43 397.31h0M91.36 484.28h0M131.08 407.06h0M72.55 429.95h0M94.63 452.18h0M138.95 437.52h0M23.3 478.56h0M35.8 470.18h0M82.27 505.62h0M88.69 468.85h0M50.49 460.06h0M49.3 485.32h0M83.73 406.99h0M46.71 437.14h0M112.51 412.77h0M109.44 473.19h0M27.17 474.83h0M27.94 405.85h0M93.81 420.3h0M130.88 451.02h0M58.35 491.15h0M19.86 482.08h0M23.03 409.15h0M140.72 476.5h0M45.22 404.74h0M143.42 474.46h0M123.5 407.75h0M97.85 435h0M46.79 432.32h0M96.4 434.28h0M66.53 407.33h0M124.87 472.28h0M121.39 445.04h0M127.56 455.72h0M93.63 462.8h0M112.96 440.23h0M28.71 394.21h0M42.52 395.01h0M132.49 451.09h0M115.61 390.06h0M77.59 503h0M97.15 444.44h0M76.99 402.67h0" stroke="#6fc060" stroke-width="0.5" stroke-linecap="round" fill="none" opacity="0.38"/>
<path d="M36.26 410.2h0M65.08 438.98h0M131.32 409.32h0M49.28 425.23h0M37.16 426.46h0M46.81 451.22h0M20.2 507.41h0M64.33 509.12h0M106.09 475.57h0M77.8 510.07h0M31.45 474.91h0M54.13 475.66h0M111.54 410.73h0M42.33 393.17h0M46.19 399.93h0M68.54 513.65h0M63.72 429.6h0M77.31 425.96h0M111.94 481.18h0M37.4 420.55h0M104.06 509.44h0M100.61 444.69h0M143.78 390.8h0M23.97 488.97h0M69.73 395.71h0M87.84 515.68h0M83.98 434.45h0M28.29 399.04h0M133.74 452.38h0M138.58 396.83h0M47.89 396.41h0M68.05 397.64h0M49.46 441.75h0M56.08 396.52h0M20.93 513.4h0M39.5 454.6h0M68.71 457.48h0M27.05 429.86h0M30.15 458.83h0M136.69 465.98h0M128.24 417.23h0M18.28 458.53h0M79.74 462.57h0M65.34 469.39h0M111.06 505.95h0" stroke="#6fc060" stroke-width="0.8" stroke-linecap="round" fill="none" opacity="0.46"/>
<path d="M56.3 447.03h0M124.26 418.44h0M31.15 429.59h0M27.48 488.1h0M123.35 429.74h0M33.01 400.41h0M48.08 400.71h0M72.15 463.28h0M48.15 397.8h0M107.78 396.1h0M42.18 426.32h0M64.96 402.51h0M71.1 429.87h0M114.55 460.62h0M133.39 473.07h0M115.52 462.99h0M73.93 493.73h0M101.87 511.26h0M111.37 479.05h0M51.07 493.13h0M66.1 406.54h0M24.64 411.51h0M50.4 475.84h0M53.4 398.07h0M116.06 460.77h0M19.6 396.43h0M33.05 435.36h0M128.63 510.55h0M96.17 419.35h0M72.19 436.03h0" stroke="#6fc060" stroke-width="1" stroke-linecap="round" fill="none" opacity="0.6"/>
<path d="M59.28 391.58h0M92.56 495.02h0M111.22 402.1h0M85.47 411.74h0M108.94 446.67h0M138.95 490.94h0M31.48 430.27h0M135.86 448.55h0M72.87 446.06h0M116.54 508.91h0M85.77 513.15h0M94.08 403.15h0M122.67 443.27h0M22.85 514.21h0M20.31 463.28h0M79.14 501.99h0M67.45 417.38h0M52.29 415.55h0M89.68 435.34h0M114.39 420.68h0M62.08 421.53h0M144.7 496.71h0M127.33 468.51h0M68.51 408.17h0M124.95 452.24h0M20.94 411.53h0M28.93 481.15h0M133.92 415.31h0M120.41 431.16h0M105.46 499.62h0M97.63 491.65h0M65.31 391.28h0M83.04 464.51h0M40.2 439.41h0M57.56 393.44h0M56.88 438.62h0M78.37 479.33h0M68.28 514.76h0M122.83 507.33h0M106.76 475.11h0M86.31 491.43h0M63.53 465.38h0M105.01 456.32h0M53.23 399.87h0M27.43 435.2h0M92.03 486.47h0M109.59 428.96h0M137.72 424.87h0M109.8 399.15h0M114.69 475.08h0M141.36 503.94h0M106.09 496.46h0M112.76 467.59h0M43.35 455.62h0M133.39 420.36h0M143.68 459.08h0M67.54 390.38h0M67.11 412.62h0M101.56 504.24h0M135.23 467.92h0M66.65 403.83h0M106.23 460.28h0M109.7 437.5h0M132.17 417.01h0M56.03 423.99h0M97.5 503.95h0M37.93 470.37h0M116.41 418.53h0M24.21 461.87h0M124.77 501.58h0M111.37 442.94h0M71.73 457.15h0M134.52 428.4h0M52.78 466.88h0M142.62 413.78h0" stroke="#2f6a8a" stroke-width="0.5" stroke-linecap="round" fill="none" opacity="0.38"/>
<path d="M19.99 404.68h0M89.7 466.64h0M40.09 414.17h0M93.88 472.09h0M106.42 482.57h0M24.04 451.56h0M125.34 511.57h0M57.72 497.99h0M100.52 507.69h0M46.01 478.49h0M126.13 450.54h0M29.2 414.58h0M36.52 401.79h0M35.91 468.2h0M29.74 486.27h0M112.44 493.68h0M121.29 480.56h0M137.05 511.53h0M97.89 512.57h0M29.54 403.07h0M24.44 416.22h0M65.05 448.25h0M105.15 484.35h0M26.98 441.21h0M87.19 437.65h0M31.4 465.83h0M65.05 476.83h0M80.91 512.26h0M139.8 399.17h0M115.53 481.6h0M54.77 404.84h0M78.75 434.98h0M112.59 506.64h0M66.05 426.91h0M81.34 478.5h0M119.36 463.11h0M54.77 432.79h0M127.09 455.94h0M22.6 443.44h0M47.16 474.61h0M25.61 424.42h0M28.58 450.65h0M144.99 458.75h0M66.6 508.61h0M28.03 435.18h0" stroke="#2f6a8a" stroke-width="0.8" stroke-linecap="round" fill="none" opacity="0.46"/>
<path d="M122.21 390.65h0M116.33 435.85h0M18.15 421.86h0M76.03 438.62h0M83.7 396.75h0M44.63 513.74h0M73.99 449.93h0M27.18 425.45h0M141.07 477.26h0M82.52 396.73h0M67.45 488.86h0M72.95 465.38h0M134.21 471.93h0M99.3 394.58h0M19.12 487.73h0M70.14 501.02h0M124.16 506.25h0M65.59 516.88h0M115.07 503.26h0M35.42 489.18h0M71.3 513.46h0M146.24 417.52h0M71.21 424.4h0M77.55 426.39h0M103.31 405.66h0M38.17 448.12h0M25.68 438.41h0M133.56 502.44h0M41.75 392.35h0M124.51 512.02h0" stroke="#2f6a8a" stroke-width="1" stroke-linecap="round" fill="none" opacity="0.6"/>
<path d="M94.46 407.31h0M46.99 506.86h0M138.82 393.95h0M40.21 444.49h0M50.94 485.74h0M64.86 488.45h0M35.91 455.83h0M143.72 479.15h0M27.8 404.09h0M100.3 437.62h0M64.3 450.67h0M92.2 512.66h0M47.56 462.22h0M50.46 459.26h0M111.82 406.97h0M79.03 479.63h0M17.07 487.93h0M70.87 454.03h0M95.98 490.7h0M23.34 453.57h0M21.02 438.96h0M61.29 392.72h0M55 447.15h0M101.79 507.45h0M64.53 457.32h0M109.43 509.04h0M140.4 515.48h0M55.53 411.16h0M138.08 399.83h0M74.78 483.5h0M85.27 439.37h0M137.11 428h0M88.28 495.37h0M34.08 434.57h0M80.75 461.87h0M43.16 447.65h0M23.84 401.17h0M60.82 408.26h0M142.75 423.44h0M52.12 489.53h0M113.09 423.29h0M124.62 469.47h0M66.91 469.86h0M48.19 423.45h0M130.82 445.71h0M133.54 412.47h0M33.99 396.6h0M112.9 461.27h0M17.26 395.5h0M123.95 452.79h0M130.14 395.05h0M93.14 404.92h0M110.47 467.64h0M96.18 418.13h0M140.32 404.1h0M24.39 476.87h0M28.16 398.49h0M76.3 472.41h0M132.86 481.55h0M25.09 471.68h0M126.52 405.31h0M114.84 422.85h0M55.12 390.19h0M115.33 455.5h0M134.16 449.12h0M36.36 417.48h0M50.5 510.24h0M42.89 401.2h0M62.21 400.05h0M71.7 468.95h0M101.23 412.2h0M34.18 452.38h0M106.02 446.79h0M91.1 505.84h0M35 424.02h0" stroke="#3a56a0" stroke-width="0.5" stroke-linecap="round" fill="none" opacity="0.38"/>
<path d="M80.68 458.09h0M133.92 460.52h0M102.77 443.29h0M118.74 496.16h0M54.46 403.69h0M49.96 435.41h0M132.55 423.6h0M98.45 471.36h0M141.26 404.79h0M116.85 432.72h0M29.49 470.27h0M126.61 463.97h0M22.53 513.46h0M66.32 470.81h0M110.84 423.11h0M69.49 431.82h0M28.57 398.18h0M109.91 442.14h0M129.93 397.96h0M55.49 412.88h0M139.59 490.4h0M133.42 454.31h0M29.65 442.85h0M45.63 393.41h0M90.01 426.83h0M30.13 454.97h0M138.25 510.14h0M77.06 403.05h0M116.7 404.58h0M86.4 400.63h0M145.33 458.93h0M73.31 424.57h0M88.17 513.56h0M72.05 416.58h0M83.42 506.62h0M66.01 470.5h0M136.35 431.36h0M122.23 457.18h0M34.27 396.8h0M139.01 449.18h0M74.06 506.53h0M91.19 453.52h0M53.22 484.51h0M49.57 449.76h0M115.37 466.82h0" stroke="#3a56a0" stroke-width="0.8" stroke-linecap="round" fill="none" opacity="0.46"/>
<path d="M33.58 415.75h0M107.04 482.59h0M29.44 516.68h0M33.47 411.3h0M27.76 446.69h0M97.17 498.88h0M37.38 478.74h0M29.78 463.71h0M49 435.25h0M22.88 481.52h0M32.02 487.05h0M60.08 465.15h0M99.72 452.07h0M130.45 506.77h0M52.95 432.39h0M130.88 406.87h0M71.03 442.66h0M143.91 406.29h0M101.81 486.14h0M111.41 390.13h0M139.62 429.68h0M127.75 473.99h0M71.13 496.38h0M104.53 433.16h0M111.87 454.15h0M109.21 468.03h0M120.28 410.23h0M80.78 390.15h0M119.6 487.98h0M125.66 395.48h0" stroke="#3a56a0" stroke-width="1" stroke-linecap="round" fill="none" opacity="0.6"/>
<path d="M86.12 450.78h0M31.65 415.73h0M143.64 498.29h0M47.2 495.3h0M101.28 438.88h0M100.46 419.08h0M51.86 391.28h0M102.02 463.84h0M113.39 453.98h0M72.97 428.91h0M112.33 437.34h0M94.17 486.22h0M74.23 477.14h0M24.06 423.08h0M126.12 408.73h0M23.45 391.84h0M116.36 403.5h0M76.01 445.68h0M121.18 450.53h0M84.35 393.15h0M120.18 487.46h0M97.68 496.02h0M96.44 480.93h0M127.48 468.4h0M18.66 502.33h0M145.63 415.57h0M24.66 433.17h0M29.12 436.91h0M27.68 417.96h0M16.43 444.44h0M55.3 482.56h0M66.93 411.09h0M140.89 503.6h0M106.29 417.56h0M68.74 447.28h0M69.54 393.34h0M75.7 487.49h0M106.84 499.26h0M105.46 486.87h0M130.07 506.48h0M119.89 442.84h0M102.43 473.6h0M131.64 480.63h0M74.09 414.23h0M58.9 421.79h0M105.33 487.71h0M41.16 457.75h0M126.08 436.43h0M28.41 466.91h0M63.47 408.27h0M53.73 390.87h0M35.5 444.02h0M29.75 390.76h0M88.05 511.63h0M125.26 431.42h0M137.1 400.14h0M35.71 390.86h0M23.66 466.43h0M115.16 450.66h0M121.24 447.31h0M136.35 467.22h0M86.34 411.68h0M71.87 445.92h0M123.79 419.16h0M54.6 493.71h0M25.29 458.2h0M44.77 474.48h0M93.87 401.98h0M111.66 441.73h0M58.01 498.78h0M118.02 429.31h0M104.78 405.68h0M83.97 400.48h0M99.94 506.33h0M99.36 395.17h0" stroke="#2a5a5a" stroke-width="0.5" stroke-linecap="round" fill="none" opacity="0.38"/>
<path d="M83.22 449.63h0M74.04 409.2h0M52.45 447.09h0M25.32 475.65h0M47.91 426.86h0M27.9 428.43h0M137.98 427.06h0M28.57 433.91h0M139.8 401.17h0M60.86 416.55h0M105.32 448.63h0M28.88 499.51h0M58.98 477.13h0M75.32 500.71h0M23.62 418.97h0M53.42 423.57h0M123.68 453.81h0M61.42 454.37h0M126.8 462.36h0M75.14 473.42h0M96.58 441.5h0M71.85 406.73h0M73.52 501.62h0M56.09 436.38h0M95.03 464.99h0M38.97 446.63h0M112.14 395.26h0M30.25 485.94h0M134.59 398.57h0M26.67 469.58h0M53.27 473.38h0M20.48 447.98h0M37.18 432.19h0M106.85 454.78h0M127.8 496.9h0M97.14 497.63h0M39.24 450.26h0M57.86 469.37h0M30.58 502.43h0M64.53 489.54h0M139.51 509.41h0M67.12 498.82h0M146.61 406.53h0M113.92 482.36h0M75.96 425.29h0" stroke="#2a5a5a" stroke-width="0.8" stroke-linecap="round" fill="none" opacity="0.46"/>
<path d="M38.71 442.28h0M138.08 441.05h0M49.45 468.67h0M73.29 467.92h0M75.54 426.37h0M20.65 493.93h0M102.33 420.95h0M81.41 463.78h0M81.97 504.42h0M118 428.92h0M60.37 467.7h0M37.26 508.64h0M21.95 453.44h0M51.81 456.81h0M21.97 418.48h0M145.56 490.08h0M44.95 447.92h0M20.25 405.5h0M41.13 515h0M56.84 421.46h0M24.56 403.95h0M146.39 484h0M136.57 496.13h0M118.53 422.39h0M38.15 424.28h0M24.57 412.28h0M110.31 452.36h0M17.37 428.7h0M127.29 498.07h0M111.56 482.89h0" stroke="#2a5a5a" stroke-width="1" stroke-linecap="round" fill="none" opacity="0.6"/>
<path d="M135.44 460.76h0M66.21 462.8h0M53 394.63h0M50.05 448.11h0M31.74 400.24h0M48.4 436.75h0M141.38 451.85h0M125.64 484.54h0M93.6 430.92h0M67.44 430.28h0M99.1 498.59h0M119.57 427.5h0M35.59 391.13h0M92.57 418.96h0M16.73 428.36h0M45.92 416.07h0M103.03 464.21h0M52.91 482.79h0M43.05 507h0M31.57 465.18h0M108.34 483.02h0M79.82 500.68h0M98.42 477.73h0M26.36 413.71h0M77.01 459.25h0M28.47 484.2h0M61.4 450.34h0M84.38 496.53h0M55.58 461.09h0M95.31 473.23h0" stroke="#b0603a" stroke-width="0.5" stroke-linecap="round" fill="none" opacity="0.38"/>
<path d="M56.9 425.45h0M77.62 466.33h0M100.45 406.99h0M74.44 461.15h0M41.51 402.98h0M137.69 392.64h0M81.32 427.42h0M20.07 424.28h0M37.15 440.82h0M135.18 400.08h0M62.07 478.26h0M97.86 392.64h0M45.97 425.7h0M133.24 446.15h0M49.74 450.98h0M79.55 408.98h0M103.39 481.56h0M78.52 458.25h0" stroke="#b0603a" stroke-width="0.8" stroke-linecap="round" fill="none" opacity="0.46"/>
<path d="M116.94 511.46h0M96.28 395.63h0M82.17 474.11h0M59.35 476.9h0M64.18 468.29h0M96.46 475.09h0M137.24 479.89h0M108.93 479.43h0M46.21 467.99h0M97.28 397.75h0M114.81 418.8h0M80.47 456.52h0" stroke="#b0603a" stroke-width="0.9" stroke-linecap="round" fill="none" opacity="0.6"/>
<path d="M110.61 487.19h0M77.33 509.32h0M74.03 461.94h0M145.89 431.12h0M109.54 511.46h0M27.06 488.7h0M101.39 458.54h0M119.43 499.22h0M35.21 451.79h0M96.62 478.75h0M141.56 491.97h0M124.52 398.2h0M71.85 506h0M139.94 486.02h0M59.7 487.77h0M85.65 474.77h0M99.51 499.89h0M109.56 513.25h0M80.65 452.68h0M102.12 461.35h0M22.43 511.83h0M57.76 453.45h0M21.55 414.17h0M137.66 425.23h0M55.12 493.11h0M47.62 474.77h0M90.46 503.84h0M78.46 431.74h0M49.94 436.2h0M16.02 405.18h0" stroke="#c98050" stroke-width="0.5" stroke-linecap="round" fill="none" opacity="0.38"/>
<path d="M35.49 429.95h0M116.66 509.63h0M62.41 421.73h0M54.42 469.88h0M78.71 404.92h0M84.61 424.16h0M34.87 489.73h0M29.78 445.79h0M116.34 458.94h0M130.44 430.29h0M139.97 395.54h0M133.27 443.88h0M16.4 422.95h0M145.53 480.97h0M112.58 493.01h0M16.84 428.98h0M77.01 505.47h0M134.95 408.98h0" stroke="#c98050" stroke-width="0.8" stroke-linecap="round" fill="none" opacity="0.46"/>
<path d="M145.34 460.4h0M55.91 400.5h0M71.9 456.12h0M75.4 429.43h0M140.16 450.37h0M56.3 488.75h0M48 443.69h0M29.64 420.23h0M146.61 468.9h0M84.6 475.51h0M104.06 456.21h0M64.04 408.72h0" stroke="#c98050" stroke-width="0.9" stroke-linecap="round" fill="none" opacity="0.6"/>
<path d="M88.99 424.47h0M85.29 424.4h0M83.52 419.96h0M86.54 428.31h0M81.89 424.15h0M90.13 419.4h0M88.3 424.88h0M92.08 419.82h0M83.57 431.64h0M98.06 426.99h0M94.17 421.13h0M92 425.64h0M90.18 418.27h0M87.12 427.53h0M92.71 426.37h0M88.72 428.93h0M96.22 417.44h0M75.51 424.45h0M95.71 433.06h0M90.57 419.71h0M89.8 421.24h0M91.26 423.46h0M96.16 419.64h0" stroke="#c07a48" stroke-width="0.7" stroke-linecap="round" fill="none" opacity="0.7"/>
<path d="M94.86 420.78h0M90.35 425.8h0M78.67 414.93h0M85.29 422.72h0M82.82 427.76h0M88.04 427.14h0M80.23 423.51h0M85.34 429.12h0M93.65 421.81h0M86.16 412.39h0M98.13 425.99h0M89.28 425.86h0M85.33 415.66h0M80.88 420.25h0M84.9 418.8h0M87.45 427.31h0M87.25 424.89h0M100.03 420.36h0M82.41 428.2h0M84.12 432.58h0M82.34 424.15h0M96.29 416.36h0M92.37 425.6h0" stroke="#c07a48" stroke-width="1.15" stroke-linecap="round" fill="none" opacity="0.75"/>
<path d="M124.07 416.42h0M117.75 411.91h0M118.46 415.76h0M112.75 407.86h0M118.17 401.84h0M130.12 405.89h0M126.79 394.62h0M114.3 402.46h0M125.12 398.83h0M124.89 413.84h0M122.91 409.03h0M119.26 403.05h0M121.94 409.38h0M133.82 409.27h0M116.63 413h0M114.16 396.3h0M120.29 403.98h0M127.08 407.74h0M111.95 403.81h0M118.09 420.23h0" stroke="#a8683e" stroke-width="0.7" stroke-linecap="round" fill="none" opacity="0.7"/>
<path d="M112.3 401.98h0M131.74 416.67h0M119.42 416.1h0M121.42 402.73h0M121.32 413.35h0M133.6 406.8h0M111.89 409.38h0M118.52 404.12h0M125.42 409.32h0M112.6 404h0M133.04 406.85h0M136.2 393.91h0M113.63 408.14h0M114.41 409.04h0M122.67 400.16h0M136.32 418.42h0M108.89 406.35h0M111.81 405.65h0M118.49 406.64h0M130.82 415.12h0" stroke="#a8683e" stroke-width="1.15" stroke-linecap="round" fill="none" opacity="0.75"/>
<path d="M87.08 433.06h0M89.99 428.2h0M88.26 429.54h0M91.43 435.11h0M88.96 435.63h0M87.21 430.11h0M92.01 432.05h0" stroke="#e0a060" stroke-width="0.7" stroke-linecap="round" fill="none" opacity="0.7"/>
<path d="M89 428.78h0M90.15 431.82h0M87.62 429.35h0M85.77 430.97h0M88.46 435.13h0M82.87 428.57h0M85.2 430.21h0" stroke="#e0a060" stroke-width="1.15" stroke-linecap="round" fill="none" opacity="0.75"/>
<path d="M37.62 406.86h0M39.07 413.94h0M41.33 407.95h0M50.34 412.64h0M36.33 417.31h0M39.19 407.66h0M48.24 408.34h0M36.1 418.04h0M40.92 407.72h0M46.6 411.33h0M27.67 409.98h0M49.27 409.97h0M48.91 406.8h0M52.37 410.41h0M38.4 406.46h0M53.18 411.76h0M41.43 413.48h0M43.61 410.43h0M47.95 409.95h0M53.03 422.26h0" stroke="#4f9a60" stroke-width="0.7" stroke-linecap="round" fill="none" opacity="0.7"/>
<path d="M29.91 412.07h0M41.21 414.77h0M27.61 421.43h0M51.96 421.12h0M55.08 407.44h0M43.56 419.25h0M54.98 408.61h0M47.31 418.06h0M56.58 410.38h0M48.58 414.44h0M43.07 410.97h0M53.71 412.04h0M44.51 417.24h0M55.32 414.57h0M41.46 408.49h0M35.41 409.3h0M47.87 406.28h0M37.51 407.58h0M46.79 410.18h0M58.61 417.92h0" stroke="#4f9a60" stroke-width="1.15" stroke-linecap="round" fill="none" opacity="0.75"/>
<path d="M100.7 469.12h0M111.86 463.23h0M110.57 460.23h0M96.15 472.76h0M101.6 457.47h0M91.41 471.18h0M83.05 484.13h0M92.65 471.26h0M130.34 468.1h0M103.23 474.75h0M98.62 462.15h0M83.53 471.98h0M97.85 480.63h0M102.21 475.43h0M88.85 467.62h0M104.82 467.26h0M107.41 466.87h0M97.13 473.17h0M87.52 490.58h0M86.46 481.59h0" stroke="#3f8a5a" stroke-width="0.7" stroke-linecap="round" fill="none" opacity="0.7"/>
<path d="M116.78 468.18h0M104.69 477.79h0M104.15 475.26h0M96.63 474.15h0M94.29 461.2h0M97.86 475.93h0M103.4 473.07h0M95.98 471.19h0M91.64 469.13h0M101.2 463.76h0M116.4 454.84h0M107.14 467.54h0M111.21 466.1h0M109.2 464.08h0M91.77 468.42h0M100.49 462.35h0M112.85 461.63h0M97.5 470.87h0M98.67 478.26h0M90.02 477.7h0" stroke="#3f8a5a" stroke-width="1.15" stroke-linecap="round" fill="none" opacity="0.75"/>
<radialGradient id="g1_881_5076" cx="0.42" cy="0.4" r="0.68"><stop offset="0" stop-color="#9db2f0"/><stop offset="0.7" stop-color="#5272d2"/><stop offset="1" stop-color="#5272d2" stop-opacity="0.3"/></radialGradient>
<g opacity="0.95" filter="url(#mottle)">
<ellipse cx="88.1" cy="507.6" rx="12" ry="10.5" fill="url(#g1_881_5076)"/>
<ellipse cx="95.62" cy="507.63" rx="4.72" ry="4.13" fill="#5272d2" opacity="0.8"/>
<ellipse cx="87.8" cy="513.15" rx="5.89" ry="5.15" fill="#5272d2" opacity="0.8"/>
<ellipse cx="83.18" cy="511.95" rx="5.25" ry="4.59" fill="#5272d2" opacity="0.8"/>
<ellipse cx="81.86" cy="507.39" rx="6" ry="5.25" fill="#5272d2" opacity="0.8"/>
<ellipse cx="84.6" cy="501.76" rx="4.7" ry="4.12" fill="#5272d2" opacity="0.8"/>
<ellipse cx="89.22" cy="502.1" rx="5.85" ry="5.12" fill="#5272d2" opacity="0.8"/>
<ellipse cx="94.58" cy="504.85" rx="5.04" ry="4.41" fill="#5272d2" opacity="0.8"/>
</g>
<path d="M84.99 514.8h0M77.64 508.27h0M98.88 507.58h0M90.25 507h0M93.74 510.03h0M91.84 501.35h0M87.95 510.6h0M88.1 510.97h0M93.88 514h0M89.64 511.22h0M85.25 505.26h0M92.46 501h0M94.72 502.01h0M87.42 502.75h0M82.21 510.32h0M80.07 513.27h0M79.21 510.9h0M85.98 505.61h0M90.12 514.56h0M89.38 503.18h0M88.11 513.4h0M81.33 509.16h0M95.6 504.25h0M86.98 513.06h0M83.78 507.42h0M85.96 509.11h0M82.52 500.28h0M94.81 503.26h0M82.05 512.29h0M83.84 506.24h0M80.73 505.93h0M90.44 513.55h0M92.56 501.11h0M85.59 511.66h0M82.61 502.47h0M85.9 513.79h0M80.97 511.74h0M92.86 503.61h0M80.23 505.92h0M85.45 503.55h0M88.3 516.67h0M93.55 513.77h0M87.62 514.21h0M83.06 508.99h0M92.83 515.87h0M92.06 508.46h0M87.64 501.86h0M91.32 515.44h0M92.99 507.1h0M86.28 501.87h0M96.44 507.5h0M95.04 502.88h0M92.96 512.22h0M86.93 504.05h0M97.25 512.54h0M95.83 504.08h0M96.43 510.67h0" stroke="#9db2f0" stroke-width="1.1" stroke-linecap="round" fill="none" opacity="0.55"/>
<path d="M97.63 507.01h0M86.55 501.48h0M81.09 500.89h0M85.15 507.61h0M94.55 514.89h0M85.47 498.76h0M90.2 510.06h0M85.22 501.95h0M83.03 508.65h0M88.89 499.27h0M87.03 501.48h0M81.32 507.94h0M82.08 508.76h0M77.71 509.4h0M89.36 504.31h0M83.42 500.09h0M82.39 514.98h0M90.77 506.68h0M83.39 503.47h0M80.28 509.06h0M93.55 501.8h0M92.21 504.56h0M90.06 501.94h0M92.08 515.32h0M83.57 505.51h0M94.04 503.49h0M83.17 499.27h0M84.4 513.77h0M82.57 506.15h0M77.73 505.63h0M86.29 503h0M84.66 500.83h0M82.09 513.29h0M81.31 513.47h0M80.63 513.16h0M86.79 511.35h0M86.27 510.54h0M95.72 500.93h0M83.52 509.93h0M95.45 501.71h0M88.31 512.82h0M84.18 507.66h0M89.76 513.38h0M91.1 510.05h0M83.41 504.43h0M97.23 502.9h0M85.37 503.26h0M88.48 502.11h0M92.91 503.11h0M84.75 499.95h0M85.35 499.76h0M85.79 510.68h0M80.94 514.41h0M93.68 508.75h0M85.48 513.44h0M91.18 504.76h0M89.24 508.37h0" stroke="#5272d2" stroke-width="1.1" stroke-linecap="round" fill="none" opacity="0.5"/>
<path d="M83.18 514.41h0M79.8 509.82h0M81.64 507.15h0M86.28 508.65h0M96.93 505.2h0M92.08 510.05h0M89.69 501.01h0M88.03 499.41h0M94.08 514.39h0M89.31 510.95h0M87.93 499.07h0M85.92 513.15h0M87.52 502.5h0M77.98 510.8h0M95.3 514.28h0M96.29 501.46h0M88.24 511.81h0M83.97 509.1h0M95.36 504.34h0M92.23 502.05h0M77.54 507.68h0M91.73 510.77h0M93.24 501.91h0M90.25 498.36h0M89.26 500.29h0M88.17 500.71h0M89.29 512.89h0M95.08 504.48h0M96.58 509.12h0M96.64 507.3h0M80.82 507.91h0M82.33 502.18h0M77.86 508.26h0M95.34 502.14h0M86.69 499.68h0M90.55 513.86h0M87.59 511.85h0M93.04 506.2h0M92.02 499.68h0M86.7 508.43h0M91.92 514.41h0M86.47 502.15h0M84.56 505.37h0M82.87 500.61h0M89.75 500.66h0M87.66 507.41h0M87.39 513.59h0M90.73 508.73h0M96.71 505.53h0M79.81 504.6h0M93.95 502.07h0M82.03 510.22h0M98.47 505.9h0M93.75 514.57h0M84.15 503.27h0M86.17 502.95h0M87.88 500.54h0" stroke="#10283c" stroke-width="1.1" stroke-linecap="round" fill="none" opacity="0.35"/>
<radialGradient id="g1_780_5110" cx="0.42" cy="0.4" r="0.68"><stop offset="0" stop-color="#8aa0e8"/><stop offset="0.7" stop-color="#4a66c0"/><stop offset="1" stop-color="#4a66c0" stop-opacity="0.3"/></radialGradient>
<g opacity="0.9" filter="url(#mottle)">
<ellipse cx="78" cy="511" rx="6" ry="6" fill="url(#g1_780_5110)"/>
<ellipse cx="81.35" cy="513.61" rx="1.87" ry="1.87" fill="#4a66c0" opacity="0.8"/>
<ellipse cx="75.94" cy="513.41" rx="2.95" ry="2.95" fill="#4a66c0" opacity="0.8"/>
<ellipse cx="74.14" cy="510.09" rx="2.15" ry="2.15" fill="#4a66c0" opacity="0.8"/>
<ellipse cx="77.48" cy="506.85" rx="1.94" ry="1.94" fill="#4a66c0" opacity="0.8"/>
<ellipse cx="81.14" cy="508.67" rx="2.21" ry="2.21" fill="#4a66c0" opacity="0.8"/>
</g>
<path d="M75.14 511.52h0M81.22 512.53h0M78.18 513.25h0M77.07 512.66h0M83.28 511.74h0M82.8 512.74h0M76.36 511.91h0M74.53 512.66h0M81.74 512.36h0M80.95 511.14h0M76.8 506.19h0M79.51 514.1h0M80.87 510.02h0M79.98 512.81h0M80.11 508.63h0M75.35 506.49h0" stroke="#8aa0e8" stroke-width="1.1" stroke-linecap="round" fill="none" opacity="0.55"/>
<path d="M76.27 509.34h0M74.94 511.37h0M73.8 511.55h0M82.43 510.33h0M73.14 510.74h0M75.63 510.89h0M76.65 508.54h0M78.79 514.27h0M77.03 511.09h0M74.61 515.06h0M74.73 510.8h0M73.65 512.21h0M74.56 510.94h0M75.52 509.63h0M76.56 507.79h0M77.12 507.94h0" stroke="#4a66c0" stroke-width="1.1" stroke-linecap="round" fill="none" opacity="0.5"/>
<path d="M76.46 509.17h0M74.23 511.35h0M79.91 511.18h0M73.42 512.17h0M79.87 506.4h0M79.83 506.02h0M78.7 512.98h0M81.1 514.68h0M79.13 513.82h0M81.32 514.93h0M78.66 513.54h0M74.25 508.47h0M81.99 511.98h0M74.05 510.25h0M73.2 510.53h0M80.21 506.5h0" stroke="#10283c" stroke-width="1.1" stroke-linecap="round" fill="none" opacity="0.35"/>
<radialGradient id="g1_1146_4337" cx="0.42" cy="0.4" r="0.68"><stop offset="0" stop-color="#a9c8c4"/><stop offset="0.7" stop-color="#6f9a9e"/><stop offset="1" stop-color="#6f9a9e" stop-opacity="0.3"/></radialGradient>
<g opacity="0.95" filter="url(#mottle)">
<ellipse cx="114.6" cy="433.7" rx="6.6" ry="6.4" fill="url(#g1_1146_4337)"/>
<ellipse cx="118.97" cy="435.36" rx="2.04" ry="1.97" fill="#6f9a9e" opacity="0.8"/>
<ellipse cx="113.58" cy="438.17" rx="2.02" ry="1.95" fill="#6f9a9e" opacity="0.8"/>
<ellipse cx="110.5" cy="433.33" rx="2.61" ry="2.53" fill="#6f9a9e" opacity="0.8"/>
<ellipse cx="114.24" cy="430.18" rx="3.08" ry="2.99" fill="#6f9a9e" opacity="0.8"/>
<ellipse cx="118.09" cy="432.16" rx="2.9" ry="2.81" fill="#6f9a9e" opacity="0.8"/>
</g>
<path d="M112.08 437.96h0M112.82 431.63h0M117.38 430.8h0M112.01 433.2h0M116.6 430.24h0M114.34 428.42h0M110.09 433.17h0M111.78 434.34h0M116.33 428.43h0M115.65 433.93h0M112.95 434.01h0M111.38 434.97h0M114.9 438.76h0M109.63 430.99h0M115.85 437.04h0M110.73 430.3h0M112.3 434.79h0M111.23 436.56h0M119.29 432.75h0" stroke="#a9c8c4" stroke-width="1.1" stroke-linecap="round" fill="none" opacity="0.55"/>
<path d="M117.63 429.34h0M110.79 435.48h0M117.13 429.46h0M112.52 435.18h0M114.23 430.61h0M114.32 436.57h0M112.75 429.43h0M118.81 431.99h0M109.04 434.26h0M117.54 437.08h0M118.02 433.44h0M115.76 435.29h0M119.61 434.54h0M110.01 436.43h0M115.09 432.9h0M113.54 436.47h0M114.51 434.67h0M114.49 437.06h0M110.46 434.93h0" stroke="#6f9a9e" stroke-width="1.1" stroke-linecap="round" fill="none" opacity="0.5"/>
<path d="M116.54 433.52h0M118.36 437.79h0M113.58 437.81h0M112.69 438.83h0M118.71 431.95h0M117.61 435.66h0M113.33 429.55h0M113.89 437.26h0M118.09 435.08h0M116.27 430.5h0M112.22 434.2h0M113.71 430.08h0M110.67 437.04h0M114.12 435.24h0M111.4 429.85h0M117.9 434.81h0M117.8 431h0M112.81 434.84h0M113.52 437.99h0" stroke="#10283c" stroke-width="1.1" stroke-linecap="round" fill="none" opacity="0.35"/>
<radialGradient id="g1_633_4679" cx="0.42" cy="0.4" r="0.68"><stop offset="0" stop-color="#8fd8a8"/><stop offset="0.7" stop-color="#5aa088"/><stop offset="1" stop-color="#5aa088" stop-opacity="0.3"/></radialGradient>
<g opacity="0.9" filter="url(#mottle)">
<ellipse cx="63.3" cy="467.9" rx="5" ry="4.6" fill="url(#g1_633_4679)"/>
<ellipse cx="64.1" cy="470.5" rx="2.16" ry="1.99" fill="#5aa088" opacity="0.8"/>
<ellipse cx="60.17" cy="468.49" rx="1.91" ry="1.75" fill="#5aa088" opacity="0.8"/>
<ellipse cx="60.06" cy="467.61" rx="1.84" ry="1.69" fill="#5aa088" opacity="0.8"/>
<ellipse cx="65.05" cy="465.07" rx="1.56" ry="1.43" fill="#5aa088" opacity="0.8"/>
</g>
<path d="M67.04 469.83h0M64.6 466.98h0M67.18 469.92h0M64.53 469.87h0M63.61 469.77h0M66.3 468.45h0M63.49 466.81h0M61.67 467.98h0M64.3 464.07h0M65.62 465.76h0" stroke="#8fd8a8" stroke-width="1.1" stroke-linecap="round" fill="none" opacity="0.55"/>
<path d="M65.7 470.62h0M66.89 469.45h0M62 471.62h0M62.46 471.38h0M61.1 467.96h0M60.35 468.05h0M65.16 470.44h0M59.61 467.2h0M61.42 470.64h0M64.34 470.73h0" stroke="#5aa088" stroke-width="1.1" stroke-linecap="round" fill="none" opacity="0.5"/>
<path d="M63.56 471.56h0M64.18 469.98h0M65.53 468.86h0M61.22 467.39h0M66.38 470.59h0M62.53 469.69h0M59.97 470.15h0M63.21 463.97h0M60.8 467.22h0M62.21 467.89h0" stroke="#10283c" stroke-width="1.1" stroke-linecap="round" fill="none" opacity="0.35"/>
<radialGradient id="g1_655_4754" cx="0.42" cy="0.4" r="0.68"><stop offset="0" stop-color="#5a78c0"/><stop offset="0.7" stop-color="#3a4f90"/><stop offset="1" stop-color="#3a4f90" stop-opacity="0.3"/></radialGradient>
<g opacity="0.8" filter="url(#mottle)">
<ellipse cx="65.5" cy="475.4" rx="5" ry="4.4" fill="url(#g1_655_4754)"/>
<ellipse cx="67.07" cy="477.4" rx="2.34" ry="2.06" fill="#3a4f90" opacity="0.8"/>
<ellipse cx="62.84" cy="476.07" rx="2.33" ry="2.05" fill="#3a4f90" opacity="0.8"/>
<ellipse cx="63.79" cy="473.45" rx="2.3" ry="2.03" fill="#3a4f90" opacity="0.8"/>
<ellipse cx="66.72" cy="472.95" rx="2.06" ry="1.81" fill="#3a4f90" opacity="0.8"/>
</g>
<path d="M67.76 478.67h0M63.62 475.27h0M69.03 475.09h0M66.47 478.94h0M63.01 473.17h0M67.32 473.85h0M64.91 478.35h0M66.59 478.57h0M63.51 475.65h0M66.78 476.52h0" stroke="#5a78c0" stroke-width="1.1" stroke-linecap="round" fill="none" opacity="0.55"/>
<path d="M61.68 473.66h0M66.7 471.91h0M61.82 473.96h0M64.18 477.5h0M67.38 474.25h0M63.08 473.31h0M68.71 476.36h0M66.74 471.83h0M61.78 477.24h0M69.66 476.29h0" stroke="#3a4f90" stroke-width="1.1" stroke-linecap="round" fill="none" opacity="0.5"/>
<path d="M63.79 472.17h0M62.23 476.38h0M66.47 473.73h0M67.09 478.54h0M67.03 474.07h0M62.43 474.58h0M63.96 478.77h0M64.69 478.82h0M64.03 476.19h0M67.18 475.04h0" stroke="#10283c" stroke-width="1.1" stroke-linecap="round" fill="none" opacity="0.35"/>
<radialGradient id="g1_789_3985" cx="0.42" cy="0.4" r="0.68"><stop offset="0" stop-color="#9cb6b6"/><stop offset="0.7" stop-color="#6a8a8c"/><stop offset="1" stop-color="#6a8a8c" stop-opacity="0.3"/></radialGradient>
<g opacity="0.9" filter="url(#mottle)">
<ellipse cx="78.9" cy="398.5" rx="3.8" ry="3.8" fill="url(#g1_789_3985)"/>
<ellipse cx="81.59" cy="398.89" rx="1.16" ry="1.16" fill="#6a8a8c" opacity="0.8"/>
<ellipse cx="77.61" cy="400.89" rx="1.16" ry="1.16" fill="#6a8a8c" opacity="0.8"/>
<ellipse cx="76.93" cy="398.06" rx="1.86" ry="1.86" fill="#6a8a8c" opacity="0.8"/>
<ellipse cx="79.67" cy="396.45" rx="1.68" ry="1.68" fill="#6a8a8c" opacity="0.8"/>
</g>
<path d="M78.99 398.89h0M80.09 398.55h0M81.11 397.83h0M78.9 399.24h0M77.69 397.01h0M79.86 400.55h0" stroke="#9cb6b6" stroke-width="1.1" stroke-linecap="round" fill="none" opacity="0.55"/>
<path d="M78.42 396.56h0M77.52 397.94h0M78.25 398.24h0M81.81 396.96h0M76.81 397.42h0M76.54 400.28h0" stroke="#6a8a8c" stroke-width="1.1" stroke-linecap="round" fill="none" opacity="0.5"/>
<path d="M76.36 397.13h0M76.87 399.26h0M78.65 397.07h0M77.98 399.9h0M79.77 401.56h0M77.78 401.21h0" stroke="#10283c" stroke-width="1.1" stroke-linecap="round" fill="none" opacity="0.35"/>
<radialGradient id="g1_566_4200" cx="0.42" cy="0.4" r="0.68"><stop offset="0" stop-color="#98a8b0"/><stop offset="0.7" stop-color="#66787e"/><stop offset="1" stop-color="#66787e" stop-opacity="0.3"/></radialGradient>
<g opacity="0.85" filter="url(#mottle)">
<ellipse cx="56.6" cy="420" rx="3.4" ry="3.2" fill="url(#g1_566_4200)"/>
<ellipse cx="58.42" cy="420.12" rx="1.65" ry="1.55" fill="#66787e" opacity="0.8"/>
<ellipse cx="55.41" cy="421.44" rx="1.53" ry="1.44" fill="#66787e" opacity="0.8"/>
<ellipse cx="54.59" cy="419.71" rx="1.43" ry="1.35" fill="#66787e" opacity="0.8"/>
<ellipse cx="58.65" cy="419.13" rx="1.22" ry="1.14" fill="#66787e" opacity="0.8"/>
</g>
<path d="M58.18 420.98h0M56.92 417.5h0M58.2 420.64h0M58.02 419.22h0" stroke="#98a8b0" stroke-width="1.1" stroke-linecap="round" fill="none" opacity="0.55"/>
<path d="M59.04 421.38h0M57.47 418.26h0M55.73 417.64h0M57.29 418.93h0" stroke="#66787e" stroke-width="1.1" stroke-linecap="round" fill="none" opacity="0.5"/>
<path d="M56.23 417.25h0M57.13 417.98h0M54.22 421.76h0M59.34 419.89h0" stroke="#10283c" stroke-width="1.1" stroke-linecap="round" fill="none" opacity="0.35"/>
<radialGradient id="g1_732_4555" cx="0.42" cy="0.4" r="0.68"><stop offset="0" stop-color="#86aaa8"/><stop offset="0.7" stop-color="#5a807e"/><stop offset="1" stop-color="#5a807e" stop-opacity="0.3"/></radialGradient>
<g opacity="0.9" filter="url(#mottle)">
<ellipse cx="73.2" cy="455.5" rx="3.4" ry="3.2" fill="url(#g1_732_4555)"/>
<ellipse cx="74.59" cy="456.64" rx="1.63" ry="1.53" fill="#5a807e" opacity="0.8"/>
<ellipse cx="71.21" cy="456.15" rx="1.36" ry="1.28" fill="#5a807e" opacity="0.8"/>
<ellipse cx="71.2" cy="455.15" rx="1.44" ry="1.35" fill="#5a807e" opacity="0.8"/>
<ellipse cx="73.62" cy="453.45" rx="1.25" ry="1.17" fill="#5a807e" opacity="0.8"/>
</g>
<path d="M71.23 454.65h0M71.49 453.45h0M74.82 454.99h0M74.87 455.04h0" stroke="#86aaa8" stroke-width="1.1" stroke-linecap="round" fill="none" opacity="0.55"/>
<path d="M71.66 457.54h0M75.35 455.19h0M73.99 452.99h0M72.25 457.58h0" stroke="#5a807e" stroke-width="1.1" stroke-linecap="round" fill="none" opacity="0.5"/>
<path d="M73.6 455.34h0M75.23 457.39h0M71.39 454.75h0M73.75 453.65h0" stroke="#10283c" stroke-width="1.1" stroke-linecap="round" fill="none" opacity="0.35"/>
<radialGradient id="g1_1228_4997" cx="0.42" cy="0.4" r="0.68"><stop offset="0" stop-color="#a0e0a0"/><stop offset="0.7" stop-color="#5fb070"/><stop offset="1" stop-color="#5fb070" stop-opacity="0.3"/></radialGradient>
<g opacity="0.95" filter="url(#mottle)">
<ellipse cx="122.8" cy="499.7" rx="4.8" ry="4.4" fill="url(#g1_1228_4997)"/>
<ellipse cx="125.86" cy="500.26" rx="1.78" ry="1.63" fill="#5fb070" opacity="0.8"/>
<ellipse cx="120.3" cy="500.94" rx="2.06" ry="1.88" fill="#5fb070" opacity="0.8"/>
<ellipse cx="120.17" cy="497.66" rx="1.45" ry="1.33" fill="#5fb070" opacity="0.8"/>
<ellipse cx="126.14" cy="499.2" rx="1.52" ry="1.39" fill="#5fb070" opacity="0.8"/>
</g>
<path d="M122.12 503.16h0M126.11 498.45h0M120.05 502.01h0M121.18 497.08h0M123.51 496.83h0M120.67 499.22h0M123.04 498.42h0M125.63 501.47h0M126.67 500.76h0" stroke="#a0e0a0" stroke-width="1.1" stroke-linecap="round" fill="none" opacity="0.55"/>
<path d="M123.84 502.23h0M122.61 502.44h0M121.37 498.53h0M118.7 498.64h0M123.99 501.19h0M123.28 500.92h0M127.02 500h0M123.63 499.52h0M124.44 497.09h0" stroke="#5fb070" stroke-width="1.1" stroke-linecap="round" fill="none" opacity="0.5"/>
<path d="M123.87 503.29h0M125.38 501.81h0M121.11 496.78h0M122.94 501.23h0M121.21 498.13h0M119.87 497.6h0M126.4 500.38h0M125.52 499.37h0M120.59 498.67h0" stroke="#10283c" stroke-width="1.1" stroke-linecap="round" fill="none" opacity="0.35"/>
<radialGradient id="g1_1360_4759" cx="0.42" cy="0.4" r="0.68"><stop offset="0" stop-color="#90d090"/><stop offset="0.7" stop-color="#5a9a60"/><stop offset="1" stop-color="#5a9a60" stop-opacity="0.3"/></radialGradient>
<g opacity="0.9" filter="url(#mottle)">
<ellipse cx="136" cy="475.9" rx="2.4" ry="2.4" fill="url(#g1_1360_4759)"/>
<ellipse cx="135.86" cy="477.51" rx="0.83" ry="0.83" fill="#5a9a60" opacity="0.8"/>
<ellipse cx="135.03" cy="477.03" rx="0.96" ry="0.96" fill="#5a9a60" opacity="0.8"/>
<ellipse cx="136.45" cy="474.52" rx="0.99" ry="0.99" fill="#5a9a60" opacity="0.8"/>
</g>
<path d="M136.59 477.89h0M134.68 475.61h0" stroke="#90d090" stroke-width="1.1" stroke-linecap="round" fill="none" opacity="0.55"/>
<path d="M135.99 475.48h0M137.74 474.96h0" stroke="#5a9a60" stroke-width="1.1" stroke-linecap="round" fill="none" opacity="0.5"/>
<path d="M135.94 477.35h0M137.87 476.37h0" stroke="#10283c" stroke-width="1.1" stroke-linecap="round" fill="none" opacity="0.35"/>
<radialGradient id="g1_1280_3925" cx="0.42" cy="0.4" r="0.68"><stop offset="0" stop-color="#80d060"/><stop offset="0.7" stop-color="#50a040"/><stop offset="1" stop-color="#50a040" stop-opacity="0.3"/></radialGradient>
<g opacity="0.9" filter="url(#mottle)">
<ellipse cx="128" cy="392.5" rx="2" ry="2" fill="url(#g1_1280_3925)"/>
<ellipse cx="127.69" cy="393.66" rx="0.84" ry="0.84" fill="#50a040" opacity="0.8"/>
<ellipse cx="127.13" cy="391.61" rx="0.79" ry="0.79" fill="#50a040" opacity="0.8"/>
<ellipse cx="128.99" cy="392.01" rx="0.94" ry="0.94" fill="#50a040" opacity="0.8"/>
</g>
<path d="M129.09 391.95h0" stroke="#80d060" stroke-width="1.1" stroke-linecap="round" fill="none" opacity="0.55"/>
<path d="M127.66 392.48h0" stroke="#50a040" stroke-width="1.1" stroke-linecap="round" fill="none" opacity="0.5"/>
<path d="M128.51 392.34h0" stroke="#10283c" stroke-width="1.1" stroke-linecap="round" fill="none" opacity="0.35"/>
<path d="M94.3 407.1L103.5 401.8L103 416.4" fill="none" stroke="#3b62d6" stroke-width="0.9" stroke-linejoin="round"/>
<rect x="143.6" y="390" width="3.4" height="127" fill="#000"/>
<rect x="136.5" y="390" width="10.5" height="55.6" fill="#000"/>
<text transform="translate(137.4 390.8) rotate(90) scale(0.68 1)" font-size="11.4" font-family='"Liberation Sans", Arial, sans-serif' text-anchor="start"><tspan fill="#2a7fd2">DAPI</tspan><tspan fill="#fff">/</tspan><tspan fill="#f21f1f">ACT</tspan><tspan fill="#fff">/</tspan><tspan fill="#8cc63f">SPC</tspan></text>
</g>
<line x1="106.7" y1="512.6" x2="141.4" y2="512.6" stroke="#fff" stroke-width="1" />
<text x="124.05" y="515.8" font-size="2.2" font-weight="normal" text-anchor="middle" font-family='"Liberation Sans", Arial, sans-serif' fill="#ddd" >100 µm</text>
<g clip-path="url(#ic2)">
<rect x="186.4" y="390" width="131.6" height="127" fill="#03121a"/>
<ellipse cx="250" cy="445" rx="22" ry="6" fill="#6a3626" opacity="0.25" filter="url(#b4)"/>
<ellipse cx="235" cy="470" rx="12" ry="10" fill="#4a2a1e" opacity="0.2" filter="url(#b4)"/>
<path d="M216.23 512.21h0M203.03 479.51h0M197.61 421.43h0M317.89 416.59h0M270.87 448.31h0M246.03 452.86h0M211.7 495.48h0M198.19 419.74h0M189.03 423.88h0M240.05 504.56h0M236.29 404.44h0M220.4 515.93h0M194.7 468.76h0M236.04 473.93h0M230.94 477.8h0M251.88 472.51h0M305.02 463.86h0M205.11 398.18h0M310.9 452.06h0M211.91 510.15h0M262.59 482.58h0M302.33 426.28h0M233.34 501.52h0M204.16 487.07h0M199.25 477.65h0M278.8 510.65h0M297.4 453.96h0M212.41 409.07h0M255.98 454.74h0M195.8 504.71h0M253.18 479.06h0M215.35 420.97h0M187.97 433.59h0M221.52 443.77h0M236 495.96h0M303.72 412.26h0M238.55 411.11h0M273.67 513.81h0M212.96 487.34h0M225.89 391.68h0M286.98 433.41h0M208.79 445.32h0M216.89 442.08h0M245.1 443.08h0M263.85 426.67h0M198.92 400.83h0M200.42 456.16h0M233.8 492.58h0M252.85 479.94h0M315.38 398h0M188.63 407.83h0M237.24 462.86h0M284.28 434.63h0M313.39 390.37h0M296.38 416.68h0M301.57 394.21h0M313.42 486.44h0M316.74 463.66h0M209.8 513.17h0M244.5 400.59h0M266.07 453.15h0M248.67 409.62h0M202.46 463.75h0M245.97 406.06h0M244.24 482.14h0" stroke="#2f5f9a" stroke-width="0.5" stroke-linecap="round" fill="none" opacity="0.38"/>
<path d="M280.56 449.85h0M238.22 435.82h0M216.08 415.08h0M245.12 403.74h0M281.83 479.96h0M266.88 392.87h0M234.32 444.92h0M198.68 512.91h0M285.84 453.83h0M279.2 415.49h0M216.59 456.77h0M284.3 472.2h0M187.28 467.87h0M306 484.4h0M308.47 514.68h0M215.83 427.65h0M258.43 514.05h0M234.99 509.56h0M298.32 455.57h0M268.66 511.55h0M289.48 427.57h0M297.7 414.86h0M235.09 511.74h0M297.87 429.62h0M224.63 467.86h0M297.29 476.91h0M309.58 482.46h0M294.43 466.83h0M234.06 444.29h0M250.88 457.17h0M296.71 424.14h0M195.43 483.11h0M222.05 443.31h0M201.8 495.33h0M222.45 427.04h0M292.24 454.04h0M222.9 502.83h0M240.59 435.89h0M313.45 490.35h0" stroke="#2f5f9a" stroke-width="0.8" stroke-linecap="round" fill="none" opacity="0.46"/>
<path d="M284.76 421.74h0M293.43 465.77h0M295.59 436.73h0M289.15 490.77h0M237.45 473.15h0M289.08 516.12h0M307.53 489.85h0M204.4 467.51h0M276.55 401.05h0M247.29 500.33h0M305.55 507.51h0M198.6 467.1h0M300.24 472.89h0M228.5 394.92h0M307.44 499.1h0M272.42 436.51h0M295.42 493.48h0M281.77 466.17h0M228.42 427.67h0M233.45 431.5h0M254.84 404.48h0M281.33 434.2h0M207.42 422.37h0M237.63 444.77h0M289.34 402.67h0M215.69 427.23h0" stroke="#2f5f9a" stroke-width="1" stroke-linecap="round" fill="none" opacity="0.6"/>
<path d="M209.65 485.17h0M200.75 396.46h0M259.55 483.49h0M294.98 461.05h0M229.4 502h0M283.28 450.82h0M260.47 508.88h0M317.65 508.27h0M203.86 431.51h0M240.07 411.46h0M286.69 397.73h0M303.19 464.37h0M267.17 442.68h0M309.64 463.45h0M304.39 507.18h0M277.48 514.89h0M250.84 436.55h0M297.47 457.05h0M227.04 476.38h0M249.02 406.24h0M296.66 453.49h0M314.26 457.77h0M309.69 426.72h0M215.02 456.87h0M287.3 494.76h0M271.6 405.78h0M238.26 394.44h0M235.29 509.98h0M232.07 478.77h0M268.18 408.19h0M276.99 400.12h0M210.7 463.65h0M203.17 512.49h0M242.4 470.05h0M313.41 403.72h0M317.88 395.03h0M265.52 473.3h0M316.14 435.48h0M310.99 472.58h0M249.13 411.56h0M217.43 436.38h0M231.97 437.21h0M292.75 437.61h0M269.14 394.9h0M204.92 480.16h0M303.6 429.77h0M190.67 419.54h0M233.84 436.54h0M260.29 428.32h0M271.55 489.81h0M289.47 484.16h0M263.26 423.12h0M297.13 426.78h0M299.59 446.79h0M269.2 453.4h0M272.45 433.31h0M262.52 483.54h0M233.96 466.26h0M246.47 449.69h0M236.89 459.42h0M279.75 412.06h0M205.63 494.55h0M198.05 490.72h0M286.3 417.64h0M270.1 422.18h0" stroke="#3a56a0" stroke-width="0.5" stroke-linecap="round" fill="none" opacity="0.38"/>
<path d="M302.43 415.06h0M201.62 394.65h0M280.96 416.9h0M227.76 514.07h0M283.27 483.68h0M262.19 471.36h0M187.85 493.19h0M229.71 498.54h0M240.95 505.73h0M186.46 514.51h0M199.01 454.89h0M249.77 515.26h0M280.74 514.7h0M305.6 443.99h0M205.85 408.53h0M279.76 510.81h0M273.91 433.97h0M265 473.42h0M219.7 478.14h0M212.61 393.53h0M194.86 452.01h0M278 418.64h0M238.63 478.02h0M221.03 456.33h0M265.74 441.57h0M213.83 477.97h0M278.66 414h0M292.65 473.22h0M300.43 489.08h0M251.46 480.9h0M227.79 473h0M197.24 433.93h0M253 502.47h0M276.39 505.45h0M300.8 513.28h0M267.67 468.33h0M248.11 418.09h0M291.23 467.52h0M207.68 420.47h0" stroke="#3a56a0" stroke-width="0.8" stroke-linecap="round" fill="none" opacity="0.46"/>
<path d="M215.46 481.78h0M265.02 415.52h0M276.89 461.54h0M221.48 446.46h0M317.04 407.91h0M217.54 465.41h0M296.93 507.06h0M238.93 487.65h0M202 439.04h0M299.17 474.46h0M245.18 466.02h0M250.55 459.59h0M302.74 513.91h0M212.76 485.9h0M310.72 467.12h0M252.26 437.31h0M250.1 463.74h0M266.86 404.48h0M317.84 425.05h0M258.45 415.18h0M269.49 399.48h0M230.53 438.85h0M227.59 451.88h0M207.22 452.31h0M291.1 469.84h0M314.07 510.66h0" stroke="#3a56a0" stroke-width="1" stroke-linecap="round" fill="none" opacity="0.6"/>
<path d="M249.24 449.42h0M286.74 501.73h0M257.6 474.75h0M277.3 455.27h0M253.29 440.93h0M245.46 450.21h0M292.05 410.29h0M201.88 507.27h0M253.56 478.51h0M306.92 483.5h0M260.95 510.91h0M268.53 446.72h0M210.44 410.23h0M290.68 503.86h0M233.39 457.19h0M275.69 467.06h0M222.63 505.74h0M259.03 480.71h0M276.99 445.67h0M278.68 414.12h0M258.5 472.74h0M269.22 427.12h0M210.28 402.86h0M202.69 413.4h0M250.28 462.2h0M279.31 445.62h0M287.43 393.76h0M232.23 405.15h0M254.37 462.7h0M263.15 446.33h0M234.85 431.72h0M200.38 414.55h0M250.43 462.09h0M199.62 497.33h0M190.05 406.02h0M245.36 432.28h0M254.84 477.62h0M264.66 489.7h0M248.27 475.89h0M241.4 406.03h0M196.17 413.1h0M244.81 425.07h0M260.18 474.74h0M307.37 409.01h0M312.43 390.15h0M303.44 515.07h0M234.45 491.42h0M252.88 461.38h0M299.23 509.58h0M225.91 417.89h0M306.98 465.18h0M305.07 418.08h0M298.15 410.25h0M205.71 426.62h0M308.47 439.19h0M244.34 426.7h0M196.23 446.1h0M251.79 432.5h0M282.57 429.34h0M315.31 505.48h0M262.58 402.9h0M260.06 468.87h0M271.95 444.02h0M281.81 516.58h0M278.83 395.22h0" stroke="#3f8a8a" stroke-width="0.5" stroke-linecap="round" fill="none" opacity="0.38"/>
<path d="M269.06 469.15h0M258.17 509.16h0M193.3 392.18h0M281.45 402.75h0M204.47 493.8h0M233.98 502.18h0M291.79 474.15h0M233.62 400.48h0M314.85 500.57h0M307.12 454.64h0M223.36 469.72h0M241.57 414.37h0M201.24 441.8h0M205.92 424.03h0M315.01 508.58h0M302.95 455.06h0M286.79 410.81h0M268.08 513.76h0M290.47 515.26h0M269.02 428.59h0M189.12 424.36h0M295.49 457.04h0M268.44 491.93h0M225.27 407.87h0M303.16 466.29h0M189.97 478.48h0M281.31 486.69h0M203.67 424.71h0M281.61 474.99h0M231.98 513.04h0M226.17 503.17h0M204.24 448.07h0M317.01 478.17h0M286.02 502.21h0M268.94 459.34h0M294.96 457.5h0M312.47 486.66h0M186.56 426.52h0M302.86 404.88h0" stroke="#3f8a8a" stroke-width="0.8" stroke-linecap="round" fill="none" opacity="0.46"/>
<path d="M188.39 463.86h0M277.7 514.56h0M313.09 469.56h0M278.48 457.38h0M298.22 477.9h0M203.35 469.52h0M193.02 432.57h0M230.3 506.89h0M215.42 437.79h0M260.69 416.07h0M246.05 427.69h0M281.36 490.79h0M263.03 500.19h0M251.02 484.87h0M198.85 439.16h0M228.87 502.63h0M251.95 437.81h0M274.17 511.19h0M295.65 492.05h0M274.06 492.07h0M260.34 439.35h0M228.1 423.39h0M230.75 453.62h0M299.81 420.01h0M237.92 423.19h0M249.8 397.75h0" stroke="#3f8a8a" stroke-width="1" stroke-linecap="round" fill="none" opacity="0.6"/>
<path d="M268.37 499h0M306.34 435.55h0M208.63 482.81h0M285.82 414.16h0M194.4 475.08h0M236.36 456.32h0M260.7 502.26h0M202.95 422.97h0M190.92 477.49h0M196.81 498.33h0M266.66 455.04h0M221.6 500.4h0M201.46 463.73h0M295.61 473.53h0M192.89 404.18h0M223.99 482.81h0M204.43 511.38h0M302.99 462.65h0M301.8 470.67h0M207.47 441.36h0M189.57 445.65h0M316.58 441.3h0M273.81 435.69h0M275.19 432.54h0M306.61 442.1h0M221.82 444.55h0M196.29 431.88h0M283.65 441.37h0M245.21 419.81h0M294.89 502.35h0M240.22 390.24h0M242.68 501.06h0M272.13 418.97h0M200.25 502.59h0M196.83 468.18h0M264.77 413.16h0M244.52 499.53h0M317.66 399.5h0M190.48 422.97h0M193.01 507.9h0M196.98 436.64h0M299.16 448.93h0M217.14 397.93h0M216.22 429.37h0M297.89 445.09h0M259.12 423.37h0M240.07 507.83h0M201.44 479.04h0M227.65 443.09h0M281.17 434.34h0M250.74 451.94h0M250.18 399.39h0M238.06 438.26h0M241.62 426.43h0M245.44 484.08h0M196.08 399.56h0M256.81 463.38h0M291.57 394.15h0M187.65 467.16h0M214.76 452.71h0M225.1 401.08h0M260.21 430.04h0M250.47 500.37h0M245.62 496.97h0M224.92 413.07h0" stroke="#4f9a5a" stroke-width="0.5" stroke-linecap="round" fill="none" opacity="0.38"/>
<path d="M239.37 427.8h0M282.08 405.34h0M281.59 417.88h0M240.12 417.42h0M205.43 407.65h0M316.16 402.6h0M308.07 448.44h0M302.49 412.76h0M263.25 476.67h0M226.71 467.92h0M305.29 442.86h0M190.23 467.47h0M289.19 447.76h0M296.86 435.13h0M245.83 444.9h0M198.82 399.08h0M270.33 502.92h0M210.56 504.91h0M229.32 443.08h0M191.92 390.93h0M262.17 502.31h0M270.09 406.48h0M273.46 406.5h0M248.24 485.24h0M237.38 430.38h0M228.55 426.92h0M188.47 482.31h0M237.96 413.76h0M227.33 395.22h0M248.28 464.1h0M268.14 446.48h0M316.56 409.09h0M212.24 461.31h0M240.66 428.5h0M281.85 455.39h0M260.88 477.86h0M241.85 455.02h0M316.38 410.54h0M247.59 467.79h0" stroke="#4f9a5a" stroke-width="0.8" stroke-linecap="round" fill="none" opacity="0.46"/>
<path d="M286.87 401.3h0M201.57 423.97h0M274.2 416.63h0M191.01 443.25h0M206.72 477.28h0M311.32 485.72h0M261.22 441.68h0M189.9 445.25h0M254.96 428.17h0M240.1 509.71h0M235.42 423.32h0M244.46 508.73h0M191.91 449.26h0M316.58 457.16h0M228.21 432.21h0M277.46 406.76h0M311.5 477.95h0M306.29 410.54h0M188.73 430.72h0M247.9 457.08h0M268.29 394.46h0M309.63 409.27h0M210.88 406.03h0M236.54 410.45h0M280.4 434.77h0M202.96 436.63h0" stroke="#4f9a5a" stroke-width="1" stroke-linecap="round" fill="none" opacity="0.6"/>
<path d="M294.6 459.67h0M195.36 464.56h0M251.17 455.9h0M285.01 408.32h0M278.28 488.01h0M306.96 439.01h0M215.74 480.12h0M317.58 513.25h0M264.6 430.73h0M307.74 409.32h0M271.11 498.78h0M260.26 484.26h0M242.85 479.39h0M214.62 476.5h0M204.61 412.08h0M202.27 430.98h0M187.2 479.18h0M306.6 496.49h0M191.91 452.69h0M203.86 462.76h0M188.08 511h0M246.21 412.15h0M240.97 429.57h0M250.12 442.4h0M313.75 429.92h0M195.05 460.19h0M249.07 435.28h0M313.09 497.21h0M240.33 407.57h0M302.37 492.05h0M308.2 440.87h0M217.19 456.45h0M255.74 483.22h0M204.85 512.52h0M257.15 426.75h0M265.65 398.44h0M295.4 458.44h0M213.1 396.44h0M256.57 491.38h0M217.81 511.45h0M266.51 455.12h0M313.83 435.01h0M278.79 437.87h0M232.37 456.8h0M311.54 402.27h0M238.96 396.86h0M240.76 398.37h0M292.07 476.21h0M312.87 483.21h0M232.09 468.57h0M207.46 445.12h0M200.29 512.86h0M274.12 422.32h0M257.18 439.67h0M303.3 475.8h0M279.21 469.34h0M206.32 462.38h0M298.09 437.09h0M187 429.31h0M188.85 462.1h0M249.22 403.93h0M300.21 421.85h0M244.67 408.83h0M255.41 462.51h0M279.37 391.68h0" stroke="#2a5a6a" stroke-width="0.5" stroke-linecap="round" fill="none" opacity="0.38"/>
<path d="M206.83 409.15h0M226.74 492.62h0M298.36 483.76h0M260.08 393.16h0M224.21 454.77h0M283.21 438.4h0M245.87 430h0M255.65 445.02h0M234.44 507.19h0M266.41 474.18h0M299.13 484.09h0M220.44 485.34h0M267.54 456.62h0M278.79 495.82h0M224.86 426.88h0M256.71 402.32h0M289.94 415.65h0M227.17 489.37h0M303.38 422.99h0M202.61 475.37h0M266.95 441.12h0M209.46 513.24h0M199.45 499.53h0M217.38 421.57h0M241.04 407.12h0M286.37 414.17h0M222.43 433.3h0M292.41 394.72h0M283.5 425.56h0M272.39 512.96h0M210.58 393.8h0M225.69 480.14h0M216.8 431.08h0M315.59 499.58h0M312.69 417.17h0M277.66 429.43h0M278.88 494.68h0M273.24 453.66h0M272.24 477.37h0" stroke="#2a5a6a" stroke-width="0.8" stroke-linecap="round" fill="none" opacity="0.46"/>
<path d="M207.89 480.38h0M203.03 498.42h0M231.54 401.39h0M188.75 466.91h0M195.64 441.51h0M192.12 477.42h0M300.01 393.15h0M267.13 472.28h0M259.68 512.88h0M227.37 503.67h0M257.39 418.42h0M222.89 402.92h0M286.89 418.23h0M263.79 488.28h0M220.12 472.78h0M275.82 444.45h0M289.45 444.36h0M205.46 401.6h0M205.62 482.17h0M252.86 407.94h0M310.87 391.5h0M264.38 450.75h0M303.35 466.15h0M297.42 418.34h0M256.29 489.15h0M235.41 482.79h0" stroke="#2a5a6a" stroke-width="1" stroke-linecap="round" fill="none" opacity="0.6"/>
<path d="M241.06 433.59h0M222.37 476.63h0M316.26 395.04h0M214.54 398.26h0M208.89 454.17h0M260.27 478.07h0M203.09 497.82h0M212.28 489.19h0M238.42 455.46h0M296.68 505.98h0M257.45 397.68h0M227.37 480.54h0M294.07 502.93h0M259.45 403.1h0M223.17 443.99h0M204.09 434.27h0M227.2 482.14h0M247.33 463.06h0M225.36 481.81h0M258.83 400.56h0M307.98 403.74h0M219.02 400.93h0M291.39 499.1h0M246.74 486.94h0M291.62 498.97h0M310.77 472.53h0M265.42 394.34h0M215.26 516.06h0M256.02 509.35h0M215.61 493.82h0M290.95 483.02h0M227.24 516.35h0M230.34 516.4h0" stroke="#c0704a" stroke-width="0.5" stroke-linecap="round" fill="none" opacity="0.38"/>
<path d="M310.1 401.28h0M196.22 441.8h0M221.1 440.32h0M210.09 485.42h0M198.94 466.02h0M229.46 432.66h0M266.07 392.11h0M285.14 449.2h0M283.79 494.34h0M307.22 391.36h0M220.92 433.78h0M258.02 427.68h0M243.67 453.85h0M287.43 400.73h0M235.67 420.03h0M242.41 435.33h0M218.13 508.82h0M186.6 394.51h0M282.52 417.16h0M307.31 470.82h0" stroke="#c0704a" stroke-width="0.8" stroke-linecap="round" fill="none" opacity="0.46"/>
<path d="M295.69 511.34h0M285.13 512.57h0M209.58 415.72h0M189.56 390.1h0M291.71 479.84h0M225.82 408.37h0M199.47 455.1h0M316.57 390.15h0M260.35 478.77h0M219.36 409.92h0M307.31 489.09h0M230.29 511.4h0M245.87 496.85h0" stroke="#c0704a" stroke-width="1.1" stroke-linecap="round" fill="none" opacity="0.6"/>
<path d="M278.86 448.69h0M234.72 402.13h0M235.33 482.47h0M229.28 429.4h0M229.61 400.23h0M300.83 472.2h0M268 497.12h0M265.89 442.38h0M298.87 418.87h0M284.7 514.09h0M202.85 420.15h0M234.68 482.77h0M254.89 440.86h0M305.27 443.08h0M215.81 394.03h0M314.23 516.32h0M314.34 465.14h0M257.53 510.54h0M258.13 434.5h0M273.23 420.72h0M253.45 414.1h0M216.79 438.21h0M277.89 493.81h0M195.2 453.36h0M297.42 402.3h0M217.43 471.29h0M225.66 504.59h0M190.75 475.81h0M263.24 424.12h0M281.85 427.22h0M196.63 454.31h0M194.84 463.4h0M213.73 452.46h0" stroke="#d08868" stroke-width="0.5" stroke-linecap="round" fill="none" opacity="0.38"/>
<path d="M313.2 476.83h0M260.14 490.35h0M241.74 462.94h0M309.92 514.05h0M187.29 469.85h0M285.58 497.76h0M254.71 404.65h0M241.71 423.93h0M252.93 405.76h0M201.87 510.17h0M248.19 490.28h0M266.84 440.36h0M266.14 504.45h0M205.91 476.74h0M313.11 514.54h0M261.07 396.57h0M277.62 451.12h0M314.65 420.68h0M202.63 402.19h0M260.61 471.65h0" stroke="#d08868" stroke-width="0.8" stroke-linecap="round" fill="none" opacity="0.46"/>
<path d="M250.22 500.67h0M316.72 407.82h0M256.07 446.31h0M197.68 414.74h0M259.12 444.71h0M223.87 398.14h0M279.26 503.22h0M206.8 500.33h0M239.18 508.01h0M311.22 512.25h0M189.73 484.44h0M191.92 395.4h0M262.53 425.14h0" stroke="#d08868" stroke-width="1.1" stroke-linecap="round" fill="none" opacity="0.6"/>
<path d="M312.86 455.49h0M222.87 455.2h0M250.4 392.01h0M301.93 466.13h0M280.7 496.39h0M288.82 391.92h0M277.02 469.98h0M272.87 463.65h0M301.66 400.43h0M236.22 490.72h0M237.41 508.01h0M308.32 461.48h0M281.36 397.94h0M223.66 457.53h0M186.64 472.42h0M254.58 407.7h0M274.03 447.02h0M195.54 417.86h0M211.18 456.61h0M254.28 442.06h0M302.92 394.78h0M295.47 446.75h0M209.64 423.96h0M218.02 516.2h0M262.79 426.88h0M224.09 504.72h0M221.22 497.78h0M229.65 392.22h0M186.97 505.47h0M310 499.05h0M257.47 391.95h0M257.2 421.96h0M246.38 500.52h0" stroke="#b05a3a" stroke-width="0.5" stroke-linecap="round" fill="none" opacity="0.38"/>
<path d="M210.97 479.25h0M202.77 395.62h0M202.13 437.7h0M201.23 484.46h0M242.98 452.3h0M215.09 463.59h0M189.76 405.24h0M207.61 428.67h0M296.36 426.38h0M213.67 450.65h0M186.82 435.61h0M267.13 463.47h0M300.88 448.04h0M257.51 407.03h0M257.75 502.93h0M265.82 397.58h0M240.41 485.74h0M190.17 506.08h0M288.29 469.92h0M286.52 452.53h0" stroke="#b05a3a" stroke-width="0.8" stroke-linecap="round" fill="none" opacity="0.46"/>
<path d="M272.21 451.65h0M278.83 414.02h0M227.22 427.62h0M260.74 501.24h0M249.63 456.92h0M304.42 408.76h0M221.72 473.46h0M291.9 457.39h0M219.99 492.76h0M253.5 393.37h0M204.33 493.81h0M225.91 404.98h0M224 489.09h0" stroke="#b05a3a" stroke-width="1.1" stroke-linecap="round" fill="none" opacity="0.6"/>
<path d="M261.38 447.7h0M258.57 443.78h0M246.05 446.46h0M257.24 447.69h0M251.15 447.9h0M259.57 447.29h0M227.69 442.23h0M241.78 448.26h0M257.07 448.3h0M254.11 448.33h0M267.91 450.63h0M255.05 444.62h0M265.78 446.56h0M235.3 450.24h0M259.95 450.99h0M264.09 444.05h0M268.84 442.76h0M267.87 450.2h0M265.3 445.19h0M253.76 445.17h0M285.14 441.98h0M280.16 445.87h0M248.11 442.51h0M238.98 447.14h0M245.1 446.82h0M263.96 446.53h0M257.48 445.75h0M241.75 448.59h0M257.94 440.72h0M239.37 444.29h0" stroke="#d08060" stroke-width="0.7" stroke-linecap="round" fill="none" opacity="0.7"/>
<path d="M260.47 444.78h0M239.24 444.95h0M241.54 447.2h0M224.54 446.13h0M256.44 445.49h0M243.56 446.76h0M267.89 445.01h0M240.51 444.6h0M258.5 448.35h0M240.09 450.2h0M251.91 443.78h0M245.43 447.38h0M269.95 444.7h0M245.53 444.98h0M278.38 445.05h0M257.36 447.54h0M255.2 445.39h0M239.68 446.12h0M250.57 443.15h0M243.11 446.83h0M250.98 446.19h0M268.05 447.8h0M244.54 446.11h0M236.97 444.57h0M253.8 448.33h0M244.9 447.22h0M248.17 449.18h0M271.86 449.15h0M247.1 447.28h0M249.77 444.72h0" stroke="#d08060" stroke-width="1.15" stroke-linecap="round" fill="none" opacity="0.75"/>
<path d="M235.37 467h0M238.4 465.23h0M239.68 474.33h0M232.52 462.66h0M232.23 473.71h0M238.04 460.76h0M239.98 478.73h0M241.12 473.63h0M236.94 472.86h0M243.64 469.13h0M250.4 477.5h0M236.59 454.93h0M224.03 469.07h0M240.78 472.92h0M234.95 460.6h0M238.59 471.8h0M235.87 466.36h0M245.77 468.21h0M234.6 475.58h0M237.18 472.28h0" stroke="#b86a4a" stroke-width="0.7" stroke-linecap="round" fill="none" opacity="0.7"/>
<path d="M250.08 464.08h0M241.06 463.54h0M234.35 477.6h0M226.48 472.39h0M228.17 471.05h0M228.01 470.31h0M230.38 472.07h0M241.46 472.87h0M238.88 467.47h0M238.23 470.33h0M240.18 477.08h0M239.79 464.08h0M234.92 471.08h0M226.46 472h0M241.59 464.93h0M237.93 464.65h0M244.12 463.99h0M236.07 474.93h0M234.14 456.84h0M231.24 476.46h0" stroke="#b86a4a" stroke-width="1.15" stroke-linecap="round" fill="none" opacity="0.75"/>
<path d="M208.23 410.74h0M208.37 413.91h0M203.31 401.77h0M202.78 403.58h0M197.36 412.61h0M198.76 411.74h0M204.42 411.1h0M207.27 414.81h0M204.18 414.34h0M209 412.91h0M209.79 414.09h0M206.27 405.28h0M207.17 414.92h0M204.3 413.33h0M213.25 408.49h0" stroke="#c8785a" stroke-width="0.7" stroke-linecap="round" fill="none" opacity="0.7"/>
<path d="M200.81 412.96h0M204.8 412.1h0M210.23 414.69h0M206.78 415.72h0M205.39 404.82h0M205.22 409.46h0M218.71 411.79h0M202.68 416.86h0M210.55 414.16h0M193.98 411.11h0M207.33 413.15h0M200.38 413.2h0M214.36 413.21h0M215.42 415.08h0M204.5 409.91h0" stroke="#c8785a" stroke-width="1.15" stroke-linecap="round" fill="none" opacity="0.75"/>
<path d="M292.87 461.44h0M280.87 470.88h0M282.12 472.8h0M284.85 474.45h0M288.49 467.43h0M290.84 464.27h0M291.29 468.21h0M292.22 465.84h0M274.75 471.89h0M283.24 474.83h0M286.06 476.64h0M286.66 476.91h0M290.09 470.86h0M293.96 463.3h0M292.63 478.38h0M261.45 470.63h0M291.74 472.04h0M277.22 482.8h0M296.66 471.32h0M296.94 482.56h0M285.12 476.66h0M267.51 465.12h0M279.01 461.83h0M286.98 473.92h0M300.72 465.35h0" stroke="#3a5f9a" stroke-width="0.7" stroke-linecap="round" fill="none" opacity="0.7"/>
<path d="M282.19 465.84h0M278.92 475.21h0M286.8 466.34h0M298.25 471.89h0M296.82 469.35h0M287.4 471.38h0M278.49 481.46h0M293.16 464.26h0M300.66 469.58h0M297.37 467.02h0M279.48 489.49h0M288.52 462.61h0M293.33 462.36h0M302.13 462.37h0M291.34 479.22h0M300.98 468.8h0M275.28 478.98h0M286.08 469.56h0M283.77 468.17h0M288.61 474.94h0M278.13 466.26h0M293.92 472.91h0M277.2 465.34h0M292.64 470.8h0M300.45 475.9h0" stroke="#3a5f9a" stroke-width="1.15" stroke-linecap="round" fill="none" opacity="0.75"/>
<path d="M304.51 498.88h0M298.51 499.61h0M294.32 488.79h0M295.57 494.13h0M305.8 497.59h0M303.5 497.35h0M302.94 503.64h0M305.11 506.71h0M297.09 499.4h0M309.56 496.3h0M294.03 494.52h0M296.97 495.94h0M292.69 502.38h0M304.94 494.14h0M293.82 494.77h0M300.55 500.92h0M307.31 504.08h0M293.98 492.39h0M306.14 494.06h0M298.96 499.82h0M297.49 497.51h0M308.52 492.78h0M303.32 500.99h0M289.88 496.63h0M286.48 500.15h0" stroke="#3f6ab0" stroke-width="0.7" stroke-linecap="round" fill="none" opacity="0.7"/>
<path d="M303.39 502.63h0M303.44 499.4h0M303.21 500.44h0M292.67 501.94h0M313.02 499.37h0M303.59 503.43h0M300.87 498.83h0M293.5 498.99h0M303.27 497.35h0M304.77 495.16h0M302.6 497.75h0M287.55 498.78h0M297 501.18h0M301.38 500.89h0M299.2 500.37h0M294.82 489.45h0M301.44 501.5h0M292.72 498.92h0M289.01 493.24h0M300.83 496.69h0M294.25 503.61h0M301.4 494.41h0M301.67 496.93h0M296.9 502.09h0M302.89 503.56h0" stroke="#3f6ab0" stroke-width="1.15" stroke-linecap="round" fill="none" opacity="0.75"/>
<path d="M244.77 418.85h0M234.03 416h0M237.38 414.88h0M240.93 410.26h0M236.72 424.35h0M235.42 419.26h0M234.6 420.92h0M227.36 417.96h0M234.14 422.36h0M230.38 415.89h0M238.7 417.49h0M234.45 418.55h0M229.81 418.81h0M231.84 413.56h0M234.77 419.81h0M236.08 420.15h0M231.68 422.82h0M232.03 418.14h0M236.6 416.44h0M241.41 417.97h0M231.3 416.86h0M236.06 421h0M237.17 414.95h0M231.04 413.65h0M231.44 413.09h0" stroke="#4a78c0" stroke-width="0.7" stroke-linecap="round" fill="none" opacity="0.7"/>
<path d="M240.89 417.4h0M230.35 416.92h0M237 417.71h0M232.84 420.67h0M233.89 418.09h0M234.26 414.97h0M236.18 420.66h0M236.92 409.46h0M229.19 415.94h0M241.3 420.68h0M242.42 415.52h0M230.81 416.02h0M229.78 422.58h0M234.34 418.6h0M241.49 418.5h0M236.32 417.72h0M226.91 422.1h0M230.84 418.17h0M237.29 408.97h0M239.51 418.66h0M229.54 419.86h0M230.44 416.28h0M228.15 419.1h0M237.67 416.56h0M242.29 413.43h0" stroke="#4a78c0" stroke-width="1.15" stroke-linecap="round" fill="none" opacity="0.75"/>
<radialGradient id="g2_2836_4389" cx="0.42" cy="0.4" r="0.68"><stop offset="0" stop-color="#8fa8c4"/><stop offset="0.7" stop-color="#3f7a7c"/><stop offset="1" stop-color="#3f7a7c" stop-opacity="0.3"/></radialGradient>
<g opacity="0.9" filter="url(#mottle)">
<ellipse cx="283.6" cy="438.9" rx="13.6" ry="13.2" fill="url(#g2_2836_4389)"/>
<ellipse cx="290.39" cy="442.63" rx="6.07" ry="5.89" fill="#3f7a7c" opacity="0.8"/>
<ellipse cx="283.54" cy="447.38" rx="5.14" ry="4.99" fill="#3f7a7c" opacity="0.8"/>
<ellipse cx="278.25" cy="445.25" rx="5.42" ry="5.26" fill="#3f7a7c" opacity="0.8"/>
<ellipse cx="276.49" cy="441.4" rx="6.31" ry="6.13" fill="#3f7a7c" opacity="0.8"/>
<ellipse cx="276.03" cy="434.88" rx="5.24" ry="5.09" fill="#3f7a7c" opacity="0.8"/>
<ellipse cx="284.85" cy="431.35" rx="5.99" ry="5.81" fill="#3f7a7c" opacity="0.8"/>
<ellipse cx="289.15" cy="433.14" rx="5.75" ry="5.58" fill="#3f7a7c" opacity="0.8"/>
</g>
<path d="M292.97 440.52h0M282.27 427.46h0M294.26 440.9h0M289.81 437.93h0M293.6 434.24h0M281.28 446.58h0M278.61 428.61h0M278.53 435.26h0M288.22 442.98h0M277.36 440.71h0M276.05 438.99h0M284.57 439.3h0M280.28 432.04h0M293.02 431.84h0M280.77 441.21h0M292.07 431.39h0M285.43 428.2h0M291.12 439.01h0M278.38 429.24h0M277.01 440.65h0M272.92 437.7h0M287.21 444.64h0M284.34 443.74h0M284.31 440.48h0M279.26 443.04h0M287.44 428.66h0M286.49 447.5h0M274.46 442.57h0M272.49 443.06h0M276.15 429.79h0M287.29 430.66h0M289.61 448.05h0M289.12 432.52h0M284.75 431.66h0M283.25 430.11h0M283.49 441.29h0M277.29 443h0M275.09 432.08h0M279.73 448.18h0M285.79 442.17h0M292.54 431.58h0M282.05 444.73h0M283.46 432.56h0M280.89 434.91h0M284.51 427.47h0M285.17 442.35h0M280.64 448.42h0M285.56 446.6h0M292.15 435.25h0M279.01 440.07h0M276.76 433.66h0M279.61 445.95h0M278.64 448.32h0M275.37 434.84h0M288.2 445.37h0M288.8 428.76h0M283.2 447.41h0M272.96 443.08h0M276.85 432.72h0M276.69 444.25h0M285.98 434.96h0M295.29 441.92h0M289.13 436.02h0M293.3 438.05h0M289.57 438.45h0M289.43 437.74h0M282.32 433.35h0M280.45 441.07h0M291.94 437.43h0M278.43 437.56h0M277.35 444.78h0M290.53 435.19h0M281.54 441.28h0M279.37 431.75h0M278.18 429.56h0M289.97 440.95h0M279.48 432.97h0M282.27 433.47h0M276.38 443.13h0M277.58 447.65h0M271.84 436.87h0" stroke="#8fa8c4" stroke-width="1.1" stroke-linecap="round" fill="none" opacity="0.55"/>
<path d="M272.6 442.14h0M282.84 433.85h0M274.31 432.27h0M290.81 439.2h0M286.27 446.86h0M278.74 437.25h0M275.54 434.52h0M284.63 433.94h0M274.62 446.18h0M279.4 434.01h0M288.88 429.19h0M282.43 433.27h0M273.86 440.84h0M277.05 437.1h0M285.4 446.07h0M287.46 429.22h0M282.36 438.63h0M274.9 443.19h0M284.99 446.72h0M278.71 437.61h0M286.6 444.25h0M295.25 436.53h0M293.06 442.09h0M289.3 433.68h0M278.02 433.82h0M292.96 435.99h0M278.23 445.01h0M294.09 436.72h0M290.49 447.56h0M274.44 445.5h0M292.12 433.34h0M276.98 439.97h0M274.74 445.9h0M278.21 444.76h0M294.91 436.51h0M294.62 441.87h0M275.39 431.71h0M291.59 447.88h0M289.28 438.52h0M275.46 436.89h0M284.67 429.53h0M284.87 436.33h0M278.43 433.93h0M286.64 450.13h0M284.56 447.84h0M290.23 433.3h0M285.32 447.62h0M285.18 443.38h0M288.35 444.79h0M293.69 432.45h0M291.04 437.97h0M294.44 438.91h0M281.83 427.68h0M295.19 440.1h0M291.35 430.51h0M295.21 439.69h0M290.27 444.72h0M280.67 447.51h0M272.08 441.06h0M294.35 439.06h0M277.23 436.15h0M287.55 433.88h0M285.07 431h0M272.21 441.25h0M284.23 433.25h0M290.31 443.1h0M288.52 449.77h0M272.66 442.67h0M294.97 438.21h0M280.2 442.69h0M278.16 441.42h0M281.11 428.78h0M290.46 436.31h0M283.96 428.72h0M281.3 434.21h0M287.13 432.7h0M273.27 441.31h0M294.85 437.13h0M295.52 436.73h0M287.28 433.17h0M280.41 449.59h0" stroke="#3f7a7c" stroke-width="1.1" stroke-linecap="round" fill="none" opacity="0.5"/>
<path d="M289.01 446.13h0M290.07 442.48h0M278.51 435.26h0M280.89 432.75h0M289.87 438.21h0M292.94 432.29h0M285.01 443.04h0M273.97 432.73h0M277.73 434.71h0M285.94 438.93h0M277.06 442.92h0M284.61 439.17h0M275.42 431.77h0M272.65 436.85h0M274.6 434.59h0M271.68 437.49h0M291.46 435.47h0M288.32 430.4h0M291.26 447.61h0M283.39 447.22h0M275.29 438.74h0M286.21 429.04h0M274.36 431.31h0M283.41 429.35h0M283.67 435.74h0M280.31 428.59h0M285.43 434.37h0M295.46 440.68h0M273.58 441.92h0M286.12 435.43h0M286.31 444.02h0M277.5 445.34h0M287.62 432.53h0M283.61 436.65h0M289.27 448.28h0M290.21 445.71h0M283.5 433.19h0M290.95 431.83h0M287.75 444.06h0M286.73 441.07h0M288.58 445.2h0M285.69 445.55h0M286.81 438.9h0M285.58 433.9h0M287.12 449.06h0M282.1 447.28h0M276.8 431.61h0M273.75 440.21h0M274.24 440.6h0M293.77 438.4h0M286.79 449.56h0M277.27 445.44h0M277.72 436.96h0M292.37 443.45h0M277.57 437.71h0M280.68 438.64h0M287.67 448.86h0M288.54 434.83h0M291.49 442.19h0M283.32 443.95h0M289.72 440.05h0M281.92 445.44h0M293.45 438.41h0M286.16 427.74h0M277.9 428.78h0M294.09 436.46h0M277.29 432.78h0M284.22 428.5h0M287.46 445.61h0M272.75 437.38h0M285.26 449.13h0M289.55 435.42h0M289.23 444.64h0M294.52 434.27h0M282.11 432.41h0M290.6 445.92h0M289.86 440.52h0M294.97 438.02h0M281.32 448.4h0M278.79 439.61h0M291.44 437.07h0" stroke="#10283c" stroke-width="1.1" stroke-linecap="round" fill="none" opacity="0.35"/>
<radialGradient id="g2_2047_4828" cx="0.42" cy="0.4" r="0.68"><stop offset="0" stop-color="#4f8890"/><stop offset="0.7" stop-color="#2f6a6c"/><stop offset="1" stop-color="#2f6a6c" stop-opacity="0.3"/></radialGradient>
<g opacity="0.85" filter="url(#mottle)">
<ellipse cx="204.7" cy="482.8" rx="15.4" ry="15.6" fill="url(#g2_2047_4828)"/>
<ellipse cx="212.16" cy="488.51" rx="6.36" ry="6.44" fill="#2f6a6c" opacity="0.8"/>
<ellipse cx="209.18" cy="493.03" rx="4.66" ry="4.72" fill="#2f6a6c" opacity="0.8"/>
<ellipse cx="199.49" cy="491.22" rx="5.9" ry="5.98" fill="#2f6a6c" opacity="0.8"/>
<ellipse cx="196.61" cy="485.19" rx="7.28" ry="7.38" fill="#2f6a6c" opacity="0.8"/>
<ellipse cx="193.98" cy="481.29" rx="4.88" ry="4.94" fill="#2f6a6c" opacity="0.8"/>
<ellipse cx="199.71" cy="473.91" rx="5.61" ry="5.69" fill="#2f6a6c" opacity="0.8"/>
<ellipse cx="208.36" cy="475.24" rx="7.4" ry="7.5" fill="#2f6a6c" opacity="0.8"/>
<ellipse cx="211.28" cy="476.57" rx="6.7" ry="6.79" fill="#2f6a6c" opacity="0.8"/>
</g>
<path d="M210.45 489.8h0M201.89 473.1h0M195.22 491.29h0M207.59 490.41h0M217.51 482.5h0M193.64 487.69h0M195.69 480.71h0M191.02 483.41h0M197.52 484.29h0M198.96 471.12h0M211.09 484.57h0M207.45 487.91h0M200.08 490.28h0M206.97 472.17h0M212.01 476.45h0M204.96 472.79h0M201.38 482.76h0M208.18 486.85h0M218.49 483.31h0M208.33 494.37h0M208.87 474.74h0M214.28 489.76h0M214.71 476.39h0M204.5 474.55h0M209.9 488.82h0M205.6 477.39h0M211.55 470.67h0M217.45 478.36h0M208.72 485.39h0M200.09 473.1h0M195.91 475.95h0M198.46 477.83h0M212.3 487.69h0M209.7 477.68h0M197.3 485.97h0M191.79 478.21h0M203.1 482.45h0M200.43 469.55h0M199.69 481.36h0M212.79 490.84h0M203.61 477.2h0M206.96 484.44h0M195.55 473.72h0M207.64 494.3h0M196.45 477.96h0M194.06 483.97h0M194.89 472.99h0M201.31 483.13h0M209.34 492.99h0M199.44 484.63h0M208.31 484.21h0M193.48 487.26h0M205.19 480.62h0M209.66 470.07h0M210.91 483.16h0M211.94 480.29h0M204.56 481.94h0M209.58 470.82h0M205.69 481.2h0M212.85 493.64h0M215.24 474.9h0M204.35 489.76h0M201.01 482.02h0M207.14 479.64h0M202.95 477.83h0M206.54 473.16h0M214.38 481.74h0M211.34 477.83h0M206.15 472.55h0M204.91 488.19h0M210.32 485.2h0M199.48 479.84h0M207.48 496.31h0M191.22 485.41h0M206.91 483.38h0M196.62 483.91h0M209.36 490.81h0M211.37 489.52h0M203.28 478.45h0M207.71 472.32h0M200.97 491.2h0M193.76 482.81h0M212.17 483.34h0M213.66 491.98h0M200.14 488.01h0M208.68 495.67h0M206.46 487.76h0M217.7 486.45h0M208.44 489.37h0M212.39 479.69h0M208.64 478.43h0M198.43 483.29h0M200.14 496.02h0M194.67 479.9h0M204.49 481.82h0M206.17 472.74h0M209.3 487.57h0M210.49 487.79h0M202.38 480.15h0M210.29 488h0M212.39 487h0M198.12 482.52h0M195.24 481.1h0M196.34 481.33h0M192.01 483.02h0M210.29 490.18h0M214.57 479.83h0M211.66 473.32h0M203.47 491.32h0" stroke="#4f8890" stroke-width="1.1" stroke-linecap="round" fill="none" opacity="0.55"/>
<path d="M212.05 490.17h0M193.87 475.39h0M210.91 474.55h0M206.47 481.83h0M205.1 471.39h0M204.1 481.01h0M195.51 477.94h0M207.55 491.47h0M209.57 494.95h0M199.62 483.3h0M193.14 481.74h0M196.68 492.44h0M195.26 474.58h0M195.63 485.87h0M208.53 471.45h0M210.56 480.03h0M194.35 478.44h0M207.54 495.76h0M205.36 481.69h0M210.15 470.8h0M201.76 492.54h0M213.91 481.08h0M207.18 471.41h0M196.89 494.35h0M206.5 479.01h0M205.91 486.5h0M198.19 495.12h0M211.96 476.2h0M214.3 474.46h0M193.64 481.93h0M215.11 490.09h0M195.75 472.23h0M212.55 491.27h0M202.27 488.28h0M210.83 485.25h0M207.76 474.84h0M211.72 482.41h0M206.53 491h0M213.78 479.92h0M210.38 472.97h0M200.86 486.65h0M210.2 473.2h0M202.05 493.85h0M210.14 488.03h0M193.8 479.99h0M205.32 485.96h0M201.78 489.58h0M197.82 470.79h0M202.88 470.2h0M203.99 484.05h0M202.46 485.08h0M192.69 477.38h0M208.93 489.63h0M200.03 481.89h0M195.39 475.04h0M198.42 487.07h0M195.38 473.06h0M206.5 468.94h0M196.96 480h0M217.93 485.63h0M213.68 492.17h0M214.19 490.31h0M199.65 480.98h0M210.23 479.29h0M203.8 479.56h0M205.06 483.41h0M200.19 487.96h0M204.79 470.15h0M208.1 478.58h0M195.24 475.75h0M197.17 477.52h0M207.25 476.89h0M213.2 492.58h0M210.16 473.56h0M193.35 479.61h0M199.28 486.13h0M209.47 492.42h0M196.78 476.41h0M198.03 474.3h0M194.78 479.18h0M207.29 472.92h0M194.71 478.32h0M212.32 490.81h0M209.52 472.38h0M191.16 483.58h0M195.06 480.19h0M197.88 491.71h0M202.01 493.4h0M214.45 491.58h0M215.15 488.57h0M215.15 475.36h0M198.1 486.63h0M193.49 481.35h0M207.77 469.98h0M199.77 491.81h0M215.13 483.67h0M211.61 477.54h0M216.1 479.15h0M204.65 470.27h0M215.7 487.39h0M197.49 472.34h0M208.46 488h0M193.34 490.81h0M214.2 486.26h0M204.18 490.34h0M215.36 479.08h0M212.11 478.78h0M204.55 476.85h0M208.97 472.43h0" stroke="#2f6a6c" stroke-width="1.1" stroke-linecap="round" fill="none" opacity="0.5"/>
<path d="M212.86 476.23h0M198.43 481.24h0M211.32 473.08h0M198.45 485.18h0M217.78 484.35h0M193.96 487.96h0M203.34 469.78h0M197.18 483.97h0M196.24 488.05h0M209.31 469.65h0M210.53 494.39h0M213.37 476.94h0M209.4 477.14h0M192.06 478.41h0M198.92 494.51h0M207.26 492.74h0M213.48 475.18h0M205.97 479.06h0M207.72 472.63h0M193.17 488.91h0M198.93 479.89h0M203.85 485.33h0M200.37 479.24h0M203.51 493.01h0M203.68 486.05h0M197.77 475.15h0M210.08 470.87h0M214.08 473.91h0M196.97 477.63h0M205.13 490.74h0M201.23 469.79h0M202.03 471.93h0M206.25 484.08h0M206.03 494.74h0M203.94 485.25h0M203.46 482.64h0M204.85 473.08h0M194.53 473.4h0M198.62 482.89h0M199.7 494.03h0M210.87 485.91h0M200.1 482.22h0M192.69 480.67h0M207.9 480.51h0M200.8 472.21h0M203.54 483.45h0M202.08 473.56h0M200.21 476.83h0M212.11 479.21h0M192.82 478.67h0M213.62 489.93h0M199.3 472.36h0M198.54 493.85h0M212.5 490.44h0M202.69 479.48h0M207.31 473.81h0M211.43 476.29h0M202.44 473.62h0M201.26 476.31h0M213.17 490.85h0M202.43 492.57h0M198.33 477.81h0M197.92 487.85h0M198.43 472.44h0M206.57 483.4h0M213.69 488.34h0M197.76 489.69h0M210.15 483.96h0M194.21 488.99h0M212.24 490.88h0M199.76 473.18h0M195.75 491.43h0M201.56 491.59h0M202.02 478.92h0M206.24 493.19h0M201.28 473.35h0M196.62 476.32h0M213.89 476.2h0M215.92 482.06h0M202.76 482.28h0M198.47 484.46h0M205 485.63h0M205.41 491.62h0M213.19 493.11h0M213.41 483.59h0M202.05 485.9h0M208.74 485.93h0M191.4 481.38h0M214.01 474.17h0M192.27 487.56h0M195.02 487.7h0M199.99 470.55h0M193.99 487.05h0M205.34 469.54h0M194.74 478.99h0M208.26 486.23h0M191.55 482.32h0M194.02 484.94h0M193.11 479.32h0M202.37 486.39h0M217.59 481.59h0M210.45 472.5h0M216.87 477.24h0M207.56 480.66h0M211.78 486.95h0M197.29 491.31h0M197.48 486.06h0M211.7 472.51h0M211.96 474.39h0" stroke="#10283c" stroke-width="1.1" stroke-linecap="round" fill="none" opacity="0.35"/>
<radialGradient id="g2_2308_4915" cx="0.42" cy="0.4" r="0.68"><stop offset="0" stop-color="#e6f0fa"/><stop offset="0.7" stop-color="#8fb4d8"/><stop offset="1" stop-color="#8fb4d8" stop-opacity="0.3"/></radialGradient>
<g opacity="0.98" filter="url(#mottle)">
<ellipse cx="230.8" cy="491.5" rx="11.2" ry="11" fill="url(#g2_2308_4915)"/>
<ellipse cx="234.92" cy="496.39" rx="4.96" ry="4.88" fill="#8fb4d8" opacity="0.8"/>
<ellipse cx="232.83" cy="496.98" rx="5.49" ry="5.39" fill="#8fb4d8" opacity="0.8"/>
<ellipse cx="225.34" cy="493.69" rx="5.53" ry="5.43" fill="#8fb4d8" opacity="0.8"/>
<ellipse cx="226.22" cy="486.3" rx="4.43" ry="4.35" fill="#8fb4d8" opacity="0.8"/>
<ellipse cx="228.12" cy="484.32" rx="3.63" ry="3.57" fill="#8fb4d8" opacity="0.8"/>
<ellipse cx="235.34" cy="487.43" rx="5.27" ry="5.18" fill="#8fb4d8" opacity="0.8"/>
</g>
<path d="M237.28 492.38h0M235.9 495.09h0M237.6 488.88h0M223.07 488.79h0M230.81 499.66h0M227.23 484.96h0M233.94 483.42h0M225.93 496.93h0M234.44 491.72h0M237.62 494.37h0M228.33 490.58h0M235.22 498.75h0M230.77 501.03h0M235.34 490.74h0M222.28 496.08h0M227.44 492.33h0M236.01 487.28h0M229.82 498.51h0M222.43 493.3h0M227.39 489.6h0M233.35 491.54h0M233.74 486.85h0M222.07 488.79h0M238.91 496.14h0M225.14 496.92h0M232.46 493.76h0M222.9 490.01h0M233.79 496.72h0M230.96 485.56h0M234.29 497.37h0M229.01 496.85h0M238.47 494.67h0M234.62 486.61h0M222.38 491.38h0M232.47 493.75h0M223.16 493.87h0M232.69 500.26h0M230.13 495.37h0M232.07 500.93h0M225.08 489.04h0M239.09 495.78h0M225.96 491.31h0M231.18 499.71h0M230.12 495.96h0M234.24 488.49h0M239.75 487.83h0M234.15 487.49h0M227.21 498.66h0M229.85 496.22h0M237.38 495.13h0M230 483.42h0M234.25 500.39h0M229.81 493.06h0M230.48 495.67h0M234.99 491.04h0" stroke="#e6f0fa" stroke-width="1.1" stroke-linecap="round" fill="none" opacity="0.55"/>
<path d="M226.1 497.38h0M228.84 483.88h0M232.59 490.43h0M234.07 498.5h0M222.82 492.45h0M229.51 493.93h0M234.73 494.19h0M230.03 485.25h0M235.7 498.44h0M232.86 492.23h0M234.5 492.98h0M229.45 493.39h0M226.7 483.13h0M231.1 491.38h0M228.32 486.35h0M227.1 491.47h0M236.52 495.23h0M236.52 488.73h0M230.35 486.42h0M225.09 493.22h0M225.18 483.47h0M240.86 491.59h0M225.32 487.81h0M232.81 499.1h0M232.85 493.77h0M222.38 489.56h0M228.06 493.23h0M233.7 484.89h0M225.83 486.44h0M229.9 500.56h0M235.36 497.78h0M231.95 490.15h0M236.46 487.65h0M227.63 496.2h0M228.4 495.24h0M227.98 482.19h0M232.53 483.65h0M234.54 494.96h0M236.04 498.66h0M228.98 494.77h0M223.98 487.08h0M226.27 499.97h0M232.79 494.04h0M226.43 491.68h0M228.16 492.2h0M236.03 494.06h0M239.2 491.11h0M229.84 485.41h0M235.15 499.9h0M235.4 494.62h0M231.39 487.79h0M233.82 500.11h0M226.79 493.44h0M228.81 493.31h0M224.13 490.91h0" stroke="#8fb4d8" stroke-width="1.1" stroke-linecap="round" fill="none" opacity="0.5"/>
<path d="M231.14 500.09h0M236.26 487.96h0M239.84 488.21h0M228.29 497.89h0M238.75 495.29h0M227.4 497.87h0M228.74 495.07h0M223.36 486.73h0M227.96 486.26h0M227.16 494.2h0M230.44 490.83h0M226.93 498.99h0M229.47 491.19h0M228.76 499.35h0M237.88 495.07h0M233.67 484.93h0M238.36 493.95h0M233.05 483.76h0M235.56 490.96h0M238.48 495.47h0M236.95 493.39h0M228.72 489.88h0M234.54 496.66h0M236.19 498h0M228.82 484.42h0M224.78 499.23h0M228.47 487.06h0M233.45 493.6h0M224.8 491.53h0M227.32 489.47h0M224.26 487.57h0M234.48 486h0M237.08 496.8h0M236.44 490.7h0M227.43 498.95h0M227.01 488.56h0M234.58 485.45h0M227.15 498.81h0M234.21 495.98h0M236.9 483.97h0M232.16 500.42h0M225.33 494.77h0M237.33 493.95h0M221.22 493.46h0M222.45 493.03h0M231.86 482.71h0M225.84 496.14h0M237.7 497.53h0M232.2 492.86h0M226.53 499.3h0M233.25 485.94h0M227.86 493.58h0M223.33 488.72h0M240.54 492.28h0M228.9 483.03h0" stroke="#10283c" stroke-width="1.1" stroke-linecap="round" fill="none" opacity="0.35"/>
<radialGradient id="g2_2340_4176" cx="0.42" cy="0.4" r="0.68"><stop offset="0" stop-color="#34609e"/><stop offset="0.7" stop-color="#1f4078"/><stop offset="1" stop-color="#1f4078" stop-opacity="0.3"/></radialGradient>
<g opacity="0.75" filter="url(#mottle)">
<ellipse cx="234" cy="417.6" rx="10.5" ry="7.5" fill="url(#g2_2340_4176)"/>
<ellipse cx="239.31" cy="418.64" rx="5.21" ry="3.72" fill="#1f4078" opacity="0.8"/>
<ellipse cx="233.32" cy="422.04" rx="4.46" ry="3.18" fill="#1f4078" opacity="0.8"/>
<ellipse cx="227.53" cy="418.2" rx="4.19" ry="2.99" fill="#1f4078" opacity="0.8"/>
<ellipse cx="227.2" cy="416.88" rx="3.83" ry="2.74" fill="#1f4078" opacity="0.8"/>
<ellipse cx="235.74" cy="413.8" rx="5.11" ry="3.65" fill="#1f4078" opacity="0.8"/>
<ellipse cx="240.6" cy="417.04" rx="4.07" ry="2.9" fill="#1f4078" opacity="0.8"/>
</g>
<path d="M236.88 414.97h0M233.93 415.9h0M237.65 417.42h0M241.94 416.18h0M238.6 415.58h0M236.4 423.69h0M230.54 416.92h0M233.68 416.59h0M241.46 413.76h0M233.76 414.61h0M229.86 415.35h0M236.72 417.22h0M236.03 415.62h0M228.07 418.83h0M235.63 417.02h0M232.3 414.82h0M227.79 421.45h0M239.21 414.23h0M232.69 418.13h0M242.59 417.61h0M231.34 414.8h0M231.26 415.13h0M242.39 418.77h0M225.73 417.34h0M235.68 411.26h0M235.1 420.33h0M232.82 412.2h0M238.63 414.79h0M239.47 412.21h0M225.17 419.59h0M236.43 411.26h0M228.66 415.11h0M232.78 416.45h0M230.18 419.86h0M229.66 411.76h0" stroke="#34609e" stroke-width="1.1" stroke-linecap="round" fill="none" opacity="0.55"/>
<path d="M236.12 416.09h0M240.04 420.83h0M228.84 421.47h0M234.21 412.69h0M237.13 422.21h0M240.85 414.62h0M238.89 414.76h0M229.32 411.83h0M232.55 413.63h0M233.35 414.04h0M229.72 422.58h0M226.51 414.25h0M229.34 415.6h0M233.58 414.82h0M234.25 413.84h0M240.54 413.22h0M225.24 418.36h0M228.31 416.97h0M228.97 421.66h0M242.96 417.36h0M229.47 415.89h0M233.02 412.91h0M228.46 414.31h0M240.24 416.23h0M227.57 420.05h0M232.06 420.49h0M237.48 420.42h0M233.05 423.64h0M230.8 415.9h0M240.92 416.89h0M227.35 418.73h0M234.63 416.81h0M239.29 415.71h0M237.96 421.75h0M227.43 420.18h0" stroke="#1f4078" stroke-width="1.1" stroke-linecap="round" fill="none" opacity="0.5"/>
<path d="M238.35 420.18h0M235.92 421.74h0M234.79 419.71h0M240.07 413.77h0M240.75 414.04h0M240.51 413.25h0M240.48 414.33h0M236.41 414.43h0M236.26 418.08h0M229.37 417.8h0M229.24 413.37h0M233.35 421.71h0M232 412.7h0M232.2 415.73h0M227.41 422.21h0M242.09 419h0M226.05 419.43h0M238.71 413.95h0M235.63 420.27h0M236.61 420.47h0M232.43 415.83h0M236.72 417.99h0M229.75 416.3h0M237.08 412.9h0M224.79 418.95h0M232.61 411.7h0M228.41 415.52h0M227.87 414h0M229.56 414.68h0M231.77 416.23h0M228.27 422.44h0M229.34 422.08h0M241.57 417.99h0M240.03 415.86h0M241.62 419.14h0" stroke="#10283c" stroke-width="1.1" stroke-linecap="round" fill="none" opacity="0.35"/>
<radialGradient id="g2_3190_4150" cx="0.42" cy="0.4" r="0.68"><stop offset="0" stop-color="#6a989c"/><stop offset="0.7" stop-color="#3f7278"/><stop offset="1" stop-color="#3f7278" stop-opacity="0.3"/></radialGradient>
<g opacity="0.88" filter="url(#mottle)">
<ellipse cx="319" cy="415" rx="9" ry="12" fill="url(#g2_3190_4150)"/>
<ellipse cx="324.18" cy="415" rx="4" ry="5.34" fill="#3f7278" opacity="0.8"/>
<ellipse cx="318.58" cy="422.01" rx="3.91" ry="5.21" fill="#3f7278" opacity="0.8"/>
<ellipse cx="314.1" cy="418.78" rx="3.52" ry="4.69" fill="#3f7278" opacity="0.8"/>
<ellipse cx="313.53" cy="414.27" rx="3.68" ry="4.91" fill="#3f7278" opacity="0.8"/>
<ellipse cx="316.55" cy="408.15" rx="3.48" ry="4.65" fill="#3f7278" opacity="0.8"/>
<ellipse cx="322.55" cy="409.44" rx="3.7" ry="4.94" fill="#3f7278" opacity="0.8"/>
</g>
<path d="M318.21 417.63h0M325.19 416.08h0M321.51 415.94h0M321.16 415.57h0M322.4 419.43h0M315.62 421.66h0M322.1 408.37h0M318.4 421.33h0M314.94 421.88h0M311.02 413.52h0M323.92 413.45h0M319.66 409.49h0M319.32 410.77h0M317.65 410.27h0M321.68 411.08h0M319.17 411.8h0M325.71 411.33h0M317.07 422.68h0M320.59 414.89h0M318.61 407.93h0M317.3 421.34h0M312.3 412.05h0M317.74 419.5h0M323.08 421.61h0M317.64 407.65h0M319.97 410.57h0M316.27 412.97h0M321.36 424.38h0M323.35 416.89h0M314.92 423.8h0M320.63 406.98h0M319.02 419.26h0M322.36 423.03h0M312.96 418.55h0M314.11 409.23h0M318.95 419.45h0M318.09 410.46h0M322.92 420.35h0M312.63 413.45h0M314.28 420.08h0M321.14 422.02h0M325.81 414.29h0M317.16 419.59h0M316.86 414.49h0M319.47 411.07h0M325.49 409.45h0M322.28 416.82h0M312.29 414.74h0M322.07 418.77h0" stroke="#6a989c" stroke-width="1.1" stroke-linecap="round" fill="none" opacity="0.55"/>
<path d="M322.32 422h0M315.86 412.53h0M312.16 412.98h0M314.79 420.94h0M318.14 415.23h0M321.47 405.46h0M323.19 405.78h0M314.4 423.17h0M317.02 415.55h0M317.96 413.82h0M319.97 413.31h0M322.69 405.97h0M323.8 413.06h0M318.67 407.69h0M316.56 411.73h0M318.27 404.27h0M315.92 417.46h0M317.6 407.64h0M320.14 416.64h0M313 412.98h0M314 418.33h0M315.44 408.16h0M321.51 417.79h0M314.94 412.33h0M314.66 411.52h0M313.26 408.76h0M323.78 414.76h0M314.03 410.23h0M320.02 420.79h0M319.59 409.52h0M316.96 423.08h0M323.44 410.68h0M315.3 420.42h0M324.97 420.28h0M322.06 407.38h0M323.58 423.78h0M320.33 417.12h0M321.87 422.08h0M322.28 418.44h0M315.23 411.42h0M313.62 415.81h0M312.22 411.6h0M316.15 413.01h0M321.99 424.73h0M320.81 421.46h0M312.79 419.57h0M316.3 408.51h0M325.56 417.01h0M323.41 422.22h0" stroke="#3f7278" stroke-width="1.1" stroke-linecap="round" fill="none" opacity="0.5"/>
<path d="M316.1 420.2h0M322.95 413.6h0M312.33 417.15h0M314.65 421.75h0M311.14 414.74h0M314.67 423.67h0M324.87 420.81h0M317.21 409.74h0M318.15 418.95h0M325.05 410.19h0M313.37 415.27h0M319.71 411.73h0M314.54 408.98h0M314.04 416.75h0M318.53 415.49h0M319.2 418.76h0M322.78 422.8h0M322.58 422.03h0M314.9 409.03h0M316.67 421.22h0M324.28 415.37h0M325.19 408.25h0M318.01 416.98h0M323.9 409.28h0M321.13 424.27h0M322.66 406.18h0M324.32 412.85h0M319.87 407.74h0M321.19 407.71h0M311.44 417.72h0M316.18 415.3h0M316.21 414.27h0M323.93 415.63h0M323.95 418.28h0M324.53 421.56h0M320.77 413.12h0M324.7 418.91h0M325.49 421h0M323.31 417.95h0M314.64 415.04h0M320.58 404.99h0M323.07 408.43h0M315.56 421.98h0M321.72 417.84h0M314.87 422.13h0M321.36 416.22h0M315.51 417.54h0M316.2 408.33h0M323.59 416.75h0" stroke="#10283c" stroke-width="1.1" stroke-linecap="round" fill="none" opacity="0.35"/>
<radialGradient id="g2_2990_4955" cx="0.42" cy="0.4" r="0.68"><stop offset="0" stop-color="#2c5290"/><stop offset="0.7" stop-color="#1a3664"/><stop offset="1" stop-color="#1a3664" stop-opacity="0.3"/></radialGradient>
<g opacity="0.7" filter="url(#mottle)">
<ellipse cx="299" cy="495.5" rx="11" ry="8.5" fill="url(#g2_2990_4955)"/>
<ellipse cx="305.65" cy="496.06" rx="4.53" ry="3.5" fill="#1a3664" opacity="0.8"/>
<ellipse cx="301.55" cy="500.29" rx="4.52" ry="3.49" fill="#1a3664" opacity="0.8"/>
<ellipse cx="293.54" cy="497.76" rx="5.03" ry="3.89" fill="#1a3664" opacity="0.8"/>
<ellipse cx="294.17" cy="492.88" rx="5.32" ry="4.11" fill="#1a3664" opacity="0.8"/>
<ellipse cx="298.69" cy="489.63" rx="3.62" ry="2.8" fill="#1a3664" opacity="0.8"/>
<ellipse cx="304.88" cy="493.75" rx="4.92" ry="3.81" fill="#1a3664" opacity="0.8"/>
</g>
<path d="M297.85 497.03h0M301.72 497.74h0M293.54 496.96h0M292.15 490.71h0M302.82 494.18h0M306.18 497.14h0M294.09 501.01h0M297.21 494.72h0M308.64 494.51h0M291.68 497.45h0M302.94 492.92h0M302.22 500.13h0M289.34 495.32h0M299.97 491.68h0M302.37 489.89h0M305.85 493.94h0M293.97 488.94h0M298.98 498.78h0M297.93 499.39h0M305.03 498.05h0M291.03 499.09h0M297.59 501.21h0M295.05 490.23h0M297.24 492.85h0M295.13 491.37h0M302.23 499.79h0M300.39 497.47h0M296.79 494.77h0M293.16 491.2h0M291.45 495.83h0M303.31 501.31h0M302.42 495.78h0M292.6 494.38h0M294.28 494.96h0M304.12 495.76h0M300.97 502.49h0M300.59 491.63h0M304.1 501.73h0M302.73 498.35h0M301.13 499.26h0M297.14 492.56h0M295.98 499.92h0" stroke="#2c5290" stroke-width="1.1" stroke-linecap="round" fill="none" opacity="0.55"/>
<path d="M292.26 493.8h0M300.54 495.02h0M300.64 489.61h0M292.47 496.92h0M298.1 489.79h0M297.03 491.67h0M295.43 499.55h0M299.44 490.64h0M298.56 501.64h0M302.03 495.22h0M307.71 495.68h0M294.56 493.46h0M304.21 497.53h0M302.74 495.64h0M293.93 498.23h0M290.91 492.72h0M301.39 491.09h0M299.81 494.97h0M299.33 495.96h0M294.56 499.16h0M295.51 498.43h0M302.35 501.68h0M298.85 500.2h0M293.27 499.15h0M291.26 498.5h0M295.67 492.43h0M305.49 490.92h0M293.47 490.47h0M294.28 501.37h0M305.71 494.57h0M292.06 494.52h0M290.85 494.7h0M298.92 496.55h0M305.56 497.16h0M308.14 495.24h0M294.66 499.28h0M302.24 502h0M294.38 500.07h0M302.39 502.32h0M306.75 498.19h0M295.47 492.08h0M304.48 499.62h0" stroke="#1a3664" stroke-width="1.1" stroke-linecap="round" fill="none" opacity="0.5"/>
<path d="M306.54 492.41h0M298.41 501.91h0M308.12 493.35h0M303 489.4h0M299.03 499.17h0M298.55 493.18h0M306.77 491.09h0M301.47 491.99h0M303.33 497.39h0M296.39 502.05h0M297.25 492.6h0M295.13 491.35h0M296.71 489.46h0M305.33 495.73h0M300.27 489.75h0M292.95 500.91h0M293.41 493.38h0M300.04 500.54h0M296.71 501.92h0M295.79 492.82h0M293.25 493.28h0M294.4 497.5h0M298.78 499.35h0M304.22 493.14h0M305.35 490.34h0M302.04 488.28h0M295.94 497.61h0M299.99 494.97h0M301.52 491.6h0M296.84 493.28h0M294.41 501.06h0M304.2 489.88h0M297.61 493.07h0M298.41 488.01h0M293.12 499.41h0M305.56 498.04h0M294.14 500.62h0M294.43 491.07h0M296.46 500.25h0M292.13 496.52h0M290.81 493.56h0M302.47 491.96h0" stroke="#10283c" stroke-width="1.1" stroke-linecap="round" fill="none" opacity="0.35"/>
<radialGradient id="g2_2870_5050" cx="0.42" cy="0.4" r="0.68"><stop offset="0" stop-color="#3f8a70"/><stop offset="0.7" stop-color="#2a6050"/><stop offset="1" stop-color="#2a6050" stop-opacity="0.3"/></radialGradient>
<g opacity="0.7" filter="url(#mottle)">
<ellipse cx="287" cy="505" rx="5" ry="3" fill="url(#g2_2870_5050)"/>
<ellipse cx="289.51" cy="506.51" rx="1.55" ry="0.93" fill="#2a6050" opacity="0.8"/>
<ellipse cx="286.57" cy="506.87" rx="1.96" ry="1.17" fill="#2a6050" opacity="0.8"/>
<ellipse cx="284.21" cy="503.67" rx="1.54" ry="0.93" fill="#2a6050" opacity="0.8"/>
<ellipse cx="288.96" cy="503.25" rx="1.59" ry="0.96" fill="#2a6050" opacity="0.8"/>
</g>
<path d="M286.36 503.2h0M288.34 505.51h0M283.53 506.7h0M289.35 506.74h0M287.53 505.08h0M289.01 503.64h0" stroke="#3f8a70" stroke-width="1.1" stroke-linecap="round" fill="none" opacity="0.55"/>
<path d="M287.47 504.98h0M288.81 506.84h0M289.5 503h0M285.87 506.38h0M285.12 506.48h0M283.02 503.79h0" stroke="#2a6050" stroke-width="1.1" stroke-linecap="round" fill="none" opacity="0.5"/>
<path d="M290.49 504.87h0M288.14 505.49h0M289.18 503.5h0M290.18 504.11h0M287.08 504.56h0M286.69 506.53h0" stroke="#10283c" stroke-width="1.1" stroke-linecap="round" fill="none" opacity="0.35"/>
<radialGradient id="g2_2010_4080" cx="0.42" cy="0.4" r="0.68"><stop offset="0" stop-color="#7a90b0"/><stop offset="0.7" stop-color="#4a6080"/><stop offset="1" stop-color="#4a6080" stop-opacity="0.3"/></radialGradient>
<g opacity="0.7" filter="url(#mottle)">
<ellipse cx="201" cy="408" rx="3" ry="2.6" fill="url(#g2_2010_4080)"/>
<ellipse cx="203.01" cy="408.27" rx="1.02" ry="0.89" fill="#4a6080" opacity="0.8"/>
<ellipse cx="199.45" cy="408.58" rx="1.37" ry="1.19" fill="#4a6080" opacity="0.8"/>
<ellipse cx="200.3" cy="406.77" rx="1.48" ry="1.28" fill="#4a6080" opacity="0.8"/>
<ellipse cx="202.46" cy="407.2" rx="1.33" ry="1.15" fill="#4a6080" opacity="0.8"/>
</g>
<path d="M201.92 409.59h0M200.24 407.07h0M202.7 407.24h0" stroke="#7a90b0" stroke-width="1.1" stroke-linecap="round" fill="none" opacity="0.55"/>
<path d="M202.35 408.87h0M202.87 407.77h0M199.81 408.12h0" stroke="#4a6080" stroke-width="1.1" stroke-linecap="round" fill="none" opacity="0.5"/>
<path d="M201.48 406.59h0M200.58 406.43h0M202.47 409.2h0" stroke="#10283c" stroke-width="1.1" stroke-linecap="round" fill="none" opacity="0.35"/>
<radialGradient id="g2_2240_4500" cx="0.42" cy="0.4" r="0.68"><stop offset="0" stop-color="#3a5a8a"/><stop offset="0.7" stop-color="#22406a"/><stop offset="1" stop-color="#22406a" stop-opacity="0.3"/></radialGradient>
<g opacity="0.6" filter="url(#mottle)">
<ellipse cx="224" cy="450" rx="3.5" ry="5" fill="url(#g2_2240_4500)"/>
<ellipse cx="224.9" cy="453.27" rx="1.11" ry="1.59" fill="#22406a" opacity="0.8"/>
<ellipse cx="223.46" cy="453.29" rx="1.21" ry="1.72" fill="#22406a" opacity="0.8"/>
<ellipse cx="222.6" cy="447.64" rx="1.41" ry="2.01" fill="#22406a" opacity="0.8"/>
<ellipse cx="224.35" cy="446.5" rx="1.09" ry="1.56" fill="#22406a" opacity="0.8"/>
</g>
<path d="M223.66 447.01h0M222.4 450.55h0M223.98 451.61h0M224.75 447.03h0M226.59 449.91h0M225.17 448.66h0M223.4 450.23h0" stroke="#3a5a8a" stroke-width="1.1" stroke-linecap="round" fill="none" opacity="0.55"/>
<path d="M223.29 445.68h0M222.73 452.33h0M223.95 453.88h0M223.1 446.07h0M226.17 448.96h0M224.6 445.7h0M226.33 449.5h0" stroke="#22406a" stroke-width="1.1" stroke-linecap="round" fill="none" opacity="0.5"/>
<path d="M224.44 452.51h0M221.35 451.27h0M226.93 451.02h0M226.96 448.99h0M221.58 452.25h0M226.64 449.55h0M223.58 448.77h0" stroke="#10283c" stroke-width="1.1" stroke-linecap="round" fill="none" opacity="0.35"/>
<rect x="186.4" y="390" width="131.6" height="5.6" fill="#000"/>
<rect x="250" y="473.4" width="3.4" height="3.6" fill="#7fe35f"/>
<circle cx="226.5" cy="451.5" r="1.2" fill="#7fe35f"/><circle cx="252" cy="458.5" r="0.7" fill="#e03020"/>
</g>
<line x1="279.2" y1="510.1" x2="312.7" y2="510.1" stroke="#fff" stroke-width="1" />
<text x="295.95" y="513.3" font-size="2.2" font-weight="normal" text-anchor="middle" font-family='"Liberation Sans", Arial, sans-serif' fill="#ddd" >100 µm</text>
<g clip-path="url(#ic3)">
<rect x="357" y="390" width="131.4" height="127" fill="#03121a"/>
<ellipse cx="456.6" cy="491.5" rx="28" ry="18" fill="#22386e" opacity="0.55" filter="url(#b4)"/>
<ellipse cx="444" cy="511" rx="14" ry="8" fill="#2e4a8c" opacity="0.6" filter="url(#b4)"/>
<ellipse cx="395" cy="462" rx="16" ry="12" fill="#26386c" opacity="0.5" filter="url(#b4)"/>
<ellipse cx="380" cy="478" rx="22" ry="16" fill="#5a2418" opacity="0.4" filter="url(#b4)"/>
<ellipse cx="400" cy="445" rx="20" ry="8" fill="#4a2018" opacity="0.4" filter="url(#b4)"/>
<ellipse cx="460" cy="430" rx="16" ry="10" fill="#3a1a16" opacity="0.4" filter="url(#b4)"/>
<ellipse cx="372" cy="505" rx="14" ry="8" fill="#4a2018" opacity="0.35" filter="url(#b4)"/>
<path d="M419.36 473.5h0M444.57 408.11h0M358.43 437.59h0M393.01 492.91h0M447.74 466.39h0M430.35 473.99h0M376.09 445.89h0M378.32 505.06h0M364.73 493.99h0M366.8 477.24h0M401.28 441.39h0M467.69 392.36h0M364.99 506.21h0M423.87 401.55h0M486.71 510.23h0M371.79 443.75h0M374.75 429.69h0M438.66 410.77h0M448.56 396.52h0M379.5 493.59h0M409.63 443.19h0M435.31 450.55h0M407.53 393.87h0M452.44 512.87h0M485.29 474.28h0M403.82 436.12h0M447.68 475.57h0M371.96 419.84h0M404.74 454.94h0M463.45 453.5h0M360.7 494.47h0M413.52 455.91h0M386.19 444.26h0M408.02 488.03h0M370.48 459.85h0M380.4 478.38h0M361.84 425.12h0M402.23 470.89h0M363.84 448.33h0M384.44 425.8h0M419.58 511.76h0M420.21 511.4h0M379.02 507.38h0M404.85 414.03h0M455.36 505.83h0M357.88 424.07h0M458.27 433.41h0M388.74 391.1h0M362.26 468.62h0M486.27 516.81h0M423.17 393.04h0M399.37 490h0M466.32 471.21h0M387.16 456.96h0M419.73 469.63h0M391.52 510.23h0M474.51 410.59h0M395.28 500.89h0M393.57 509.88h0M424.69 478.39h0M449.6 417.19h0M394.45 422.38h0M446.78 478.15h0M374.31 502.58h0M412.23 420.64h0M414.2 514.39h0M430.58 469.34h0M477.88 512.17h0M456.92 443.04h0M434.32 504.42h0M460.71 463.68h0M402.66 436.8h0M453.69 461.54h0M359.25 480.19h0M475.76 491.31h0" stroke="#3f5fb0" stroke-width="0.5" stroke-linecap="round" fill="none" opacity="0.38"/>
<path d="M474.93 505.63h0M427.29 490.22h0M406.86 402.48h0M403.41 429.64h0M479.73 477.52h0M428.17 469.01h0M373.39 457.85h0M449.06 440.06h0M389.29 441.67h0M399.52 477.03h0M375.63 401.5h0M398.06 478.36h0M456.81 473.74h0M479.82 436.43h0M360.91 451.95h0M415.3 412.78h0M444.7 433.34h0M388.32 431.59h0M481.01 390.98h0M404.34 425.52h0M383.46 444.92h0M385.96 506.7h0M422.84 478.66h0M378.33 449.01h0M436.7 497.05h0M389.83 448.37h0M469.32 495.62h0M386.89 458.32h0M457.03 440.2h0M445.48 474.24h0M484.78 460.34h0M446.45 434.48h0M453.22 430.93h0M422.69 435.83h0M397.37 407.26h0M386.65 459.13h0M390.09 395.83h0M462.59 426.28h0M480.01 466.05h0M408.12 500.88h0M474.9 430.76h0M373.54 471.4h0M467.73 467.28h0M460.06 442.38h0M438.18 423.43h0" stroke="#3f5fb0" stroke-width="0.8" stroke-linecap="round" fill="none" opacity="0.46"/>
<path d="M410.47 438.22h0M407.54 440.74h0M463.06 411.57h0M383.95 422.34h0M484.59 456.39h0M363.95 496.1h0M471.78 494.29h0M404.15 483.3h0M397.14 407.43h0M470.7 495.8h0M384.75 501.74h0M360.23 429.17h0M358.7 411.72h0M378.45 480.91h0M395.97 414.14h0M381.19 429.62h0M470.29 467.07h0M370.45 476.99h0M427.46 446.95h0M426.32 472.74h0M462.21 454.17h0M440.51 449.35h0M440.32 439.34h0M411.51 455.62h0M450.95 425.37h0M478.53 452.43h0M469.41 477.68h0M482.66 476.67h0M413.09 441.54h0M436.85 485.74h0" stroke="#3f5fb0" stroke-width="1" stroke-linecap="round" fill="none" opacity="0.6"/>
<path d="M467.25 406.42h0M365.2 403.73h0M368.07 397.17h0M358.1 421.69h0M371.87 477.03h0M437.92 512.64h0M483.21 484.83h0M481.78 393.56h0M386.95 507.62h0M419.47 416.24h0M456.44 443.79h0M428.36 430.12h0M388.76 401.07h0M436.74 511h0M486.66 487.18h0M479.65 436h0M396.18 507.29h0M435.86 474.98h0M358.65 419.02h0M420.39 482.84h0M465.51 486.18h0M401.64 438.47h0M470.31 515.67h0M420.73 414.74h0M439.05 458.06h0M404.52 419.27h0M407.63 467.77h0M373.67 458.7h0M482.13 484.61h0M390.13 443.15h0M370.45 483.61h0M440.03 411.95h0M429.02 465.67h0M432.84 438.06h0M397.71 435.07h0M488.08 431.96h0M423.02 448.41h0M379.73 440.77h0M383.93 430.94h0M405.24 434.44h0M480.25 427.7h0M400.67 473.51h0M409.2 455.5h0M442.09 399.36h0M445.24 402.85h0M389.88 492.84h0M487.03 475.56h0M379.55 445.66h0M394.14 496.83h0M387.64 414.92h0M440.84 470.92h0M434.49 450.81h0M483.02 448.22h0M480.12 439.75h0M418.15 435.64h0M450.97 485.44h0M388.43 456.8h0M452.46 453.7h0M444.04 468.26h0M450.86 435.12h0M397.28 393.13h0M473.99 490.31h0M408.28 512.83h0M475.58 409.24h0M466.94 443.45h0M398.29 422.91h0M411.38 396.58h0M363.63 404.84h0M397.38 410.13h0M373.01 495.65h0M406.89 452.27h0M436 508.49h0M376.2 418.97h0M470.05 505.53h0M479.44 457.1h0" stroke="#3a56a0" stroke-width="0.5" stroke-linecap="round" fill="none" opacity="0.38"/>
<path d="M405.23 413.96h0M476.66 487.2h0M429.49 490.51h0M391.26 457.78h0M476.12 403.79h0M438.12 413.54h0M467.08 496.59h0M441.63 445.37h0M359.83 452.74h0M404.2 440.82h0M367.21 506.88h0M425.59 461.33h0M467.68 503.83h0M429.23 459.09h0M468.3 437.31h0M475.31 393.09h0M461.61 457.02h0M438.78 515.78h0M385.89 441.74h0M462.07 484.83h0M425.88 488.68h0M445.99 500.38h0M442.43 436.14h0M394.68 400.42h0M373.2 395.4h0M485.2 407.87h0M436.21 407.03h0M483.96 457.66h0M380.26 494.98h0M470.02 514.19h0M386.35 441.12h0M443.83 425.88h0M431.81 479.04h0M455.75 494.64h0M455.67 426.25h0M456.28 445.08h0M379.26 392.63h0M438.77 435.46h0M369.35 452.24h0M411.52 431.31h0M431.4 458.43h0M426.62 515.38h0M475.89 427.93h0M471.58 430.02h0M480.12 397.31h0" stroke="#3a56a0" stroke-width="0.8" stroke-linecap="round" fill="none" opacity="0.46"/>
<path d="M398.79 508.35h0M443.91 479.72h0M383.86 405.45h0M483.1 398.37h0M380.05 444.71h0M464.64 476.26h0M488.19 488.97h0M414.46 505.75h0M398.61 396.54h0M483.07 501.91h0M443.76 450.96h0M383.78 417.85h0M365.86 401.93h0M419.95 503.83h0M479.5 455.32h0M445.5 449.42h0M458.99 479.7h0M486.41 497.4h0M446.08 464.98h0M379.16 449.89h0M415.82 409.6h0M383.5 442.24h0M380.1 469.27h0M400.1 515.46h0M446.89 455.61h0M414.01 439.74h0M383.33 512.28h0M477.05 472.56h0M442.42 408.3h0M428.15 411.21h0" stroke="#3a56a0" stroke-width="1" stroke-linecap="round" fill="none" opacity="0.6"/>
<path d="M399.61 464.56h0M379.36 419.61h0M452.98 451.56h0M473.9 410.22h0M368.63 509.18h0M436.99 478.07h0M430.1 408.88h0M485.48 452.93h0M476.46 408.58h0M393.17 459.73h0M389.53 499.18h0M391.26 400.04h0M378.42 424.52h0M481.54 501.55h0M444.99 444.17h0M362.45 495.6h0M373.55 415.41h0M414.17 499.54h0M381.03 397.93h0M476.22 391.05h0M453.48 407.87h0M396.28 416.37h0M414.67 507.03h0M467.37 458.06h0M368.52 412.31h0M395.81 490.84h0M477.35 393.24h0M400.92 511.94h0M376.83 400.14h0M391.93 502.93h0M391.58 481.59h0M372.62 473.57h0M379.22 465.57h0M454.56 501.59h0M414.3 515.08h0M410.39 510.59h0M477.09 516.82h0M370.91 424.73h0M448.47 502.45h0M390.74 487.57h0M419.67 390.51h0M368.18 390.92h0M387.03 508.46h0M446.27 499.62h0M477.4 439.88h0M448.48 473.12h0M447.92 401.76h0M473.75 409.94h0M415.52 477.32h0M454.84 494.94h0M398.04 427.85h0M452.61 395.97h0M471.78 430.04h0M408.57 429.74h0M450.77 412.09h0M374.79 398.4h0M374.2 469.14h0M486.95 390.75h0M417.74 435.14h0M397.73 433.65h0M371.19 443.82h0M391.99 397.58h0M374.72 507.86h0M451.38 514.84h0M463.95 483.78h0M386.8 403.82h0M486.32 476.93h0M452 408.23h0M461.03 457.99h0M368.55 416.72h0M484.15 469.08h0M368.94 400.28h0M455.6 434.73h0M419.81 407.41h0M380.41 453.15h0" stroke="#5a6ad0" stroke-width="0.5" stroke-linecap="round" fill="none" opacity="0.38"/>
<path d="M413.16 413.62h0M376.78 446.49h0M371.9 397.87h0M419.22 396.5h0M453.48 487.51h0M449.69 510.83h0M378.77 443.57h0M411.51 399.19h0M469.97 395.17h0M486.17 475.81h0M486.39 397.63h0M474.41 512.4h0M459.25 463.66h0M442.19 451.19h0M469.11 463.45h0M428.94 441.44h0M439.54 464.5h0M480.54 488.16h0M400.35 481.45h0M387.71 451.16h0M426.12 482.32h0M366.52 408.62h0M381.01 468.71h0M379.4 461.07h0M472.85 444.29h0M386.37 465.84h0M411.05 445.48h0M380.42 476.69h0M402.33 515.11h0M422.24 476.64h0M478.48 514.96h0M359.8 507.82h0M370.59 510.5h0M460.65 422.57h0M450.99 461.5h0M416.43 469.62h0M416.99 473.47h0M448.34 390.71h0M440.99 479.53h0M470.87 458.07h0M428.13 408.41h0M382.73 503.73h0M365.17 504.4h0M373.24 438.78h0M438.78 393.79h0" stroke="#5a6ad0" stroke-width="0.8" stroke-linecap="round" fill="none" opacity="0.46"/>
<path d="M415.74 491.39h0M407.49 412.33h0M364.84 510.42h0M370.72 475.02h0M440.79 425.55h0M430.3 477.13h0M384.33 421.07h0M478.42 416.38h0M421.21 447.75h0M459.2 498.85h0M457.36 469.55h0M428.04 401.64h0M432.43 445h0M456.31 437.76h0M373.05 438.69h0M466.22 453.06h0M444.84 397.18h0M386.11 423.78h0M420.64 405.11h0M481.23 432.07h0M357.12 420.46h0M422.91 468.21h0M464.04 401h0M484.54 498.66h0M424.61 472.18h0M397.31 408.89h0M358.34 512.08h0M473.99 446.67h0M436.08 450.54h0M447.47 402.63h0" stroke="#5a6ad0" stroke-width="1" stroke-linecap="round" fill="none" opacity="0.6"/>
<path d="M456.09 412.25h0M434.67 469.08h0M468.41 468.06h0M380.42 493.55h0M406.15 461.53h0M462.17 514.13h0M370.69 447.75h0M398.31 497.55h0M409.26 505.62h0M461.28 443.24h0M457.29 476.28h0M372.39 427.69h0M374.83 495.71h0M408.97 428.19h0M451.24 515.27h0M375.55 477.82h0M387.02 490.48h0M455.03 487.6h0M433.62 405.58h0M468.93 404.05h0M433.22 511.81h0M392.27 451.03h0M445.81 472.06h0M399.52 442.88h0M474.74 480.94h0M379.83 476.33h0M468.96 466.4h0M474.53 423.64h0M395.04 499.95h0M390.73 406.09h0M376.48 502.04h0M465.12 415.15h0M454.47 415.07h0M438.66 391.34h0M432.79 485.31h0M423.34 469.74h0M372.46 448.13h0M459.96 437.39h0M454.74 466.07h0M463.16 483.84h0M397.07 494.03h0M464.33 444.25h0M451.44 442.61h0M432.7 431.23h0M417.68 429.15h0M474.53 467.86h0M437.64 456.39h0M418.01 412.14h0M442 446.65h0M402.19 455.12h0M374.16 472.34h0M459.87 436.54h0M378.22 512.97h0M438.43 430.46h0M368.86 462.81h0M385.8 504.11h0M451.17 425.15h0M410.49 401.01h0M386.5 460.9h0M472.98 444.19h0M483.48 422.52h0M370.58 496.6h0M406.62 425.59h0M415.39 467.7h0M385.9 403.51h0M435.48 473.52h0M430.64 410.3h0M470.1 444.6h0M428.22 502.43h0M374.57 452.99h0M412.68 471.08h0M386.62 420.59h0M386.82 460.92h0M396.46 507.77h0M471.45 482.34h0" stroke="#4f9a5a" stroke-width="0.5" stroke-linecap="round" fill="none" opacity="0.38"/>
<path d="M410.43 494.73h0M432.43 489.4h0M482.47 405.4h0M457.05 504.79h0M410.23 433.4h0M361.14 503.78h0M384.18 391.08h0M368.71 455.44h0M446.72 505.02h0M444.26 402.9h0M479.2 500.68h0M463.06 504.32h0M466.78 476.83h0M457.8 392.9h0M487.08 390.56h0M412.91 462.33h0M424.06 433.06h0M423.77 430.11h0M443.95 393.82h0M402.3 472.72h0M417.02 392.51h0M417.34 507.83h0M425.64 482.79h0M407.31 514.5h0M426.01 492.95h0M439.26 493.31h0M408.56 507.9h0M486.84 504.06h0M476.26 436.27h0M401.49 503.34h0M465.5 465.05h0M430.56 391.5h0M430.47 397.41h0M426.17 418.38h0M436.83 410.04h0M400.03 487.8h0M433.14 406.91h0M486.4 392.75h0M411.23 480.65h0M433.36 472.85h0M475.68 402.19h0M423.78 421.97h0M435.76 449h0M439.68 491.66h0M422.93 443.73h0" stroke="#4f9a5a" stroke-width="0.8" stroke-linecap="round" fill="none" opacity="0.46"/>
<path d="M430.11 411.34h0M476.95 439.55h0M422.53 496.73h0M466.51 516.66h0M450.08 457.51h0M413.46 488.8h0M438.56 391.32h0M430.99 474.96h0M404.14 495.4h0M454.43 502.5h0M395.39 474.05h0M430.73 433.29h0M396.11 401.19h0M466.86 425.03h0M402.53 422.32h0M430.15 452.79h0M470.85 400.1h0M402.08 496.1h0M461.3 398.12h0M415.66 516.11h0M485.7 430.4h0M454.78 432.02h0M365.49 503.93h0M373.47 516.01h0M416.34 498.29h0M419.6 504.37h0M455.08 411.91h0M360.17 411.63h0M436.67 403.98h0M366.66 438.52h0" stroke="#4f9a5a" stroke-width="1" stroke-linecap="round" fill="none" opacity="0.6"/>
<path d="M364.04 429.02h0M439.83 418.83h0M460.91 423.11h0M404.93 441.33h0M468.6 396.08h0M463.59 402.01h0M484.55 460.56h0M455.55 455.37h0M445.08 477.22h0M376.18 414.6h0M476.46 417.85h0M388.93 396.59h0M450.73 490.06h0M361.9 499.44h0M372.07 452.99h0M424.54 422.09h0M399.56 452.39h0M459.92 422.31h0M387.57 514.03h0M391.83 403.14h0M479.4 507.57h0M385.16 457.21h0M471.74 430.78h0M401.81 390.54h0M374.01 467.11h0M422.25 499.53h0M415.53 424.46h0M408.69 407.75h0M420.08 477.88h0M381.23 464.14h0M488.11 478.48h0M398.75 471.92h0M371.44 403.85h0M463.26 479.83h0M439.06 461.29h0M403.07 496.31h0M424.68 494.79h0M453.5 432.46h0M464.13 434.43h0M437.95 497.04h0M482.19 468.96h0M383.27 410.44h0M466.11 429.09h0M376.19 463.46h0M411.87 483.93h0M380.61 454.96h0M482.61 411.87h0M408.08 440.02h0M374.08 408.3h0M398.27 459.74h0M375.01 470.58h0M406.17 428.14h0M468.77 484.22h0M415.51 422.99h0M423.98 472.35h0M456.91 474.09h0M357.14 410.14h0M487.89 459.4h0M424.49 404.53h0M460.35 494.95h0M397.78 424.44h0M366.59 428.88h0M424.37 446.74h0M358.13 402.43h0M387.98 495.51h0M483.75 499.46h0M421.83 436.03h0M474.66 485.97h0M441.92 478.96h0M480.22 456.81h0M390.57 483.21h0M479.28 418.75h0M407.54 486.84h0M462.19 396.57h0M463.01 420.85h0" stroke="#30407a" stroke-width="0.5" stroke-linecap="round" fill="none" opacity="0.38"/>
<path d="M373.65 396.17h0M417.63 447.55h0M381.45 480.52h0M381.39 507.92h0M488.21 432.29h0M359.96 398.88h0M427.28 435.01h0M459.32 441.93h0M390.8 410.46h0M487.33 487.06h0M446.43 418.07h0M415.24 486.01h0M441.98 425.3h0M403.03 493.01h0M364.12 472.17h0M449.78 455.59h0M429.64 507.39h0M399.61 485.49h0M451.98 483.82h0M365.83 478.04h0M406.35 406.47h0M476.29 423.72h0M418.19 429.03h0M371.72 426.97h0M437.51 471.13h0M455.23 409.33h0M392.98 495.51h0M425.93 483.84h0M417.65 443.35h0M361.34 496.85h0M475.91 480.83h0M385.4 469.99h0M446.37 425.78h0M406.48 502.97h0M391.53 467.6h0M363.18 392.89h0M362.67 428.7h0M479.12 463.37h0M420.6 408.72h0M430.25 406.46h0M365.78 432.37h0M390.83 489.37h0M431.12 471.34h0M393.59 439.83h0M371.97 426.49h0" stroke="#30407a" stroke-width="0.8" stroke-linecap="round" fill="none" opacity="0.46"/>
<path d="M487.48 475.04h0M401.23 469.92h0M476.69 493.06h0M426 409.83h0M363.83 398.97h0M464.8 489.19h0M449.03 481.79h0M375.39 463.65h0M358.21 394.04h0M438.43 390.94h0M411.26 434.79h0M471.27 434.59h0M383.99 476.36h0M377.27 514.38h0M478.2 515.9h0M438.26 412.99h0M383.41 480.79h0M414.7 479.53h0M384.49 462.27h0M469.33 426.43h0M466.59 408.27h0M444.45 395.29h0M389.04 399.14h0M382.9 457.28h0M463.68 493.29h0M477.05 421.39h0M480.18 444.1h0M444.55 481.74h0M392.76 425.67h0M414.29 433.36h0" stroke="#30407a" stroke-width="1" stroke-linecap="round" fill="none" opacity="0.6"/>
<path d="M452.76 500h0M443.88 396.22h0M461.8 487.55h0M486.27 413.9h0M479.61 440.34h0M429.95 415.72h0M390.05 443.57h0M431.04 422.48h0M429.7 444.11h0M385.79 472.16h0M398.94 394.61h0M388.72 443.49h0M438.1 398.7h0M473.8 400.02h0M481.36 393.61h0M397.45 432.64h0M445.55 401.34h0M384.25 494.59h0M477.67 397.12h0M369.95 433.22h0M404.51 476.13h0M480.79 470.61h0M400.64 418.09h0M365.35 398.6h0M470.37 499.86h0M405.56 418.03h0M470.38 419.24h0M410.24 502.78h0M360.23 434.89h0M383.18 446.86h0M479.87 511.72h0M455.99 497.61h0M406.49 483.86h0M452.93 504.84h0M404.9 497.81h0M381.95 464.19h0M481.55 484.48h0M456.49 412.91h0M405.92 461.27h0M462.78 420.21h0M427.95 484.64h0M447.48 422.52h0M370.03 435.71h0M382.42 461.28h0M426.13 395.97h0M480.04 506.16h0M382.46 424.64h0M482.86 393.99h0M378.05 436.44h0M467.83 397.31h0M426.44 486.21h0M439.37 446.11h0M442.5 480.38h0M420.59 424.21h0M440.03 492.32h0M369.78 471.64h0M412.06 410.56h0M400.07 398.8h0M465.16 461.07h0M414.22 500.18h0M465.83 440.28h0M361.37 464.61h0M387.59 467.01h0M370.06 491.47h0M468.96 413.07h0M464.61 401.96h0M375.86 461.5h0M388.36 439.91h0M405.61 486.59h0M458.88 502.38h0M388.33 423.04h0M466.29 441.09h0M372.1 454.01h0M388.34 470.45h0M410.16 410.51h0M455.72 503.2h0M377.04 417.01h0M422.68 410.75h0M483.39 445.4h0M366.67 415.39h0" stroke="#a8402c" stroke-width="0.5" stroke-linecap="round" fill="none" opacity="0.38"/>
<path d="M385.62 421.85h0M436.92 501.68h0M409.06 459.82h0M482.75 452.77h0M406.9 500.68h0M446.09 442.86h0M464.06 421.46h0M370.18 419.72h0M400.66 498.66h0M390.35 399.31h0M371.29 491.63h0M422.95 510.77h0M400.91 408.2h0M380.92 485.51h0M423.2 497.1h0M481.64 451.87h0M368.95 497.94h0M472.94 462.96h0M426.87 489.33h0M404.04 392.6h0M482.71 449.39h0M401.52 502.11h0M476.04 445.84h0M454.52 516.93h0M424.94 454.42h0M480.37 406.93h0M449.32 415.88h0M399.6 489.37h0M367.09 506.36h0M451.39 507.7h0M468.23 465.56h0M409.8 402.23h0M476.89 488.88h0M399.01 426.71h0M483.88 431.88h0M379.54 419.23h0M450.03 492.97h0M392.19 476.27h0M435.69 474.62h0M378.39 489.12h0M370.54 403.38h0M436.09 504.64h0M447.63 498.51h0M469.4 474.94h0M478.39 513.31h0M467 408.72h0M394.81 447.04h0M428.81 449.13h0" stroke="#a8402c" stroke-width="0.8" stroke-linecap="round" fill="none" opacity="0.46"/>
<path d="M474.05 471.54h0M478.24 515.63h0M362.66 426.47h0M486.28 403.02h0M407.03 411.97h0M444.44 448.18h0M471.01 512.75h0M473.15 429.46h0M440.99 516.22h0M412.51 445.47h0M487.11 462.52h0M358.48 461.02h0M374.15 394.7h0M472.39 485.88h0M409.85 508.77h0M385.81 396.27h0M364.52 452.02h0M390.85 474.27h0M484.41 450.49h0M466.53 404.56h0M451.93 416.59h0M469.53 459.05h0M404.32 439.58h0M387.21 481.92h0M420.85 407.96h0M393.62 438.21h0M393.71 410.42h0M429.31 480.68h0M357.51 477.36h0M383.06 453.42h0M463.31 427.24h0M467.45 401.33h0" stroke="#a8402c" stroke-width="1.1" stroke-linecap="round" fill="none" opacity="0.6"/>
<path d="M397.26 390.24h0M377.41 478.04h0M478.62 487.85h0M385.71 466.82h0M440.21 424.89h0M365.49 499.52h0M479.27 433.2h0M370.82 491.11h0M382.34 396.33h0M487.19 415.5h0M388.39 473.42h0M451.68 472.17h0M378.88 504.1h0M405.24 416.09h0M460.7 418.96h0M412.67 423.38h0M419.37 486.37h0M373.47 516.93h0M423.09 497.88h0M416.37 437.43h0M431.24 399h0M383.21 405.28h0M380.27 423.74h0M379.51 506.78h0M363.12 422.62h0M365.65 464.99h0M473.28 459.95h0M408.1 489.34h0M435.57 480.81h0M452.24 423.04h0M366.32 428.16h0M384.42 484.32h0M467.92 398.19h0M432.95 458.39h0M415.61 420.38h0M487.67 491.57h0M458.08 494.76h0M478.53 502.9h0M459.78 474.91h0M360.85 430.9h0M400.76 488.77h0M361.13 482.51h0M412.38 403h0M406.44 424.56h0M445.19 422.81h0M389.1 493.08h0M409.21 488.01h0M374.93 437.65h0M380.04 421.42h0M423.37 500.52h0M423.21 500.99h0M401.31 398.11h0M466.96 426.91h0M395.53 476.37h0M488.06 457.76h0M424.49 419.49h0M365.64 435.29h0M384.89 458.79h0M374.21 422.59h0M393.09 393.21h0M461.74 435.34h0M449.95 482.7h0M451.52 456.19h0M382.83 467.36h0M401.33 423.89h0M466.37 502.24h0M468.72 505.05h0M437 496.19h0M439.34 503.94h0M382.72 413.37h0M369.23 440.09h0M486.25 462.22h0M394.41 471.25h0M399.13 466.62h0M452.9 480.88h0M434.11 441.96h0M380.42 401.27h0M370.19 435.19h0M468.13 500.16h0M382.68 482.58h0" stroke="#c0584a" stroke-width="0.5" stroke-linecap="round" fill="none" opacity="0.38"/>
<path d="M405.5 437.54h0M475.32 464.42h0M429.91 506.49h0M394.97 427.66h0M371.87 426.96h0M450.53 398.09h0M423 409.91h0M423.83 396.51h0M443.4 450.22h0M470.51 420.3h0M376.41 463.52h0M398.31 510.6h0M441.91 499.07h0M436.35 478.32h0M389.98 455.79h0M384.82 474.37h0M415.8 506.94h0M435.45 482.45h0M370.95 515.06h0M458.32 422.12h0M446.91 477.82h0M401.77 426.72h0M367.81 406.34h0M402.28 424.85h0M383.61 501.54h0M383.84 439.34h0M371.52 442.44h0M365.65 414.79h0M469.66 464.87h0M439.32 457.04h0M435.91 410.15h0M362.44 461.35h0M386.89 392h0M469.42 468h0M456.55 426.9h0M382.23 487.74h0M381.43 426.96h0M481.61 474.42h0M460.19 494.5h0M371.21 404.32h0M390.2 505.72h0M474.92 403.89h0M426.57 396.91h0M418.88 494.2h0M415.81 423.24h0M381.69 488.93h0M424.86 393.55h0M384.75 401.29h0" stroke="#c0584a" stroke-width="0.8" stroke-linecap="round" fill="none" opacity="0.46"/>
<path d="M416.49 408.45h0M409.68 408.45h0M488.2 484.04h0M362.45 480.1h0M371.04 489.89h0M431.89 486.4h0M416.01 483.13h0M406.41 474.03h0M392.52 407.69h0M447.37 508.85h0M437.68 418.75h0M384.7 416.96h0M415.85 438.74h0M397.93 466.07h0M415.74 416.08h0M368.23 470.16h0M376.44 469.8h0M371.63 439.82h0M398.75 498.63h0M377.26 502.43h0M399.14 417.01h0M421.62 502.38h0M432.34 412.8h0M480.09 415.16h0M462.69 485.32h0M481.71 511.28h0M441.79 475.5h0M464.89 502.8h0M399.27 493.55h0M431.93 468.35h0M405.58 466.67h0M414.12 419.79h0" stroke="#c0584a" stroke-width="1.1" stroke-linecap="round" fill="none" opacity="0.6"/>
<path d="M437.44 419.85h0M416.02 498.03h0M450.18 401.73h0M482.89 401.66h0M386.61 394.21h0M469.61 428.49h0M367.06 432.84h0M440.94 430.66h0M359.95 435.45h0M440.82 487.82h0M478.78 508.72h0M427.54 421.19h0M401.07 502.75h0M439.97 461.89h0M461.06 439.04h0M409.44 463.1h0M377.64 492.08h0M457.33 427.21h0M444.96 434.62h0M378.53 393.2h0M399.29 433.32h0M465.98 463.1h0M479.64 482.99h0M394.02 444.73h0M471.71 420.19h0M379.32 414.98h0M448.63 513.82h0M472.24 500.09h0M392.2 508.46h0M402.89 432.52h0M399.9 505.96h0M400.04 492.27h0M389.15 484.58h0M479.01 450.01h0M447.37 495.04h0M387.72 470.36h0M396.58 398.74h0M367.4 459.48h0M371.62 444.06h0M441.77 438h0M456.96 415.96h0M458.05 478.02h0M384.07 446.99h0M358.01 472.32h0M383.5 511.57h0M363.36 467.59h0M410.82 441.88h0M464.18 444.45h0M448.19 498.83h0M470.13 485.17h0M486.01 506.41h0M416.16 406.41h0M372.88 408.79h0M444.55 456.98h0M421.28 410.18h0M409.53 424.68h0M364.65 451.68h0M383.78 432.48h0M414.07 441.41h0M385.26 484.97h0M482.51 467.46h0M478.3 503.47h0M360.69 480.66h0M486.49 424.43h0M452.89 461.92h0M485.14 454.61h0M472.09 448.14h0M364.33 456.26h0M408.09 398.24h0M397.11 414.16h0M475.5 503.3h0M427.77 505.12h0M409.62 473.4h0M446.65 513.48h0M448.8 425.67h0M426.67 491.35h0M460.18 421.43h0M481.77 457.56h0M464.12 510.66h0M466.18 410.96h0" stroke="#8a3626" stroke-width="0.5" stroke-linecap="round" fill="none" opacity="0.38"/>
<path d="M416.23 403.29h0M385.44 403.18h0M389.22 402.51h0M451.87 512.12h0M451.55 497.93h0M440.12 452.62h0M415.33 394.06h0M455.84 407.17h0M473.91 423.28h0M418.51 469.42h0M415.98 445.49h0M488.06 492.68h0M378.12 474.16h0M454.13 427.17h0M371.76 458.79h0M407.74 444.83h0M443.39 401.32h0M433.68 497.21h0M462.01 480.56h0M379.94 429.91h0M400.11 515.01h0M469.05 460.83h0M387.17 479.06h0M478.76 512.58h0M476.02 421.45h0M486.03 479.31h0M462.14 408.86h0M479.71 504.37h0M446.35 476.44h0M431.41 433.41h0M463.69 482h0M449.17 464.57h0M463.8 446.4h0M458.33 479.78h0M477.37 442.97h0M482.05 417.64h0M425.07 454.13h0M481.69 474.43h0M399.27 411.21h0M421.06 437.83h0M400.84 438.55h0M438.67 476.6h0M370.85 403.9h0M453.88 447.62h0M464.35 411.86h0M471.03 481.97h0M439.09 508.38h0M378.99 464.33h0" stroke="#8a3626" stroke-width="0.8" stroke-linecap="round" fill="none" opacity="0.46"/>
<path d="M486.97 408.09h0M389.87 483.9h0M390.47 484.34h0M357.17 403.98h0M438.03 427.85h0M455.36 474.11h0M430.71 395.43h0M410.91 403.67h0M414.29 428.86h0M384.38 425.14h0M481.21 421.76h0M466.13 403.78h0M441.66 442.51h0M409.93 411.22h0M447.6 426.81h0M409.81 432.06h0M424.8 416.72h0M380.2 492.52h0M439.65 489.1h0M453 426.88h0M481.88 460.21h0M357.2 468.26h0M456.62 395.55h0M446.76 438.07h0M380.91 452.66h0M453.69 493.96h0M479.37 447.82h0M372.52 480.67h0M409.62 469.47h0M430.66 450.59h0M439.79 479.78h0M480.88 462.05h0" stroke="#8a3626" stroke-width="1.1" stroke-linecap="round" fill="none" opacity="0.6"/>
<path d="M368.54 486.52h0M390.83 476.97h0M384.54 478.29h0M393.47 457.24h0M373.79 479.34h0M378.08 488.34h0M380.44 465.68h0M398.31 455.44h0M375.18 485.65h0M409.34 488.12h0M390.65 474.04h0M399.93 472.19h0M382.06 463.23h0M374.6 467.33h0M379.55 487.31h0M372.22 489.14h0M380.25 495.78h0M375.95 481.09h0M346.36 483.04h0M372.79 471.86h0M383.76 479.29h0M398.37 489.71h0M366.23 471.01h0M392.22 479.49h0M379.65 493.79h0M372.96 482.04h0M383.35 477.82h0M394.94 485.64h0M388.33 473.03h0M377.42 483.17h0M363.17 481.22h0M378.51 478.48h0M373.58 489.91h0M374.51 491.15h0M392.46 475.71h0M382.58 477.82h0M379.48 481.38h0M383.88 470h0M377.89 484.05h0M379.9 476.85h0M378.49 474.41h0M395.13 472.77h0M376.62 478.45h0M392.33 478.74h0M377.86 464.64h0" stroke="#b04a38" stroke-width="0.7" stroke-linecap="round" fill="none" opacity="0.7"/>
<path d="M371.1 475.97h0M381.31 465.44h0M385.05 460.35h0M386.27 474.58h0M372.24 463.06h0M371.44 470.03h0M375.26 477.1h0M371.47 463.11h0M387.55 471.86h0M390.17 472.46h0M389.87 463.16h0M364.49 483.92h0M357.62 471.13h0M386.61 478.39h0M403.09 477.78h0M397.65 477.89h0M399.92 477.46h0M388.61 490.72h0M405.99 468.3h0M360.75 464.33h0M381.74 476.16h0M387.68 498.6h0M390.87 476.89h0M399.57 483.25h0M346.33 486.79h0M383.08 474.29h0M366.13 475.52h0M406.41 479.21h0M369.22 482.3h0M364.03 487.57h0M387.73 476.4h0M388.54 468.34h0M376.53 477.51h0M381.73 496.48h0M387.19 468.73h0M378.51 471.73h0M386.08 463.27h0M391.83 472.54h0M390.44 490.03h0M391.99 466.58h0M374.38 462.51h0M375.61 474.92h0M392.87 478.56h0M385.19 471.44h0M369.08 475.71h0" stroke="#b04a38" stroke-width="1.15" stroke-linecap="round" fill="none" opacity="0.75"/>
<path d="M392.65 443.84h0M396.81 450.63h0M398.09 455.41h0M412.77 444.56h0M405.88 452.63h0M382.63 449.49h0M422.63 447.1h0M384.79 440.36h0M407.25 446.52h0M414.71 440.24h0M403.34 451.48h0M408.77 442.21h0M399.58 444.52h0M427.17 452.76h0M398.18 445.52h0M403.86 447.57h0M400.46 444.4h0M393.9 448.79h0M412.08 445.43h0M400.78 450.63h0M405.41 435.04h0M398.17 445.3h0M404.47 444.6h0M392.13 447.42h0M407.43 442.35h0M401.07 446.1h0M398.46 458.75h0M405.98 446.32h0M391.39 442.28h0M403.95 448.22h0" stroke="#b85040" stroke-width="0.7" stroke-linecap="round" fill="none" opacity="0.7"/>
<path d="M395.7 444.33h0M397.8 448.3h0M414.27 440.12h0M409.51 442.51h0M391.07 448.9h0M413.41 455.59h0M404.97 453.21h0M398.92 444.02h0M413.58 441.63h0M403.92 449.05h0M382.67 447.13h0M411.34 437.82h0M391.95 447.92h0M394.53 442.27h0M380.79 452.65h0M405.73 444.76h0M401.28 446.97h0M400.97 447.25h0M413 443.72h0M406.51 449.25h0M395.54 443.67h0M408.3 446.91h0M392.63 445.72h0M393.51 449.21h0M407.16 443.73h0M406.11 450.34h0M395.89 440.4h0M400.62 453.41h0M420.01 446.02h0M404.56 448.56h0" stroke="#b85040" stroke-width="1.15" stroke-linecap="round" fill="none" opacity="0.75"/>
<path d="M479.35 440.49h0M444.15 438.69h0M469.28 427.43h0M463.4 426.37h0M440.51 427.82h0M459.64 420.1h0M462.13 428.6h0M464.16 427.62h0M448.92 433.39h0M455.49 421.78h0M469.81 429.04h0M476.2 433.4h0M439.53 437.58h0M455.21 428.73h0M459.7 424.85h0M467.82 427.2h0M456.18 428.68h0M466.84 426.13h0M463.48 431.77h0M480.13 425.99h0M458.59 431.71h0M464.28 437.43h0M467.04 431.36h0M473.4 432.32h0M466.55 433.85h0" stroke="#a04434" stroke-width="0.7" stroke-linecap="round" fill="none" opacity="0.7"/>
<path d="M471.43 425.68h0M462.86 439.9h0M468 420.26h0M468.93 428.19h0M454.78 426.15h0M463.8 426.97h0M480.98 427.37h0M460.65 436.95h0M451.98 427.3h0M457.78 431.13h0M473.42 426.19h0M475.86 425.13h0M463.13 434.13h0M465.63 434.33h0M462.87 437.79h0M466.31 436.07h0M457.73 419.49h0M442.73 435.46h0M453.01 438.45h0M467.59 417.08h0M445.91 427.35h0M464.29 425.36h0M461.24 419.92h0M455.07 434.3h0M451.81 431.49h0" stroke="#a04434" stroke-width="1.15" stroke-linecap="round" fill="none" opacity="0.75"/>
<path d="M350 502.86h0M371.28 498.85h0M353.82 501.25h0M372.31 508.56h0M381.67 501.43h0M385.02 507.95h0M369.05 501.73h0M369.02 508.86h0M373.72 505.81h0M372.62 505.27h0M371.09 506.6h0M366.92 500.15h0M361.03 506.88h0M388 507.03h0M376.23 510.59h0M362.41 508.96h0M380.9 504.16h0M374.26 508.77h0M370.68 510.26h0M391.8 499.93h0" stroke="#a84838" stroke-width="0.7" stroke-linecap="round" fill="none" opacity="0.7"/>
<path d="M365.65 499.55h0M377.23 505.81h0M380.96 514.17h0M379.45 498.41h0M367.47 508.8h0M375.95 505.6h0M366.01 504.06h0M387.52 507.52h0M362.16 502.73h0M369.17 504.79h0M369.79 507.31h0M372.69 511.73h0M371.12 503.68h0M370.89 505.45h0M368.14 499.51h0M364.93 513.1h0M368.13 510.86h0M374.96 511.46h0M369.06 503.39h0M368.02 503.34h0" stroke="#a84838" stroke-width="1.15" stroke-linecap="round" fill="none" opacity="0.75"/>
<path d="M450.6 507.03h0M494.41 488.18h0M461.74 491.78h0M463.2 495.67h0M466.08 503.71h0M469.14 483.85h0M467.9 483.63h0M475.3 494.26h0M470.1 488.4h0M432.28 487.01h0M462.43 482.74h0M460.3 503.09h0M448.28 497.65h0M460.06 487.98h0M457.12 495.52h0M449.35 489.43h0M443.35 475.08h0M480.39 483.53h0M471.46 491.02h0M472.66 491.06h0M479.84 509.97h0M457.93 495.71h0M455.25 491.48h0M464.62 498.44h0M475.81 497.77h0M465.68 479.72h0M455.95 483.13h0M448.51 493.08h0M458.52 486.96h0M463.59 481.22h0M431.34 487.11h0M451.84 496.5h0M459.55 490.75h0M454.76 500.66h0M439.4 495.05h0M453.79 493.41h0M467.77 505.54h0M471.43 492.52h0M450.1 487.07h0M479.2 493.55h0M425.99 473.99h0M445.65 476.97h0M449.05 498.77h0M446.82 481.1h0M430.57 495.71h0M458.81 481.48h0M466.64 494.75h0M471.18 495.43h0M460.2 499.03h0M455.55 474.33h0M448.73 494.33h0M481.28 482.17h0M471.81 468.4h0M460.71 506.66h0M457.57 491.98h0M465.97 502.11h0M467.74 488.42h0M463.37 509.04h0M458.3 488.4h0M453.17 503.28h0" stroke="#4060b0" stroke-width="0.7" stroke-linecap="round" fill="none" opacity="0.7"/>
<path d="M469.27 483.92h0M443.4 492.93h0M462.58 472.73h0M452.59 512.89h0M453.24 496.09h0M461.02 490.31h0M442.87 480.21h0M465.21 492.67h0M451.56 495.66h0M446.3 473.16h0M438.53 493.1h0M464.11 494.65h0M428.07 491.33h0M458.55 495.12h0M451.95 491.84h0M480.56 486.35h0M455 510.17h0M446.89 495.51h0M476.49 484.54h0M497.81 483.44h0M475.86 502.69h0M460.77 505.71h0M464.73 497.3h0M450.67 492.27h0M459.17 477.36h0M462.79 486.98h0M458.06 495.84h0M466.14 497.3h0M488.13 494.6h0M424.99 492.29h0M456.42 498.19h0M466.76 487.95h0M440.52 499.28h0M444.39 487.17h0M458.24 480.67h0M454.9 493.57h0M466.89 488.16h0M441.61 481.89h0M464.63 478.58h0M453.85 486.15h0M429.57 493.14h0M444.04 504.57h0M441.02 486.57h0M444.6 480.78h0M456.32 491.96h0M471.96 496.22h0M479.45 499.43h0M440.42 500.89h0M438.19 483.56h0M437.94 484.25h0M448.39 484.59h0M456.18 480.28h0M443.49 490.23h0M473.04 489.91h0M467.71 491.97h0M471.8 493.12h0M457.01 506.02h0M454.81 483.99h0M451.97 494.92h0M436.18 487.71h0" stroke="#4060b0" stroke-width="1.15" stroke-linecap="round" fill="none" opacity="0.75"/>
<path d="M430.69 514.18h0M454.01 510.38h0M457.03 505.31h0M438.78 509.44h0M438.05 509.56h0M449.42 510.62h0M448.11 509.09h0M442.81 507.87h0M433.81 508.24h0M451.74 509.23h0M442.94 509.44h0M439.39 512.47h0M445.6 504.35h0M438.73 506.93h0M452.49 507.59h0M430.01 512.37h0M433.32 509.49h0M454.3 512.19h0M438.89 505.26h0M446.46 508.27h0M449.54 512.47h0M445.31 512.89h0M441.77 508.55h0M450.87 512.97h0M444.11 513.51h0" stroke="#4a6ac0" stroke-width="0.7" stroke-linecap="round" fill="none" opacity="0.7"/>
<path d="M444.75 508.65h0M442.89 507.97h0M448.34 506.54h0M436.29 508.55h0M449.64 506.25h0M443.72 514.95h0M447.23 506.25h0M444.2 507.76h0M451.14 510.16h0M434.22 513.53h0M446.6 504.49h0M459.6 510.09h0M439.29 509.8h0M442.36 510.04h0M451.1 505.29h0M452.18 511.34h0M434.23 509.36h0M432.87 515.27h0M446.18 508.55h0M437.39 508.15h0M437.24 515.25h0M436.75 509.82h0M439.29 512.19h0M446.23 512.95h0M453.02 508.84h0" stroke="#4a6ac0" stroke-width="1.15" stroke-linecap="round" fill="none" opacity="0.75"/>
<radialGradient id="g3_3660_3928" cx="0.42" cy="0.4" r="0.68"><stop offset="0" stop-color="#5a78d0"/><stop offset="0.7" stop-color="#3858b8"/><stop offset="1" stop-color="#3858b8" stop-opacity="0.3"/></radialGradient>
<g opacity="0.95" filter="url(#mottle)">
<ellipse cx="366" cy="392.8" rx="7.4" ry="4.6" fill="url(#g3_3660_3928)"/>
<ellipse cx="370.71" cy="392.91" rx="2.83" ry="1.76" fill="#3858b8" opacity="0.8"/>
<ellipse cx="363.04" cy="395.45" rx="2.37" ry="1.47" fill="#3858b8" opacity="0.8"/>
<ellipse cx="361.01" cy="391.94" rx="2.37" ry="1.47" fill="#3858b8" opacity="0.8"/>
<ellipse cx="364.9" cy="389.64" rx="2.34" ry="1.46" fill="#3858b8" opacity="0.8"/>
<ellipse cx="370.49" cy="391.98" rx="2.87" ry="1.78" fill="#3858b8" opacity="0.8"/>
</g>
<path d="M369.74 390.91h0M372.22 391.37h0M370.65 389.94h0M360.75 390.58h0M366.89 390.17h0M364.49 392.56h0M361.75 392.21h0M360.02 391.09h0M361.72 395.09h0M360.5 394.25h0M368.01 390.94h0M365.89 388.79h0M365.54 390.49h0M361.3 393.03h0M370.73 393.3h0" stroke="#5a78d0" stroke-width="1.1" stroke-linecap="round" fill="none" opacity="0.55"/>
<path d="M365.75 395.63h0M370.92 393.24h0M372.47 392.63h0M367.5 396.64h0M370.19 393.18h0M367.35 391.21h0M370.94 390.97h0M363.58 394.38h0M371.93 393.7h0M363.59 394.39h0M366.95 394.25h0M361.64 391.08h0M361.89 393.09h0M365.62 393.44h0M362.3 392.68h0" stroke="#3858b8" stroke-width="1.1" stroke-linecap="round" fill="none" opacity="0.5"/>
<path d="M362.23 393.42h0M369.58 393.48h0M363.55 390.66h0M371.04 392.66h0M362.84 395.47h0M368.47 389.54h0M370.64 393.72h0M372.04 392.27h0M364.13 395.48h0M360.31 392.04h0M364.69 389.71h0M371.81 392.61h0M366.97 392.66h0M365.81 392.95h0M370.01 391.3h0" stroke="#10283c" stroke-width="1.1" stroke-linecap="round" fill="none" opacity="0.35"/>
<radialGradient id="g3_4760_4555" cx="0.42" cy="0.4" r="0.68"><stop offset="0" stop-color="#dcd6e6"/><stop offset="0.7" stop-color="#a8a4c4"/><stop offset="1" stop-color="#a8a4c4" stop-opacity="0.3"/></radialGradient>
<g opacity="0.95" filter="url(#mottle)">
<ellipse cx="476" cy="455.5" rx="9.4" ry="7.6" fill="url(#g3_4760_4555)"/>
<ellipse cx="482.02" cy="455.56" rx="3.57" ry="2.88" fill="#a8a4c4" opacity="0.8"/>
<ellipse cx="478.17" cy="460.2" rx="3.38" ry="2.74" fill="#a8a4c4" opacity="0.8"/>
<ellipse cx="472.85" cy="458.79" rx="4.44" ry="3.59" fill="#a8a4c4" opacity="0.8"/>
<ellipse cx="471.96" cy="451.11" rx="2.82" ry="2.28" fill="#a8a4c4" opacity="0.8"/>
<ellipse cx="473.81" cy="450.82" rx="3.4" ry="2.75" fill="#a8a4c4" opacity="0.8"/>
<ellipse cx="480.75" cy="453.72" rx="4.35" ry="3.52" fill="#a8a4c4" opacity="0.8"/>
</g>
<path d="M470.45 458.58h0M471.26 452.64h0M470.48 450.48h0M480.36 456.6h0M482.57 457.68h0M475.24 451.86h0M477.64 461.49h0M469.14 457.1h0M481.71 460.45h0M477.5 451.47h0M477.7 453.86h0M480.71 459.65h0M478.24 452.1h0M479.13 457.09h0M483.46 456.22h0M473.83 453.11h0M475.27 449.23h0M471.23 457.88h0M483.89 457.1h0M482.32 457.66h0M479.08 454.69h0M479.97 453.91h0M481.61 451.54h0M476.25 449.38h0M467.92 455.54h0M482.62 454.23h0M470.75 454.71h0M471.75 450.8h0M479.24 457h0M469.18 458.83h0M471.27 455.27h0M474.98 456.69h0" stroke="#dcd6e6" stroke-width="1.1" stroke-linecap="round" fill="none" opacity="0.55"/>
<path d="M468.5 455.77h0M483.83 454.73h0M477.02 453.78h0M473.25 458.56h0M473.98 449.1h0M469.25 456.27h0M480.11 451.88h0M470.11 454.16h0M480.94 457.43h0M477.59 456.3h0M473.32 450.24h0M481.84 452.84h0M473.08 455.69h0M469.88 451.26h0M469.38 452.62h0M476.04 450.33h0M472.03 455.81h0M470.43 457.44h0M478.71 454h0M483.73 453.55h0M477.3 456.97h0M483.83 456.01h0M474 461.51h0M471.41 452.14h0M473.86 450.88h0M479.97 457.19h0M471.25 456.82h0M470.69 456.9h0M482.73 457.17h0M480.06 458.71h0M483.38 452.78h0M479.31 461.77h0" stroke="#a8a4c4" stroke-width="1.1" stroke-linecap="round" fill="none" opacity="0.5"/>
<path d="M472.37 455.23h0M474.17 453.21h0M476.89 461.27h0M481.94 453.38h0M478.81 459.16h0M467.97 456.89h0M470.46 454.2h0M483.45 454.78h0M469.7 459h0M472.31 460.8h0M479.93 458.34h0M483.46 455.18h0M468.35 453.45h0M475.25 451.88h0M476.3 462.01h0M469.76 459.48h0M471.9 455.88h0M475.7 456.83h0M480.87 455.94h0M476.45 451.69h0M470.55 456.63h0M480.17 457.64h0M478.7 449.84h0M473.71 455.18h0M471.3 458.18h0M475.96 455.6h0M469.76 452.17h0M467.64 456.36h0M474.74 452.46h0M473.01 454.58h0M482.06 451.26h0M479.46 451.34h0" stroke="#10283c" stroke-width="1.1" stroke-linecap="round" fill="none" opacity="0.35"/>
<radialGradient id="g3_3958_4630" cx="0.42" cy="0.4" r="0.68"><stop offset="0" stop-color="#7a92c4"/><stop offset="0.7" stop-color="#4c62a0"/><stop offset="1" stop-color="#4c62a0" stop-opacity="0.3"/></radialGradient>
<g opacity="0.8" filter="url(#mottle)">
<ellipse cx="395.8" cy="463" rx="10" ry="9" fill="url(#g3_3958_4630)"/>
<ellipse cx="402.27" cy="464.82" rx="3.42" ry="3.08" fill="#4c62a0" opacity="0.8"/>
<ellipse cx="394.8" cy="469.08" rx="3.37" ry="3.04" fill="#4c62a0" opacity="0.8"/>
<ellipse cx="390.99" cy="465.08" rx="4.86" ry="4.38" fill="#4c62a0" opacity="0.8"/>
<ellipse cx="391.35" cy="458.93" rx="3.86" ry="3.47" fill="#4c62a0" opacity="0.8"/>
<ellipse cx="395.2" cy="457.67" rx="4.25" ry="3.82" fill="#4c62a0" opacity="0.8"/>
<ellipse cx="400.67" cy="458.34" rx="3.09" ry="2.79" fill="#4c62a0" opacity="0.8"/>
</g>
<path d="M391.5 456.32h0M398.76 468.93h0M394.09 466.83h0M390.17 462.48h0M392.67 463.45h0M402.36 464.62h0M398.68 460.1h0M393.34 463.22h0M392.85 468.49h0M389.54 464.89h0M396.14 455.73h0M398.67 470.31h0M402.81 459.61h0M396.1 461.01h0M398.84 461.21h0M392.32 462.41h0M401.56 458.67h0M394.88 462.91h0M398.99 462.46h0M397.46 464.8h0M402.74 459.13h0M397.47 469.39h0M404.29 465.16h0M396.21 455.45h0M395.77 464.63h0M391.12 456.96h0M398.42 462.46h0M394.9 468.46h0M391.37 458.69h0M401.36 462.62h0M398.4 456.56h0M402.97 460.25h0M389.54 463.1h0M394.63 455.78h0M393.19 465.83h0M393.11 465.53h0M388.25 462.9h0M395.69 456.68h0M397.89 468.41h0M396.28 458.03h0" stroke="#7a92c4" stroke-width="1.1" stroke-linecap="round" fill="none" opacity="0.55"/>
<path d="M396.94 465.5h0M389.97 468.69h0M399.19 463.96h0M397.18 456.89h0M400.92 465.67h0M388.92 460.02h0M402.96 459.53h0M400.35 465.01h0M403.41 459.28h0M395.71 459.79h0M395.25 462.8h0M393.39 465.08h0M397.24 463.49h0M393.17 466.22h0M399.3 470.26h0M396.47 468.65h0M397.59 459.68h0M392.05 466h0M400.4 463.69h0M393.61 468.97h0M403.33 466.79h0M389.71 460.07h0M389.75 465.97h0M392.45 464.26h0M393.61 466.21h0M389.17 460.82h0M400.94 469.26h0M388.72 459.45h0M387.45 462.21h0M394.24 467.87h0M389.64 463.69h0M394.54 455.65h0M387.72 461.25h0M395.08 462.5h0M398.16 469.71h0M403.16 460.78h0M398.43 456.65h0M388.46 462.45h0M392.62 463.46h0M399.64 462.73h0" stroke="#4c62a0" stroke-width="1.1" stroke-linecap="round" fill="none" opacity="0.5"/>
<path d="M402.67 466.02h0M403.21 463.33h0M397.71 466.54h0M401.02 457.34h0M394.28 460.81h0M399.9 463.36h0M401.85 462.44h0M394.37 470.01h0M392.21 459.11h0M401.41 464.33h0M393.62 465.15h0M392.43 469.87h0M392.94 456.79h0M399.05 455.61h0M391.26 459.37h0M395.28 467.93h0M399.15 468.64h0M391.73 458.43h0M390.45 458.11h0M390.27 464.73h0M389.58 468.61h0M398.11 457.39h0M400.66 463.11h0M400.77 461.94h0M391.98 464.44h0M393.45 455.46h0M395.29 464.06h0M387.18 463.84h0M391.26 464.12h0M399.81 460.91h0M392.11 456.41h0M387.55 464.52h0M399.73 458.16h0M404.36 465.1h0M393.76 467.28h0M396.62 459.1h0M399.47 457.63h0M399.2 461.47h0M401.06 468.37h0M398.31 456.59h0" stroke="#10283c" stroke-width="1.1" stroke-linecap="round" fill="none" opacity="0.35"/>
<radialGradient id="g3_3933_4696" cx="0.42" cy="0.4" r="0.68"><stop offset="0" stop-color="#c8f08a"/><stop offset="0.7" stop-color="#8ad070"/><stop offset="1" stop-color="#8ad070" stop-opacity="0.3"/></radialGradient>
<g opacity="0.95" filter="url(#mottle)">
<ellipse cx="393.3" cy="469.6" rx="4.8" ry="4.4" fill="url(#g3_3933_4696)"/>
<ellipse cx="395.75" cy="471.1" rx="1.94" ry="1.78" fill="#8ad070" opacity="0.8"/>
<ellipse cx="390.11" cy="470.47" rx="1.57" ry="1.44" fill="#8ad070" opacity="0.8"/>
<ellipse cx="390.56" cy="469.58" rx="2.16" ry="1.98" fill="#8ad070" opacity="0.8"/>
<ellipse cx="396.1" cy="468.78" rx="1.95" ry="1.79" fill="#8ad070" opacity="0.8"/>
</g>
<path d="M394.43 465.92h0M395.82 468.39h0M392.74 469.95h0M389.92 468.02h0M393.23 471.2h0M394.47 469.99h0M392.1 468.89h0M395.23 469.65h0M397.4 470.35h0" stroke="#c8f08a" stroke-width="1.1" stroke-linecap="round" fill="none" opacity="0.55"/>
<path d="M390.3 470.49h0M392.28 472.39h0M394.15 471.9h0M390.66 472.73h0M392.93 466.95h0M391.15 468.97h0M395.68 467.65h0M394.38 471.39h0M390.21 470.98h0" stroke="#8ad070" stroke-width="1.1" stroke-linecap="round" fill="none" opacity="0.5"/>
<path d="M395.73 472.06h0M393.47 471.83h0M389.25 470.8h0M390.96 470.32h0M393.19 465.65h0M390.02 469.37h0M395.44 466.92h0M392.74 468.86h0M392.48 469.83h0" stroke="#10283c" stroke-width="1.1" stroke-linecap="round" fill="none" opacity="0.35"/>
<radialGradient id="g3_3680_4674" cx="0.42" cy="0.4" r="0.68"><stop offset="0" stop-color="#c4f080"/><stop offset="0.7" stop-color="#8ad060"/><stop offset="1" stop-color="#8ad060" stop-opacity="0.3"/></radialGradient>
<g opacity="0.95" filter="url(#mottle)">
<ellipse cx="368" cy="467.4" rx="4.4" ry="4.4" fill="url(#g3_3680_4674)"/>
<ellipse cx="369.46" cy="470.1" rx="1.42" ry="1.42" fill="#8ad060" opacity="0.8"/>
<ellipse cx="367.97" cy="470.4" rx="1.49" ry="1.49" fill="#8ad060" opacity="0.8"/>
<ellipse cx="365.79" cy="465.7" rx="1.69" ry="1.69" fill="#8ad060" opacity="0.8"/>
<ellipse cx="369.39" cy="465.54" rx="2.17" ry="2.17" fill="#8ad060" opacity="0.8"/>
</g>
<path d="M367.63 467.18h0M366.02 468.43h0M366.82 466.04h0M365.48 466.81h0M368.42 469.76h0M367.44 466.59h0M368.41 465.55h0M367.56 470.77h0" stroke="#c4f080" stroke-width="1.1" stroke-linecap="round" fill="none" opacity="0.55"/>
<path d="M368.98 467.94h0M369.09 467h0M366.98 469.49h0M370.8 469.62h0M367.43 465.61h0M371.15 469.2h0M371.83 468.07h0M367.56 465.07h0" stroke="#8ad060" stroke-width="1.1" stroke-linecap="round" fill="none" opacity="0.5"/>
<path d="M368.9 464.01h0M367.75 463.84h0M371.07 469.74h0M364.46 469.05h0M366.54 469.26h0M370.64 465.53h0M365.93 465.47h0M368.6 469.05h0" stroke="#10283c" stroke-width="1.1" stroke-linecap="round" fill="none" opacity="0.35"/>
<radialGradient id="g3_3772_4655" cx="0.42" cy="0.4" r="0.68"><stop offset="0" stop-color="#90cc90"/><stop offset="0.7" stop-color="#5a9a6a"/><stop offset="1" stop-color="#5a9a6a" stop-opacity="0.3"/></radialGradient>
<g opacity="0.9" filter="url(#mottle)">
<ellipse cx="377.2" cy="465.5" rx="3.2" ry="3.4" fill="url(#g3_3772_4655)"/>
<ellipse cx="378.84" cy="467.04" rx="1.07" ry="1.14" fill="#5a9a6a" opacity="0.8"/>
<ellipse cx="375.78" cy="466.71" rx="1.45" ry="1.54" fill="#5a9a6a" opacity="0.8"/>
<ellipse cx="375.84" cy="464.3" rx="1.49" ry="1.59" fill="#5a9a6a" opacity="0.8"/>
<ellipse cx="378.75" cy="464.08" rx="1.22" ry="1.3" fill="#5a9a6a" opacity="0.8"/>
</g>
<path d="M378.21 466.39h0M376.97 467.19h0M377.33 465.33h0M379.81 465.64h0" stroke="#90cc90" stroke-width="1.1" stroke-linecap="round" fill="none" opacity="0.55"/>
<path d="M376.78 467.66h0M377.77 467.69h0M377.24 466h0M378.69 463.76h0" stroke="#5a9a6a" stroke-width="1.1" stroke-linecap="round" fill="none" opacity="0.5"/>
<path d="M377.08 467.45h0M376.75 468.34h0M378.21 463.85h0M375.61 466.11h0" stroke="#10283c" stroke-width="1.1" stroke-linecap="round" fill="none" opacity="0.35"/>
<radialGradient id="g3_4132_4741" cx="0.42" cy="0.4" r="0.68"><stop offset="0" stop-color="#b4b4e0"/><stop offset="0.7" stop-color="#7c7cb8"/><stop offset="1" stop-color="#7c7cb8" stop-opacity="0.3"/></radialGradient>
<g opacity="0.9" filter="url(#mottle)">
<ellipse cx="413.2" cy="474.1" rx="5.6" ry="5.6" fill="url(#g3_4132_4741)"/>
<ellipse cx="415.06" cy="477.54" rx="1.8" ry="1.8" fill="#7c7cb8" opacity="0.8"/>
<ellipse cx="412.66" cy="477.87" rx="1.9" ry="1.9" fill="#7c7cb8" opacity="0.8"/>
<ellipse cx="411.62" cy="471.16" rx="2.37" ry="2.37" fill="#7c7cb8" opacity="0.8"/>
<ellipse cx="415.23" cy="471.17" rx="2.14" ry="2.14" fill="#7c7cb8" opacity="0.8"/>
</g>
<path d="M413.77 474.03h0M414.31 470.89h0M413.97 478.81h0M411.01 474.27h0M411.95 471.22h0M416.59 477.56h0M408.48 473.83h0M412.37 472.23h0M408.94 472.94h0M412.99 475.85h0M413.68 470.31h0M408.59 473.97h0M413.65 474.5h0M415.96 473.99h0" stroke="#b4b4e0" stroke-width="1.1" stroke-linecap="round" fill="none" opacity="0.55"/>
<path d="M418.19 474.25h0M415.12 473.36h0M412.72 473.18h0M413.77 471.89h0M416.03 476.51h0M413.66 478.86h0M411.96 476.19h0M408.3 473.46h0M412.27 475.75h0M416.16 474.52h0M410.57 470.09h0M417.77 473.32h0M408.24 473.45h0M413.01 471.85h0" stroke="#7c7cb8" stroke-width="1.1" stroke-linecap="round" fill="none" opacity="0.5"/>
<path d="M410.28 477.64h0M410.91 475.85h0M413.4 471.62h0M411.82 475.92h0M410.34 474.72h0M415.27 471.77h0M416.26 472.65h0M412.01 477.72h0M417.02 476.61h0M416.02 474.03h0M412.49 474.29h0M415.6 473.91h0M413.18 473.78h0M408.28 473.55h0" stroke="#10283c" stroke-width="1.1" stroke-linecap="round" fill="none" opacity="0.35"/>
<radialGradient id="g3_4177_4612" cx="0.42" cy="0.4" r="0.68"><stop offset="0" stop-color="#98e080"/><stop offset="0.7" stop-color="#60b050"/><stop offset="1" stop-color="#60b050" stop-opacity="0.3"/></radialGradient>
<g opacity="0.95" filter="url(#mottle)">
<ellipse cx="417.7" cy="461.2" rx="2.8" ry="2.4" fill="url(#g3_4177_4612)"/>
<ellipse cx="417.94" cy="462.59" rx="1.21" ry="1.04" fill="#60b050" opacity="0.8"/>
<ellipse cx="416.31" cy="462.22" rx="1.03" ry="0.88" fill="#60b050" opacity="0.8"/>
<ellipse cx="418.8" cy="460.33" rx="1.36" ry="1.16" fill="#60b050" opacity="0.8"/>
</g>
<path d="M417.17 460.57h0M417.21 462.52h0M416.46 462.41h0" stroke="#98e080" stroke-width="1.1" stroke-linecap="round" fill="none" opacity="0.55"/>
<path d="M418.24 462.99h0M418.14 462.96h0M418.37 461.19h0" stroke="#60b050" stroke-width="1.1" stroke-linecap="round" fill="none" opacity="0.5"/>
<path d="M415.38 461.99h0M417.06 462.23h0M419.72 460.23h0" stroke="#10283c" stroke-width="1.1" stroke-linecap="round" fill="none" opacity="0.35"/>
<radialGradient id="g3_4003_4406" cx="0.42" cy="0.4" r="0.68"><stop offset="0" stop-color="#90c0b0"/><stop offset="0.7" stop-color="#5a8a80"/><stop offset="1" stop-color="#5a8a80" stop-opacity="0.3"/></radialGradient>
<g opacity="0.9" filter="url(#mottle)">
<ellipse cx="400.3" cy="440.6" rx="3.2" ry="3.4" fill="url(#g3_4003_4406)"/>
<ellipse cx="401.93" cy="441.78" rx="1.3" ry="1.38" fill="#5a8a80" opacity="0.8"/>
<ellipse cx="398.7" cy="442.03" rx="1.17" ry="1.25" fill="#5a8a80" opacity="0.8"/>
<ellipse cx="398.44" cy="440.25" rx="1.38" ry="1.47" fill="#5a8a80" opacity="0.8"/>
<ellipse cx="401.89" cy="439.35" rx="1.28" ry="1.36" fill="#5a8a80" opacity="0.8"/>
</g>
<path d="M398.8 441.3h0M399.32 442.05h0M398.53 438.84h0M403.02 440.9h0" stroke="#90c0b0" stroke-width="1.1" stroke-linecap="round" fill="none" opacity="0.55"/>
<path d="M400.53 441.13h0M398.84 439.49h0M399.64 439.01h0M397.5 440.04h0" stroke="#5a8a80" stroke-width="1.1" stroke-linecap="round" fill="none" opacity="0.5"/>
<path d="M398.2 441.37h0M402.04 443.01h0M400.29 443.57h0M398.91 438.85h0" stroke="#10283c" stroke-width="1.1" stroke-linecap="round" fill="none" opacity="0.35"/>
<radialGradient id="g3_4385_4320" cx="0.42" cy="0.4" r="0.68"><stop offset="0" stop-color="#80d080"/><stop offset="0.7" stop-color="#50a050"/><stop offset="1" stop-color="#50a050" stop-opacity="0.3"/></radialGradient>
<g opacity="0.9" filter="url(#mottle)">
<ellipse cx="438.5" cy="432" rx="2.6" ry="2.8" fill="url(#g3_4385_4320)"/>
<ellipse cx="439.93" cy="432.33" rx="1.19" ry="1.28" fill="#50a050" opacity="0.8"/>
<ellipse cx="437.31" cy="431.14" rx="1.22" ry="1.31" fill="#50a050" opacity="0.8"/>
<ellipse cx="439.62" cy="431" rx="1.2" ry="1.29" fill="#50a050" opacity="0.8"/>
</g>
<path d="M439.22 432.89h0M438.81 431.61h0M436.61 430.89h0" stroke="#80d080" stroke-width="1.1" stroke-linecap="round" fill="none" opacity="0.55"/>
<path d="M440.54 432.27h0M438.07 434.13h0M436.5 431.6h0" stroke="#50a050" stroke-width="1.1" stroke-linecap="round" fill="none" opacity="0.5"/>
<path d="M438.42 431.15h0M436.44 431.37h0M440.26 431.13h0" stroke="#10283c" stroke-width="1.1" stroke-linecap="round" fill="none" opacity="0.35"/>
<radialGradient id="g3_4058_4220" cx="0.42" cy="0.4" r="0.68"><stop offset="0" stop-color="#80d070"/><stop offset="0.7" stop-color="#50a040"/><stop offset="1" stop-color="#50a040" stop-opacity="0.3"/></radialGradient>
<g opacity="0.9" filter="url(#mottle)">
<ellipse cx="405.8" cy="422" rx="2.2" ry="2.4" fill="url(#g3_4058_4220)"/>
<ellipse cx="407.05" cy="422.4" rx="0.94" ry="1.02" fill="#50a040" opacity="0.8"/>
<ellipse cx="405.01" cy="423.15" rx="0.93" ry="1.01" fill="#50a040" opacity="0.8"/>
<ellipse cx="406.17" cy="420.72" rx="1.02" ry="1.11" fill="#50a040" opacity="0.8"/>
</g>
<path d="M403.98 422.66h0M405.74 419.85h0" stroke="#80d070" stroke-width="1.1" stroke-linecap="round" fill="none" opacity="0.55"/>
<path d="M406.07 423.98h0M404.62 421.88h0" stroke="#50a040" stroke-width="1.1" stroke-linecap="round" fill="none" opacity="0.5"/>
<path d="M405.32 421.84h0M405.93 422.86h0" stroke="#10283c" stroke-width="1.1" stroke-linecap="round" fill="none" opacity="0.35"/>
<radialGradient id="g3_4318_4538" cx="0.42" cy="0.4" r="0.68"><stop offset="0" stop-color="#80d070"/><stop offset="0.7" stop-color="#50a040"/><stop offset="1" stop-color="#50a040" stop-opacity="0.3"/></radialGradient>
<g opacity="0.9" filter="url(#mottle)">
<ellipse cx="431.8" cy="453.8" rx="2.2" ry="2.4" fill="url(#g3_4318_4538)"/>
<ellipse cx="432.9" cy="454.39" rx="1.02" ry="1.11" fill="#50a040" opacity="0.8"/>
<ellipse cx="430.72" cy="452.98" rx="0.93" ry="1.02" fill="#50a040" opacity="0.8"/>
<ellipse cx="431.7" cy="452.48" rx="1.03" ry="1.12" fill="#50a040" opacity="0.8"/>
</g>
<path d="M431.18 452.73h0M431.83 452.15h0" stroke="#80d070" stroke-width="1.1" stroke-linecap="round" fill="none" opacity="0.55"/>
<path d="M430.44 455.22h0M431.12 453.56h0" stroke="#50a040" stroke-width="1.1" stroke-linecap="round" fill="none" opacity="0.5"/>
<path d="M432.29 453.21h0M432.68 453.64h0" stroke="#10283c" stroke-width="1.1" stroke-linecap="round" fill="none" opacity="0.35"/>
<radialGradient id="g3_4442_4952" cx="0.42" cy="0.4" r="0.68"><stop offset="0" stop-color="#c0d8f4"/><stop offset="0.7" stop-color="#7aa0d8"/><stop offset="1" stop-color="#7aa0d8" stop-opacity="0.3"/></radialGradient>
<g opacity="0.95" filter="url(#mottle)">
<ellipse cx="444.2" cy="495.2" rx="5.6" ry="5.2" fill="url(#g3_4442_4952)"/>
<ellipse cx="447.74" cy="495.26" rx="2.18" ry="2.02" fill="#7aa0d8" opacity="0.8"/>
<ellipse cx="440.93" cy="496.65" rx="2.09" ry="1.94" fill="#7aa0d8" opacity="0.8"/>
<ellipse cx="442.17" cy="492.88" rx="2.5" ry="2.32" fill="#7aa0d8" opacity="0.8"/>
<ellipse cx="446.87" cy="493.23" rx="2.3" ry="2.14" fill="#7aa0d8" opacity="0.8"/>
</g>
<path d="M444.14 494.87h0M447.93 492.67h0M446.19 495.04h0M444.93 493.2h0M445.31 494.47h0M443.05 494.31h0M447.8 495.93h0M447.32 497.73h0M441.01 491.66h0M448.52 493.99h0M445.01 491.99h0M443.33 491.15h0M445.38 496.14h0" stroke="#c0d8f4" stroke-width="1.1" stroke-linecap="round" fill="none" opacity="0.55"/>
<path d="M445.23 495.61h0M443.28 497.56h0M443.05 496.65h0M442.88 497.66h0M440.47 493.09h0M444.95 492.31h0M442.56 495.53h0M445.82 497.02h0M446.38 498.99h0M442.32 495.18h0M441.91 495.28h0M444.14 494.23h0M446.49 495.26h0" stroke="#7aa0d8" stroke-width="1.1" stroke-linecap="round" fill="none" opacity="0.5"/>
<path d="M445.57 496.42h0M442.94 499.55h0M441.66 492.92h0M448.21 494.93h0M448.02 496.93h0M439.28 495.81h0M441.42 498.93h0M440.63 495.74h0M444.43 493.77h0M444.57 499.8h0M442.43 494.88h0M442.75 493.91h0M439.9 496.21h0" stroke="#10283c" stroke-width="1.1" stroke-linecap="round" fill="none" opacity="0.35"/>
<radialGradient id="g3_4404_4912" cx="0.42" cy="0.4" r="0.68"><stop offset="0" stop-color="#90e070"/><stop offset="0.7" stop-color="#58b048"/><stop offset="1" stop-color="#58b048" stop-opacity="0.3"/></radialGradient>
<g opacity="0.95" filter="url(#mottle)">
<ellipse cx="440.4" cy="491.2" rx="2.2" ry="2.2" fill="url(#g3_4404_4912)"/>
<ellipse cx="441.08" cy="492.26" rx="0.98" ry="0.98" fill="#58b048" opacity="0.8"/>
<ellipse cx="439.24" cy="491.7" rx="0.98" ry="0.98" fill="#58b048" opacity="0.8"/>
<ellipse cx="441.21" cy="490.22" rx="0.97" ry="0.97" fill="#58b048" opacity="0.8"/>
</g>
<path d="M441.21 490.38h0M440.58 489.91h0" stroke="#90e070" stroke-width="1.1" stroke-linecap="round" fill="none" opacity="0.55"/>
<path d="M440.68 492.95h0M440.37 489.65h0" stroke="#58b048" stroke-width="1.1" stroke-linecap="round" fill="none" opacity="0.5"/>
<path d="M438.69 491.68h0M439.74 492.04h0" stroke="#10283c" stroke-width="1.1" stroke-linecap="round" fill="none" opacity="0.35"/>
<radialGradient id="g3_4760_4705" cx="0.42" cy="0.4" r="0.68"><stop offset="0" stop-color="#b06a70"/><stop offset="0.7" stop-color="#804048"/><stop offset="1" stop-color="#804048" stop-opacity="0.3"/></radialGradient>
<g opacity="0.8" filter="url(#mottle)">
<ellipse cx="476" cy="470.5" rx="2.6" ry="2.2" fill="url(#g3_4760_4705)"/>
<ellipse cx="477.59" cy="470.59" rx="1.06" ry="0.89" fill="#804048" opacity="0.8"/>
<ellipse cx="474.94" cy="469.78" rx="1.3" ry="1.1" fill="#804048" opacity="0.8"/>
<ellipse cx="476.71" cy="469.1" rx="0.85" ry="0.72" fill="#804048" opacity="0.8"/>
</g>
<path d="M476.62 470.34h0M477.42 471.86h0" stroke="#b06a70" stroke-width="1.1" stroke-linecap="round" fill="none" opacity="0.55"/>
<path d="M477.06 469.88h0M477.39 470.26h0" stroke="#804048" stroke-width="1.1" stroke-linecap="round" fill="none" opacity="0.5"/>
<path d="M475.08 471.97h0M476.85 471.72h0" stroke="#10283c" stroke-width="1.1" stroke-linecap="round" fill="none" opacity="0.35"/>
<radialGradient id="g3_4040_4495" cx="0.42" cy="0.4" r="0.68"><stop offset="0" stop-color="#b06a70"/><stop offset="0.7" stop-color="#804048"/><stop offset="1" stop-color="#804048" stop-opacity="0.3"/></radialGradient>
<g opacity="0.8" filter="url(#mottle)">
<ellipse cx="404" cy="449.5" rx="2.2" ry="1.8" fill="url(#g3_4040_4495)"/>
<ellipse cx="405.23" cy="449.73" rx="0.98" ry="0.8" fill="#804048" opacity="0.8"/>
<ellipse cx="402.82" cy="448.77" rx="0.76" ry="0.62" fill="#804048" opacity="0.8"/>
<ellipse cx="405.31" cy="449.03" rx="0.81" ry="0.66" fill="#804048" opacity="0.8"/>
</g>
<path d="M405.19 449.27h0" stroke="#b06a70" stroke-width="1.1" stroke-linecap="round" fill="none" opacity="0.55"/>
<path d="M403.41 450.27h0" stroke="#804048" stroke-width="1.1" stroke-linecap="round" fill="none" opacity="0.5"/>
<path d="M402.94 449.4h0" stroke="#10283c" stroke-width="1.1" stroke-linecap="round" fill="none" opacity="0.35"/>
<circle cx="442.2" cy="439.4" r="6.4" fill="#1a2448" stroke="#c8404c" stroke-width="2" stroke-dasharray="1.6 0.9"/>
<circle cx="441" cy="438" r="1" fill="#d04050"/><circle cx="444.6" cy="441.2" r="0.9" fill="#d04050"/><circle cx="440" cy="442" r="0.8" fill="#d04050"/>
<path d="M436 503l2.6 -2.4" stroke="#e03030" stroke-width="1.1"/>
<rect x="449.2" y="508.8" width="36.1" height="6.6" fill="#000"/>
<rect x="357.4" y="390.4" width="130.6" height="126.2" fill="none" stroke="#000" stroke-width="0.9"/>
</g>
<line x1="450.4" y1="510.6" x2="483.9" y2="510.6" stroke="#fff" stroke-width="1.5" />
<text x="467.15" y="513.8" font-size="2.2" font-weight="normal" text-anchor="middle" font-family='"Liberation Sans", Arial, sans-serif' fill="#ddd" >100 µm</text>
<g clip-path="url(#ic4)">
<rect x="527.4" y="390" width="131.6" height="127" fill="#03121a"/>
<ellipse cx="575" cy="405" rx="20" ry="12" fill="#1f4458" opacity="0.6" filter="url(#b4)"/>
<ellipse cx="540" cy="440" rx="14" ry="24" fill="#1f3a70" opacity="0.7" filter="url(#b4)"/>
<ellipse cx="545" cy="495" rx="12" ry="16" fill="#4a2a20" opacity="0.45" filter="url(#b4)"/>
<ellipse cx="650" cy="440" rx="12" ry="26" fill="#1f4a5a" opacity="0.6" filter="url(#b4)"/>
<path d="M549.11 477.6h0M610.97 450.85h0M555.83 490.66h0M633.71 455.08h0M593.87 419.98h0M527.82 437.12h0M604.43 398.8h0M631.86 419.5h0M558.02 395.38h0M658.68 483.81h0M642.56 468.22h0M531.88 431.77h0M592.88 404.71h0M652.68 436.79h0M547.77 493.82h0M543.83 507.85h0M587.03 460.1h0M572.53 451.56h0M552 394.72h0M641.35 419.83h0M630.08 416.49h0M654.89 503.53h0M626.73 486.87h0M603.83 482.68h0M543.52 450.49h0M636.24 415.54h0M648.89 502.72h0M581.3 436.38h0M586.79 438.99h0M658.32 439.1h0M530.93 401.84h0M621.9 516.09h0M592.68 452.43h0M599.84 485.02h0M556.62 467.33h0M600.63 469.07h0M551.18 411.6h0M573.22 507.74h0M573.01 465.85h0M567.75 403.12h0M536.04 493.34h0M629.66 437.61h0M617.33 475.84h0M645.67 511.7h0M580.96 515.62h0M653.92 465h0M643.63 452.35h0M576.82 421.4h0M642.7 410.61h0M536.52 492.27h0M629.25 451.36h0M637.55 396.63h0M561.35 426.81h0M582.61 411.67h0M536.54 432.94h0M645.73 514.9h0M625.55 450.83h0M560.59 511.78h0M596.57 482.53h0M531.12 416.94h0M637.72 490.99h0M643.4 466.37h0M583.47 463.8h0M639.17 429.11h0M597.72 425.05h0M628.5 391.3h0M617.59 511.15h0M530.49 465.4h0M612.13 498.16h0M604.3 422.66h0M580.78 511.76h0M646.58 406.96h0M539.88 401.93h0M530.73 446.75h0M545.93 500.15h0M613.64 406.07h0M598.29 431.18h0M592.39 417.89h0M549.26 413.36h0M577.12 480.17h0" stroke="#3f5fb0" stroke-width="0.5" stroke-linecap="round" fill="none" opacity="0.38"/>
<path d="M599.78 395.87h0M620.95 500.98h0M629.29 490.42h0M528.43 448.91h0M535.76 487.02h0M550.47 480.36h0M560.68 478.49h0M568.67 395.32h0M578.58 429.3h0M645.94 427.47h0M593.61 459.77h0M652.19 402.52h0M606.52 454.54h0M624.07 512.82h0M568.22 478.83h0M596.59 461.21h0M535.79 493.47h0M655.95 435.11h0M569.26 516.14h0M541.56 399.67h0M537.05 493.42h0M627.4 446.9h0M609.18 392.51h0M612.24 446.21h0M595.49 439.45h0M580.24 418.64h0M533.82 445.11h0M559.91 479.43h0M634.96 481.92h0M587.41 420.03h0M578.12 451.82h0M610.55 512.32h0M538.64 450.92h0M592.13 481.08h0M644.59 489h0M609.89 486.33h0M615.31 499.08h0M619.39 476.74h0M559.68 506.42h0M578.19 468.07h0M635.95 512.39h0M657.58 390.81h0M568.54 429.59h0M578.88 408.47h0M600.21 400.1h0M567.22 509.83h0M625.09 448.72h0M541.64 511.41h0" stroke="#3f5fb0" stroke-width="0.8" stroke-linecap="round" fill="none" opacity="0.46"/>
<path d="M620.04 416.14h0M571.52 471.48h0M617.1 423.13h0M652.58 430.91h0M560.86 497.36h0M547.59 476.51h0M553.7 465.94h0M563.91 438.13h0M651.2 449.3h0M584.89 468.37h0M564.33 412.14h0M578.02 424.6h0M552.2 512.02h0M531.92 492.93h0M650.41 479.48h0M529.9 453.65h0M532.57 467.2h0M619.57 420.51h0M528.4 459.14h0M539.84 429.24h0M587.16 503.6h0M576.1 407.14h0M631.59 494.44h0M597.07 396.24h0M552.08 441.18h0M600.03 418.59h0M632.99 497.12h0M649.15 502.21h0M529.72 463.92h0M537.99 504.26h0M625.7 486.43h0M552.18 397.57h0" stroke="#3f5fb0" stroke-width="1" stroke-linecap="round" fill="none" opacity="0.6"/>
<path d="M634.68 467.03h0M609.03 449.83h0M632.69 432.93h0M562.9 434.85h0M566.62 469.64h0M644.54 399.02h0M536.3 454.99h0M616.63 414.1h0M562.91 397.46h0M532.29 452.87h0M616.99 472.95h0M548.22 403.22h0M649.9 458.4h0M581.15 477.74h0M623.18 456.62h0M537.71 495.06h0M555.52 395.14h0M573.76 457.63h0M610.07 412.11h0M620.79 452.71h0M548.72 498.07h0M633.57 505.11h0M616.82 417.6h0M629.74 504.65h0M597.58 505.38h0M655.08 439.55h0M651.35 508.97h0M631.87 391.43h0M573.71 467.93h0M607.31 485.97h0M612.53 410.51h0M649.89 458.1h0M643.43 416.27h0M658.74 460.47h0M629.47 483.98h0M643.57 436.02h0M538.3 441.51h0M550.86 458.56h0M634.65 436h0M544.65 393.43h0M583.06 463.71h0M530.86 474.51h0M555.15 403.59h0M649.49 456.42h0M645.19 455.27h0M543.57 420.49h0M583.23 471.39h0M628.85 485.43h0M613.04 422.12h0M584.01 438.01h0M591.83 423.72h0M598.18 448.27h0M532.08 494.51h0M604.58 491.95h0M624.33 482.82h0M658.14 437.86h0M579.2 390.48h0M614.83 463.85h0M603.26 516.7h0M553.32 418.86h0M624.01 493.17h0M590.94 396.98h0M576.15 494.95h0M593.18 448.61h0M578.65 469.82h0M606.16 478.02h0M641.27 485.41h0M576.74 421.8h0M630.3 490.7h0M649.55 415.25h0M638.96 503.11h0M537.56 429.11h0M610.79 408.56h0M636.78 423.63h0M617.2 427.57h0M556.12 416.28h0M592.88 480.56h0M556.07 477.17h0M571.5 472.46h0M575.85 414.54h0" stroke="#3a56a0" stroke-width="0.5" stroke-linecap="round" fill="none" opacity="0.38"/>
<path d="M545.96 397.33h0M619.04 442.54h0M543.62 501.83h0M613.57 392.69h0M622.78 465.52h0M585.8 453.58h0M654.03 437.49h0M611.13 470.74h0M575.53 433.99h0M626.75 470.74h0M587.53 455.25h0M556.81 490.25h0M530.02 471.68h0M587.27 418.12h0M604.62 464.05h0M538.82 452.24h0M549.12 491.49h0M570.43 431.7h0M555.75 396.11h0M551.97 409.26h0M609.54 497.61h0M556.49 404.19h0M597.74 404.68h0M580.73 486.63h0M554.14 478.85h0M598.29 400.79h0M559.32 466.12h0M540.07 415.87h0M603.3 493.9h0M595.89 474.27h0M528.59 428.43h0M569.27 506h0M574.45 489.67h0M531.92 453.3h0M644.71 487.96h0M603.68 413.13h0M649.29 400.13h0M654.35 488.58h0M622.11 457.39h0M548.98 433.29h0M614.78 473.31h0M578.63 491.75h0M534.43 426.48h0M539.3 431.25h0M631.75 485.69h0M547.06 429.17h0M542.16 474.06h0M585.64 419.41h0" stroke="#3a56a0" stroke-width="0.8" stroke-linecap="round" fill="none" opacity="0.46"/>
<path d="M576.64 499.88h0M583.35 477.74h0M610.01 450.15h0M600.62 436.21h0M553.51 452.79h0M567.47 431.92h0M551.95 506h0M583.4 415.43h0M531.58 417.21h0M641.69 432.78h0M615.18 419.27h0M613.02 447.18h0M624.31 457.11h0M576.8 425.57h0M605.6 495.65h0M618.41 450.98h0M570.63 503.21h0M638.76 408.52h0M616.79 488.05h0M616.33 512.47h0M643.08 421.25h0M658.57 431.61h0M577.38 514h0M549.41 440.22h0M609.77 424.66h0M562.54 490.86h0M608.01 484.47h0M631.35 500.76h0M645 494.57h0M656.16 453.41h0M619.73 455.26h0M654.96 473.19h0" stroke="#3a56a0" stroke-width="1" stroke-linecap="round" fill="none" opacity="0.6"/>
<path d="M584.06 474.33h0M566.21 406.44h0M578.24 407.38h0M527.93 401.75h0M587.19 486.94h0M533.79 470.86h0M542.05 454.82h0M566.33 446.64h0M621.09 442.5h0M578.95 482.52h0M542.65 434.31h0M619.76 496.04h0M656.29 422.66h0M609.68 429.7h0M619.76 497.47h0M545.18 433.82h0M650.61 434.75h0M610.59 493.95h0M564.08 489.5h0M527.88 433.24h0M549.36 433.92h0M555.45 393.22h0M633.09 412.03h0M602.83 460.38h0M639.19 497.56h0M609.21 411.45h0M627.53 402.38h0M649.6 429.16h0M560.66 417.51h0M579.53 490.52h0M639.9 484.75h0M623.38 421h0M569.67 428.64h0M584.43 501.06h0M658.47 400.64h0M654.34 506.63h0M588.06 477.99h0M630.64 413.73h0M608.44 514.68h0M643.26 505.77h0M538.55 480.76h0M591.43 505.47h0M549.36 459.7h0M543.27 492.16h0M622.49 393.96h0M568.14 407.98h0M611.03 470.01h0M535.65 510.76h0M654.43 445.97h0M602.96 436.16h0M607.17 440.6h0M585.4 485.22h0M551.94 427.88h0M627.9 418.57h0M536.45 505.77h0M548.39 442.2h0M568.65 423.23h0M573.78 458.24h0M542.67 457.72h0M534.12 400.02h0M554 420.52h0M572.35 426.99h0M637.53 473.57h0M589.67 487.96h0M617.66 430.05h0M608.45 484.67h0M597.72 485.57h0M610.68 507.84h0M562.16 475.29h0M655.95 457.07h0M646.53 402.03h0M622.62 423.7h0M626.14 443.78h0M597.81 421.56h0M561.23 499.92h0M612.06 469.85h0M542.63 427.22h0M654.8 415.81h0M598.18 478.46h0M594.58 460.39h0" stroke="#2f7a8a" stroke-width="0.5" stroke-linecap="round" fill="none" opacity="0.38"/>
<path d="M655.08 489.24h0M558.59 444.64h0M582.63 476.84h0M616.23 423.15h0M618.52 444.77h0M529.41 427.06h0M577 415.01h0M615.67 516.03h0M649.99 469.96h0M640.21 452.44h0M604.6 503.5h0M535.25 436.01h0M576.63 433.31h0M583.7 397.26h0M616.76 511.51h0M558.22 413.59h0M571.44 491.15h0M557.21 487.91h0M550.13 465.57h0M622.31 475.58h0M538.51 511.49h0M638.99 451.09h0M640.5 466.32h0M549.58 440.41h0M635.41 448.9h0M532.91 411.05h0M551.9 464.42h0M612.12 446.88h0M580.53 512.28h0M572.52 475.35h0M554.32 455.29h0M551.04 404.39h0M571.71 404.61h0M577.56 472.92h0M599.66 491.05h0M590.21 400.68h0M623.12 441.06h0M626.3 513.87h0M596.39 421.8h0M574.49 453.31h0M569.4 402.88h0M579.83 473.33h0M634.79 486.73h0M643.74 491.76h0M581.54 471.83h0M534.52 490.84h0M620.57 423.69h0M589.55 424.51h0" stroke="#2f7a8a" stroke-width="0.8" stroke-linecap="round" fill="none" opacity="0.46"/>
<path d="M632.04 444.19h0M630.17 507.33h0M629.74 438.28h0M572.46 510.12h0M646.43 414.09h0M575.07 490.09h0M626.95 425.96h0M586.13 512.13h0M539.27 424.81h0M614.82 505.25h0M652.01 449.61h0M631.4 513.48h0M570.76 418.89h0M561.56 489.37h0M545.77 459.43h0M649.76 415.53h0M610.14 457.29h0M654.57 455.21h0M592 504.75h0M626.41 408.44h0M633.18 440.69h0M654.88 512.31h0M592.31 442.84h0M557.27 425.08h0M554.52 411.36h0M623.49 396.52h0M606.2 465.93h0M624.2 462.06h0M649.43 425.72h0M539.65 463.98h0M562.84 515.49h0M648.71 477.32h0" stroke="#2f7a8a" stroke-width="1" stroke-linecap="round" fill="none" opacity="0.6"/>
<path d="M637.11 421.04h0M591.22 438.62h0M572.83 437.48h0M590.27 473.06h0M530.71 458.49h0M544.23 513.03h0M600.01 464.83h0M568.86 479.63h0M620.84 505.58h0M603.82 424.26h0M610.12 396.39h0M625.32 428.95h0M622.07 406.76h0M606.03 411.47h0M532.21 423.5h0M639.05 439.36h0M596.2 490.37h0M656.15 422.91h0M618.74 489.29h0M631.87 434.04h0M589.83 489.56h0M560.41 451.69h0M610.77 498.11h0M559.48 474.5h0M555.97 409.92h0M590.18 472.27h0M611.64 510.41h0M549.02 457.35h0M590.57 422.88h0M648.17 408.27h0M561.69 395.13h0M612.1 473.53h0M556.83 507.07h0M610.94 415.6h0M651.33 498.37h0M568.7 499.85h0M544.55 434.18h0M582.52 511.29h0M566.72 438.99h0M554.68 494.07h0M551.55 497.66h0M572.26 459.84h0M642.76 423.87h0M596.97 470.77h0M603.43 441.74h0M612.41 429.95h0M547.8 391.14h0M607.12 462.92h0M632.63 409.91h0M615.95 447.57h0M596.49 495.6h0M595.71 445.33h0M612.36 408.78h0M642.26 455.71h0M532.98 451.15h0M651.83 514.31h0M583.5 423.71h0M650.63 426.12h0M529.76 421.38h0M589.34 475.54h0M536.21 432.46h0M623.16 433.74h0M550.51 480.32h0M584.85 478.27h0M591.13 493.18h0M594.79 513.83h0M634.41 481.65h0M591.93 467.42h0M576.97 399.69h0M643.82 492.54h0M628.33 499.12h0M599.9 516.3h0M589.68 514.55h0M538.02 438.06h0M602.56 493.94h0M595.93 490.36h0M576.59 475.98h0M632.23 466.23h0M530.14 473.43h0M527.42 428.46h0" stroke="#4f9a5a" stroke-width="0.5" stroke-linecap="round" fill="none" opacity="0.38"/>
<path d="M542.49 486.96h0M549.55 481.34h0M536.91 416.28h0M618.87 507.42h0M536.81 468.02h0M579.7 468.98h0M537.57 392.13h0M537.76 503.17h0M591.95 467.79h0M544.96 477.1h0M645.98 415.13h0M630.13 497.76h0M657.97 461.86h0M612.28 433.8h0M630.16 429.43h0M609.46 469.59h0M657.59 489.98h0M540.02 412.48h0M574.41 440.33h0M621.73 422.98h0M600.96 447.42h0M567.57 471.59h0M584.52 514.41h0M544.41 504.15h0M611.25 448.29h0M537.65 472.16h0M633.11 434.43h0M621.17 457.52h0M539.28 499.14h0M568.44 451h0M627.61 501.25h0M639.77 436.68h0M638.89 409.41h0M600 444.92h0M641.37 481.73h0M614.13 492.97h0M573.15 446.39h0M540.94 434.54h0M553.65 482.88h0M544.43 506.2h0M606.39 446.66h0M543.1 446.71h0M601.6 408.3h0M655.92 435.83h0M584.59 426.21h0M576.5 425.11h0M639.8 399.1h0M575.4 465.89h0" stroke="#4f9a5a" stroke-width="0.8" stroke-linecap="round" fill="none" opacity="0.46"/>
<path d="M590.5 431.2h0M591.11 397.94h0M567.84 445.27h0M628.3 444.64h0M582.05 473.07h0M563.81 459.88h0M553.03 468.38h0M598.34 473.06h0M642.52 490.98h0M657.49 419.63h0M652.94 446.49h0M575.64 447.78h0M648.64 511.21h0M633.34 428.26h0M543.04 415.87h0M615.86 479.18h0M536.04 390.46h0M658.35 432.91h0M532.89 449.11h0M540.27 493.5h0M597.07 467.76h0M649.41 405.85h0M555.71 489.93h0M607.31 445.68h0M574.27 468.67h0M651.72 510.47h0M648.13 514.26h0M544.73 393.58h0M636.52 421.39h0M596.08 449.48h0M655.54 446.21h0M545.13 415.93h0" stroke="#4f9a5a" stroke-width="1" stroke-linecap="round" fill="none" opacity="0.6"/>
<path d="M646.33 493.61h0M545.79 512.36h0M576.33 482.37h0M601.71 498.97h0M591.81 393.76h0M600.78 498.12h0M581.46 494.95h0M586.17 435.6h0M574.66 419.02h0M593.29 511.84h0M605.14 487.5h0M551 436.94h0M603.76 438.74h0M528.55 500.25h0M544.39 473.68h0M656.45 426.76h0M562.89 432.08h0M598.74 514.45h0M546.44 421.11h0M645.34 425.16h0M615.19 481.65h0M527.46 393.48h0M627.29 506.64h0M618.82 449.33h0M540.69 456.92h0M541.85 431.19h0M532.03 455.4h0M588.9 426.13h0M556.53 398.4h0M531.06 406.11h0M656.7 394.21h0M621.68 447.91h0M604.73 428.71h0M656.48 492.58h0M580.65 444.8h0M648.2 409.85h0M642.42 468.63h0M602.02 457.69h0M605.16 401.53h0M560.19 434.91h0M556.53 400.88h0M621.19 443.51h0M624.93 439.78h0M651.32 421.02h0M594.83 443.71h0M631.51 406.62h0M599.24 447.62h0M609.57 419.56h0M598.83 515.11h0M540.94 513.41h0M654.62 446.91h0M538.07 453.08h0M654.13 390.13h0M626.47 489.04h0M542.61 466.57h0M546.92 402.66h0M596.01 427.85h0M614.14 456.9h0M557.59 506.83h0M528.2 491.85h0M564.51 504.19h0M607.31 448.26h0M555.83 498.77h0M640.29 512.02h0M604.99 507.44h0M645.15 474.65h0M571.98 466.66h0M572.56 493.33h0M600.17 500.08h0M644.78 485.83h0M554.13 432.56h0M538.64 432.56h0M548.12 428.08h0M631.89 405.18h0M648.17 507.06h0M628.9 420.25h0M565.63 448.1h0M608.84 507.58h0M530.08 400.94h0M635.6 392.86h0" stroke="#5ab060" stroke-width="0.5" stroke-linecap="round" fill="none" opacity="0.38"/>
<path d="M645.01 413.66h0M655.88 449.81h0M607.15 494.78h0M635.74 442.67h0M587.97 490.15h0M561.13 428.69h0M642.02 502.02h0M636.31 433.67h0M572.52 403.24h0M636.97 396.16h0M551.52 393.06h0M587.58 516.44h0M536.68 422.01h0M562.7 479.07h0M574.32 412.09h0M618.43 504.34h0M549.12 398.02h0M581.02 508.69h0M535.22 407.54h0M612.35 486.7h0M586.87 395.72h0M599.89 402.66h0M537.12 397.21h0M650.71 403.05h0M589.93 494.28h0M553.82 439.53h0M631.85 461.7h0M552.96 458.16h0M658.31 493.97h0M654.07 392.99h0M535.07 453.84h0M529.07 512.21h0M565.84 459.8h0M642.86 444.03h0M628.14 409.63h0M585.96 482.26h0M589 413.54h0M640.44 435.43h0M647.5 429.95h0M636.29 405.76h0M616.22 510.86h0M609.99 442.59h0M656.46 512.72h0M635.61 418.26h0M539.14 467.85h0M545.03 397.68h0M600.48 509.93h0M563.04 494.27h0" stroke="#5ab060" stroke-width="0.8" stroke-linecap="round" fill="none" opacity="0.46"/>
<path d="M653.83 509.59h0M538.1 407.04h0M653.11 512.58h0M549.97 412.98h0M621.13 402.31h0M541.08 410.32h0M603.5 437.16h0M638.28 409.41h0M645.45 489.99h0M576.69 466.8h0M616.46 405.49h0M650.07 445.93h0M595.16 498.24h0M530.15 423.93h0M531.46 483.54h0M556.17 481.16h0M621.85 516.46h0M551.12 442.58h0M631.13 446.43h0M550.54 475.7h0M631.95 446.81h0M577.64 406.79h0M580.82 496.71h0M574.05 511.13h0M574.48 450.46h0M629.91 505.8h0M638.56 443.62h0M586.81 406.46h0M598.24 494h0M552.49 430.06h0M536.05 447.64h0M590.68 515.72h0" stroke="#5ab060" stroke-width="1" stroke-linecap="round" fill="none" opacity="0.6"/>
<path d="M615.59 506.58h0M553.76 445.6h0M619.8 399.41h0M602.55 469.44h0M530.95 415.81h0M630.59 410.56h0M611.33 443.52h0M578.66 501.21h0M579.59 501.69h0M635.4 460.42h0M540.77 432.38h0M653.07 423.52h0M605.09 415.51h0M623.78 477.35h0M644.52 465.39h0M541.93 491.09h0M603.23 509.8h0M595.77 431.19h0M585.72 461.3h0M619.33 470.31h0M640.82 458.06h0M554.36 499.09h0M621.01 410.08h0M588.04 498.08h0M603.33 405.5h0M641.34 482.84h0M553.35 478.16h0M641.06 463.1h0M652.19 458.32h0M529 473.74h0M636.65 506.37h0M626.79 509.63h0M633.1 450.17h0M535.35 411.28h0M533.88 507.53h0M633.66 505.1h0M629.64 447.59h0M601.6 393.24h0M548.48 440.83h0M534.46 430.52h0M595.69 410.5h0M550.78 400.87h0M587.57 496.31h0M586.27 479.45h0M621.64 492.08h0M632.15 453.57h0M533.47 411.42h0M564.01 432.81h0M606.21 453.24h0M565.33 411.29h0" stroke="#a8503c" stroke-width="0.5" stroke-linecap="round" fill="none" opacity="0.38"/>
<path d="M624.58 516.43h0M619.75 407.87h0M618.88 491.54h0M598.18 470.51h0M640.85 450.81h0M620.41 411.48h0M637.45 462.52h0M552.54 469.32h0M635.95 446.59h0M568.49 480.27h0M658.35 512.05h0M568.16 451.71h0M576.99 408.06h0M599.25 426.52h0M590.3 495.27h0M600.52 515.7h0M554.1 413.52h0M535.87 479.65h0M565.05 417.81h0M611.21 515.52h0M626.52 511.54h0M650.05 456.95h0M556.31 487.13h0M556.06 398.85h0M576.61 483.82h0M610.7 442.12h0M543.94 411.86h0M606.44 452.77h0M598.8 484.31h0M602.83 500.24h0" stroke="#a8503c" stroke-width="0.8" stroke-linecap="round" fill="none" opacity="0.46"/>
<path d="M648.44 455.92h0M574.83 454.02h0M560.26 412.27h0M622.19 446.06h0M530.34 439.89h0M569.69 397.71h0M530.36 467.94h0M633.36 496.53h0M605.98 418.66h0M611.36 424.2h0M557.76 431.75h0M545.17 404.14h0M657.16 400.71h0M655.2 477.85h0M625.06 404.13h0M616.92 415.42h0M594.25 447.6h0M646.08 402.74h0M528.36 464.18h0M596.5 472.35h0" stroke="#a8503c" stroke-width="1" stroke-linecap="round" fill="none" opacity="0.6"/>
<path d="M538.77 437.08h0M621.27 465.17h0M569.02 391.05h0M533.21 503.3h0M563.45 399.03h0M565.79 416.81h0M598.92 396.23h0M598.47 472.13h0M597.96 465.8h0M559.19 439.7h0M625.86 426.23h0M636.1 414.1h0M590.28 503.94h0M614.72 425.03h0M575.54 425.81h0M626.28 436.35h0M637.6 478.34h0M636.73 457.37h0M564.51 477.31h0M584.75 396.48h0M586.62 413.68h0M537.05 423.74h0M653.07 474.97h0M584.48 463.98h0M578.34 461.55h0M561.69 498.58h0M631.88 446.43h0M600.57 437.31h0M628.84 496.07h0M649.22 403.61h0M646.84 417.74h0M542.01 442.51h0M612.52 404.64h0M612.12 512.83h0M629.93 495.11h0M548.25 432.77h0M559.9 437h0M643.77 516.53h0M562.2 461.34h0M607.43 513.41h0M586.58 404.97h0M540.45 408.47h0M590.05 401.71h0M618.54 414.57h0M532.97 481.46h0M588.31 485.97h0M603.36 438.47h0M536.69 498.38h0M616.82 423.21h0M538.21 469.99h0" stroke="#c06a4a" stroke-width="0.5" stroke-linecap="round" fill="none" opacity="0.38"/>
<path d="M649.8 484.36h0M648.8 516.18h0M544.03 413.4h0M588.74 404.15h0M591.1 493.62h0M561.72 493.84h0M560.9 493.65h0M537.43 405.12h0M533.47 463.63h0M530.36 478.15h0M582.38 504.91h0M578.08 495.92h0M626.38 437.55h0M629.93 466.17h0M605.45 444.18h0M547.67 456.38h0M595.66 444.89h0M656.75 411.75h0M647.29 460.93h0M540.37 461.46h0M552.12 452.96h0M590.52 488.1h0M647.1 399.11h0M642.79 509.05h0M547.31 400.32h0M588.46 394.05h0M543.82 454.86h0M554.92 466.26h0M554.77 474.61h0M609.54 399.61h0" stroke="#c06a4a" stroke-width="0.8" stroke-linecap="round" fill="none" opacity="0.46"/>
<path d="M617.49 507.17h0M658.21 395.34h0M617.96 430.54h0M582.27 448.4h0M533.83 469.93h0M544.53 498.67h0M540.78 469.08h0M600.24 394.09h0M542.4 452.99h0M578.76 409.69h0M540.73 419.41h0M634.5 407.39h0M627 404.5h0M634.89 487.91h0M643.44 439.56h0M655.69 442.61h0M610.43 495.22h0M547.33 395.77h0M618.76 418.83h0M556.25 452.69h0" stroke="#c06a4a" stroke-width="1" stroke-linecap="round" fill="none" opacity="0.6"/>
<path d="M548.24 500.31h0M546.77 497.77h0M550.63 478.1h0M545.27 484.38h0M552.63 488.72h0M544.82 493.37h0M543.42 498.96h0M537.57 474.65h0M542.34 488.32h0M547.21 490.81h0M546.61 491.49h0M555.81 490.68h0M552.86 493.05h0M542.68 486.4h0M546.04 482.82h0M535.58 498.39h0M550.51 491.32h0M545.08 522.79h0M543 501.36h0M541.25 491.82h0M541.37 495.97h0M535.97 499.75h0M547.17 473.34h0M550.32 491.12h0M547.65 480.4h0" stroke="#a85a40" stroke-width="0.7" stroke-linecap="round" fill="none" opacity="0.7"/>
<path d="M541.12 486.6h0M552.78 488.45h0M548.62 492.39h0M543.98 497.74h0M544.77 484.2h0M543.68 501.38h0M540.89 494.76h0M537.63 494.53h0M550.19 494.8h0M537.26 491.96h0M537.86 485.96h0M533.9 502.04h0M546.79 483.4h0M536.2 487.03h0M545.06 501.2h0M538.88 494.07h0M552.72 497.41h0M556.48 485.19h0M536.97 490.54h0M544.4 496.51h0M549.29 483.94h0M539.65 486.05h0M551.03 492.8h0M537.17 487.72h0M540.91 475.76h0" stroke="#a85a40" stroke-width="1.15" stroke-linecap="round" fill="none" opacity="0.75"/>
<path d="M591.25 406.28h0M582.5 405.02h0M563.2 411.18h0M583.74 399.92h0M560.11 401.46h0M583.51 404.79h0M570.99 404.47h0M571.07 407.78h0M578.47 406.34h0M563.88 409.34h0M579.21 400.47h0M577.59 396.31h0M579.33 406.01h0M577.96 402.09h0M564.73 399.27h0M580 395.88h0M576.21 401.53h0M570.4 393.5h0M561.26 393.14h0M583.73 406.77h0M582.32 403.15h0M569.3 407.46h0M566.5 407.76h0M566.29 403.87h0M550.96 403.99h0M569.59 407.08h0M587.63 400.07h0M579.82 393.26h0M582.47 403.56h0M590.36 404.04h0M568.72 399.8h0M588.89 398.92h0M561.55 401.04h0M568.45 405.56h0M569.58 411.76h0" stroke="#4a8ab0" stroke-width="0.7" stroke-linecap="round" fill="none" opacity="0.7"/>
<path d="M561.86 404.21h0M560.76 394.3h0M577.25 405.5h0M574.84 400.53h0M563.2 401.51h0M567.13 397.74h0M563.02 408.03h0M591.56 400.18h0M558.4 406.19h0M568.3 415h0M586.94 404.12h0M576.24 393.03h0M562.42 402.46h0M560.85 398.75h0M564.1 409.11h0M573.89 406.03h0M579.54 405.47h0M569.58 405.48h0M576.95 396.53h0M569.31 406.09h0M556.5 409.13h0M581.89 397.44h0M559.77 410.28h0M564.89 403.77h0M586.07 399.63h0M577.54 404.66h0M556.94 405.41h0M562.63 406.34h0M582.93 409.14h0M566.04 406.56h0M577.2 410.5h0M579.89 398.58h0M563.98 400.06h0M570.12 396.52h0M599.94 404.84h0" stroke="#4a8ab0" stroke-width="1.15" stroke-linecap="round" fill="none" opacity="0.75"/>
<path d="M536.41 446.17h0M536.6 427.66h0M533.48 457.08h0M545.93 450.43h0M533.81 428.32h0M526.92 450.03h0M537.57 446.56h0M541.75 451.16h0M538.58 453.86h0M544.08 454.63h0M546.78 429.65h0M534.44 456.29h0M531.31 443.61h0M537.29 434.4h0M542.33 447.17h0M545.55 447.23h0M544.39 443.16h0M535.66 432.69h0M540.98 444.85h0M533.95 441.72h0M534.62 448h0M538.89 436.29h0M536.88 467.52h0M541.19 446.79h0M544.66 438.87h0M538.8 451.6h0M533.59 427.6h0M549.93 445.58h0M538.02 441.39h0M539.25 434.53h0" stroke="#3a5aa8" stroke-width="0.7" stroke-linecap="round" fill="none" opacity="0.7"/>
<path d="M536.93 445.52h0M544.02 447.14h0M535.57 439.07h0M539.84 445.15h0M546.19 427.95h0M545.98 456.89h0M533.99 438.24h0M532.19 451.34h0M545.54 437.77h0M532.54 448.07h0M540.83 458.36h0M542.53 434.01h0M533.54 439h0M547.72 443.9h0M530.68 444.22h0M539.33 438.05h0M535.18 439.47h0M538.38 436.65h0M545.47 442.05h0M531.62 443.49h0M534.59 441.65h0M543.42 447.83h0M536.46 457.94h0M538.83 453.26h0M542.83 444.6h0M537.97 439.96h0M544.53 454.81h0M529.74 453.71h0M543.8 447.72h0M535.1 441.53h0" stroke="#3a5aa8" stroke-width="1.15" stroke-linecap="round" fill="none" opacity="0.75"/>
<path d="M597.88 445.55h0M606.78 455.67h0M614.61 454.92h0M601.95 445.96h0M597.16 460.84h0M605.5 471.85h0M603.82 447.64h0M582.42 433.66h0M615.17 452.78h0M612.9 453.45h0M611.88 459.73h0M606.89 467.62h0M595.4 454.82h0M584.29 448.36h0M598.44 435.51h0M600.23 461.85h0M592.77 426.2h0M580.5 447.57h0M591.95 461.24h0M592.83 462.68h0M597.04 460.59h0M606.31 452.76h0M609.25 445.14h0M610.96 450.28h0M579.18 467.98h0" stroke="#3f7a5a" stroke-width="0.7" stroke-linecap="round" fill="none" opacity="0.7"/>
<path d="M578.77 457.11h0M602.4 442.23h0M600.63 453.34h0M612.77 442.1h0M608.43 424.27h0M613.9 442.34h0M615.07 460.43h0M593.11 452.46h0M613.72 453.07h0M578.71 466.69h0M633.78 451.06h0M587.2 469.63h0M589.54 458.47h0M596.14 450.63h0M597.54 448.83h0M578.88 443.26h0M620.1 457.35h0M586.13 451.48h0M602.63 443.47h0M605.51 461.64h0M581.55 465.85h0M604.07 461.69h0M603.12 441.05h0M595.54 456.8h0M589.01 461.88h0" stroke="#3f7a5a" stroke-width="1.15" stroke-linecap="round" fill="none" opacity="0.75"/>
<radialGradient id="g4_5720_4022" cx="0.42" cy="0.4" r="0.68"><stop offset="0" stop-color="#5c94b4"/><stop offset="0.7" stop-color="#3a6e8e"/><stop offset="1" stop-color="#3a6e8e" stop-opacity="0.3"/></radialGradient>
<g opacity="0.85" filter="url(#mottle)">
<ellipse cx="572" cy="402.2" rx="12" ry="8.6" fill="url(#g4_5720_4022)"/>
<ellipse cx="577.05" cy="404.84" rx="5.99" ry="4.3" fill="#3a6e8e" opacity="0.8"/>
<ellipse cx="573.78" cy="407.38" rx="4.8" ry="3.44" fill="#3a6e8e" opacity="0.8"/>
<ellipse cx="566.41" cy="405.81" rx="4.72" ry="3.38" fill="#3a6e8e" opacity="0.8"/>
<ellipse cx="565.24" cy="403.4" rx="5.27" ry="3.78" fill="#3a6e8e" opacity="0.8"/>
<ellipse cx="568.47" cy="396.97" rx="4.13" ry="2.96" fill="#3a6e8e" opacity="0.8"/>
<ellipse cx="575.85" cy="396.77" rx="3.75" ry="2.68" fill="#3a6e8e" opacity="0.8"/>
<ellipse cx="577.69" cy="398.45" rx="4.5" ry="3.23" fill="#3a6e8e" opacity="0.8"/>
</g>
<path d="M578.19 399.18h0M569 405.35h0M564.09 403.38h0M563.67 397.98h0M578.52 406.79h0M580.18 400.78h0M569.59 395.47h0M576.61 399.34h0M562.53 404.27h0M575.9 406.57h0M578.66 401.16h0M565.57 404.26h0M562.6 403.03h0M577.67 405.53h0M562.53 405.58h0M575.58 398.88h0M567.51 409.2h0M581 402.7h0M577.8 402.63h0M566.61 397.14h0M568.65 399.44h0M563.86 406.34h0M570.65 407.79h0M562.66 399.63h0M575.22 395.72h0M567.16 407.86h0M574.33 400.89h0M570.88 396.99h0M565.5 406.29h0M575.7 395.33h0M575.04 395.05h0M577.01 398h0M568.31 395.29h0M569.57 401.11h0M564.79 405.96h0M575.57 402.54h0M576.93 396.86h0M581.48 402.98h0M566.89 399.13h0M569.99 400.33h0M577.71 407.14h0M568.48 396.66h0M567.59 403.53h0M579.2 407.63h0M570.26 407.04h0M571.4 402.17h0" stroke="#5c94b4" stroke-width="1.1" stroke-linecap="round" fill="none" opacity="0.55"/>
<path d="M569.91 405.3h0M580.26 406.74h0M574.66 405.94h0M570.81 409.01h0M577.8 397.63h0M566.33 397.79h0M580.65 403.37h0M581.72 400.13h0M575.29 400.76h0M569.56 394.69h0M572.22 406.36h0M577.26 401.67h0M577.1 407.43h0M568.22 407.67h0M571.88 405.91h0M565.95 399.5h0M568.03 397.18h0M572.24 405.7h0M574.64 403.23h0M570.51 397.88h0M573.89 402.23h0M577.27 397.37h0M574.18 408.9h0M573.98 401.07h0M575.6 408.01h0M572.87 398.26h0M565.79 402.72h0M564.68 406.95h0M564.39 399.34h0M580.62 398.12h0M571.03 400.94h0M564.74 407.77h0M570.12 402.41h0M568.16 397.14h0M570.83 396.49h0M570.66 406.84h0M576.71 405.9h0M568.08 402.05h0M580.15 404.15h0M565.84 397.02h0M568.88 402.68h0M566.17 401.65h0M576.18 400.19h0M575.15 396.41h0M569.64 407.93h0M577.14 403.84h0" stroke="#3a6e8e" stroke-width="1.1" stroke-linecap="round" fill="none" opacity="0.5"/>
<path d="M571.42 400.7h0M562.41 399.56h0M581.22 400.64h0M574.81 398.34h0M568.51 405.26h0M574.88 403.08h0M576.74 403.44h0M568.75 406.35h0M562.19 403.01h0M567.08 406.16h0M574.4 397.31h0M570.21 394.69h0M576.54 399.73h0M577.6 395.93h0M572.41 405.14h0M570.84 395.95h0M574.95 409.57h0M561.56 403.86h0M562.83 402.2h0M578.34 407.47h0M567.27 403.49h0M564.16 405.02h0M579.18 397.82h0M580.17 398.84h0M568.85 404.49h0M577.96 399.4h0M580.54 400.49h0M574.07 396.46h0M574.32 407.34h0M570.16 399.99h0M565.3 407.18h0M572.26 403.05h0M573.23 407.23h0M570.47 407.69h0M571.11 407.25h0M580.57 398.73h0M572.39 397.07h0M562.88 399.92h0M573.73 406.65h0M576.75 406.16h0M568.76 408.11h0M566.31 406.94h0M564.64 399.46h0M565.69 404.34h0M578.14 406.6h0M569.48 405.91h0" stroke="#10283c" stroke-width="1.1" stroke-linecap="round" fill="none" opacity="0.35"/>
<radialGradient id="g4_5442_4320" cx="0.42" cy="0.4" r="0.68"><stop offset="0" stop-color="#6a92ea"/><stop offset="0.7" stop-color="#446cd0"/><stop offset="1" stop-color="#446cd0" stop-opacity="0.3"/></radialGradient>
<g opacity="0.97" filter="url(#mottle)">
<ellipse cx="544.2" cy="432" rx="11.2" ry="12" fill="url(#g4_5442_4320)"/>
<ellipse cx="548.93" cy="437.72" rx="4.3" ry="4.6" fill="#446cd0" opacity="0.8"/>
<ellipse cx="546.93" cy="438.52" rx="4.75" ry="5.09" fill="#446cd0" opacity="0.8"/>
<ellipse cx="538.56" cy="436.79" rx="4.22" ry="4.52" fill="#446cd0" opacity="0.8"/>
<ellipse cx="538.36" cy="427.99" rx="4.49" ry="4.81" fill="#446cd0" opacity="0.8"/>
<ellipse cx="546.54" cy="424.48" rx="4.03" ry="4.32" fill="#446cd0" opacity="0.8"/>
<ellipse cx="550.13" cy="430.17" rx="5.25" ry="5.63" fill="#446cd0" opacity="0.8"/>
</g>
<path d="M544.14 433.35h0M548.33 438.51h0M548.81 426.53h0M544.74 440.27h0M546.59 421.93h0M540.05 430.39h0M537.5 429.4h0M544.98 435.31h0M547.98 427.94h0M549.44 426.12h0M553.78 432.16h0M548.47 431.45h0M543.47 429.92h0M547.18 429.5h0M537.73 425.73h0M536.16 426.64h0M548.53 441.59h0M542.25 429.07h0M548.69 433.19h0M548.79 436.53h0M548.11 436.1h0M549.31 424.8h0M543.49 435.66h0M548.93 435.27h0M547.66 433.61h0M549.96 431.73h0M545.36 429.77h0M545.48 434.02h0M534.99 429.87h0M547.82 426.75h0M546.03 425.54h0M538.86 431.2h0M540.27 439.55h0M540.79 435.13h0M543.16 433.83h0M537.27 439.22h0M539.33 429.97h0M536.96 433.35h0M548.76 438.29h0M543.75 435.53h0M545.06 438.23h0M543.75 429.66h0M536.57 432.85h0M546.37 428.67h0M545.31 425.83h0M549.99 438.32h0M541.88 421.53h0M543.87 441.05h0M551.04 429.11h0M542.96 428.45h0M542.6 438.57h0M545.53 435.42h0M538.76 438.4h0M536.94 431.73h0M535.51 431.06h0M543.73 425.81h0M547.15 434.46h0M540.15 437.48h0M543.2 428.77h0M546.16 441.07h0M547.26 427.52h0" stroke="#6a92ea" stroke-width="1.1" stroke-linecap="round" fill="none" opacity="0.55"/>
<path d="M537.16 429.28h0M543.97 439.6h0M553.35 435.63h0M544.54 442.27h0M549.22 427.65h0M546.89 437.03h0M546.35 430.88h0M543.74 437.54h0M537.95 440.35h0M535.24 435.85h0M543.7 431.25h0M540.57 436.88h0M546.06 436.83h0M546.03 441.98h0M537.96 429.29h0M542.01 440.23h0M543.27 433.38h0M548.89 440.31h0M540.99 423.68h0M536.98 435.51h0M552.14 433.19h0M548.28 424.72h0M535.9 430.7h0M545.52 425.22h0M550.32 437.59h0M538.25 423.69h0M551.75 433.33h0M545.97 430.75h0M540.71 424.17h0M547.59 424.94h0M540.43 423.3h0M544.44 433.18h0M543.2 427.77h0M546.66 434.42h0M551.62 425.68h0M535.69 433.44h0M543.35 435.58h0M540.2 428.3h0M552.33 434.92h0M552.38 432.18h0M546.32 437.31h0M538.63 439.14h0M542.42 429.62h0M541.19 439.26h0M550.63 430.15h0M547.62 422.94h0M544.41 426.63h0M549.72 439.58h0M545.41 439.47h0M537.3 436.05h0M548.67 430.29h0M552.17 436.16h0M545.31 440h0M543.11 441.96h0M538.05 424.79h0M541.43 435.83h0M542.1 427.93h0M553.4 436.25h0M545.99 429.29h0M541.74 433.58h0M551.41 435.14h0" stroke="#446cd0" stroke-width="1.1" stroke-linecap="round" fill="none" opacity="0.5"/>
<path d="M546.95 421.84h0M549.39 428.14h0M552.24 433.77h0M540.66 432.31h0M544.51 436.36h0M549.41 429.48h0M551.73 430.81h0M542.56 422.65h0M545.64 441.82h0M546.96 430.59h0M542.16 437.1h0M537.06 426.26h0M548.99 426.56h0M552.28 431.55h0M543.07 424.9h0M538.58 426.32h0M546.46 424.65h0M541.71 437.02h0M540.97 436.43h0M534.79 428.33h0M549.36 431.75h0M537.78 436.38h0M542.76 434.43h0M546.53 441.75h0M542.06 432.7h0M540.1 428.99h0M551.04 426.39h0M549.78 432.98h0M548.79 435.19h0M547.1 422.66h0M549.41 427.17h0M537.39 428.31h0M543.01 442.47h0M548.78 441.22h0M546.4 441.24h0M541.99 432.26h0M546.01 424.1h0M552.02 438.8h0M549.27 425.38h0M552.28 437.26h0M553.71 434.75h0M545.53 422.5h0M551.13 427.49h0M539.39 436.87h0M538.34 436.53h0M540.99 424.08h0M535.44 432.71h0M553.7 433.45h0M544.24 437.98h0M543.31 424.48h0M542.31 434.57h0M542.65 424.78h0M541.75 438.36h0M535.33 427.23h0M540.29 427.52h0M548.02 436.04h0M546.02 436.31h0M544.13 425.33h0M542.49 435.95h0M543.3 421.83h0M542.61 426.78h0" stroke="#10283c" stroke-width="1.1" stroke-linecap="round" fill="none" opacity="0.35"/>
<radialGradient id="g4_5348_4510" cx="0.42" cy="0.4" r="0.68"><stop offset="0" stop-color="#4662b0"/><stop offset="0.7" stop-color="#2c4282"/><stop offset="1" stop-color="#2c4282" stop-opacity="0.3"/></radialGradient>
<g opacity="0.75" filter="url(#mottle)">
<ellipse cx="534.8" cy="451" rx="9" ry="10" fill="url(#g4_5348_4510)"/>
<ellipse cx="540.5" cy="453.9" rx="2.91" ry="3.23" fill="#2c4282" opacity="0.8"/>
<ellipse cx="536.36" cy="457.72" rx="2.93" ry="3.25" fill="#2c4282" opacity="0.8"/>
<ellipse cx="530.39" cy="454.2" rx="3.92" ry="4.35" fill="#2c4282" opacity="0.8"/>
<ellipse cx="530.29" cy="448.31" rx="4.06" ry="4.51" fill="#2c4282" opacity="0.8"/>
<ellipse cx="536.22" cy="445.59" rx="4.11" ry="4.56" fill="#2c4282" opacity="0.8"/>
<ellipse cx="539.06" cy="447.43" rx="3.85" ry="4.28" fill="#2c4282" opacity="0.8"/>
</g>
<path d="M529.44 446.43h0M535.75 442.83h0M527.83 453.05h0M527.69 453.48h0M527.75 453.75h0M540.2 457.39h0M542.38 454.03h0M534.8 448.19h0M533.58 455.47h0M531.25 452.76h0M537.62 456.69h0M534.12 445.79h0M536.48 451.76h0M542.77 451.81h0M533.55 446.86h0M535.54 450.36h0M536.02 450.55h0M535.49 453.25h0M535.31 446.83h0M530.84 454.32h0M528.48 446.9h0M532.29 449.26h0M540.97 453.85h0M529.43 453.21h0M537.82 453.96h0M541.63 446.48h0M532.17 456.06h0M540.45 446.02h0M531.68 457.73h0M534.04 454.16h0M539.02 448.1h0M542.16 449.04h0M527.3 448.83h0M529.83 454.18h0M535.21 451.7h0M532.11 452.49h0M530.87 455.5h0M530.73 457.39h0M536.1 444.93h0M527 448.83h0" stroke="#4662b0" stroke-width="1.1" stroke-linecap="round" fill="none" opacity="0.55"/>
<path d="M529.34 450.99h0M534.51 449.33h0M534.38 454.99h0M533.61 450.91h0M535.6 443.17h0M527.27 453.01h0M529.84 451.54h0M538.96 454.41h0M530.63 457.05h0M536.06 448.4h0M528.94 450.25h0M530.56 454.78h0M539.78 449.81h0M529.7 454.67h0M539.91 446.82h0M539.64 450.36h0M536.44 443.03h0M541.79 446.5h0M530.66 450h0M528.42 449.51h0M540.27 455.49h0M534.3 446.41h0M532.63 458.11h0M542.51 451.26h0M534.17 444.57h0M530.41 449.46h0M536.31 446.93h0M534.57 450.37h0M542.38 452.94h0M537.1 451.08h0M534.86 444.42h0M539.63 457.43h0M539.02 454.83h0M531.11 444.02h0M532.52 445.16h0M537.64 454.08h0M529.39 448.76h0M532.49 459.54h0M535.11 442.34h0M536.19 459.6h0" stroke="#2c4282" stroke-width="1.1" stroke-linecap="round" fill="none" opacity="0.5"/>
<path d="M540.43 449.03h0M542.15 447.54h0M538.37 449.11h0M535.27 452.98h0M537.11 448.85h0M533.72 450.95h0M536.12 442.74h0M538.38 448.64h0M537.19 458.05h0M532.04 450.34h0M530.99 447.31h0M533.12 443.58h0M532.35 453.88h0M542.37 453.04h0M541.15 451.13h0M531.29 443.19h0M530.25 443.63h0M541.14 449.57h0M532.52 451.01h0M533.65 452.99h0M530.12 449.02h0M541.43 446.86h0M531.87 450.21h0M527.7 449.62h0M537.6 447.73h0M541.57 451.93h0M534.25 452.82h0M533.58 457.05h0M537.68 458.08h0M532.2 445.09h0M530.66 453.92h0M530.26 451.23h0M533.95 446.52h0M529.31 453.02h0M532.47 452.04h0M536.15 446.52h0M533.41 458.9h0M538.75 445.42h0M535.91 449.33h0M541.5 455.26h0" stroke="#10283c" stroke-width="1.1" stroke-linecap="round" fill="none" opacity="0.35"/>
<radialGradient id="g4_5310_4196" cx="0.42" cy="0.4" r="0.68"><stop offset="0" stop-color="#6a9eb0"/><stop offset="0.7" stop-color="#44788a"/><stop offset="1" stop-color="#44788a" stop-opacity="0.3"/></radialGradient>
<g opacity="0.85" filter="url(#mottle)">
<ellipse cx="531" cy="419.6" rx="5" ry="5" fill="url(#g4_5310_4196)"/>
<ellipse cx="532.76" cy="422.41" rx="1.78" ry="1.78" fill="#44788a" opacity="0.8"/>
<ellipse cx="528.21" cy="420.16" rx="2.26" ry="2.26" fill="#44788a" opacity="0.8"/>
<ellipse cx="529.86" cy="416.59" rx="1.89" ry="1.89" fill="#44788a" opacity="0.8"/>
<ellipse cx="534.22" cy="418.12" rx="1.55" ry="1.55" fill="#44788a" opacity="0.8"/>
</g>
<path d="M527.44 422.22h0M532.51 419.51h0M530.72 421.99h0M533.04 417.23h0M535.01 419.03h0M532.78 421.99h0M531.67 421.34h0M530.45 422.94h0M535.06 419.22h0M529.21 421.81h0M528.96 420.79h0" stroke="#6a9eb0" stroke-width="1.1" stroke-linecap="round" fill="none" opacity="0.55"/>
<path d="M530.08 416.9h0M529.1 420.95h0M531.66 423.98h0M535.41 420.25h0M529.76 416.35h0M529.51 416.06h0M531.06 420.72h0M534.36 418.97h0M531.49 415.39h0M531.1 420.65h0M533.72 417.03h0" stroke="#44788a" stroke-width="1.1" stroke-linecap="round" fill="none" opacity="0.5"/>
<path d="M529.6 419.9h0M531.15 419h0M531.97 415.34h0M529.22 421.45h0M531.47 418.29h0M531.11 423.75h0M530.19 423.1h0M527.86 417.56h0M531.49 422.07h0M527.91 422.71h0M533.35 422.47h0" stroke="#10283c" stroke-width="1.1" stroke-linecap="round" fill="none" opacity="0.35"/>
<radialGradient id="g4_5765_4389" cx="0.42" cy="0.4" r="0.68"><stop offset="0" stop-color="#88d4b0"/><stop offset="0.7" stop-color="#52a284"/><stop offset="1" stop-color="#52a284" stop-opacity="0.3"/></radialGradient>
<g opacity="0.95" filter="url(#mottle)">
<ellipse cx="576.5" cy="438.9" rx="6.4" ry="6.8" fill="url(#g4_5765_4389)"/>
<ellipse cx="578.63" cy="441.66" rx="3.17" ry="3.37" fill="#52a284" opacity="0.8"/>
<ellipse cx="577.19" cy="443.58" rx="2.07" ry="2.2" fill="#52a284" opacity="0.8"/>
<ellipse cx="572.92" cy="438.84" rx="2.95" ry="3.13" fill="#52a284" opacity="0.8"/>
<ellipse cx="575.69" cy="435.06" rx="2.83" ry="3" fill="#52a284" opacity="0.8"/>
<ellipse cx="579.04" cy="436.37" rx="3.04" ry="3.23" fill="#52a284" opacity="0.8"/>
</g>
<path d="M571.88 438.91h0M580.97 440.07h0M578.31 440.65h0M579.12 437.76h0M580.92 435.51h0M579.31 442.73h0M578.14 439.29h0M576.3 438.45h0M573.89 433.78h0M576.86 444.86h0M575.96 438.07h0M576.19 442.09h0M577.24 442.9h0M579.71 442.42h0M576.32 435.05h0M580.4 441.41h0M574.87 441.67h0M575.94 433.79h0M580.75 441.61h0" stroke="#88d4b0" stroke-width="1.1" stroke-linecap="round" fill="none" opacity="0.55"/>
<path d="M580.41 436.47h0M575.49 441.76h0M573.5 441.49h0M571.36 436.81h0M579.78 441.98h0M573.44 435.53h0M573.83 433.78h0M575.92 439.06h0M572.79 438.15h0M581.14 441.45h0M576.25 439.07h0M573.08 436.37h0M575.36 443.73h0M573.99 444.09h0M576.98 442.87h0M572.89 438.56h0M572.52 436.55h0M577.74 435.48h0M577.26 435.21h0" stroke="#52a284" stroke-width="1.1" stroke-linecap="round" fill="none" opacity="0.5"/>
<path d="M575.54 439.34h0M572.2 441.44h0M578.15 434.88h0M580.31 436.47h0M572.56 439.31h0M574.49 436.1h0M577.68 444.24h0M579.7 443.32h0M573.88 433.84h0M576.29 435.8h0M573.65 435.55h0M574.13 434.37h0M572.43 439.91h0M575.92 442.11h0M580.14 439.89h0M576.21 433.33h0M574.72 435.89h0M581.35 440.92h0M580.89 437.25h0" stroke="#10283c" stroke-width="1.1" stroke-linecap="round" fill="none" opacity="0.35"/>
<radialGradient id="g4_6018_4282" cx="0.42" cy="0.4" r="0.68"><stop offset="0" stop-color="#4f8a98"/><stop offset="0.7" stop-color="#2f6270"/><stop offset="1" stop-color="#2f6270" stop-opacity="0.3"/></radialGradient>
<g opacity="0.85" filter="url(#mottle)">
<ellipse cx="601.8" cy="428.2" rx="7" ry="6.6" fill="url(#g4_6018_4282)"/>
<ellipse cx="604.78" cy="431.98" rx="2.14" ry="2.02" fill="#2f6270" opacity="0.8"/>
<ellipse cx="599.27" cy="431.36" rx="2.94" ry="2.77" fill="#2f6270" opacity="0.8"/>
<ellipse cx="597.84" cy="428.94" rx="3.1" ry="2.92" fill="#2f6270" opacity="0.8"/>
<ellipse cx="598.86" cy="426.05" rx="3.42" ry="3.22" fill="#2f6270" opacity="0.8"/>
<ellipse cx="603.12" cy="424.72" rx="3.22" ry="3.03" fill="#2f6270" opacity="0.8"/>
</g>
<path d="M607.32 430.84h0M605.99 426.85h0M602.11 424.4h0M603.13 433h0M596.68 428.81h0M595.77 428.72h0M599.38 430.01h0M603.35 423.43h0M600.57 428.02h0M602.15 430.94h0M607.76 426.94h0M602.85 431.76h0M601.48 430.33h0M603.93 426.26h0M602.11 424.15h0M596.02 428.38h0M599.47 429.43h0M598.72 433.01h0M603 430.6h0M602.2 430.17h0" stroke="#4f8a98" stroke-width="1.1" stroke-linecap="round" fill="none" opacity="0.55"/>
<path d="M601.2 425.92h0M599.71 430.47h0M599.61 430.36h0M605.27 427.63h0M605.72 427.06h0M603.02 423.36h0M604.8 428.36h0M607.02 430.96h0M596.05 427.86h0M601.37 433.66h0M605.59 430.43h0M599.79 423.37h0M599.3 430.54h0M601.67 422.41h0M601.4 428.93h0M603.29 432.39h0M599.52 431.29h0M603.32 430.86h0M598.5 425.73h0M601.86 428.88h0" stroke="#2f6270" stroke-width="1.1" stroke-linecap="round" fill="none" opacity="0.5"/>
<path d="M597.6 430.44h0M601.17 433.19h0M600.5 426.4h0M598.64 429.99h0M596.46 425.21h0M601.19 429.23h0M596.06 426.51h0M602.55 428.61h0M596.92 431.3h0M600.42 425.03h0M605.23 426.27h0M605.43 428.99h0M603.1 428.71h0M599.86 431.66h0M596.26 430.73h0M596.42 427.81h0M607.75 428.79h0M599.93 432.89h0M605.17 431.26h0M604.97 432.72h0" stroke="#10283c" stroke-width="1.1" stroke-linecap="round" fill="none" opacity="0.35"/>
<radialGradient id="g4_6452_4414" cx="0.42" cy="0.4" r="0.68"><stop offset="0" stop-color="#86d8ac"/><stop offset="0.7" stop-color="#4fa898"/><stop offset="1" stop-color="#4fa898" stop-opacity="0.3"/></radialGradient>
<g opacity="0.95" filter="url(#mottle)">
<ellipse cx="645.2" cy="441.4" rx="10.4" ry="10.8" fill="url(#g4_6452_4414)"/>
<ellipse cx="650.28" cy="443.55" rx="5.12" ry="5.32" fill="#4fa898" opacity="0.8"/>
<ellipse cx="643.45" cy="448.41" rx="3.63" ry="3.77" fill="#4fa898" opacity="0.8"/>
<ellipse cx="641.08" cy="445.78" rx="4.72" ry="4.9" fill="#4fa898" opacity="0.8"/>
<ellipse cx="638.52" cy="439.29" rx="3.62" ry="3.76" fill="#4fa898" opacity="0.8"/>
<ellipse cx="642.46" cy="436.18" rx="4.88" ry="5.07" fill="#4fa898" opacity="0.8"/>
<ellipse cx="651.6" cy="438.55" rx="3.65" ry="3.79" fill="#4fa898" opacity="0.8"/>
</g>
<path d="M649.52 441.12h0M644.84 447.29h0M645.75 442.5h0M646.29 450.46h0M647.62 447.48h0M646.02 439.19h0M637.32 438.58h0M652.18 446.58h0M642 436.54h0M651.75 437.8h0M652.16 436.27h0M644.52 445.14h0M648.41 442.29h0M652.21 445.84h0M647.25 448.95h0M648.77 441.84h0M648.35 443.69h0M638.71 442.11h0M647.46 450.55h0M646.88 438.27h0M641.22 437.13h0M644.13 437.13h0M644.19 445.24h0M639.83 438.52h0M638.37 446.85h0M647.54 439.57h0M651.26 445.41h0M643.58 444.77h0M639.29 435.62h0M641.09 448.89h0M650.84 448.24h0M639.62 436.9h0M643.67 434.25h0M642.28 444.77h0M639.11 437.25h0M647.4 436.62h0M641.17 441.74h0M637.35 440.17h0M644.67 445.46h0M647.45 436.37h0M641.15 447.6h0M649.07 433.43h0M639.8 434.3h0M649.62 444.21h0M646.69 435.76h0M642.13 450.53h0M642.08 445.54h0M651.31 443.48h0M648.86 450.23h0M650.14 436.95h0M640.73 442.22h0" stroke="#86d8ac" stroke-width="1.1" stroke-linecap="round" fill="none" opacity="0.55"/>
<path d="M645.71 441.16h0M648.25 441.68h0M645.27 445.99h0M647.56 437.63h0M641.85 434.49h0M645.03 440.3h0M650.81 438.11h0M652.09 445.97h0M642.41 436.45h0M644.47 434.96h0M638.97 440.29h0M647.23 432.84h0M639.68 448.68h0M648.68 434.13h0M643.29 435.31h0M638.02 437.08h0M644.74 434.97h0M652.03 442.37h0M642.92 446.47h0M641.31 446.62h0M636.84 440.6h0M644.85 435.3h0M648.97 438.11h0M640.07 435.23h0M638.32 445.5h0M652.13 437.42h0M642.36 442.83h0M643.38 434.1h0M643.32 440.98h0M648.31 442.07h0M653.8 445.15h0M637.24 445.38h0M637.89 446.08h0M649.18 442.32h0M644.7 434.14h0M644.41 444.15h0M649.94 436.09h0M638.67 439.5h0M646.93 438.09h0M644.02 446.91h0M641.11 440.95h0M644.15 444.06h0M645.22 440.54h0M647.76 443.58h0M647.32 438.39h0M640.05 446.54h0M642.83 435.39h0M642.25 441.91h0M653.9 444.78h0M637.15 440.51h0M650.05 447.28h0" stroke="#4fa898" stroke-width="1.1" stroke-linecap="round" fill="none" opacity="0.5"/>
<path d="M645.79 434.25h0M653.83 437.89h0M647.94 445.33h0M641.91 442.67h0M640.39 441.09h0M648.23 443.98h0M649.99 442.55h0M638.92 445.43h0M653.15 444.86h0M647.28 433.4h0M642.37 442.39h0M647.6 446.33h0M639.19 433.96h0M646.84 450.25h0M652.22 436.69h0M643.42 449.17h0M646.5 432.74h0M648.44 432.35h0M646.42 435.13h0M644.98 444.67h0M639.27 447.58h0M651.62 447.95h0M646.17 438.07h0M647.93 434.14h0M645.25 448.14h0M640.26 438.65h0M642.67 441.57h0M640.95 448.64h0M641.89 432.69h0M638.76 444.2h0M640.58 449.37h0M645.46 433.67h0M643.79 449.26h0M649.79 436.69h0M650.29 443.64h0M644.55 442.56h0M648.55 445.53h0M641.88 432.38h0M651.93 440h0M651.28 437.42h0M645.53 449h0M637.79 446.65h0M644.58 442.7h0M651.12 446.19h0M639.55 438.23h0M648.99 434.04h0M644.15 436.32h0M640.76 434.52h0M646.8 442.29h0M637.98 443.73h0M645.38 446.55h0" stroke="#10283c" stroke-width="1.1" stroke-linecap="round" fill="none" opacity="0.35"/>
<radialGradient id="g4_6520_4270" cx="0.42" cy="0.4" r="0.68"><stop offset="0" stop-color="#6484bc"/><stop offset="0.7" stop-color="#44608e"/><stop offset="1" stop-color="#44608e" stop-opacity="0.3"/></radialGradient>
<g opacity="0.85" filter="url(#mottle)">
<ellipse cx="652" cy="427" rx="8" ry="7.4" fill="url(#g4_6520_4270)"/>
<ellipse cx="656.63" cy="428.25" rx="3.33" ry="3.08" fill="#44608e" opacity="0.8"/>
<ellipse cx="648.29" cy="430.97" rx="2.48" ry="2.3" fill="#44608e" opacity="0.8"/>
<ellipse cx="646.77" cy="427.59" rx="2.89" ry="2.67" fill="#44608e" opacity="0.8"/>
<ellipse cx="649.75" cy="422.2" rx="2.5" ry="2.31" fill="#44608e" opacity="0.8"/>
<ellipse cx="656.27" cy="425.31" rx="3.52" ry="3.25" fill="#44608e" opacity="0.8"/>
</g>
<path d="M650.57 426.37h0M655.11 429.08h0M655.38 428.23h0M646.61 422.92h0M654.52 428.07h0M646.33 429.33h0M654.9 430.45h0M657.66 431.04h0M647.08 428.22h0M653.91 429.66h0M649.02 426.1h0M652.57 428.02h0M655.34 431.02h0M649.25 429.45h0M650.58 428.38h0M650.93 432.74h0M645.7 425.53h0M654.36 433.2h0M654.7 426.48h0M649.05 432.63h0M652.96 431.91h0M651.47 425.32h0M645.24 427.41h0M646.53 423.27h0M654.42 422.98h0M657 430.74h0" stroke="#6484bc" stroke-width="1.1" stroke-linecap="round" fill="none" opacity="0.55"/>
<path d="M657.32 424.05h0M653.44 421.48h0M648.86 428.95h0M655.13 431.2h0M651.9 420.74h0M647.6 422.79h0M650.02 429.07h0M647.64 428.22h0M650.04 431.86h0M648.89 426.73h0M657.22 423.9h0M650.98 425.86h0M646.18 423.23h0M657.43 431.23h0M655.9 430.03h0M655.16 432.54h0M646.79 431h0M650.09 427.65h0M649.48 426.26h0M649.76 430.09h0M654.69 429.87h0M653.09 423.25h0M658.91 425.75h0M657.78 428.05h0M652.07 423.91h0M652.85 430h0" stroke="#44608e" stroke-width="1.1" stroke-linecap="round" fill="none" opacity="0.5"/>
<path d="M652.55 424.96h0M647.25 424.04h0M657.89 427.66h0M650.64 422.8h0M646.84 429.88h0M648.67 430.29h0M658.43 426.79h0M646.97 428.03h0M656.44 427.16h0M653.14 429.53h0M645.71 429.16h0M654.87 425.1h0M652.72 427.67h0M645.39 427.6h0M658.14 425.48h0M657.95 426.43h0M648.91 428.9h0M645.11 425.75h0M650.73 429.52h0M657.75 426.22h0M651.51 421.92h0M652.51 426.82h0M645.45 428.6h0M647.86 425.31h0M654.63 424.43h0M654.32 421.66h0" stroke="#10283c" stroke-width="1.1" stroke-linecap="round" fill="none" opacity="0.35"/>
<radialGradient id="g4_6445_4667" cx="0.42" cy="0.4" r="0.68"><stop offset="0" stop-color="#78aece"/><stop offset="0.7" stop-color="#4a82a6"/><stop offset="1" stop-color="#4a82a6" stop-opacity="0.3"/></radialGradient>
<g opacity="0.92" filter="url(#mottle)">
<ellipse cx="644.5" cy="466.7" rx="9" ry="9.2" fill="url(#g4_6445_4667)"/>
<ellipse cx="648.27" cy="470.16" rx="4.12" ry="4.21" fill="#4a82a6" opacity="0.8"/>
<ellipse cx="646.91" cy="472.34" rx="3.16" ry="3.23" fill="#4a82a6" opacity="0.8"/>
<ellipse cx="640.96" cy="469.95" rx="4.42" ry="4.52" fill="#4a82a6" opacity="0.8"/>
<ellipse cx="640.88" cy="462.79" rx="3.91" ry="4" fill="#4a82a6" opacity="0.8"/>
<ellipse cx="641.87" cy="461.43" rx="3.4" ry="3.47" fill="#4a82a6" opacity="0.8"/>
<ellipse cx="648.24" cy="462.89" rx="3.9" ry="3.98" fill="#4a82a6" opacity="0.8"/>
</g>
<path d="M647.85 463.67h0M640.27 466.37h0M650.63 467.57h0M651.8 469.92h0M641.05 472.71h0M639.27 462.15h0M643.41 467.38h0M644.33 472.95h0M642.09 463.12h0M644.16 460.42h0M642.24 459.17h0M636.79 468.65h0M648.79 467.85h0M650.45 469.66h0M649.53 468.58h0M651.91 467.7h0M639.1 462.09h0M641.58 468.26h0M644.47 473.33h0M647.04 461.04h0M641.66 471.04h0M646.81 459.13h0M643.08 464.67h0M640.65 471.14h0M641.97 471.54h0M643.55 468.22h0M639.94 473.09h0M650.57 470.4h0M646.78 472.99h0M648.65 470.26h0M640.53 471.79h0M649.94 470.46h0M642.83 462.97h0M652.02 468.84h0M639.94 467.5h0M645.05 463.01h0M651.23 465.17h0" stroke="#78aece" stroke-width="1.1" stroke-linecap="round" fill="none" opacity="0.55"/>
<path d="M644.86 466.8h0M642.2 468.13h0M637.46 468.93h0M638.75 468.79h0M649.62 466.71h0M648.63 461.52h0M648.31 469.57h0M643.02 468.91h0M638.33 462.37h0M647.14 459.17h0M651.23 468.09h0M640.62 464.49h0M645.82 466.92h0M646.15 472.44h0M643.51 469.17h0M646.48 460.19h0M644.48 467.1h0M639.35 462.34h0M645.78 459.42h0M638.26 471.48h0M648.43 472.01h0M648.43 473.45h0M649.03 473.09h0M645.09 463.77h0M641.64 460.02h0M643.74 460.41h0M651.8 468.25h0M644.39 470.36h0M643.31 461.88h0M646.7 468.58h0M647.28 465.11h0M646.3 473.49h0M643.23 465.01h0M640.85 462.24h0M638.7 469.68h0M645.5 470.59h0M639.13 464.6h0" stroke="#4a82a6" stroke-width="1.1" stroke-linecap="round" fill="none" opacity="0.5"/>
<path d="M643.04 464.88h0M647.27 473.58h0M640.5 462.66h0M649.01 463.42h0M644.02 471.95h0M647.3 471.58h0M644.91 463.87h0M641.85 471.39h0M643.9 470.41h0M642.11 463.64h0M651.47 470.46h0M642.75 459.05h0M648.68 468.04h0M637.88 464.03h0M651.57 468.48h0M637.06 463.62h0M643.44 466.72h0M639.98 472.28h0M639.15 469.25h0M639.03 464.67h0M647.47 468.75h0M648.53 461.6h0M642.6 468.65h0M645.65 464.46h0M647.2 472.83h0M642.67 470.59h0M643.3 471h0M651.73 465.63h0M649.76 466.63h0M649.46 468.79h0M639.77 470.65h0M638.93 461.56h0M642.6 467.12h0M638.54 462.07h0M648.02 471.56h0M644.29 463.4h0M639.15 468.24h0" stroke="#10283c" stroke-width="1.1" stroke-linecap="round" fill="none" opacity="0.35"/>
<radialGradient id="g4_5472_4612" cx="0.42" cy="0.4" r="0.68"><stop offset="0" stop-color="#a4ec8c"/><stop offset="0.7" stop-color="#64bc54"/><stop offset="1" stop-color="#64bc54" stop-opacity="0.3"/></radialGradient>
<g opacity="0.95" filter="url(#mottle)">
<ellipse cx="547.2" cy="461.2" rx="3" ry="3" fill="url(#g4_5472_4612)"/>
<ellipse cx="549.05" cy="462.16" rx="0.98" ry="0.98" fill="#64bc54" opacity="0.8"/>
<ellipse cx="546.66" cy="462.96" rx="1.22" ry="1.22" fill="#64bc54" opacity="0.8"/>
<ellipse cx="545.14" cy="460.76" rx="0.95" ry="0.95" fill="#64bc54" opacity="0.8"/>
<ellipse cx="548.91" cy="460.88" rx="1.32" ry="1.32" fill="#64bc54" opacity="0.8"/>
</g>
<path d="M547.88 463.59h0M548.26 458.87h0M548.82 460.15h0M547.51 463.07h0" stroke="#a4ec8c" stroke-width="1.1" stroke-linecap="round" fill="none" opacity="0.55"/>
<path d="M545.59 462.55h0M545.96 463.1h0M546.24 460.54h0M547.35 462.06h0" stroke="#64bc54" stroke-width="1.1" stroke-linecap="round" fill="none" opacity="0.5"/>
<path d="M549.11 462.11h0M548.03 460.94h0M545.14 461.41h0M547.03 463.83h0" stroke="#10283c" stroke-width="1.1" stroke-linecap="round" fill="none" opacity="0.35"/>
<radialGradient id="g4_5517_4672" cx="0.42" cy="0.4" r="0.68"><stop offset="0" stop-color="#a4ec8c"/><stop offset="0.7" stop-color="#64bc54"/><stop offset="1" stop-color="#64bc54" stop-opacity="0.3"/></radialGradient>
<g opacity="0.95" filter="url(#mottle)">
<ellipse cx="551.7" cy="467.2" rx="3.4" ry="3.2" fill="url(#g4_5517_4672)"/>
<ellipse cx="553.54" cy="467.4" rx="1.61" ry="1.52" fill="#64bc54" opacity="0.8"/>
<ellipse cx="550.23" cy="468.15" rx="1.68" ry="1.58" fill="#64bc54" opacity="0.8"/>
<ellipse cx="550.17" cy="466.22" rx="1.62" ry="1.52" fill="#64bc54" opacity="0.8"/>
<ellipse cx="552.16" cy="465.23" rx="1.33" ry="1.25" fill="#64bc54" opacity="0.8"/>
</g>
<path d="M552.79 465.83h0M549.55 467.96h0M549.78 465.24h0M549.75 467.37h0" stroke="#a4ec8c" stroke-width="1.1" stroke-linecap="round" fill="none" opacity="0.55"/>
<path d="M551.51 467.69h0M552.15 466.66h0M551.18 466.96h0M551.33 465.64h0" stroke="#64bc54" stroke-width="1.1" stroke-linecap="round" fill="none" opacity="0.5"/>
<path d="M551.8 468.75h0M549.52 468.91h0M552.64 466.23h0M551.53 469.81h0" stroke="#10283c" stroke-width="1.1" stroke-linecap="round" fill="none" opacity="0.35"/>
<radialGradient id="g4_5621_4672" cx="0.42" cy="0.4" r="0.68"><stop offset="0" stop-color="#8cd8a4"/><stop offset="0.7" stop-color="#54a474"/><stop offset="1" stop-color="#54a474" stop-opacity="0.3"/></radialGradient>
<g opacity="0.95" filter="url(#mottle)">
<ellipse cx="562.1" cy="467.2" rx="3.4" ry="3.2" fill="url(#g4_5621_4672)"/>
<ellipse cx="563.61" cy="468.95" rx="1.07" ry="1.01" fill="#54a474" opacity="0.8"/>
<ellipse cx="560.6" cy="469.01" rx="1.03" ry="0.97" fill="#54a474" opacity="0.8"/>
<ellipse cx="559.94" cy="466.39" rx="1.14" ry="1.08" fill="#54a474" opacity="0.8"/>
<ellipse cx="562.84" cy="465.07" rx="1.09" ry="1.03" fill="#54a474" opacity="0.8"/>
</g>
<path d="M561.02 467.9h0M564.11 466.26h0M562.13 466.11h0M563.28 468.76h0" stroke="#8cd8a4" stroke-width="1.1" stroke-linecap="round" fill="none" opacity="0.55"/>
<path d="M560.17 465.83h0M562.9 467.28h0M559.81 467.58h0M559.46 466.93h0" stroke="#54a474" stroke-width="1.1" stroke-linecap="round" fill="none" opacity="0.5"/>
<path d="M561.26 467.7h0M562.7 465.18h0M563.94 468.32h0M561.03 466.91h0" stroke="#10283c" stroke-width="1.1" stroke-linecap="round" fill="none" opacity="0.35"/>
<radialGradient id="g4_5696_4672" cx="0.42" cy="0.4" r="0.68"><stop offset="0" stop-color="#a4ec8c"/><stop offset="0.7" stop-color="#64bc54"/><stop offset="1" stop-color="#64bc54" stop-opacity="0.3"/></radialGradient>
<g opacity="0.95" filter="url(#mottle)">
<ellipse cx="569.6" cy="467.2" rx="3.4" ry="3.4" fill="url(#g4_5696_4672)"/>
<ellipse cx="571.21" cy="468.1" rx="1.63" ry="1.63" fill="#64bc54" opacity="0.8"/>
<ellipse cx="568.12" cy="468.38" rx="1.58" ry="1.58" fill="#64bc54" opacity="0.8"/>
<ellipse cx="568.39" cy="465.61" rx="1.47" ry="1.47" fill="#64bc54" opacity="0.8"/>
<ellipse cx="571.39" cy="466.46" rx="1.54" ry="1.54" fill="#64bc54" opacity="0.8"/>
</g>
<path d="M567.32 466.95h0M568.65 466.69h0M569.54 467.95h0M570.93 469h0M570.55 468.48h0" stroke="#a4ec8c" stroke-width="1.1" stroke-linecap="round" fill="none" opacity="0.55"/>
<path d="M568.88 467.9h0M568.43 464.46h0M568.16 468.17h0M571 468.35h0M571.82 465.42h0" stroke="#64bc54" stroke-width="1.1" stroke-linecap="round" fill="none" opacity="0.5"/>
<path d="M570.82 464.88h0M571.57 467.39h0M568.75 468.57h0M571.54 465.52h0M569.71 466.07h0" stroke="#10283c" stroke-width="1.1" stroke-linecap="round" fill="none" opacity="0.35"/>
<radialGradient id="g4_6209_4406" cx="0.42" cy="0.4" r="0.68"><stop offset="0" stop-color="#8ce08c"/><stop offset="0.7" stop-color="#54ac54"/><stop offset="1" stop-color="#54ac54" stop-opacity="0.3"/></radialGradient>
<g opacity="0.95" filter="url(#mottle)">
<ellipse cx="620.9" cy="440.6" rx="2.8" ry="2.4" fill="url(#g4_6209_4406)"/>
<ellipse cx="621.72" cy="441.72" rx="1.31" ry="1.13" fill="#54ac54" opacity="0.8"/>
<ellipse cx="619.28" cy="441.01" rx="1.16" ry="1" fill="#54ac54" opacity="0.8"/>
<ellipse cx="620.15" cy="439.32" rx="1.18" ry="1.02" fill="#54ac54" opacity="0.8"/>
</g>
<path d="M619.11 441.21h0M619.89 439.16h0M618.85 441.27h0" stroke="#8ce08c" stroke-width="1.1" stroke-linecap="round" fill="none" opacity="0.55"/>
<path d="M621.39 440.66h0M621.42 441.35h0M619.57 441.41h0" stroke="#54ac54" stroke-width="1.1" stroke-linecap="round" fill="none" opacity="0.5"/>
<path d="M622.01 442.43h0M620.23 439.92h0M622.34 439.51h0" stroke="#10283c" stroke-width="1.1" stroke-linecap="round" fill="none" opacity="0.35"/>
<radialGradient id="g4_6217_4823" cx="0.42" cy="0.4" r="0.68"><stop offset="0" stop-color="#8ce07c"/><stop offset="0.7" stop-color="#54ac44"/><stop offset="1" stop-color="#54ac44" stop-opacity="0.3"/></radialGradient>
<g opacity="0.95" filter="url(#mottle)">
<ellipse cx="621.7" cy="482.3" rx="1.8" ry="1.8" fill="url(#g4_6217_4823)"/>
<ellipse cx="621.6" cy="483.51" rx="0.63" ry="0.63" fill="#54ac44" opacity="0.8"/>
<ellipse cx="620.55" cy="482.04" rx="0.66" ry="0.66" fill="#54ac44" opacity="0.8"/>
<ellipse cx="622.42" cy="481.66" rx="0.88" ry="0.88" fill="#54ac44" opacity="0.8"/>
</g>
<path d="M622.9 482.1h0" stroke="#8ce07c" stroke-width="1.1" stroke-linecap="round" fill="none" opacity="0.55"/>
<path d="M622.75 483.27h0" stroke="#54ac44" stroke-width="1.1" stroke-linecap="round" fill="none" opacity="0.5"/>
<path d="M622.65 481.87h0" stroke="#10283c" stroke-width="1.1" stroke-linecap="round" fill="none" opacity="0.35"/>
<radialGradient id="g4_6410_4947" cx="0.42" cy="0.4" r="0.68"><stop offset="0" stop-color="#8ce07c"/><stop offset="0.7" stop-color="#54ac44"/><stop offset="1" stop-color="#54ac44" stop-opacity="0.3"/></radialGradient>
<g opacity="0.95" filter="url(#mottle)">
<ellipse cx="641" cy="494.7" rx="2.2" ry="2.2" fill="url(#g4_6410_4947)"/>
<ellipse cx="642.13" cy="495.5" rx="0.86" ry="0.86" fill="#54ac44" opacity="0.8"/>
<ellipse cx="639.86" cy="495.58" rx="0.81" ry="0.81" fill="#54ac44" opacity="0.8"/>
<ellipse cx="641.16" cy="493.36" rx="0.9" ry="0.9" fill="#54ac44" opacity="0.8"/>
</g>
<path d="M639.49 494.58h0M639.21 494.44h0" stroke="#8ce07c" stroke-width="1.1" stroke-linecap="round" fill="none" opacity="0.55"/>
<path d="M642.84 495.15h0M642.69 495.26h0" stroke="#54ac44" stroke-width="1.1" stroke-linecap="round" fill="none" opacity="0.5"/>
<path d="M639.97 493.28h0M640.19 494.35h0" stroke="#10283c" stroke-width="1.1" stroke-linecap="round" fill="none" opacity="0.35"/>
<radialGradient id="g4_5844_5101" cx="0.42" cy="0.4" r="0.68"><stop offset="0" stop-color="#98f080"/><stop offset="0.7" stop-color="#5cc45c"/><stop offset="1" stop-color="#5cc45c" stop-opacity="0.3"/></radialGradient>
<g opacity="0.97" filter="url(#mottle)">
<ellipse cx="584.4" cy="510.1" rx="8" ry="7" fill="url(#g4_5844_5101)"/>
<ellipse cx="588.33" cy="511.92" rx="3.71" ry="3.25" fill="#5cc45c" opacity="0.8"/>
<ellipse cx="583.64" cy="514.92" rx="2.6" ry="2.27" fill="#5cc45c" opacity="0.8"/>
<ellipse cx="579.66" cy="511.03" rx="3.3" ry="2.89" fill="#5cc45c" opacity="0.8"/>
<ellipse cx="580.24" cy="507.07" rx="2.75" ry="2.41" fill="#5cc45c" opacity="0.8"/>
<ellipse cx="588.46" cy="506.67" rx="2.52" ry="2.2" fill="#5cc45c" opacity="0.8"/>
</g>
<path d="M584.01 511.06h0M586.92 515.13h0M589.42 511.37h0M584.77 515.15h0M585.28 515.04h0M585.07 505.78h0M584.35 511.45h0M583.81 505.02h0M584.4 511.83h0M591.02 511.41h0M583.08 506.39h0M581.33 506.68h0M587.96 507.93h0M586.87 512.48h0M584.36 509.52h0M579.97 507.11h0M582.76 514.69h0M584.17 509.76h0M584.23 512.52h0M581.12 513.97h0M584.76 515.97h0M584.86 512.59h0M589.71 508.66h0M589.62 506.63h0M580.55 513.7h0" stroke="#98f080" stroke-width="1.1" stroke-linecap="round" fill="none" opacity="0.55"/>
<path d="M589.71 507.69h0M586.31 511.66h0M581.19 507.8h0M582.43 509.08h0M586.02 511.42h0M578.44 506.93h0M583.94 504.37h0M578.72 510.19h0M582.52 510.04h0M585.4 515.25h0M590.62 508.52h0M583.94 514.99h0M587.81 512.22h0M590.72 512.33h0M586.87 513.08h0M588.54 509.05h0M586.89 513.93h0M581.64 510.7h0M584.29 507.61h0M588.62 511.41h0M582.9 515.88h0M578.69 513.38h0M580.14 512.64h0M586.19 506.14h0M583.41 515.92h0" stroke="#5cc45c" stroke-width="1.1" stroke-linecap="round" fill="none" opacity="0.5"/>
<path d="M588.1 505.91h0M589.03 509.14h0M584.82 508.69h0M589.54 512.49h0M584.24 508.48h0M581.59 509.78h0M587.79 513.74h0M578.95 506.74h0M588.09 514.3h0M583.8 515.76h0M579.78 510.89h0M590.14 513.87h0M579.35 510.94h0M582.51 514.12h0M586.17 514.08h0M583.18 513.26h0M584.18 509.31h0M583.34 509.61h0M579.89 509.08h0M589.02 506.6h0M581.8 510.6h0M580.65 509.59h0M577.46 511.06h0M579.68 508.77h0M588.13 511.13h0" stroke="#10283c" stroke-width="1.1" stroke-linecap="round" fill="none" opacity="0.35"/>
<radialGradient id="g4_5423_5110" cx="0.42" cy="0.4" r="0.68"><stop offset="0" stop-color="#5a84b4"/><stop offset="0.7" stop-color="#3a5c88"/><stop offset="1" stop-color="#3a5c88" stop-opacity="0.3"/></radialGradient>
<g opacity="0.8" filter="url(#mottle)">
<ellipse cx="542.3" cy="511" rx="8.5" ry="7" fill="url(#g4_5423_5110)"/>
<ellipse cx="547.98" cy="511.64" rx="2.93" ry="2.42" fill="#3a5c88" opacity="0.8"/>
<ellipse cx="540.42" cy="515.05" rx="3.41" ry="2.81" fill="#3a5c88" opacity="0.8"/>
<ellipse cx="536.44" cy="511.04" rx="2.8" ry="2.31" fill="#3a5c88" opacity="0.8"/>
<ellipse cx="538.95" cy="508.27" rx="3.96" ry="3.26" fill="#3a5c88" opacity="0.8"/>
<ellipse cx="546.26" cy="507.16" rx="2.56" ry="2.11" fill="#3a5c88" opacity="0.8"/>
</g>
<path d="M537.89 512.17h0M541.79 516.07h0M542.41 505.44h0M545.47 506.48h0M543.13 505.35h0M546.74 511.1h0M538.7 505.8h0M540.39 506.94h0M548.36 513.47h0M541.23 515.26h0M538.16 515.5h0M536.92 507.05h0M543.52 505.54h0M536.94 510h0M543.57 513.02h0M545.67 510.37h0M537.91 516.03h0M547.51 511.13h0M549.45 509.65h0M545.49 511.88h0M546.69 507.81h0M547.29 512.41h0M547.43 513.59h0M543.65 516.85h0M547.18 506.76h0M536.27 511.86h0M540.26 512.66h0" stroke="#5a84b4" stroke-width="1.1" stroke-linecap="round" fill="none" opacity="0.55"/>
<path d="M547.17 507.19h0M544.44 507h0M543.14 509.11h0M538.83 509.53h0M536.83 515.24h0M538.57 512.48h0M548.43 513.26h0M535.92 513.16h0M543.39 509.07h0M543.88 509.55h0M541.73 516.13h0M547.57 512.01h0M546.27 510.27h0M549.08 511.66h0M542.96 508.46h0M545.47 514.29h0M537.64 509.35h0M543.13 512.05h0M547.67 512.98h0M542.82 510.46h0M537.57 513.15h0M539.02 510.42h0M539.66 508.96h0M543.45 512.22h0M541.95 514.07h0M534.87 511.97h0M541.23 507.57h0" stroke="#3a5c88" stroke-width="1.1" stroke-linecap="round" fill="none" opacity="0.5"/>
<path d="M536.96 509.39h0M547.65 506.73h0M543.56 511.64h0M547.92 508.26h0M542.86 514.35h0M535.54 510.99h0M537.92 515.24h0M540.25 508.81h0M537.74 512.8h0M540.12 510.26h0M541.66 511.86h0M546.32 511.51h0M535.8 510.64h0M545.34 513.54h0M536.71 514.51h0M539.48 505.88h0M538.62 511.73h0M544.68 513.86h0M548.81 513.5h0M539.93 510.94h0M543.29 514.85h0M541.36 512.15h0M547.1 510.16h0M548.13 509.51h0M544.19 505.48h0M537.43 511.71h0M543.51 513.06h0" stroke="#10283c" stroke-width="1.1" stroke-linecap="round" fill="none" opacity="0.35"/>
<radialGradient id="g4_5534_3967" cx="0.42" cy="0.4" r="0.68"><stop offset="0" stop-color="#74c4a0"/><stop offset="0.7" stop-color="#4a9474"/><stop offset="1" stop-color="#4a9474" stop-opacity="0.3"/></radialGradient>
<g opacity="0.9" filter="url(#mottle)">
<ellipse cx="553.4" cy="396.7" rx="3" ry="2.4" fill="url(#g4_5534_3967)"/>
<ellipse cx="554.7" cy="397.92" rx="1.06" ry="0.85" fill="#4a9474" opacity="0.8"/>
<ellipse cx="552.54" cy="398.12" rx="1.09" ry="0.87" fill="#4a9474" opacity="0.8"/>
<ellipse cx="552.82" cy="395.49" rx="1.44" ry="1.15" fill="#4a9474" opacity="0.8"/>
<ellipse cx="554.3" cy="395.4" rx="1.2" ry="0.96" fill="#4a9474" opacity="0.8"/>
</g>
<path d="M553.65 398.49h0M553 396.43h0M554.66 395.84h0" stroke="#74c4a0" stroke-width="1.1" stroke-linecap="round" fill="none" opacity="0.55"/>
<path d="M553.96 397.71h0M555.11 395.67h0M552.94 398.29h0" stroke="#4a9474" stroke-width="1.1" stroke-linecap="round" fill="none" opacity="0.5"/>
<path d="M553.97 395.32h0M552.94 395.88h0M555.86 396.11h0" stroke="#10283c" stroke-width="1.1" stroke-linecap="round" fill="none" opacity="0.35"/>
<radialGradient id="g4_6360_4865" cx="0.42" cy="0.4" r="0.68"><stop offset="0" stop-color="#60b060"/><stop offset="0.7" stop-color="#408040"/><stop offset="1" stop-color="#408040" stop-opacity="0.3"/></radialGradient>
<g opacity="0.8" filter="url(#mottle)">
<ellipse cx="636" cy="486.5" rx="1.6" ry="1.6" fill="url(#g4_6360_4865)"/>
<ellipse cx="637.05" cy="486.63" rx="0.57" ry="0.57" fill="#408040" opacity="0.8"/>
<ellipse cx="635.13" cy="485.9" rx="0.58" ry="0.58" fill="#408040" opacity="0.8"/>
<ellipse cx="636.98" cy="486.14" rx="0.59" ry="0.59" fill="#408040" opacity="0.8"/>
</g>
<path d="M637.03 487.35h0" stroke="#60b060" stroke-width="1.1" stroke-linecap="round" fill="none" opacity="0.55"/>
<path d="M635.27 487.68h0" stroke="#408040" stroke-width="1.1" stroke-linecap="round" fill="none" opacity="0.5"/>
<path d="M635.83 485.31h0" stroke="#10283c" stroke-width="1.1" stroke-linecap="round" fill="none" opacity="0.35"/>
<circle cx="607.3" cy="418.3" r="1.4" fill="#e24a30"/>
<rect x="618" y="507.8" width="36.8" height="6.6" fill="#000"/>
<rect x="527.8" y="390.4" width="130.79999999999998" height="126.2" fill="none" stroke="#000" stroke-width="0.9"/>
</g>
<line x1="619.2" y1="509.6" x2="653.4" y2="509.6" stroke="#fff" stroke-width="1" />
<text x="636.3" y="512.8" font-size="2.2" font-weight="normal" text-anchor="middle" font-family='"Liberation Sans", Arial, sans-serif' fill="#ddd" >100 µm</text>
</svg></body></html>
